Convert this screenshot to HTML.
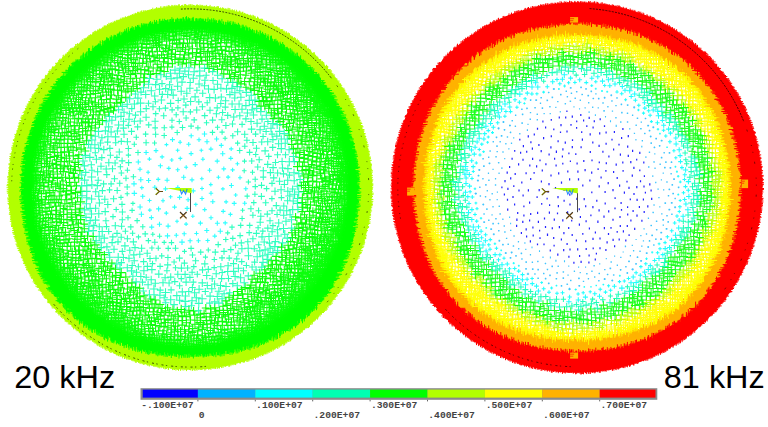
<!DOCTYPE html>
<html><head><meta charset="utf-8"><title>Stress vector plots 20 kHz / 81 kHz</title>
<style>
html,body{margin:0;padding:0;background:#fff}
body{width:768px;height:427px;overflow:hidden;font-family:"Liberation Sans",sans-serif}
svg{display:block}
.t{font-family:"Liberation Sans",sans-serif;font-size:31px;fill:#000}
.m{font-family:"Liberation Mono",monospace;font-size:9.7px;font-weight:bold;fill:#444}
</style></head><body>
<svg width="768" height="427" viewBox="0 0 768 427">
<rect width="768" height="427" fill="#fff"/>
<circle cx="190.2" cy="187.5" r="182.0" fill="#b2ff00"/>
<path d="M359.5 187.5L359.3 178.6L358.6 169.8L357.5 161.0L356.0 152.3L354.0 143.6L351.6 135.1L348.8 126.6L345.5 118.4L341.7 110.3L337.6 102.4L333.0 94.7L328.0 87.3L322.7 80.2L316.9 73.4L310.8 66.9L304.3 60.8L297.5 55.0L290.4 49.7L283.0 44.7L275.3 40.1L267.4 36.0L259.3 32.2L251.1 28.9L242.6 26.1L234.1 23.7L225.4 21.7L216.7 20.2L207.9 19.1L199.1 18.4L190.2 18.2L181.3 18.4L172.5 19.1L163.7 20.2L155.0 21.7L146.3 23.7L137.8 26.1L129.3 28.9L121.1 32.2L113.0 36.0L105.1 40.1L97.4 44.7L90.0 49.7L82.9 55.0L76.1 60.8L69.6 66.9L63.5 73.4L57.7 80.2L52.4 87.3L47.4 94.7L42.8 102.4L38.7 110.3L34.9 118.4L31.6 126.6L28.8 135.1L26.4 143.6L24.4 152.3L22.9 161.0L21.8 169.8L21.1 178.6L20.9 187.5L21.1 196.4L21.6 205.2L22.5 214.1L23.8 222.9L25.5 231.6L27.5 240.4L30.1 249.0L33.0 257.5L36.4 265.8L40.3 274.0L44.7 282.0L49.6 289.7L54.9 297.1L60.7 304.1L67.0 310.7L73.6 317.0L80.6 322.8L88.0 328.1L95.7 333.0L103.7 337.4L111.9 341.3L120.2 344.7L128.7 347.6L137.3 350.2L146.1 352.2L154.8 353.9L163.6 355.2L172.5 356.1L181.3 356.6L190.2 356.8L199.1 356.6L207.9 356.1L216.8 355.2L225.6 353.9L234.3 352.2L243.1 350.2L251.7 347.6L260.2 344.7L268.5 341.3L276.7 337.4L284.7 333.0L292.4 328.1L299.8 322.8L306.8 317.0L313.4 310.7L319.7 304.1L325.5 297.1L330.8 289.7L335.7 282.0L340.1 274.0L344.0 265.8L347.4 257.5L350.3 249.0L352.9 240.4L354.9 231.6L356.6 222.9L357.9 214.1L358.8 205.2L359.3 196.4Z" fill="#00ff00"/>
<path d="M350.2 187.5L350.0 179.1L349.3 170.8L348.2 162.5L346.7 154.2L344.7 146.1L342.4 138.1L339.6 130.2L336.4 122.4L332.8 114.9L328.8 107.5L324.4 100.4L319.6 93.5L314.5 86.8L309.1 80.4L303.3 74.4L297.3 68.6L290.9 63.2L284.2 58.1L277.3 53.3L270.2 48.9L262.8 44.9L255.3 41.3L247.5 38.1L239.6 35.3L231.6 33.0L223.5 31.0L215.2 29.5L206.9 28.4L198.6 27.7L190.2 27.5L181.8 27.7L173.5 28.4L165.2 29.5L156.9 31.0L148.8 33.0L140.8 35.3L132.9 38.1L125.1 41.3L117.6 44.9L110.2 48.9L103.1 53.3L96.2 58.1L89.5 63.2L83.1 68.6L77.1 74.4L71.3 80.4L65.9 86.8L60.8 93.5L56.0 100.4L51.6 107.5L47.6 114.9L44.0 122.4L40.8 130.2L38.0 138.1L35.7 146.1L33.7 154.2L32.2 162.5L31.1 170.8L30.4 179.1L30.2 187.5L30.4 195.9L31.1 204.2L32.2 212.5L33.7 220.8L35.7 228.9L38.0 236.9L40.8 244.8L44.0 252.6L47.6 260.1L51.6 267.5L56.0 274.6L60.8 281.5L65.9 288.2L71.3 294.6L77.1 300.6L83.1 306.4L89.5 311.8L96.2 316.9L103.1 321.7L110.2 326.1L117.6 330.1L125.1 333.7L132.9 336.9L140.8 339.7L148.8 342.0L156.9 344.0L165.2 345.5L173.5 346.6L181.8 347.3L190.2 347.5L198.6 347.3L206.9 346.6L215.2 345.5L223.5 344.0L231.6 342.0L239.6 339.7L247.5 336.9L255.3 333.7L262.8 330.1L270.2 326.1L277.3 321.7L284.2 316.9L290.9 311.8L297.3 306.4L303.3 300.6L309.1 294.6L314.5 288.2L319.6 281.5L324.4 274.6L328.8 267.5L332.8 260.1L336.4 252.6L339.6 244.8L342.4 236.9L344.7 228.9L346.7 220.8L348.2 212.5L349.3 204.2L350.0 195.9Z" fill="#fff"/>
<radialGradient id="g11" gradientUnits="userSpaceOnUse" cx="190.2" cy="187.5" r="160.0"><stop offset="0.9250" stop-color="#00ff00" stop-opacity="0"/><stop offset="0.9700" stop-color="#00ff00" stop-opacity=".45"/><stop offset="1" stop-color="#00ff00" stop-opacity="1"/></radialGradient>
<circle cx="190.2" cy="187.5" r="160.3" fill="url(#g11)"/>
<path d="M325 176.2h8.7M329.3 171.9v8.7M53.5 123h7.2M57.1 119.4v7.2M249 37.2h9.3M253.6 32.6v9.3M195.3 43h8.5M199.5 38.8v8.5M84.1 102.9h9M88.6 98.4v9M31.8 175.7h8.5M36.1 171.4v8.5M298 255.7h7.7M301.8 251.8v7.7M117.5 46.5h7.1M121 43v7.1M299.4 150.3h9M303.9 145.8v9M320.3 177.7h8.9M324.8 173.2v8.9M343.3 153.9h8.8M347.8 149.4v8.8M46.2 230h7.9M50.2 226v7.9M276.8 112h9.4M281.6 107.3v9.4M50.5 132.6h8.6M54.8 128.3v8.6M60.5 104.3h8.8M64.9 99.9v8.8M282.9 81.8h9.4M287.6 77.1v9.4M84 263.6h9.5M88.7 258.8v9.5M64.5 234.6h9.2M69.2 230v9.2M60.7 161.5h7.4M64.4 157.8v7.4M91.3 112h9.4M96 107.3v9.4M122 313.7h7.8M126 309.8v7.8M302.3 234h8.3M306.4 229.8v8.3M92 108.2h8.3M96.1 104.1v8.3M118.8 47.6h9.3M123.4 42.9v9.3M51 214.6h9.6M55.8 209.9v9.6M336.3 182.2h9M340.8 177.7v9M210.3 307.7h8.8M214.7 303.3v8.8M81.9 74.1h8.5M86.2 69.8v8.5M104.3 85.8h7.5M108 82v7.5M310.8 221.5h9.5M315.6 216.7v9.5M160.8 57.6h7.3M164.4 53.9v7.3M100.8 254.6h7.1M104.4 251v7.1M106.9 293.7h7.2M110.5 290.1v7.2M79.6 259.8h8.3M83.7 255.6v8.3M168.8 43.3h7.3M172.4 39.7v7.3M80 144.5h8.1M84 140.4v8.1M209.1 66.7h9.5M213.9 61.9v9.5M140.7 315.7h8.5M145 311.5v8.5M29.3 232.2h7.8M33.2 228.3v7.8M46.4 202.6h9M50.9 198.1v9M264.3 318.8h7.3M267.9 315.1v7.3M304.7 211.4h9.4M309.4 206.7v9.4M48.5 233.2h8.1M52.5 229.2v8.1M49.2 269.6h8.9M53.7 265.1v8.9M31.7 220.7h8.5M36 216.5v8.5M223.6 325.4h8.4M227.8 321.2v8.4M88.3 79.1h8.7M92.6 74.8v8.7M319.7 240h7.2M323.3 236.4v7.2M167.1 316h8M171.2 312v8M311.3 149.6h7.2M314.9 146v7.2M66.3 186.3h9.2M70.9 181.7v9.2M296.6 301.9h8.3M300.8 297.7v8.3M255.2 335.1h8.5M259.5 330.8v8.5M113.1 79h7.8M117 75.1v7.8M125.6 298.7h8.1M129.6 294.7v8.1M344.7 171.9h7.2M348.3 168.3v7.2M122.8 283.1h9.5M127.6 278.3v9.5M170.9 31.6h8.9M175.4 27.1v8.9M293.7 101.4h9.3M298.3 96.7v9.3M246.5 88.9h8.5M250.7 84.6v8.5M26.1 178.4h7.3M29.7 174.7v7.3M256.4 82.2h8M260.4 78.2v8M328.3 260.4h7.5M332.1 256.7v7.5M64.9 172.3h7.9M68.8 168.3v7.9M227.3 322h8.2M231.4 317.9v8.2M310.4 284.8h8.4M314.6 280.6v8.4M331.4 175.6h9.1M335.9 171v9.1M258.7 291.9h8.6M263 287.6v8.6M92.3 318.7h7.6M96.2 314.9v7.6M127.8 322h7M131.3 318.5v7M302.1 137.8h9.6M306.9 133v9.6M48.6 168.1h9.4M53.3 163.4v9.4M182.5 32.8h7.1M186.1 29.3v7.1M297.4 249.6h8.7M301.7 245.3v8.7M332.8 185.1h7.2M336.4 181.5v7.2M298.2 207.2h9.4M302.9 202.5v9.4M90.1 302.6h8.7M94.5 298.2v8.7M339.3 195.4h9.1M343.8 190.9v9.1M221 32.6h7.5M224.7 28.8v7.5M339.9 192.8h8.4M344.2 188.5v8.4M248.8 45.1h8.1M252.8 41.1v8.1M63.6 165.7h8.6M67.8 161.5v8.6M86.3 98h7.2M89.9 94.4v7.2M56.5 263.2h8.1M60.6 259.2v8.1M61.8 190.9h9.4M66.5 186.3v9.4M301.2 224.1h8.4M305.4 220v8.4M303.7 99.8h7M307.2 96.3v7M265.1 289.3h8.2M269.2 285.2v8.2M318.3 127.1h7.9M322.3 123.2v7.9M125.1 326.2h8.9M129.5 321.7v8.9M100.1 261.8h9.1M104.7 257.2v9.1M107.1 55.3h8.5M111.3 51.1v8.5M294.4 161.8h9.5M299.2 157v9.5M280.7 64.8h9.1M285.3 60.3v9.1M245.9 322.4h8.3M250 318.3v8.3M82.3 90.4h8.9M86.7 85.9v8.9M219.8 27.8h7.1M223.3 24.3v7.1M251.4 300.4h9.5M256.1 295.7v9.5M85.8 77.6h8.7M90.2 73.3v8.7M190.3 28.6h8.1M194.3 24.5v8.1M315.4 286.5h7.5M319.2 282.7v7.5M253.6 305.8h7.4M257.3 302.1v7.4M107.1 322.4h7.7M110.9 318.6v7.7M266.5 278.7h7.7M270.4 274.8v7.7M250.1 275.2h8.1M254.1 271.1v8.1M259.1 46.6h8.2M263.2 42.6v8.2M144.8 55.8h9.2M149.4 51.2v9.2M104.5 320.6h8.1M108.5 316.5v8.1M338.7 209.8h9.4M343.4 205.1v9.4M74.3 178.2h8.8M78.7 173.9v8.8M222.1 42.7h9.1M226.7 38.2v9.1M331.8 161.5h8.8M336.2 157.1v8.8M74 271h7.2M77.6 267.4v7.2M149.3 317.9h9.6M154.1 313.1v9.6M193.3 330.9h9.1M197.9 326.4v9.1M220.2 61.3h8M224.2 57.3v8M195.4 64.3h8M199.4 60.3v8M262.4 101.7h9.2M267 97.1v9.2M269.6 85.8h7.5M273.3 82v7.5M226.6 57.1h8.1M230.7 53.1v8.1M199.4 47.3h9M203.9 42.8v9M50.1 245.3h9M54.6 240.8v9M265.9 298.5h9.3M270.5 293.9v9.3M274.4 93.4h7.9M278.4 89.5v7.9M287.6 144.5h8.5M291.8 140.3v8.5M267.3 325.5h7.2M270.9 321.9v7.2M48.6 123.1h8.8M53 118.7v8.8M114.6 70.4h8.7M119 66v8.7M142.1 62h8.6M146.4 57.7v8.6M321.8 167.2h8.1M325.8 163.1v8.1M285.8 123.5h7.7M289.6 119.6v7.7M80.3 272.4h7.7M84.1 268.6v7.7M310.7 115.8h8.8M315.1 111.4v8.8M28.9 192.6h9.2M33.5 188v9.2M339.4 237.1h7.6M343.2 233.3v7.6M68.9 268.1h9M73.4 263.6v9M94.4 274.5h8.1M98.5 270.5v8.1M339.3 244h8.9M343.8 239.6v8.9M322.5 158.2h7.7M326.3 154.3v7.7M292.7 242.2h9M297.2 237.7v9M301.6 287.8h9.2M306.1 283.2v9.2M336.9 233.5h7M340.4 230v7M159.5 71.5h9.3M164.1 66.8v9.3M41.2 124.7h8.9M45.6 120.2v8.9M59.3 236h9.1M63.9 231.5v9.1M276.5 82.4h8.4M280.7 78.2v8.4M42.4 174h8.5M46.6 169.7v8.5M213.8 321.7h8M217.8 317.7v8M83 94.8h7.5M86.7 91v7.5M82.8 115.7h8.2M86.9 111.6v8.2M107.9 314.6h7.5M111.6 310.8v7.5M322.3 135.7h7.6M326.1 131.9v7.6M201.1 337.4h9.3M205.7 332.8v9.3M73.4 75h8.7M77.8 70.6v8.7M306.9 192.8h8.8M311.3 188.4v8.8M71.9 276.2h7.3M75.6 272.5v7.3M300 293.1h7.5M303.7 289.4v7.5M48.7 112h9.1M53.2 107.5v9.1M256.5 55.4h9.4M261.2 50.7v9.4M335.1 215.9h9M339.6 211.4v9M303.4 123.1h8M307.4 119.1v8M293.1 91.9h8.3M297.2 87.7v8.3M73.6 296.4h8.5M77.9 292.1v8.5M57 152.8h7.7M60.9 149v7.7M173.5 340.6h8.4M177.7 336.4v8.4M294.6 238h7.5M298.4 234.3v7.5M254.7 101.4h8.8M259.1 97v8.8M284.7 91.3h7.5M288.4 87.6v7.5M105.7 89.1h9.2M110.3 84.5v9.2M332.6 208.1h7.1M336.2 204.5v7.1M296.1 217.9h9.2M300.7 213.3v9.2M51.6 97.8h8.3M55.8 93.7v8.3M155.5 47.3h8.4M159.6 43.2v8.4M323.7 163.6h9M328.2 159.1v9M273 292.8h9.4M277.7 288.1v9.4M157.8 28.6h7.2M161.4 25v7.2M57.2 147.4h7.7M61.1 143.5v7.7M292.5 224.1h8.7M296.9 219.7v8.7M318 203.3h8.8M322.4 198.9v8.8M68.4 257.5h8.5M72.7 253.2v8.5M346.4 192.8h7M349.9 189.3v7M256.6 297.6h8.5M260.8 293.3v8.5M48.9 103.7h9.2M53.5 99.1v9.2M129.9 328.2h8.6M134.2 324v8.6M62.9 294h7M66.4 290.5v7M116.7 317.7h8.3M120.9 313.6v8.3M294 84.4h9.4M298.7 79.7v9.4M68.3 150.2h9.6M73.1 145.4v9.6M233.1 35.9h7.3M236.7 32.3v7.3M242.6 71h7.3M246.3 67.3v7.3M336.9 220.3h7.9M340.9 216.4v7.9M271 270.1h7.7M274.8 266.2v7.7M181.7 349.7h7.7M185.5 345.9v7.7M297.1 304h8.1M301.1 299.9v8.1M207.8 320.4h8.1M211.8 316.4v8.1M164.3 320.1h7.4M168 316.4v7.4M127.6 41.4h7.6M131.4 37.6v7.6M260.1 318.7h8.2M264.2 314.6v8.2M216.3 46.4h9.1M220.8 41.8v9.1M38.9 251.4h8.6M43.2 247.1v8.6M240.6 307.7h7.9M244.6 303.7v7.9M95.2 268.4h7.4M98.9 264.7v7.4M54.3 283.4h8.5M58.5 279.2v8.5M62.2 199.8h9.2M66.8 195.3v9.2M129.2 44h7.1M132.7 40.5v7.1M213.9 38.6h8.7M218.2 34.2v8.7M119.5 326.1h7.1M123.1 322.6v7.1M296.9 139.7h8.4M301 135.5v8.4M84.8 312.2h8.5M89 307.9v8.5M255.9 67.7h8.3M260.1 63.6v8.3M250.5 331.1h7.9M254.5 327.2v7.9M168.1 49.4h8.3M172.2 45.2v8.3M95.5 124.2h7.8M99.4 120.3v7.8M254.8 87.9h9M259.3 83.4v9M81.4 100.7h8.3M85.6 96.6v8.3M311.6 217h9.4M316.3 212.3v9.4M325.8 242.3h8.8M330.2 237.9v8.8M196.4 38.4h7.7M200.3 34.5v7.7M104.3 287h8.5M108.5 282.7v8.5M50.8 117h8.1M54.8 113v8.1M270 104.2h8M274.1 100.1v8M148.7 328.3h7.4M152.4 324.6v7.4M277.4 77.7h9M281.9 73.2v9M280.4 283h7.6M284.2 279.2v7.6M186.3 35.1h7.1M189.9 31.5v7.1M27.8 186.2h8.4M32 182v8.4M108.3 285.4h8.2M112.4 281.3v8.2M281.4 101.6h8.8M285.8 97.2v8.8M70.1 125.5h8.1M74.2 121.5v8.1M36.4 126.6h7.3M40.1 122.9v7.3M77.8 107.1h9.4M82.5 102.4v9.4M74.6 250h8M78.6 246v8M294 281.5h9.4M298.7 276.8v9.4M41.6 158.2h9.3M46.3 153.5v9.3M161.1 48.6h8.5M165.4 44.3v8.5M271.8 264.3h9.5M276.6 259.5v9.5M96.9 106.6h9.4M101.6 101.8v9.4M173.4 329.3h8.3M177.6 325.2v8.3M343.8 223.9h8.4M348 219.7v8.4M34.9 155.7h8.7M39.2 151.4v8.7M235.2 42.7h8.3M239.3 38.5v8.3M304.9 217.2h9.7M309.7 212.4v9.7M312.4 175.2h9M316.9 170.7v9M150.6 300h9M155.1 295.5v9M76.2 90.3h7.4M79.9 86.6v7.4M305.1 90.6h8.2M309.2 86.5v8.2M147.3 47.4h9.1M151.8 42.8v9.1M81.8 109.5h8.2M85.9 105.4v8.2M140.4 73.9h8.4M144.6 69.6v8.4M329.4 141.5h8.1M333.4 137.4v8.1M217 33.9h8.9M221.5 29.5v8.9M70 90.7h9M74.5 86.2v9M306.5 97.6h7.6M310.2 93.9v7.6M30 230.3h8.5M34.2 226v8.5M241.6 325h9.1M246.1 320.4v9.1M93.1 249.6h8M97.1 245.6v8M241.1 336.8h7.6M244.8 333v7.6M307.4 100.4h7.2M311 96.8v7.2M229.5 53h8.4M233.7 48.8v8.4M41.3 149.2h9.3M45.9 144.6v9.3M113.8 75.5h8.4M118 71.3v8.4M76.9 241.7h8M80.9 237.7v8M100.9 54h7.9M104.9 50.1v7.9M71.5 214.6h8.2M75.7 210.5v8.2M40.1 186h8.1M44.1 182v8.1M314.4 209.1h8.6M318.7 204.8v8.6M223.4 336.6h9.3M228 332v9.3M112.5 295.6h8.5M116.8 291.3v8.5M340.2 132.9h7.5M344 129.1v7.5M136 314.2h7.8M139.9 310.3v7.8M74.6 227.4h7.8M78.5 223.5v7.8M128.5 81.8h8.7M132.8 77.5v8.7M191.1 64.8h7.2M194.7 61.3v7.2M55.3 254.7h8.9M59.7 250.2v8.9M58.8 171.6h8.9M63.2 167.2v8.9M74.8 307.6h9.4M79.5 303v9.4M256.3 106.1h9.4M261 101.4v9.4M298.6 295.3h8.1M302.6 291.2v8.1M294.8 286.3h7.9M298.8 282.4v7.9M63.4 147.1h7.7M67.3 143.3v7.7M213.9 332.1h8.7M218.3 327.8v8.7M37.8 257.5h8.7M42.2 253.1v8.7M284.5 298.6h8.6M288.8 294.3v8.6M344.4 151.2h7.1M348 147.7v7.1M284 71.7h9.2M288.7 67.1v9.2M328.5 106h7.9M332.4 102v7.9M182.2 63h8.3M186.4 58.8v8.3M314.2 125h9.5M319 120.2v9.5M88.6 308h7.9M92.5 304v7.9M41.5 204.1h7.2M45.1 200.5v7.2M113.2 331.5h7.8M117.1 327.6v7.8M260.1 81.2h7.9M264 77.3v7.9M281.8 264.7h8.6M286.1 260.4v8.6M293.1 275.3h9.1M297.7 270.7v9.1M333.3 155.4h9.3M337.9 150.8v9.3M237.9 289.4h7.5M241.7 285.7v7.5M265.9 92.8h7.2M269.5 89.2v7.2M245.6 81.7h7.4M249.3 78v7.4M25.8 188.3h7.1M29.3 184.8v7.1M198.2 335.9h8.4M202.4 331.7v8.4M88.9 312.3h8.9M93.3 307.8v8.9M162.6 339.3h9.3M167.3 334.6v9.3M333.3 129.2h7.5M337 125.4v7.5M81.7 140.7h9.3M86.4 136v9.3M223.9 314.6h9M228.3 310.2v9M302.8 229.7h8.6M307.1 225.4v8.6M191.6 34.1h7.2M195.2 30.4v7.2M176 349.2h8M179.9 345.2v8M153.8 308h8.5M158.1 303.8v8.5M297.9 236.4h7.7M301.8 232.6v7.7M307.6 256.9h7.9M311.6 253v7.9M305.8 87.8h8.7M310.1 83.4v8.7M302.9 276.3h7.5M306.7 272.6v7.5M201.9 320.6h8.9M206.4 316.1v8.9M33.8 136.9h9M38.3 132.4v9M306.3 297h7.2M309.9 293.4v7.2M61.2 83.1h7.1M64.7 79.6v7.1M225 319.3h7.2M228.6 315.7v7.2M309.4 262.2h8.6M313.7 257.9v8.6M86.3 242.7h9.1M90.8 238.2v9.1M163.2 28.5h8.5M167.5 24.3v8.5M80.8 65.5h9.4M85.5 60.8v9.4M330.5 223.6h8.8M334.9 219.2v8.8M70.4 230.5h7.6M74.2 226.8v7.6M188.3 332.4h8.1M192.3 328.3v8.1M115.7 309.7h7.8M119.6 305.8v7.8M115.5 303.8h9.3M120.2 299.1v9.3M328.7 150.6h7.5M332.4 146.9v7.5M166.7 336.6h8.3M170.8 332.4v8.3M157.3 66.9h7.8M161.2 63v7.8M316.1 106h7.6M319.9 102.2v7.6M290.7 302.4h9.3M295.3 297.7v9.3M51.1 142.8h8.1M55.2 138.7v8.1M265.5 50.9h8M269.5 46.9v8M76.7 236.4h8.5M80.9 232.1v8.5M261.2 278h9.4M265.9 273.3v9.4M61.1 177.2h8.6M65.5 172.9v8.6M29.7 138.7h8.9M34.1 134.2v8.9M58.7 282.4h8M62.7 278.4v8M62.4 209.8h9.4M67.1 205.1v9.4M277.2 104.4h8.1M281.2 100.4v8.1M158.4 41.3h7.2M162 37.7v7.2M301.4 74.3h7.2M305 70.7v7.2M72.3 291.9h8.7M76.6 287.6v8.7M73.2 197.7h8.6M77.5 193.4v8.6M233.1 301.5h8M237.1 297.5v8M37.1 160h8.5M41.3 155.8v8.5M48.3 109.1h7.2M51.9 105.5v7.2M237.1 314.3h7.2M240.7 310.7v7.2M186.5 320h8.1M190.5 315.9v8.1M264 108.2h9.3M268.7 103.6v9.3M42.9 196.6h7.1M46.4 193.1v7.1M94.8 56h8.8M99.2 51.6v8.8M25.5 156.9h7.3M29.1 153.2v7.3M216.8 338.6h8M220.8 334.6v8M104.1 112.1h9.5M108.8 107.4v9.5M304.2 155.5h8.2M308.3 151.3v8.2M295.2 131.1h7.4M298.9 127.5v7.4M125.7 292.3h9.2M130.3 287.6v9.2M38.2 228.4h7.5M41.9 224.6v7.5M203.6 327.7h7.4M207.3 324v7.4M231.7 30.8h8M235.7 26.8v8M60.8 128.4h8.2M64.9 124.3v8.2M263.1 46.9h8.2M267.2 42.9v8.2M124.4 336.4h7.1M127.9 332.8v7.1M176.8 33.8h8.7M181.1 29.4v8.7M243.9 327.9h7.1M247.4 324.4v7.1M56.3 267h8.7M60.7 262.6v8.7M76.8 215.6h8M80.8 211.7v8M75.9 138.2h8.2M79.9 134.1v8.2M108 263.1h7.7M111.9 259.2v7.7M205.4 343.5h8.6M209.7 339.2v8.6M320.1 173h8.8M324.6 168.6v8.8M268.9 57.1h8.6M273.2 52.8v8.6M122.9 301.5h7.7M126.7 297.6v7.7M131.2 73.2h8.5M135.4 68.9v8.5M278.6 95.2h9.6M283.4 90.4v9.6M65.2 182.5h8.3M69.4 178.4v8.3M239 325h7.4M242.7 321.3v7.4M331.4 189.4h8.6M335.7 185v8.6M237.1 47h9.2M241.7 42.4v9.2M207.1 62.8h9.2M211.7 58.2v9.2M240.9 45.8h7.6M244.8 41.9v7.6M31.8 210.8h8.3M35.9 206.6v8.3M302.9 280.9h7.6M306.7 277.1v7.6M192.5 48.8h9.3M197.1 44.2v9.3M180.9 49.3h9.3M185.6 44.7v9.3M341.3 207.7h7.7M345.2 203.8v7.7M66.7 122h7.4M70.4 118.3v7.4M192.7 338.2h7.5M196.5 334.4v7.5M270.2 288.5h8.8M274.6 284.1v8.8M295.2 157.2h8.8M299.5 152.8v8.8M99.4 312.8h7.4M103.1 309v7.4M80.3 72.7h7M83.8 69.2v7M105.8 311.2h7.9M109.8 307.2v7.9M47.9 273.9h8.2M52 269.8v8.2M101.7 95h9.4M106.4 90.3v9.4M158 348.2h8.3M162.1 344v8.3M148.7 68h8.9M153.2 63.5v8.9M280.5 280.1h9.5M285.2 275.4v9.5M134.8 328.8h7M138.3 325.3v7M66.8 246h7.9M70.7 242v7.9M333.2 172.3h8.7M337.6 168v8.7M135.8 39.7h8.7M140.2 35.3v8.7M122.8 83.5h8.1M126.9 79.4v8.1M325.5 188.7h7.6M329.3 185v7.6M74 131.9h9.5M78.8 127.1v9.5M299.8 176h7.8M303.7 172.2v7.8M79.2 265h7.5M83 261.3v7.5M94.1 285.6h8.3M98.3 281.5v8.3M321.4 100h9.1M325.9 95.5v9.1M189.1 346.4h8M193.1 342.4v8M117.1 79.6h7.6M120.9 75.8v7.6M258.7 100.6h9.6M263.5 95.8v9.6M332.5 116.7h8.9M337 112.2v8.9M53.9 248.9h8.1M58 244.9v8.1M185 326.1h8.5M189.3 321.8v8.5M22.8 186.4h7.9M26.7 182.4v7.9M50.9 186.7h9.5M55.7 181.9v9.5M204.5 333.7h7.6M208.3 330v7.6M117.4 299.4h8.2M121.5 295.3v8.2M86.3 94.1h8.7M90.6 89.7v8.7M246.4 285.1h9M250.9 280.6v9M254.8 289.1h9.6M259.6 284.3v9.6M289.7 123h7.4M293.4 119.3v7.4M102.4 325.1h7.7M106.3 321.3v7.7M222.4 322.3h8M226.4 318.3v8M328.5 234.8h7.2M332.1 231.2v7.2M43.2 242.3h8.2M47.4 238.2v8.2M308 125.4h8M312 121.4v8M82.4 251.2h9.6M87.2 246.4v9.6M226.8 64.6h7.3M230.5 60.9v7.3M260.2 42.7h8.7M264.6 38.4v8.7M306.1 275.6h9.4M310.8 270.9v9.4M279.4 310h8.9M283.8 305.6v8.9M208.9 332.9h7.9M212.9 329v7.9M283.4 98.5h7.5M287.2 94.8v7.5M83 236h9.3M87.6 231.4v9.3M246.7 332.5h9.2M251.3 327.9v9.2M320.8 118.8h8.7M325.2 114.5v8.7M334.9 226.7h7.2M338.5 223.1v7.2M333.5 233.3h7.8M337.4 229.4v7.8M232.6 331.3h7.7M236.5 327.4v7.7M317.8 105.9h8.9M322.2 101.4v8.9M200 350.6h7.5M203.7 346.9v7.5M71.4 204.3h8.3M75.5 200.2v8.3M163.8 58.5h8.5M168 54.2v8.5M178.4 336.6h7M182 333.1v7M45.1 111.9h8.9M49.5 107.4v8.9M176.9 29h9.4M181.6 24.3v9.4M46.2 151.7h7.9M50.1 147.8v7.9M175.7 58.1h8.3M179.9 54v8.3M61.4 123.3h8.4M65.5 119.1v8.4M94.8 307.4h7.7M98.7 303.6v7.7M152.3 314.5h9.5M157 309.7v9.5M121.3 277h9M125.8 272.5v9M145.7 318h7.6M149.5 314.2v7.6M199 344.9h8.1M203 340.9v8.1M27.4 160h8.5M31.7 155.7v8.5M273.2 108.6h8.7M277.6 104.3v8.7M42.2 214.7h7.2M45.8 211.1v7.2M291 298.1h9.1M295.6 293.6v9.1M255.2 273.3h9.1M259.8 268.8v9.1M315.3 241.1h8M319.3 237.1v8M117.2 287.9h7.7M121 284v7.7M195.4 348.6h9.2M200 344v9.2M208.3 336.2h9.3M213 331.6v9.3M293.2 148.2h9.4M297.9 143.5v9.4M198.6 31.4h7.7M202.4 27.6v7.7M104.5 81.9h7.2M108.1 78.3v7.2M291.2 305.4h7.2M294.8 301.8v7.2M91.5 254.2h8M95.5 250.2v8M309.9 95.1h8.8M314.3 90.7v8.8M322.5 245.6h7.8M326.4 241.7v7.8M253.4 94.4h9M257.9 89.9v9M96.6 259.2h9.2M101.2 254.6v9.2M219.4 306.3h7.3M223 302.7v7.3M80.1 112.9h7.9M84.1 109v7.9M110.7 60.6h7.3M114.3 56.9v7.3M312.9 270.8h8.4M317.2 266.6v8.4M281.2 316.3h7.4M284.9 312.6v7.4M115.4 86.2h8.9M119.9 81.8v8.9M307.3 297.7h7.6M311.1 293.9v7.6M46.2 104.5h8.7M50.6 100.1v8.7M340.1 201.8h9.2M344.7 197.2v9.2M232.4 59.8h7.1M236 56.2v7.1M316.9 244.6h9.1M321.5 240.1v9.1M132.1 337.7h7.2M135.7 334v7.2M204.8 56.7h9.3M209.5 52.1v9.3M289.5 261h7.7M293.3 257.1v7.7M291.6 106.3h9.5M296.4 101.5v9.5M184.3 341.1h8.5M188.6 336.9v8.5M101.2 115h7.4M104.9 111.3v7.4M344 145.3h9.1M348.6 140.7v9.1M272.1 260.4h7.4M275.8 256.7v7.4M70.7 76.7h8M74.7 72.7v8M58.7 117.5h8.8M63.1 113.1v8.8M85.1 60.3h7.4M88.8 56.6v7.4M77.7 78.8h7.2M81.3 75.2v7.2M70.5 209.8h9.5M75.3 205.1v9.5M252 326.8h7.3M255.6 323.2v7.3M264.6 307.5h9M269.1 303v9M211.1 315.4h8.8M215.5 311v8.8M237.5 338.5h7.6M241.3 334.7v7.6M69.1 155.9h8.5M73.3 151.7v8.5M249.7 85.7h8.1M253.8 81.7v8.1M301.1 88.7h7.1M304.7 85.1v7.1M231 44.9h8.6M235.4 40.6v8.6M247.4 73.3h7.3M251 69.7v7.3M242.7 341h9.4M247.4 336.3v9.4M293 247.8h7.3M296.6 244.1v7.3M135.2 63h8M139.2 59v8M311.7 205.2h8.9M316.2 200.8v8.9M116 277.5h8.6M120.3 273.2v8.6M150.9 325.5h9.5M155.6 320.7v9.5M70.6 162.4h9M75.1 157.9v9M312.8 181.9h7.9M316.7 178v7.9M43.1 244.9h8.5M47.3 240.7v8.5M220.4 40.2h8.5M224.7 35.9v8.5M329.1 133.4h7.8M333 129.5v7.8M68.7 279.4h9.4M73.4 274.7v9.4M318 282.8h7.2M321.6 279.3v7.2M120.7 324.2h8.5M125 320v8.5M318.7 284.2h7.8M322.5 280.3v7.8M35.9 188.8h7.3M39.6 185.2v7.3M67.6 202.7h9M72.1 198.2v9M125.8 78.7h9.1M130.3 74.2v9.1M266.4 272.6h7.5M270.1 268.8v7.5M174.6 62.3h7.4M178.2 58.6v7.4M341.9 222.1h7.9M345.9 218.2v7.9M64.6 254h7.6M68.4 250.2v7.6M300 285.8h7.8M303.9 281.9v7.8M243.2 300.2h9.6M248 295.4v9.6M55.3 285.4h7.8M59.2 281.5v7.8M324.5 122.8h7.8M328.4 118.9v7.8M146.3 61.9h8M150.3 57.9v8M106.1 272.5h7.2M109.7 268.9v7.2M96.3 311.4h8M100.3 307.4v8M88.6 118.9h7.5M92.3 115.1v7.5M128.4 86.3h9.5M133.2 81.6v9.5M26.8 172.2h8.7M31.2 167.8v8.7M33.8 161.6h7.7M37.6 157.8v7.7M137.7 342.4h9M142.2 337.9v9M139.8 326.1h8.8M144.2 321.7v8.8M63 288.5h9M67.5 283.9v9M51.9 206.3h7.7M55.8 202.4v7.7M347.8 213.1h7.6M351.6 209.3v7.6M242.2 75.3h7.2M245.8 71.7v7.2M280.6 294.2h8.6M284.9 289.9v8.6M336.1 125h9.2M340.7 120.4v9.2M243.5 58.5h8.5M247.8 54.3v8.5M66.8 88.3h9M71.3 83.8v9M270.6 291.8h7.2M274.2 288.2v7.2M98.4 318.7h7.2M102.1 315.1v7.2M63.6 139.1h8.8M68 134.7v8.8M37.2 150.4h7.6M41 146.6v7.6M140.3 34.2h7.4M144 30.5v7.4M48.6 163.2h7.4M52.3 159.4v7.4M67.5 217.1h7.3M71.2 213.5v7.3M84.3 126.9h7.7M88.2 123.1v7.7M282.8 109.3h7.4M286.5 105.7v7.4M285.6 63.3h9M290.1 58.8v9M89.5 318h7.1M93.1 314.5v7.1M38.2 117.2h9.1M42.8 112.6v9.1M331.3 218.7h8.2M335.4 214.6v8.2M309.7 141.7h9.5M314.5 136.9v9.5M282.6 297.6h7.1M286.1 294.1v7.1M315.5 261.6h7.8M319.4 257.7v7.8M218.3 321.4h8.3M222.5 317.3v8.3M38.8 179.3h7.3M42.5 175.7v7.3M145.3 334.6h8M149.3 330.6v8M75.8 208.2h8.8M80.2 203.8v8.8M262.8 311.8h8M266.8 307.8v8M48.2 256.2h9.1M52.8 251.6v9.1M262.5 43.4h7.3M266.1 39.7v7.3M328.2 196.6h9.2M332.8 192.1v9.2M33 180.8h8.4M37.2 176.6v8.4M133.3 57.7h7.6M137.1 53.9v7.6M57.7 132.9h9M62.2 128.4v9M90.8 263.2h8.1M94.9 259.2v8.1M100.3 103h7.2M103.9 99.4v7.2M280.3 317.9h7.8M284.2 314v7.8M91.1 97.7h8.9M95.5 93.3v8.9M207.6 47.9h8.9M212.1 43.4v8.9M262.1 297.6h8.2M266.2 293.5v8.2M42.3 263.1h8M46.3 259.1v8M182.5 316.6h7.5M186.2 312.9v7.5M347.5 170.1h7.4M351.2 166.4v7.4M96.8 96.1h7.6M100.6 92.4v7.6M133 46.9h9M137.5 42.4v9M239.9 41.2h8.2M244 37.1v8.2M172.8 28.3h8.3M177 24.1v8.3M304.8 224.3h8.9M309.3 219.8v8.9M294.2 228.4h9M298.7 223.9v9M345 218.1h8.8M349.4 213.7v8.8M346.6 175.1h9.1M351.2 170.6v9.1M316.4 153.6h8.2M320.5 149.6v8.2M248.8 55.4h7.9M252.8 51.4v7.9M62.9 219.6h8.2M67 215.5v8.2M121.1 317.2h8M125.1 313.2v8M289.7 276.1h8M293.7 272.1v8M306.5 266.6h7.8M310.4 262.7v7.8M107.2 95h8.3M111.4 90.9v8.3M168.3 32.6h8.5M172.6 28.4v8.5M194.6 327h8.4M198.8 322.8v8.4M244.5 61.7h8.2M248.6 57.6v8.2M335.9 120.6h7.4M339.6 116.9v7.4M196.1 57.2h9.5M200.8 52.5v9.5M31.7 223.4h8.5M35.9 219.1v8.5M246.8 296.7h9.6M251.6 291.9v9.6M199.8 40.3h7.8M203.7 36.4v7.8M142.8 322h8.7M147.2 317.6v8.7M44 120.4h8.4M48.2 116.2v8.4M138.3 50.5h7.8M142.2 46.6v7.8M238.4 55.1h7.2M242 51.5v7.2M51.9 251.1h7.4M55.6 247.4v7.4M149.8 346.4h8.6M154 342.1v8.6M284.7 294.7h8.4M288.9 290.4v8.4M245.8 288.7h8M249.8 284.7v8M182.3 322.7h8.1M186.4 318.6v8.1M295.7 295.4h8.7M300 291.1v8.7M285.8 94.3h9.5M290.5 89.6v9.5M163.9 307.7h7.3M167.6 304v7.3M334.5 189.4h8.2M338.6 185.3v8.2M289.8 266h9.2M294.5 261.4v9.2M172.3 44.1h8.6M176.6 39.8v8.6M306 205h9.1M310.5 200.5v9.1M74.9 114.1h7.3M78.6 110.5v7.3M27.5 212.5h7.4M31.2 208.8v7.4M320.8 268.6h9M325.3 264v9M116.5 272.6h9.3M121.2 268v9.3M244.9 316h7.6M248.7 312.2v7.6M135 336.5h9.2M139.6 331.9v9.2M55.5 278.2h7M59 274.7v7M68.8 271.1h8M72.8 267.1v8M220.2 330.3h7.9M224.2 326.3v7.9M232.4 306.9h8.8M236.8 302.5v8.8M31.5 143.9h7.7M35.3 140v7.7M80.1 282.3h9.1M84.7 277.8v9.1M112.8 90.1h9.5M117.6 85.3v9.5M214.2 343.2h8.1M218.2 339.2v8.1M273.3 118.1h9.7M278.2 113.2v9.7M343.6 186h9.4M348.3 181.3v9.4M148.2 52h8.3M152.4 47.9v8.3M27.4 217.4h9.1M31.9 212.9v9.1M339.9 181.3h8.8M344.3 176.8v8.8M76 191.2h9.5M80.8 186.5v9.5M139.7 77.8h7.9M143.7 73.8v7.9M191.4 350.4h8.7M195.8 346.1v8.7M128.4 336.6h7.7M132.3 332.8v7.7M201.8 308h7.9M205.8 304v7.9M37.4 236h8M41.4 232v8M74.7 99.5h7.5M78.5 95.8v7.5M283.1 287.4h8.1M287.2 283.3v8.1M106.2 305.7h7.8M110.2 301.7v7.8M108.2 308.9h9.4M112.9 304.2v9.4M290.3 113.9h8.7M294.7 109.5v8.7M178.9 59.5h9.3M183.5 54.9v9.3M325.6 181.9h7.4M329.3 178.2v7.4M285.7 113.2h9.2M290.3 108.6v9.2M215.4 53.5h7.1M218.9 50v7.1M349.2 172.8h7.6M353 169v7.6M86.3 109.9h8.3M90.5 105.7v8.3M70.8 246.3h7.5M74.5 242.6v7.5M277.4 57.5h9.4M282.1 52.8v9.4M115 332.9h8.6M119.3 328.6v8.6M153.1 64.3h8.3M157.2 60.1v8.3M23.7 181.5h9.4M28.4 176.8v9.4M56.1 184.9h9.1M60.6 180.4v9.1M332.9 180.9h8.4M337.2 176.7v8.4M264.5 74.7h8.2M268.5 70.6v8.2M94.4 65.3h8.9M98.9 60.9v8.9M339.1 144.2h7M342.6 140.7v7M239 38.4h9.2M243.6 33.8v9.2M99 278.9h7.3M102.7 275.3v7.3M273.9 100.3h7.9M277.8 96.3v7.9M298.2 197.8h8.4M302.4 193.6v8.4M103.9 57.1h7M107.4 53.6v7M250.3 314h8.9M254.8 309.6v8.9M274.1 288.9h7.9M278 284.9v7.9M281.4 115.2h8.6M285.7 110.9v8.6M330.6 244.5h7.1M334.1 240.9v7.1M53.5 147.8h7.3M57.2 144.1v7.3M67.8 107.6h9.2M72.4 103v9.2M160.2 330.8h7.4M163.9 327.1v7.4M308 82.5h9.4M312.7 77.8v9.4M244.3 38.8h9.3M249 34.1v9.3M89.9 273.5h7.5M93.6 269.8v7.5M227.6 303.8h9.4M232.3 299.1v9.4M154.2 319.4h8.1M158.3 315.4v8.1M136.6 300.7h7.5M140.3 297v7.5M74.8 154.8h8.2M78.9 150.7v8.2M162.5 343.2h8.1M166.6 339.1v8.1M310 254.9h9.3M314.7 250.2v9.3M326.7 159h9.3M331.3 154.3v9.3M269.4 47.9h8.4M273.6 43.7v8.4M298.6 230.9h7.6M302.4 227.1v7.6M70.6 242.1h8.1M74.6 238v8.1M158 337h7.6M161.8 333.2v7.6M243.2 53.8h8.4M247.4 49.6v8.4M116.5 61h7.5M120.3 57.2v7.5M31.1 195.5h7.4M34.8 191.9v7.4M270.8 75.8h7.9M274.8 71.9v7.9M52.6 262.4h9M57.1 257.9v9M56.4 165.2h9.1M60.9 160.7v9.1M59.3 273.8h7.8M63.2 269.9v7.8M310.4 202h7.8M314.3 198.1v7.8M330.9 200.4h7.8M334.8 196.5v7.8M257 78h7.8M260.9 74.1v7.8M178.6 349.7h7.7M182.5 345.8v7.7M304.7 189.8h7.9M308.6 185.8v7.9M249.5 49.5h7.1M253.1 45.9v7.1M238.9 328.4h7.4M242.6 324.7v7.4M34.4 225.2h8.8M38.8 220.8v8.8M109 84.6h9.5M113.7 79.9v9.5M44.4 263.6h9.4M49.1 258.9v9.4M60.4 267.6h8.4M64.6 263.4v8.4M80.1 285.2h7.2M83.7 281.6v7.2M47 143.2h7.7M50.8 139.4v7.7M261.9 60h9.4M266.6 55.3v9.4M97 50.3h9.2M101.6 45.7v9.2M296.1 299.9h9.1M300.7 295.3v9.1M78.5 128.5h8.5M82.7 124.2v8.5M75.2 264.2h7.5M78.9 260.5v7.5M207.9 51.4h7.9M211.9 47.4v7.9M294.8 272.6h8.2M298.9 268.5v8.2M187.5 343.8h7.2M191.1 340.2v7.2M111.4 317.5h7.7M115.3 313.7v7.7M310.1 137h8.4M314.3 132.8v8.4M271.3 78.8h8.1M275.3 74.7v8.1M269.9 297.8h7.2M273.5 294.2v7.2M119 293.7h9.2M123.6 289.1v9.2M169.7 40.1h9M174.2 35.6v9M44.6 207.4h9.3M49.3 202.7v9.3M95.4 74.6h7.9M99.4 70.6v7.9M107.2 268.1h7.4M110.9 264.4v7.4M263.5 285.7h8.4M267.7 281.5v8.4M195.6 322.6h9.3M200.3 318v9.3M343.7 148.2h8.1M347.7 144.2v8.1M196.1 53.4h8.3M200.3 49.3v8.3M271.1 62.8h8.3M275.2 58.7v8.3M136.2 69.6h9.5M141 64.8v9.5M138.2 329.2h7.6M141.9 325.5v7.6M67.2 190.2h8.4M71.5 186v8.4M252.7 40.7h7.9M256.7 36.7v7.9M297.6 170.7h9.2M302.2 166.1v9.2M78.1 118.9h9.5M82.9 114.2v9.5M321.6 96h7.7M325.4 92.2v7.7M82.8 82h9.4M87.5 77.3v9.4M68.7 95.4h8.7M73.1 91v8.7M307 287.9h8.1M311.1 283.9v8.1M302.9 93.2h7.7M306.7 89.4v7.7M100.9 51.2h7.1M104.4 47.7v7.1M339.2 228.1h7.6M343 224.3v7.6M59.5 259h8M63.5 255v8M320.1 261.6h8.3M324.3 257.4v8.3M248.3 324.8h8.8M252.7 320.4v8.8M330.5 121.9h8.8M334.9 117.5v8.8M52.7 225.6h7.2M56.3 222v7.2M240.5 287.6h9.3M245.1 283v9.3M114.1 56.6h7.9M118.1 52.6v7.9M343.6 141.9h8.2M347.7 137.8v8.2M276.2 265h7.9M280.2 261v7.9M259.9 53.4h8M263.9 49.4v8M51.3 126.6h9.2M55.9 122v9.2M233.8 336.3h8.2M237.9 332.2v8.2M230.3 325h7.8M234.2 321.1v7.8M64 225.5h7.5M67.8 221.7v7.5M141.1 301.3h9.5M145.9 296.6v9.5M95.9 252.6h7.6M99.7 248.8v7.6M257 62h8.2M261.1 57.9v8.2M326.3 133.5h7.9M330.2 129.5v7.9M91.8 86.5h7.7M95.7 82.7v7.7M295.9 305.6h8.1M299.9 301.5v8.1M91.2 128h8M95.2 124v8M79.2 301.7h8.6M83.6 297.4v8.6M94.2 104.3h8.7M98.5 99.9v8.7M38.5 202.1h7.4M42.2 198.4v7.4M222.5 36h9.2M227.1 31.4v9.2M126.8 38.9h9.2M131.4 34.3v9.2M178.9 43.7h8.9M183.4 39.3v8.9M108.4 276.9h8.2M112.5 272.8v8.2M117.9 54.5h9.2M122.5 49.9v9.2M289.4 313.2h8.1M293.5 309.2v8.1M336.2 140.2h8.9M340.7 135.7v8.9M280.8 259.8h9.3M285.5 255.1v9.3M278.4 257.4h7.8M282.3 253.5v7.8M174.2 336h7.7M178 332.2v7.7M229.3 313.4h8.1M233.4 309.3v8.1M264.3 53.3h7.4M268 49.6v7.4M48.9 199.6h8.4M53 195.4v8.4M132.2 334.5h8.9M136.6 330.1v8.9M282.2 126.9h8.8M286.6 122.5v8.8M34.8 200.4h7.1M38.4 196.8v7.1M305.3 112.6h9.4M310 107.9v9.4M98.5 57h7.6M102.3 53.2v7.6M311.7 276.5h7.6M315.5 272.7v7.6M215.6 310.4h8M219.6 306.4v8M300.4 111.6h8.1M304.5 107.5v8.1M146.8 342.9h8.7M151.2 338.6v8.7M89.3 56.2h8.9M93.7 51.8v8.9M283.7 119.6h9M288.2 115.1v9M236.7 33h9.1M241.2 28.5v9.1M71.2 236.4h7.5M75 232.6v7.5M299.1 127.7h8.1M303.2 123.6v8.1M263 330.7h7.7M266.8 326.9v7.7M271.6 281.6h9.1M276.2 277v9.1M210.5 328.4h7.4M214.2 324.8v7.4M210 31.8h7.5M213.8 28.1v7.5M169.1 309.2h7.7M173 305.3v7.7M328.9 165.2h9.3M333.5 160.5v9.3M244.7 303.4h8.7M249 299.1v8.7M294.6 75.1h8.9M299 70.6v8.9M290 85.7h7.5M293.8 81.9v7.5M301.6 271.8h7.4M305.3 268v7.4M75.5 74.3h9.2M80.1 69.7v9.2M92.7 296.9h8.4M96.9 292.6v8.4M157.3 44.9h9.3M161.9 40.2v9.3M297.4 185.4h8.1M301.4 181.4v8.1M29.5 147.4h8M33.5 143.4v8M44.6 177.6h9.4M49.2 172.9v9.4M85.5 68.7h8.1M89.6 64.7v8.1M148.7 311.9h8.9M153.2 307.4v8.9M186.6 335.9h8.4M190.8 331.7v8.4M169.6 339.9h8.3M173.8 335.8v8.3M278.3 305.2h9.2M282.9 300.6v9.2M144.5 51h7.5M148.3 47.2v7.5M179.8 344.4h7.5M183.5 340.6v7.5M81 246.5h7.8M84.9 242.6v7.8M110.7 325.8h7.5M114.4 322v7.5M302.1 291.3h8.9M306.6 286.8v8.9M203.7 345.4h8.5M207.9 341.2v8.5M234.9 78.3h7.6M238.7 74.5v7.6M269 325.6h8.6M273.2 321.3v8.6M136.1 82.3h7.6M139.9 78.5v7.6M48.6 172h8.8M53 167.6v8.8M90.7 305.8h9.4M95.4 301.1v9.4M221.8 66.3h8.6M226 62v8.6M163.5 67h8.3M167.6 62.9v8.3M303.1 272.7h9.4M307.8 268v9.4M191.5 60.5h8.1M195.6 56.4v8.1M314.4 100.6h8.9M318.8 96.2v8.9M191.6 25.8h9.1M196.2 21.2v9.1M230.8 35.8h7.3M234.5 32.2v7.3M56.8 102.3h8.9M61.3 97.9v8.9M263.4 266h9.5M268.2 261.3v9.5M317.4 230.8h9.1M322 226.2v9.1M234.2 67.6h9.4M238.9 62.9v9.4M252.7 311.6h9.1M257.3 307.1v9.1M219.1 312.5h8.9M223.5 308v8.9M321.4 219.5h8.2M325.5 215.4v8.2M318.9 181.8h8M322.9 177.8v8M300.2 107.5h7.1M303.8 104v7.1M309.1 181h7.6M312.9 177.2v7.6M339.3 213.6h9.4M344 208.9v9.4M303.2 199.3h9.1M307.8 194.7v9.1M26.4 153.2h8.4M30.5 149v8.4M313.6 259h7.2M317.2 255.4v7.2M261.4 64.1h8.9M265.9 59.6v8.9M293.6 294.3h8.9M298.1 289.8v8.9M168.4 63.8h7.8M172.4 59.9v7.8M246.5 66.3h8.2M250.6 62.2v8.2M72 300.6h7.9M76 296.7v7.9M279.6 119.2h7.5M283.4 115.4v7.5M27.7 162.7h8.1M31.7 158.6v8.1M156.9 323.3h8.6M161.2 319.1v8.6M300.9 260h8M304.9 256v8M61.2 195h8.8M65.7 190.6v8.8M159.8 315.3h8.8M164.2 310.9v8.8M69.9 300.2h7.6M73.7 296.4v7.6M212.1 43.8h9.4M216.8 39v9.4M140.1 295.7h8M144.1 291.7v8M34.3 239.3h7.9M38.2 235.4v7.9M81.4 242.5h8.2M85.5 238.3v8.2M164.9 39.1h9.1M169.4 34.5v9.1M276.8 276.5h7.2M280.4 273v7.2M126.6 91.1h9.4M131.3 86.5v9.4M199.1 324.6h8.3M203.3 320.5v8.3M298.2 301.5h9.2M302.8 296.9v9.2M81.7 255h8.2M85.8 250.9v8.2M334.7 205.4h7.1M338.3 201.9v7.1M328.6 229.6h7.2M332.2 226v7.2M290.3 244.8h7.7M294.2 241v7.7M37.9 193.6h7.4M41.6 189.9v7.4M254.9 313.6h8.8M259.3 309.1v8.8M188.3 43.2h7.7M192.1 39.4v7.7M64.6 81.2h7.2M68.2 77.6v7.2M118.6 72.8h9.5M123.3 68.1v9.5M301.1 141.4h8.2M305.2 137.3v8.2M35.9 182.5h7.5M39.7 178.8v7.5M326.5 209.4h8.3M330.7 205.3v8.3M85.6 88.3h8.6M89.9 84v8.6M298.4 166.4h8.5M302.6 162.1v8.5M65.5 112.8h9.3M70.2 108.1v9.3M293.4 111h8M297.4 107v8M257.2 91.5h8.8M261.6 87.1v8.8M102.2 278.8h8.5M106.5 274.5v8.5M59.8 214.5h7.6M63.6 210.8v7.6M343.7 169.6h7.2M347.2 166v7.2M108.2 58.3h8.2M112.4 54.1v8.2M224.8 74.1h9.4M229.5 69.4v9.4M80.2 70.5h8.2M84.3 66.4v8.2M24.3 196h7.1M27.8 192.4v7.1M346.1 202.6h7.8M350 198.7v7.8M64.6 271.2h9M69.1 266.6v9M294.3 301.3h8.5M298.5 297v8.5M110.6 328h8.1M114.6 323.9v8.1M137.1 324.4h8.9M141.6 320v8.9M173.8 347.7h8.9M178.3 343.2v8.9M303.6 174.1h9.7M308.5 169.2v9.7M246.3 58.1h9.1M250.8 53.6v9.1M112.9 48.3h9.4M117.6 43.7v9.4M112.4 99.2h7.8M116.3 95.3v7.8M347.3 204.8h8.9M351.7 200.3v8.9M331.3 259.2h8M335.3 255.2v8M165.4 31.6h7.9M169.4 27.7v7.9M90.5 279.9h9.3M95.1 275.3v9.3M58.6 90.9h8.1M62.7 86.8v8.1M134 340.9h8.4M138.2 336.7v8.4M120.3 76.6h8.8M124.6 72.3v8.8M92 82.7h7.6M95.8 78.9v7.6M60.2 242.7h7.8M64.1 238.8v7.8M40.8 227.6h8.7M45.1 223.3v8.7M71.1 293.7h8.1M75.1 289.7v8.1M233.7 343.8h8.1M237.8 339.7v8.1M293.8 258.4h8.9M298.2 253.9v8.9M35.8 218.6h9.1M40.3 214.1v9.1M75 142.4h8.2M79.1 138.3v8.2M250.3 77.3h9.1M254.8 72.7v9.1M270.2 308.5h9.1M274.8 304v9.1M43 250.9h7.6M46.8 247.1v7.6M216.2 335.3h7.3M219.8 331.7v7.3M84.4 280.3h9.3M89 275.7v9.3M309.8 111.1h9M314.3 106.5v9M321.8 142.4h7.8M325.8 138.4v7.8M80 228.8h8.6M84.3 224.5v8.6M291.7 140.3h8.8M296.1 135.9v8.8M55.1 92.5h7.3M58.8 88.9v7.3M24.5 206.9h9M29 202.4v9M297.9 298.2h8.4M302.1 294v8.4M72 101.8h7.5M75.8 98.1v7.5M252 45.4h8.7M256.4 41.1v8.7M234 339.6h8.9M238.5 335.2v8.9M315.4 169.4h7.8M319.2 165.5v7.8M266 327.3h9.3M270.6 322.7v9.3M83.4 297.9h7.6M87.2 294.1v7.6M325.2 144h9.1M329.7 139.5v9.1M289.4 97.5h8.3M293.5 93.4v8.3M87.2 85.1h7.1M90.8 81.5v7.1M314.6 138.3h9.2M319.2 133.7v9.2M349.8 187.5h7.5M353.5 183.7v7.5M222.6 344.2h8.2M226.7 340.1v8.2M331.5 112.6h7.4M335.2 108.9v7.4M98.5 287.7h8.5M102.8 283.5v8.5M106.2 66h7.9M110.2 62v7.9M288.9 281.5h7.5M292.7 277.8v7.5M323 151.5h7.5M326.7 147.8v7.5M235.3 31.1h8.5M239.5 26.9v8.5M344.9 207.3h7.5M348.6 203.6v7.5M147.1 31.3h7.6M150.9 27.5v7.6M171.3 326.2h8.4M175.5 322v8.4M75.1 254.4h9M79.6 249.9v9M312.4 248.7h9.2M317 244.1v9.2M284.2 74.6h8.1M288.3 70.6v8.1M289.6 256h7.9M293.5 252.1v7.9M188.5 48.8h8.1M192.5 44.7v8.1M70.8 118.7h7.8M74.7 114.8v7.8M251.7 66.2h7.9M255.7 62.3v7.9M249.1 41.8h9M253.6 37.3v9M317 235h8.5M321.3 230.8v8.5M78.5 289.5h8.5M82.7 285.3v8.5M333.3 211.6h7.3M336.9 208v7.3M62.5 85.9h7.6M66.3 82.1v7.6M46.5 118.5h8.3M50.7 114.3v8.3M55.2 251.7h8.8M59.6 247.3v8.8M134.5 321.3h7.9M138.5 317.4v7.9M255.2 329.2h8.3M259.4 325v8.3M316.4 173.7h8.2M320.5 169.6v8.2M93.9 90.2h8.3M98.1 86v8.3M123 58.5h8.6M127.3 54.2v8.6M282.8 309.2h8.4M287 304.9v8.4M76.6 149.1h9M81.1 144.6v9M290 300h8.3M294.2 295.9v8.3M291.4 89.1h9.3M296 84.5v9.3M286.2 80.3h8.6M290.5 76v8.6M258.2 96.5h8.3M262.3 92.3v8.3M304.1 159.3h7.6M307.9 155.5v7.6M37.8 245h9.1M42.4 240.5v9.1M227.1 47.1h8.5M231.4 42.8v8.5M269.4 52.8h8.8M273.8 48.4v8.8M285 59.6h7.7M288.8 55.8v7.7M317.6 143.2h8.3M321.7 139v8.3M151.6 73.5h9.1M156.2 68.9v9.1M71.6 170.3h7.5M75.4 166.6v7.5M137.1 31.3h7M140.6 27.9v7M340.2 136.5h8.5M344.4 132.2v8.5M88.8 114.7h9.3M93.4 110.1v9.3M329.7 108.1h7.1M333.3 104.5v7.1M142.8 44.4h7.8M146.7 40.5v7.8M297.2 76h9M301.7 71.5v9M111.8 280.9h7.4M115.4 277.2v7.4M219.6 73.9h8.5M223.8 69.7v8.5M24.1 189.9h7.8M28 185.9v7.8M342.4 176.5h7.1M345.9 173v7.1M34 203.5h8.8M38.4 199.1v8.8M119.2 320.4h9.1M123.8 315.8v9.1M300.8 214.8h7.3M304.5 211.2v7.3M126.5 303.4h8.9M131 298.9v8.9M280.3 269.7h7.9M284.3 265.7v7.9M167.7 53.3h7.3M171.4 49.6v7.3M42.1 224.5h7.6M45.9 220.7v7.6M310.3 82h8.3M314.4 77.9v8.3M320.4 113h7.1M323.9 109.5v7.1M304.1 166.4h8.2M308.2 162.3v8.2M130 66.6h7.3M133.7 62.9v7.3M213.3 50.1h7.8M217.2 46.2v7.8M315.4 218.4h8.6M319.7 214.1v8.6M36.2 139.5h7.4M40 135.8v7.4M97.2 271.8h8.8M101.6 267.4v8.8M211.8 58.6h8.4M216 54.4v8.4M229.4 317.7h8.2M233.5 313.6v8.2M326.9 146.8h9.4M331.6 142.1v9.4M190.7 324.2h8.4M194.9 320v8.4M218.3 317.8h7.4M222 314.1v7.4M339.8 235.5h8.7M344.1 231.2v8.7M184.8 52.9h7.2M188.4 49.3v7.2M300.1 158.4h7.3M303.8 154.8v7.3M279.5 303h8.3M283.7 298.8v8.3M60.1 203.7h9.6M64.9 198.9v9.6M276.2 64.1h7.6M280 60.3v7.6M42.8 137.7h9.4M47.5 133v9.4M338.9 220.8h9.2M343.5 216.1v9.2M107.7 68.9h8.7M112.1 64.6v8.7M137.1 338h8.2M141.2 333.8v8.2M320.6 130.9h7.1M324.1 127.3v7.1M110.4 106.3h8.3M114.6 102.1v8.3M90.7 122.3h9.7M95.5 117.5v9.7M138.6 43.3h7.2M142.2 39.7v7.2M349.1 174.6h7.9M353.1 170.6v7.9M296.7 104.2h8.7M301.1 99.9v8.7M212 337h7.8M215.9 333.1v7.8M340.1 153.6h8.8M344.5 149.2v8.8M270.9 70.5h8M275 66.4v8M91.2 64.9h9.3M95.8 60.2v9.3M136.4 333.6h8.7M140.8 329.2v8.7M73.5 123h7.3M77.1 119.3v7.3M53.8 178.4h7.1M57.4 174.8v7.1M259.8 311.2h8.2M263.9 307.1v8.2M186.4 23.8h9M190.9 19.3v9M148.4 338.4h7M151.9 334.9v7M253 328.4h8.4M257.2 324.2v8.4M192.1 344.6h8.5M196.4 340.3v8.5M267.4 81.9h7.1M271 78.4v7.1M202.4 28.3h8.3M206.5 24.1v8.3M127.5 282.9h8.9M132 278.4v8.9M250.5 71.9h9.2M255.2 67.3v9.2M108 74.9h9M112.4 70.4v9M91 57h9.4M95.7 52.2v9.4M67.6 81.9h9M72.1 77.4v9M119.4 38.1h8.3M123.6 34v8.3M253.5 51.6h7.5M257.3 47.9v7.5M271.6 276.2h9.6M276.4 271.4v9.6M98 324.1h8.8M102.4 319.7v8.8M55.4 243.8h9.4M60.1 239.1v9.4M125 47.7h7.6M128.8 43.9v7.6M318.9 248.5h7M322.4 245v7M327 217.9h8.3M331.1 213.8v8.3M75.8 305.5h7.5M79.5 301.7v7.5M127.7 315.2h8.9M132.2 310.7v8.9M123.5 62.8h9M128.1 58.3v9M56.5 206h7.5M60.2 202.2v7.5M259.4 328.3h9.3M264 323.7v9.3M43.7 161.3h7.4M47.4 157.6v7.4M256.6 281.7h7.4M260.3 278v7.4M205.7 317h8.5M209.9 312.7v8.5M334.1 144.4h7.5M337.8 140.7v7.5M326.7 255.2h9M331.2 250.7v9M302.8 295.3h9.2M307.4 290.7v9.2M280.2 287.6h8.4M284.4 283.4v8.4M39.3 241.2h9.1M43.9 236.6v9.1M288.6 109.5h8.6M292.9 105.2v8.6M103.3 108.6h8M107.3 104.6v8M265 325.9h7.7M268.8 322.1v7.7M101.7 88.9h7.6M105.5 85.1v7.6M274.3 86.8h8.7M278.7 82.4v8.7M56.7 191.7h8.2M60.8 187.6v8.2M54.2 229h8.3M58.4 224.8v8.3M324.9 136h8.3M329.1 131.9v8.3M58.5 269.7h7.1M62 266.2v7.1M234.4 309.3h9M238.9 304.8v9M300.6 71.9h7.2M304.1 68.3v7.2M85.1 72.4h8.4M89.3 68.1v8.4M61.3 94.6h7.7M65.1 90.8v7.7M55.1 236.4h9.3M59.7 231.8v9.3M46.4 253.3h8.9M50.8 248.9v8.9M284.2 281h7.3M287.9 277.3v7.3M74.3 164.5h8.1M78.4 160.5v8.1M230.3 41.4h9M234.8 36.9v9M154.8 29.2h8.6M159.1 24.9v8.6M88 258.2h8M92 254.2v8M235.1 330h7.8M239 326.1v7.8M72.4 281h9.1M77 276.4v9.1M107.2 62.3h7.4M110.9 58.7v7.4M95.2 114.7h8M99.2 110.7v8M43.2 254.2h7.1M46.7 250.6v7.1M203.5 47.5h9.4M208.2 42.8v9.4M86.3 253.3h8.3M90.4 249.2v8.3M322.8 193.7h7.9M326.7 189.7v7.9M238.4 298.5h9.2M243 293.9v9.2M108.4 317.9h7.3M112 314.2v7.3M154.8 330.9h7.1M158.4 327.3v7.1M97 308.2h8.5M101.2 303.9v8.5M58.9 181h8.1M63 177v8.1M72.7 284.2h7.7M76.6 280.3v7.7M151.2 341h7.5M155 337.2v7.5M56.3 118.1h7.1M59.8 114.5v7.1M285.2 105.5h8.5M289.5 101.3v8.5M300.3 279.5h7.9M304.2 275.6v7.9M308 285.9h8.1M312 281.9v8.1M78.9 97.6h7.1M82.5 94.1v7.1M155.8 339.8h7.6M159.6 336v7.6M77.7 302.5h7.4M81.4 298.8v7.4M324.9 248.7h8.2M329 244.6v8.2M306 151.5h7.4M309.7 147.8v7.4M298.2 273.8h8.4M302.4 269.6v8.4M24.7 215h7.7M28.6 211.2v7.7M152.3 37.6h7.7M156.2 33.8v7.7M295.2 90.2h9.3M299.9 85.5v9.3M138.6 307.6h9.6M143.4 302.8v9.6M64.9 282.1h8.5M69.2 277.9v8.5M81.6 303h7.9M85.5 299.1v7.9M273.8 306.9h8.6M278.1 302.6v8.6M83.6 286.2h8.7M88 281.9v8.7M45.7 147.7h8.2M49.9 143.6v8.2M71.2 263.9h8.6M75.5 259.6v8.6M102.7 266.1h9.6M107.5 261.3v9.6M256.1 40h8.3M260.3 35.9v8.3M117.6 90.7h7.9M121.5 86.8v7.9M300.5 120.5h7.5M304.3 116.8v7.5M38.4 125.7h7.6M42.2 121.9v7.6M215.5 347.3h7.2M219.1 343.7v7.2M311.9 131.4h7.2M315.5 127.8v7.2M291.1 235h8.6M295.4 230.7v8.6M98.2 299h9.5M102.9 294.3v9.5M108 302.1h9.2M112.6 297.5v9.2M77.6 279h7.4M81.3 275.3v7.4M208.1 26.4h9.3M212.7 21.8v9.3M82.2 135h9.7M87.1 130.1v9.7M184.7 24.8h7.3M188.3 21.1v7.3M341.4 184.4h9.4M346.1 179.8v9.4M198.3 329.4h8.1M202.3 325.3v8.1M101.3 296.3h9.5M106.1 291.5v9.5M128.6 294.8h9.6M133.4 290v9.6M303 250.9h8.4M307.2 246.7v8.4M258.7 43.7h8.7M263.1 39.4v8.7M102.7 311h8.7M107 306.6v8.7M335.5 150.3h8.8M339.9 145.9v8.8M227.6 70.2h8.5M231.8 65.9v8.5M161.6 31.4h8.6M165.8 27.2v8.6M343.1 225.3h7.8M346.9 221.4v7.8M207.8 37.2h8.2M211.9 33.1v8.2M333.5 194h8.8M337.9 189.6v8.8M242.3 312.8h8.8M246.7 308.4v8.8M38.1 212.1h8.1M42.2 208.1v8.1M52.9 168.6h8.1M56.9 164.5v8.1M43.8 170.7h8.9M48.3 166.2v8.9M260.4 314.3h7.5M264.2 310.6v7.5M130.7 34.3h8M134.7 30.3v8M313.9 192.8h8.6M318.2 188.5v8.6M300.9 257h8.7M305.3 252.7v8.7M69.2 115.8h7.5M73 112.1v7.5M169.1 322.9h9M173.6 318.4v9M321.9 210.4h9M326.4 205.9v9M58.2 177.2h7.2M61.8 173.7v7.2M119.1 309.5h7.3M122.8 305.9v7.3M45.9 139.7h9.3M50.6 135v9.3M102.7 99.5h7.6M106.5 95.7v7.6M308.4 197.9h9.6M313.2 193v9.6M203.5 53h8M207.5 49v8M291.7 216.9h7.8M295.6 213v7.8M170.1 334.8h9.1M174.7 330.2v9.1M331.2 251.5h7.3M334.8 247.9v7.3M235.4 325.3h7.1M238.9 321.7v7.1M337.8 187.9h7.4M341.5 184.2v7.4M291.9 252.7h8.2M296 248.6v8.2M195.9 317.8h9.3M200.6 313.1v9.3M97.2 53h8.2M101.3 48.8v8.2M233.1 291.5h8.7M237.4 287.2v8.7M217.8 49.7h7.9M221.7 45.8v7.9M63.6 105.3h9.3M68.3 100.6v9.3M307.6 175.6h9.6M312.4 170.8v9.6M319.8 102.5h7.9M323.8 98.6v7.9M42.3 118h7.1M45.9 114.5v7.1M167.9 28.9h8.1M171.9 24.9v8.1M40.9 136.4h8M44.9 132.4v8M103.9 46.2h8.9M108.4 41.8v8.9M345.2 163.9h8.5M349.5 159.6v8.5M327.6 183.8h9.2M332.2 179.3v9.2M236.5 83.9h8.8M240.9 79.5v8.8M133.4 88.6h7.5M137.2 84.8v7.5M273.2 318.6h8.7M277.6 314.2v8.7M234.8 49.6h8.3M238.9 45.4v8.3M57.2 108.6h8.4M61.4 104.5v8.4M178.7 47.5h7.4M182.4 43.8v7.4M154 347.3h9M158.5 342.8v9M309.9 249.6h7.1M313.5 246v7.1M277.8 296.5h7.4M281.5 292.8v7.4M332.3 158.1h8.6M336.6 153.8v8.6M313.2 279.8h7.5M317 276.1v7.5M313.7 226.9h8.2M317.8 222.8v8.2M138.8 58.4h9M143.3 53.9v9M55.2 94.9h9.2M59.8 90.3v9.2M55.6 98.1h8.3M59.8 93.9v8.3M316.9 253.7h8.9M321.4 249.2v8.9M311.6 165.2h9.4M316.3 160.5v9.4M202.6 64.2h9.4M207.3 59.5v9.4M66.8 103.8h9.3M71.5 99.2v9.3M62.9 268.6h9M67.3 264.1v9M279 124.6h8.5M283.2 120.3v8.5M312.7 187.6h7.3M316.3 184v7.3M214 27.1h8.9M218.4 22.6v8.9M231.5 72.5h7.6M235.3 68.8v7.6M105.2 51.7h8.4M109.4 47.5v8.4M328.2 126.6h8.4M332.4 122.4v8.4M320.6 108.9h8.8M325 104.5v8.8M68.8 224.9h9.1M73.3 220.3v9.1M307.8 122.5h8.1M311.8 118.4v8.1M172.4 35h8M176.4 31v8M40.5 132.1h7.8M44.4 128.2v7.8M148.2 28h8.1M152.3 24v8.1M80.2 298.1h8M84.2 294.1v8M65.3 292.8h7.1M68.8 289.3v7.1M249.9 310.7h8.2M254 306.6v8.2M144.8 328.5h7.4M148.5 324.8v7.4M107.4 81.1h9.2M112 76.5v9.2M274.6 296.4h7.5M278.4 292.6v7.5M64.3 101.5h7.2M67.9 98v7.2M57.9 120.7h9.4M62.7 116v9.4M309.9 225.6h8.4M314.1 221.4v8.4M267.4 54.4h7.2M271 50.8v7.2M39 172.2h8.4M43.2 168v8.4M59.2 253h8.7M63.6 248.7v8.7M217.9 341.3h8.8M222.4 336.9v8.8M40.1 163.8h8.9M44.6 159.3v8.9M340.6 159.1h7M344.1 155.6v7M285.1 68.9h9M289.6 64.4v9M321.4 186.4h7.5M325.2 182.7v7.5M313.1 284.3h7.3M316.7 280.7v7.3M297.5 79.6h8.5M301.7 75.3v8.5M59.8 139.3h8.8M64.2 134.9v8.8M340.6 218.4h9M345.1 213.9v9M199.3 51.4h9.2M203.9 46.8v9.2M287 60.1h7.8M290.9 56.2v7.8M253.6 61.4h7.5M257.3 57.6v7.5M185.5 39h8.3M189.6 34.8v8.3M33.2 168.1h7.2M36.8 164.5v7.2M313.4 285h9.3M318.1 280.3v9.3M263.5 89.3h8.7M267.8 84.9v8.7M159.9 343h7.2M163.5 339.4v7.2M160.8 37.7h7.7M164.7 33.8v7.7M41.7 257.9h7.9M45.6 254v7.9M87.7 300.2h9.2M92.3 295.6v9.2M109.7 43.2h7.2M113.3 39.6v7.2M319.7 191.1h8.4M323.9 186.8v8.4M195.4 345.3h7.1M198.9 341.8v7.1M74.7 93.3h7.3M78.4 89.7v7.3M289.5 135.1h9M294 130.6v9M132.8 78.2h7.4M136.5 74.4v7.4M181.5 346.5h8.3M185.7 342.3v8.3M318.5 210h8.3M322.6 205.9v8.3M342.9 137.8h7.2M346.5 134.3v7.2M291.5 99.7h8.1M295.5 95.6v8.1M299.2 191.5h9.1M303.8 186.9v9.1M221.1 333.6h7.6M224.9 329.8v7.6M140.5 331.3h8.7M144.8 326.9v8.7M299 72.7h7.2M302.6 69.1v7.2M315.5 119h9.2M320.1 114.4v9.2M268.8 284.5h7.8M272.8 280.5v7.8M174.1 316.7h8.5M178.3 312.5v8.5M301.5 293.9h8.8M305.9 289.5v8.8M66.5 131.2h9.2M71.1 126.6v9.2M107.9 327.7h7.6M111.7 323.9v7.6M31 240.7h8.4M35.2 236.5v8.4M52.7 210.3h7.6M56.5 206.5v7.6M123.4 45h8.4M127.6 40.8v8.4M285.3 253.2h9.1M289.8 248.7v9.1M210 340.5h9.1M214.5 336v9.1M95.9 322.4h8.3M100 318.2v8.3M308.5 233.1h7.3M312.1 229.5v7.3M187.3 28.5h7.4M191 24.8v7.4M28.3 150.7h8.6M32.6 146.4v8.6M145.1 71h7.5M148.8 67.2v7.5M159.1 61.9h8.9M163.5 57.4v8.9M33 131.3h8.5M37.3 127v8.5M120.5 64.8h9.3M125.1 60.1v9.3M325.4 104.9h8.3M329.6 100.7v8.3M301.9 85.2h8M305.8 81.2v8M269.1 60.2h7.1M272.6 56.7v7.1M215 32.1h7.3M218.7 28.4v7.3M273.9 80.3h9.2M278.5 75.8v9.2M40.3 261.9h9.2M44.9 257.3v9.2M312.1 98.7h9.1M316.6 94.2v9.1M211.9 40.4h7M215.4 36.9v7M50.4 135.8h8.4M54.6 131.6v8.4M211.4 37.1h7.6M215.2 33.3v7.6M69.3 111.5h8.9M73.7 107v8.9M145.9 308.2h7.2M149.5 304.6v7.2M335.5 174.6h8.9M339.9 170.1v8.9M225.4 339h7.4M229.1 335.3v7.4M76.1 201.9h9M80.6 197.4v9M99.2 61.7h9M103.7 57.2v9M49.8 156.4h9.2M54.4 151.8v9.2M30.3 161.5h8.6M34.6 157.2v8.6M299.1 116.9h7.5M302.9 113.2v7.5M274.9 269h7.3M278.5 265.4v7.3M89.9 285.9h7.4M93.6 282.2v7.4M192.2 56.3h8.1M196.2 52.3v8.1M84.8 267.6h8.5M89.1 263.4v8.5M67.9 76.1h7.4M71.6 72.4v7.4M42.9 211.4h8.2M47 207.3v8.2M266.8 45.3h8.6M271.1 41v8.6M56.5 113h7.7M60.3 109.1v7.7M327.9 250.3h9.2M332.5 245.7v9.2M293.4 304.4h7.5M297.1 300.6v7.5M93.6 119h8.7M97.9 114.7v8.7M332.2 243.8h8M336.2 239.8v8M68.5 282.4h7.7M72.4 278.5v7.7M155.2 58.1h8.2M159.3 54v8.2M101.6 48.1h8M105.6 44.1v8M98.6 69h8M102.6 65v8M286.8 65.3h7.2M290.4 61.6v7.2M335 201.9h7.2M338.6 198.3v7.2M109.8 110.8h7.4M113.5 107.1v7.4M162.9 334.4h7.3M166.5 330.7v7.3M103.2 70h9.2M107.8 65.4v9.2M67 228.6h7.6M70.8 224.8v7.6M271.1 317.4h8.2M275.2 313.3v8.2M304.7 246.9h8.4M308.9 242.7v8.4M332.4 258.1h8M336.4 254v8M135.3 306.9h8.1M139.4 302.9v8.1M35.2 134.3h7.3M38.9 130.7v7.3M133.1 315.7h7.6M136.9 311.9v7.6M34.9 192.1h7.1M38.5 188.5v7.1M248.5 330.1h7.7M252.3 326.2v7.7M308.3 241.1h9M312.8 236.6v9M132.3 34.5h9M136.8 30v9M88.9 69.2h7.9M92.8 65.3v7.9M176.5 309.5h9.4M181.2 304.8v9.4M311.6 87.9h8.1M315.7 83.9v8.1M86.8 57.2h8.4M91 53v8.4M149.1 43.8h9.2M153.7 39.2v9.2M27.5 198h8.4M31.7 193.8v8.4M263.8 323h9.4M268.5 318.3v9.4M320.1 123.7h7.3M323.8 120.1v7.3M333.2 247.4h9M337.7 242.9v9M109.2 49.7h8.9M113.6 45.3v8.9M302.6 96.4h7.9M306.6 92.5v7.9M207.4 339.8h8.5M211.6 335.6v8.5M305.7 104.3h8.7M310 99.9v8.7M320.8 233.9h9.4M325.5 229.2v9.4M202.6 60.3h9.6M207.4 55.5v9.6M221.6 300.9h8.4M225.8 296.7v8.4M334.9 241h7.8M338.8 237.1v7.8M311.5 243.1h8.8M315.9 238.7v8.8M141.8 311.7h8.1M145.9 307.7v8.1M129.1 333.3h8.2M133.2 329.2v8.2M59.8 289.4h8.8M64.2 285v8.8M171.4 343.9h7.3M175.1 340.3v7.3M313 236.3h9M317.5 231.8v9M310 127.7h8.8M314.4 123.3v8.8M328.6 123.3h7.6M332.4 119.5v7.6M63.4 273.4h7.8M67.3 269.5v7.8M73.8 87.8h7.9M77.7 83.9v7.9M76.1 294.7h7.4M79.8 291v7.4M305.1 255.5h8M309.1 251.5v8M53.9 274.6h8.2M58 270.5v8.2M151.4 60.6h7.4M155.1 56.9v7.4M194.3 32.9h8.7M198.6 28.6v8.7M328.5 221.9h8.3M332.7 217.7v8.3M315.8 238.2h8.8M320.2 233.8v8.8M321.8 98.4h8.8M326.2 94v8.8M297.3 284.3h9M301.8 279.7v9M57.5 279h7.5M61.3 275.3v7.5M133.5 293h7.6M137.3 289.2v7.6M184.3 58h9.4M189 53.3v9.4M24 172.6h7.3M27.6 168.9v7.3M286.5 272.1h7.7M290.3 268.3v7.7M90.1 244.9h9.7M94.9 240.1v9.7M216.9 69.1h9.6M221.7 64.3v9.6M296.8 99.8h8.9M301.2 95.4v8.9M117.5 97.8h8.2M121.6 93.7v8.2M59.1 286.9h8.8M63.5 282.4v8.8M56.7 219.2h9.4M61.4 214.5v9.4M212.5 325.6h9.1M217.1 321.1v9.1M217.6 38.1h7.9M221.6 34.2v7.9M257.8 58.9h8.8M262.2 54.5v8.8M329.3 174.4h7.2M332.9 170.8v7.2M308.4 160.8h7.9M312.3 156.9v7.9M40.2 112h8.9M44.7 107.6v8.9M264.4 49.2h7.6M268.2 45.4v7.6M317.6 115.1h9.3M322.3 110.4v9.3M332.5 135.1h7M336 131.6v7M335.6 196.2h9.1M340.2 191.7v9.1M48.4 218.9h8.5M52.6 214.7v8.5M238.6 67.2h9.5M243.4 62.5v9.5M164 35.9h9.4M168.7 31.2v9.4M28.1 177.9h9.2M32.7 173.3v9.2M127.8 54.3h7M131.3 50.8v7M266.6 97h9M271.1 92.5v9M82.5 69h8.2M86.6 64.9v8.2M252.3 48.8h7M255.8 45.3v7M314.6 273.1h7.4M318.3 269.4v7.4M99.6 310.2h8.3M103.7 306v8.3M68.5 291.4h8.5M72.8 287.2v8.5M35.3 242h7.8M39.2 238.1v7.8M269.2 93.8h7.8M273 89.9v7.8M153.7 51.2h7.3M157.4 47.6v7.3M322.9 276.1h8.9M327.4 271.7v8.9M70.5 129.7h9.2M75.1 125.1v9.2M72.5 267.3h8.5M76.7 263v8.5M90 61.3h7.7M93.9 57.5v7.7M320.7 271.1h7.3M324.4 267.4v7.3M309.2 80.9h7M312.7 77.4v7M96.3 315.1h7.4M99.9 311.5v7.4M162.4 25.4h8.4M166.6 21.2v8.4M176.3 51.4h7.7M180.1 47.5v7.7M64.1 143.4h7.3M67.7 139.7v7.3M229.6 31.8h7.5M233.3 28v7.5M312.2 106.4h8.3M316.3 102.2v8.3M197.9 60.8h7.7M201.8 57v7.7M148.1 38h8.9M152.6 33.5v8.9M42.2 114.1h7.9M46.2 110.1v7.9M72.4 147.7h8M76.4 143.7v8M95.2 302.1h9M99.7 297.5v9M253.1 75.2h8.4M257.3 71v8.4M266.2 304.7h8.1M270.2 300.6v8.1M113.9 284.9h8.5M118.1 280.7v8.5M141.3 36.7h9.3M146 32.1v9.3M183.4 348.3h7.4M187.1 344.6v7.4M309.2 210.9h7.5M312.9 207.2v7.5M319.7 273.4h7M323.3 269.9v7M118.5 67.3h8.3M122.6 63.1v8.3M76.2 170.6h7.4M79.9 166.9v7.4M332.4 142.1h9.3M337 137.4v9.3M216.6 42.6h8M220.6 38.6v8M240.4 81.5h8.4M244.6 77.3v8.4M53 174h9M57.5 169.4v9M155.7 304.5h8.7M160 300.2v8.7M80.3 224.1h7.7M84.1 220.2v7.7M110.5 55.6h8.1M114.6 51.6v8.1M223 345.9h8.8M227.5 341.5v8.8M54.7 232.5h7.2M58.3 228.9v7.2M75.7 245.8h7.2M79.3 242.2v7.2M126.1 74.4h9.3M130.7 69.8v9.3M308.1 278.5h7.6M311.9 274.7v7.6M316.1 113.5h7.6M319.9 109.7v7.6M275 322.9h9.4M279.6 318.2v9.4M266.7 314.9h8.7M271.1 310.6v8.7M276.4 68.5h7.1M280 65v7.1M51.8 276.5h7.6M55.6 272.7v7.6M288 129.1h8.5M292.2 124.9v8.5M131.4 40.3h9.1M136 35.7v9.1M78.9 91.8h8.7M83.2 87.4v8.7M229.5 295.3h8.1M233.5 291.3v8.1M68.1 265.4h8M72.1 261.4v8M305.1 299.9h8.9M309.5 295.5v8.9M155.9 326.7h7.7M159.8 322.9v7.7M26.1 169.4h8.4M30.3 165.2v8.4M201.3 346h8.2M205.4 341.9v8.2M113.2 53.2h9.3M117.8 48.5v9.3M313.5 264.7h8.1M317.6 260.6v8.1M202.9 31.9h7.6M206.6 28.1v7.6M330.8 248.6h7.9M334.7 244.6v7.9M100.7 65.1h8.4M105 60.8v8.4M285.4 309.3h8.2M289.5 305.2v8.2M144.7 30.3h8.8M149 25.9v8.8M34.8 210.2h8.6M39.1 205.9v8.6M266.7 112.9h9.2M271.3 108.2v9.2M41.5 144.9h8.5M45.7 140.7v8.5M77.5 283.1h8.2M81.6 279v8.2M104.9 315.1h7.1M108.4 311.6v7.1M331.9 250.4h8.7M336.2 246.1v8.7M62.4 281.3h7.1M66 277.8v7.1M238.9 319h8M242.9 315v8M226.7 345.8h7.8M230.6 341.9v7.8M80.5 277h9.2M85.1 272.4v9.2M153.2 33.3h9.3M157.9 28.6v9.3M153.3 338.8h7.2M156.9 335.2v7.2M113.7 322h9.4M118.4 317.3v9.4M32 190.4h7.2M35.6 186.8v7.2M228.9 335.6h9M233.4 331v9M157.6 36.3h8.7M162 31.9v8.7M311.2 84.7h8.1M315.3 80.7v8.1M301.6 204.5h8.6M305.9 200.2v8.6M225.1 51.4h7.9M229.1 47.4v7.9M336.5 166.2h7M340 162.7v7M116.1 42.7h7.9M120 38.8v7.9M158.6 33.4h8.7M162.9 29.1v8.7M193.4 349.1h7.4M197.1 345.4v7.4M67.4 212.7h8.6M71.7 208.4v8.6M325.9 272.6h7M329.4 269.1v7M330.1 231.8h7.1M333.6 228.2v7.1M119.3 44.2h7.4M123 40.5v7.4M105.5 102.7h9.1M110 98.2v9.1M77.9 82h7.3M81.6 78.4v7.3M343.3 193.9h9.3M347.9 189.3v9.3M305.9 228.1h8.9M310.3 223.7v8.9M126.3 307.4h9.2M130.9 302.8v9.2M348.5 197.3h7.8M352.4 193.4v7.8M44 217.6h8.5M48.3 213.3v8.5M126.6 50.9h8.9M131.1 46.4v8.9M33 234h8.7M37.4 229.7v8.7M320.1 196.2h7.7M324 192.3v7.7M308.7 291.7h8M312.7 287.7v8M118.9 332.5h8.2M123 328.4v8.2M310.3 269.5h7.4M314 265.8v7.4M51.9 256.7h8.4M56.1 252.4v8.4M97.6 304.6h7.9M101.5 300.6v7.9M305 283.9h7.1M308.5 280.4v7.1M301.1 238.4h8.5M305.3 234.2v8.5M339 149.2h7.5M342.8 145.5v7.5M36.4 130.5h8.8M40.9 126.1v8.8M326.3 117.5h7.9M330.3 113.6v7.9M323.5 101.7h7.6M327.3 97.9v7.6M326.5 259.8h7.1M330.1 256.3v7.1M317.7 178.9h8.2M321.8 174.8v8.2M175.8 343h8.3M179.9 338.8v8.3M310.5 279h8.3M314.7 274.9v8.3M40.6 120.1h7.8M44.5 116.2v7.8M208.7 346.6h7.9M212.6 342.7v7.9M221.1 50.7h8.3M225.3 46.5v8.3M223.8 310.4h7.3M227.4 306.8v7.3M35.3 221.5h8.8M39.6 217.2v8.8M27.4 205.8h8.8M31.8 201.4v8.8M227.2 341.9h7.5M231 338.1v7.5M177.7 24.5h9.3M182.4 19.9v9.3M50.3 196h8.8M54.8 191.6v8.8M175.2 42.8h9.5M179.9 38v9.5M145.8 345.9h7.7M149.7 342.1v7.7M31.3 171.4h7.6M35.1 167.6v7.6M288.8 72h8.2M293 67.8v8.2M299.9 302.8h7.3M303.5 299.2v7.3M164.1 63.2h8.2M168.2 59.1v8.2M130.7 38h8.1M134.8 34v8.1M275 60.8h7.5M278.8 57.1v7.5M307.6 140.4h7.7M311.4 136.5v7.7M251.1 282.4h9.6M255.9 277.6v9.6M41.7 166.6h9.5M46.4 161.8v9.5M48.9 227.5h7.8M52.8 223.7v7.8M193 334.7h9.2M197.5 330.1v9.2M304.1 82.9h8.2M308.1 78.8v8.2M58.8 290.6h8.2M62.9 286.5v8.2M324.6 251.9h7.6M328.4 248.1v7.6M129.3 311.2h8.1M133.3 307.2v8.1M254.6 319.3h8.1M258.7 315.3v8.1M252.2 58.1h8.7M256.6 53.8v8.7M212.4 26.7h7.8M216.4 22.7v7.8M318.3 275.6h9.3M322.9 271v9.3M169.4 350h7M172.9 346.5v7M271.1 326.3h7.3M274.8 322.6v7.3M63.1 246.5h8M67.1 242.5v8M331.9 255.9h8.8M336.2 251.5v8.8M128.1 35h8.4M132.3 30.8v8.4M310 86.1h7.6M313.8 82.3v7.6M131.9 310.9h9.5M136.7 306.1v9.5M89.1 236.5h8.1M93.2 232.5v8.1M289.4 293h8.3M293.6 288.9v8.3M233.1 320.1h7.9M237.1 316.2v7.9M303.3 181.6h8.6M307.6 177.3v8.6M94.8 291.3h9.3M99.5 286.6v9.3M260.5 71.5h9.4M265.2 66.8v9.4M296.2 243.5h9.4M300.9 238.8v9.4M158.2 308.5h7.8M162.1 304.6v7.8M265.8 312.3h8M269.8 308.3v8M316.5 131.7h7.9M320.4 127.8v7.9M258.7 322.8h9.4M263.4 318.1v9.4M66.6 98.7h7.4M70.3 95.1v7.4M293.8 65.3h7.7M297.6 61.5v7.7M324.6 99.8h7.4M328.3 96.1v7.4M281.4 73.7h7.2M285 70.1v7.2M269.1 88.9h9.4M273.8 84.2v9.4M102.9 303.3h9.4M107.5 298.6v9.4M317 213.4h7.6M320.8 209.6v7.6M80.3 308.3h8.4M84.5 304.1v8.4M219.2 346.2h7.5M223 342.4v7.5M322.9 264.5h8.2M327 260.5v8.2M196 26.6h7.1M199.5 23.1v7.1M68.8 173.4h8.9M73.3 169v8.9M278.1 51.4h7.1M281.6 47.9v7.1M290.5 311.9h9M295 307.4v9M63.8 90h8.9M68.3 85.5v8.9M183.1 43.1h8.6M187.5 38.8v8.6M331.6 215.7h7.4M335.4 212v7.4M309.8 167.9h8.2M313.9 163.8v8.2M338.3 170.5h9.4M343 165.8v9.4M37.3 135.1h8.6M41.5 130.8v8.6M347.2 161.4h8.3M351.3 157.3v8.3M253.8 297h7.3M257.5 293.4v7.3M181.7 26.1h7M185.2 22.6v7M347.6 182.7h9.1M352.2 178.1v9.1M37.5 167.3h7.8M41.4 163.4v7.8M340.1 204.8h9.1M344.6 200.2v9.1M271 300.5h9.1M275.6 296v9.1M75.6 291.7h9M80.1 287.1v9M52.9 259.4h7.4M56.6 255.7v7.4M74.8 72.3h9.2M79.4 67.6v9.2M149.3 331.5h8.1M153.4 327.4v8.1M179 38.8h9.4M183.8 34.1v9.4M326.5 238.2h9.2M331.1 233.6v9.2M325.3 224.4h7.5M329.1 220.6v7.5M266.1 72.3h9.1M270.7 67.8v9.1M25.9 194.9h9.4M30.6 190.2v9.4M289.4 64.7h9.1M293.9 60.1v9.1M74.8 223.1h7.2M78.4 219.5v7.2M38.8 254.7h7.1M42.3 251.2v7.1M341.7 144.2h8.2M345.8 140.1v8.2M267.8 75.9h7.3M271.4 72.3v7.3M72.2 107.9h7.9M76.1 104v7.9M262.9 83h9.4M267.6 78.3v9.4M258.5 75.8h9.3M263.1 71.1v9.3M330.4 125h7.8M334.3 121.1v7.8M277.2 252.7h9.1M281.7 248.2v9.1M180.5 329.7h8.1M184.5 325.7v8.1M216.7 343.5h8.1M220.8 339.4v8.1M133.5 303.6h8.2M137.6 299.5v8.2M36.2 233.4h9.2M40.8 228.8v9.2M219.5 30.7h9.3M224.1 26.1v9.3M67.2 287.7h7M70.7 284.2v7M251.8 321.2h7.6M255.6 317.4v7.6M248.7 317.9h7.1M252.2 314.4v7.1M179.9 312.1h9.1M184.4 307.6v9.1M88.6 66.5h7.9M92.5 62.5v7.9M150.3 56.9h7.2M153.9 53.2v7.2M326.9 203.4h8.9M331.4 198.9v8.9M203.2 26.4h8M207.2 22.4v8M232.1 340.7h8.2M236.2 336.6v8.2M271.4 322.2h7.4M275 318.5v7.4M315.1 97.3h9.3M319.7 92.7v9.3M311.6 161.9h9.4M316.3 157.2v9.4M336.9 162h9.3M341.5 157.4v9.3M281 87h8.6M285.4 82.7v8.6M337.5 177.1h7.6M341.4 173.2v7.6M80.3 84.4h8.4M84.5 80.2v8.4M341.8 150.9h8M345.8 146.9v8M41.2 235.4h7.4M44.9 231.7v7.4M295 120.9h9.5M299.8 116.2v9.5M56.5 271.1h7.2M60.1 267.5v7.2M114.2 315h9.4M118.9 310.3v9.4M144.8 314.8h7.1M148.4 311.2v7.1M297.7 288.1h9.3M302.4 283.4v9.3M112.2 45h8.3M116.3 40.8v8.3M70.9 182.2h8M74.9 178.2v8M143 343.8h8.7M147.3 339.5v8.7M46.9 222.8h8.1M51 218.8v8.1M286.6 312.7h8.8M291 308.3v8.8M55.8 196h7.2M59.3 192.4v7.2M333.1 131.6h7.2M336.7 128v7.2M268.3 264.8h8.4M272.5 260.6v8.4M23.7 166.9h9M28.2 162.4v9M35.7 207.5h8.2M39.8 203.4v8.2M75.3 69.7h8.9M79.8 65.3v8.9M39.7 218.6h7.4M43.4 214.9v7.4M324.9 245.6h8.9M329.4 241.1v8.9M109.2 289.3h9.3M113.8 284.7v9.3M73.6 69.2h8M77.6 65.2v8M241.4 63.6h7.3M245.1 59.9v7.3M60 222.6h7.4M63.7 218.9v7.4M333.8 148.5h7M337.3 145v7M57.3 86.3h8.5M61.5 82.1v8.5M101.9 284.7h8.3M106 280.5v8.3M331 127.3h8.3M335.1 123.1v8.3M346.7 155.4h7.4M350.5 151.7v7.4M285.7 77.1h8M289.7 73.1v8M31.9 226.5h9M36.4 222v9M68.2 198.8h7.2M71.8 195.2v7.2M322.6 146.7h7.8M326.5 142.8v7.8M242.8 320.1h7.9M246.7 316.1v7.9M66.5 168.7h8.1M70.6 164.6v8.1M282.2 76.9h8.2M286.3 72.8v8.2M190.2 315.3h9.2M194.8 310.7v9.2M152.8 30h8.2M156.9 25.9v8.2M123.8 66.5h9M128.3 62v9M55.9 273.5h8.9M60.3 269.1v8.9M290.5 289h7.9M294.4 285v7.9M286.2 99.7h9.3M290.9 95v9.3M100.7 317.8h7.4M104.4 314v7.4M77.4 293.6h9.2M82 289v9.2M138.5 320h8.2M142.6 315.9v8.2M258 40.7h9.3M262.6 36v9.3M285.3 291.5h7.7M289.2 287.6v7.7M271 310.9h8.4M275.2 306.6v8.4M33.8 142.5h7.6M37.6 138.7v7.6M65.1 238.7h8.2M69.2 234.6v8.2M305.7 290h7.1M309.3 286.4v7.1M253.3 333.7h8.5M257.5 329.4v8.5M77.6 299.2h8.5M81.8 295v8.5M189.9 340.9h7.7M193.7 337.1v7.7M59.8 279.8h7.2M63.4 276.2v7.2M306.5 115.6h8.7M310.9 111.3v8.7M300 76.7h8.3M304.2 72.6v8.3M55.7 88.8h8.8M60.1 84.3v8.8M329.1 116.1h8.3M333.3 112v8.3M308.5 133h7.7M312.4 129.1v7.7M36.3 143.1h7.9M40.3 139.2v7.9M122.1 92h7.3M125.8 88.4v7.3M26.1 150.1h8.9M30.6 145.6v8.9M342.5 161.3h7.1M346.1 157.7v7.1M76.1 102.2h8.7M80.4 97.8v8.7M341.3 232.4h8.9M345.8 228v8.9M255.4 42.6h9.3M260 38v9.3M159.5 326.4h9.1M164 321.9v9.1M313.3 254.8h8.6M317.6 250.5v8.6M56.9 106h7.4M60.6 102.3v7.4M303.7 127.5h9.1M308.2 122.9v9.1M126.3 317.8h7.5M130 314.1v7.5M112.1 302.6h8.8M116.5 298.2v8.8M292.9 71.2h9M297.4 66.7v9M52.8 139h7.7M56.7 135.2v7.7M46.2 114.6h8.6M50.5 110.3v8.6M339.7 223.7h8.8M344.1 219.4v8.8M282.6 272.8h9.2M287.1 268.2v9.2M72.2 219.5h9.1M76.7 215v9.1M297.6 135.9h9.1M302.2 131.3v9.1M323.7 230.5h8M327.7 226.5v8M295.7 68.7h8.7M300 64.3v8.7M256.9 50.8h7.9M260.8 46.8v7.9M235.4 36.5h9.3M240 31.8v9.3M82 77h9M86.5 72.4v9M131 287.3h9M135.5 282.8v9M223.8 39.2h8.8M228.2 34.8v8.8M48.5 190.5h9.2M53.1 185.9v9.2M325.6 197.3h7.3M329.3 193.7v7.3M306 260.9h8M310 257v8M43.8 187h8.5M48.1 182.8v8.5M215.5 314.1h7.8M219.4 310.2v7.8M32.4 207.5h7.8M36.3 203.6v7.8M166.3 329.3h9.5M171.1 324.5v9.5M94.2 318.8h8.2M98.3 314.7v8.2M319 281.2h7.7M322.8 277.4v7.7M30 167.5h7.8M33.9 163.6v7.8M130.4 321.9h8M134.4 317.9v8M206 348.2h8.5M210.3 343.9v8.5M257 332.5h8.3M261.1 328.3v8.3M116.6 102.4h8.3M120.7 98.2v8.3M323.9 106.8h7.7M327.7 102.9v7.7M217 329.5h7.5M220.7 325.8v7.5M104.2 62.5h7.5M107.9 58.7v7.5M284.5 312.2h9.4M289.2 307.5v9.4M68 286h8.9M72.4 281.5v8.9M67.3 276.8h9M71.8 272.4v9M271.6 96.9h8.4M275.9 92.7v8.4M88.4 304.3h8.5M92.7 300v8.5M239.9 332.8h8M243.9 328.8v8M97.1 77.4h8.6M101.4 73.1v8.6M283.3 245.2h9.6M288.1 240.4v9.6M227.1 331.7h8.6M231.3 327.5v8.6M74.6 260.4h8.2M78.7 256.2v8.2M110.8 269.2h9.5M115.5 264.5v9.5M295.3 124.7h9.4M300 120v9.4M342.3 179.9h8.9M346.8 175.4v8.9M337 123.2h7.3M340.7 119.5v7.3M60.1 143.2h8M64.1 139.2v8M144.6 33.6h8M148.6 29.6v8M65.8 178.5h7.7M69.6 174.7v7.7M274.5 320.5h7.8M278.4 316.6v7.8M124.1 331.3h7.4M127.8 327.6v7.4M206.2 313.3h9.5M211 308.5v9.5M285.8 300.9h8.3M289.9 296.7v8.3M147.1 299h7.3M150.7 295.4v7.3M122.5 320.5h9.3M127.2 315.9v9.3M295.2 298.1h7.5M298.9 294.4v7.5M55.3 143.5h8M59.3 139.5v8M200.4 24.9h8.7M204.8 20.5v8.7M261 332.8h7.9M265 328.9v7.9M73.9 84.1h8.2M78 79.9v8.2M59.2 284.3h7.4M62.9 280.6v7.4M28.7 210.5h9.2M33.3 205.9v9.2M80.8 121.8h9.2M85.4 117.2v9.2M162.2 348.4h8.9M166.6 343.9v8.9M36 174.6h8.7M40.4 170.2v8.7M203.3 43.2h8.8M207.7 38.8v8.8M260 307.7h7.9M264 303.8v7.9M95.4 320.2h7.9M99.3 316.3v7.9M140.6 344.9h8.9M145.1 340.5v8.9M331.8 120.2h7.3M335.4 116.5v7.3M268.7 321.7h7.5M272.4 317.9v7.5M180.9 333.8h9.4M185.6 329.1v9.4M324.1 217.1h7.4M327.8 213.5v7.4M57 125h8.7M61.4 120.7v8.7M119.4 85.7h8.3M123.5 81.6v8.3M61.9 232.2h7.2M65.5 228.6v7.2M301.2 243.2h8.2M305.3 239.1v8.2M152.1 335.2h9.4M156.8 330.5v9.4M290.2 77.1h9.4M294.9 72.4v9.4M302.6 77.8h7.5M306.3 74v7.5M273.6 73.6h7.6M277.4 69.8v7.6M312.6 112.3h9.3M317.2 107.7v9.3M62.7 259.8h9.3M67.3 255.1v9.3M281.2 250.6h7.5M284.9 246.8v7.5M90.4 102.7h9.2M95 98.1v9.2M111.6 275.4h8.7M115.9 271v8.7M296.4 264.4h9.3M301 259.8v9.3M96.9 63.7h8.2M101 59.6v8.2M304.4 144.8h9.2M309 140.2v9.2M180.6 339.2h8M184.6 335.2v8M62.2 256.3h7.4M65.9 252.6v7.4M327.2 154.5h8.3M331.3 150.4v8.3M324.9 171.2h7.8M328.8 167.3v7.8M23.1 183.3h8.9M27.5 178.8v8.9M277 280.4h8.9M281.5 275.9v8.9M316.6 166.5h8.4M320.8 162.3v8.4M42.7 111.7h7.4M46.4 108v7.4M63.2 286.1h7.7M67 282.2v7.7M347.5 199.4h7.7M351.4 195.6v7.7M108.2 297.8h8.1M112.3 293.8v8.1M72.7 299.4h9.4M77.4 294.7v9.4M249.3 301.5h7.5M253 297.7v7.5M302.8 106.6h8.7M307.2 102.3v8.7M123.9 52.2h7.4M127.6 48.5v7.4M141.3 55h8.6M145.6 50.7v8.6M245.8 43.8h7.5M249.5 40v7.5M107.7 47.8h8.2M111.8 43.8v8.2M23.2 192.5h8.6M27.5 188.2v8.6M64.9 93.5h9.1M69.4 89v9.1M82.4 62.3h8.4M86.6 58.1v8.4M191.7 42.9h8M195.7 38.9v8M316.7 91.9h7.3M320.4 88.3v7.3M174.5 39.1h9.1M179.1 34.5v9.1M51 120h9.2M55.7 115.4v9.2M313.5 196.9h9.2M318.1 192.2v9.2M336.9 128.3h9.4M341.6 123.6v9.4M151.8 45.8h9.1M156.4 41.3v9.1M132.4 84.2h8.6M136.7 79.9v8.6M268.2 310.3h7.3M271.9 306.6v7.3M327.5 267h9.2M332.1 262.4v9.2M301.8 133.1h8.1M305.9 129.1v8.1M321 259.4h8.9M325.4 254.9v8.9M167.7 348.2h8M171.7 344.2v8M280.3 81.8h8.2M284.3 77.7v8.2M309.6 107.4h8.6M313.9 103.1v8.6M331.9 203.1h7.7M335.8 199.3v7.7M238 340.7h7.2M241.6 337.1v7.2M298.3 87.7h7.4M301.9 84v7.4M334.7 208.7h8.4M338.9 204.5v8.4M73.6 232.4h7.4M77.4 228.7v7.4M292.1 73.4h9M296.5 68.9v9M59.5 276.6h7.6M63.4 272.8v7.6M272.6 85h7.3M276.2 81.3v7.3M276.7 303.5h7.1M280.3 300v7.1M38.5 119h8M42.5 115v8M201.2 35.7h7.6M205 31.9v7.6M316.8 221.2h9.2M321.4 216.6v9.2M202 341.7h8.7M206.3 337.4v8.7M146.9 320.9h9.3M151.5 316.2v9.3M115 66h7.5M118.7 62.3v7.5M78 67.5h7.3M81.6 63.9v7.3M66.9 79.1h8.3M71 75v8.3M29.5 234.4h7.4M33.2 230.7v7.4M244.6 325h8.7M248.9 320.6v8.7M70.8 192.6h9.5M75.5 187.8v9.5M62.4 132.4h8.7M66.7 128.1v8.7M112.9 305.9h7.9M116.8 302v7.9M320.5 264.4h8.3M324.7 260.3v8.3M318.8 257h7.2M322.4 253.4v7.2M130.5 307.6h8.4M134.7 303.4v8.4M323.5 213.1h8.1M327.6 209v8.1M297.6 67.7h7.4M301.3 64v7.4M315.7 162h8.5M319.9 157.8v8.5M332.7 125.6h9.3M337.4 120.9v9.3M90.1 71.8h7M93.6 68.4v7M334.3 163.4h8.4M338.5 159.2v8.4M337.5 130.7h7M341 127.2v7M307.4 118.5h9.2M312 113.9v9.2M291.1 291.5h8.8M295.6 287.1v8.8M254.3 47.4h8.8M258.7 43v8.8M243.1 294.1h9.4M247.8 289.4v9.4M282.1 311.2h7.5M285.8 307.4v7.5M87.3 248.9h8M91.3 244.9v8M116.5 335.1h7.9M120.5 331.1v7.9M31.3 232.7h7.4M35 229v7.4M228.8 299.2h8.3M232.9 295v8.3M42 238h9.1M46.6 233.5v9.1M166.6 349.8h7.6M170.3 346v7.6M327 168.3h9.4M331.6 163.6v9.4M28.9 157.7h7M32.4 154.2v7M307.6 280.8h8.1M311.7 276.7v8.1M337.1 155.9h7.7M340.9 152v7.7M131.7 298.1h8.9M136.2 293.7v8.9M45.4 248.5h8.7M49.7 244.1v8.7M235.1 58.6h8.1M239.2 54.5v8.1M70.6 83.7h8.5M74.8 79.5v8.5M336.8 135.2h9M341.3 130.7v9M131.7 339.6h8.9M136.1 335.1v8.9M201 56.9h9.5M205.7 52.2v9.5M290.4 309.7h8.6M294.7 305.4v8.6M41.3 128.8h8.9M45.7 124.4v8.9M128.8 40.1h9.4M133.5 35.4v9.4M222 27.6h7.3M225.6 23.9v7.3M297 269h7.9M300.9 265v7.9M329.7 256.5h7.8M333.6 252.7v7.8M111.3 69.6h8M115.3 65.6v8M322.3 238.1h7.9M326.3 234.2v7.9M121.5 334.6h7.4M125.2 330.9v7.4M70.9 72.4h7.7M74.8 68.6v7.7M159.2 345.7h7.7M163.1 341.9v7.7M340.3 142.6h7.5M344 138.8v7.5M27.1 190.8h7.9M31 186.8v7.9M53.1 109.6h7.5M56.8 105.9v7.5M292.6 78.5h8.8M297 74.1v8.8M227.1 42.9h7.6M230.9 39.1v7.6M270.9 295.3h9.4M275.6 290.6v9.4M243.9 37.1h8.8M248.3 32.7v8.8M323 110h8.6M327.3 105.7v8.6M149.7 344.1h9.2M154.3 339.5v9.2M245.7 330.4h7.1M249.2 326.9v7.1M248.5 334.7h7.4M252.2 331v7.4M101.4 321.2h8.5M105.6 316.9v8.5M64.1 152.2h8.9M68.6 147.8v8.9M345.6 158.7h7.5M349.4 155v7.5M284.4 135.2h9.4M289.1 130.5v9.4M297.5 144.1h9.2M302.1 139.5v9.2M149.8 32.4h8.7M154.2 28.1v8.7M320.3 254.9h7M323.8 251.4v7M327.9 226.9h7.9M331.8 223v7.9M126.5 44.8h7.4M130.2 41.1v7.4M320.9 164.2h8M324.9 160.2v8M287.7 74.8h9.1M292.3 70.2v9.1M124.6 70.9h8.5M128.8 66.7v8.5M259.1 48.8h9.2M263.7 44.2v9.2M260.7 294h9.1M265.3 289.4v9.1M263.9 79.2h8.5M268.1 74.9v8.5M75.7 125.9h7.4M79.4 122.2v7.4M247.9 279.2h8.5M252.1 274.9v8.5M140.4 342.4h8.2M144.5 338.3v8.2M332.6 197.2h8.6M336.8 192.9v8.6M51.2 279h8.6M55.5 274.7v8.6M300.9 78.7h7.1M304.4 75.2v7.1M323.9 116.4h8.2M328 112.3v8.2M26.1 220.3h8.2M30.1 216.2v8.2M59.3 227.6h7.2M62.9 224v7.2M316.4 277.2h7.2M320 273.6v7.2M268.8 316.2h8.1M272.9 312.2v8.1M189.7 348.2h8.8M194.1 343.8v8.8M31.9 186.3h8.8M36.3 181.9v8.8M288.8 105.7h9.1M293.4 101.1v9.1M276.8 85.3h9.4M281.5 80.5v9.4M84 272.3h7.3M87.7 268.6v7.3M37.3 251h7.4M41 247.3v7.4M109.8 321.6h8.1M113.8 317.6v8.1M49.1 180.8h7.2M52.7 177.2v7.2M312.5 134.1h8.4M316.7 129.9v8.4M126.4 332.9h9.2M130.9 328.4v9.2M186.8 62.8h8.1M190.8 58.8v8.1M299.9 290.2h7.7M303.7 286.3v7.7M306.5 291.3h8.9M310.9 286.9v8.9M237.7 40.8h7.6M241.5 37.1v7.6M99.2 321.5h9.1M103.7 317v9.1M50.2 177.3h7.1M53.7 173.8v7.1M305.6 83.9h9M310.1 79.5v9M87.7 62.5h7.3M91.4 58.9v7.3M313.9 230.5h7.7M317.7 226.7v7.7M181.5 24.4h9.2M186.1 19.8v9.2M108 330h8.7M112.3 325.7v8.7M41.6 122.4h8.2M45.7 118.3v8.2M240.8 341h7M244.3 337.5v7M32.5 183.2h7.1M36 179.7v7.1M82.4 289h7.8M86.3 285.1v7.8M302 80.6h8.1M306.1 76.5v8.1M257.6 303.9h9.1M262.2 299.3v9.1M87.3 60h9.4M92 55.2v9.4M61.9 292.4h7.6M65.7 288.6v7.6M125.4 311.4h8.9M129.9 307v8.9M239.4 302.7h9.6M244.2 297.9v9.6M330.7 261.8h8.7M335.1 257.5v8.7M296.6 110.7h8.8M301 106.3v8.8M215.4 62.7h8.4M219.6 58.5v8.4M86.1 130.7h9.3M90.8 126.1v9.3M161.2 337h7.4M164.9 333.3v7.4M109.3 311.9h8.6M113.6 307.6v8.6M72.3 73h8.3M76.4 68.9v8.3M59.5 208.6h7.9M63.5 204.7v7.9M271.5 59.6h8.1M275.5 55.6v8.1M306.5 263.5h9.1M311.1 259v9.1M25.5 211.2h8.6M29.8 206.9v8.6M244.4 47.4h7.3M248.1 43.8v7.3M63.8 97.9h7.1M67.3 94.3v7.1M341.4 163.9h8.4M345.6 159.7v8.4M337.3 245.3h8.8M341.7 240.9v8.8M341.6 158.4h9M346 153.9v9M287.9 63.6h7.9M291.8 59.6v7.9M213.8 29h7M217.3 25.5v7M157.3 342.1h7.9M161.2 338.2v7.9M135.9 53.6h8.6M140.2 49.3v8.6M126.2 37.5h7.1M129.8 34v7.1M220.5 56.2h9.6M225.3 51.4v9.6M39.2 247.1h7.8M43.1 243.2v7.8M68.7 298h7.1M72.3 294.4v7.1M102 75.9h9M106.5 71.4v9M172.2 348.9h7.1M175.8 345.3v7.1M180.1 29.8h8.3M184.2 25.6v8.3M309.2 215.2h7.9M313.1 211.2v7.9M277.2 288.3h7.5M280.9 284.5v7.5M86.3 298.4h7.3M89.9 294.7v7.3M137 73.8h7.6M140.8 70v7.6M282.1 316.9h9M286.6 312.3v9M46 265.7h7M49.5 262.2v7M318.9 140.3h7.4M322.6 136.5v7.4M26 201h9M30.5 196.5v9M262.2 273.9h7.2M265.9 270.2v7.2M25.2 170.7h7M28.8 167.2v7M271.8 55.9h8.1M275.9 51.8v8.1M129.5 59.4h8.5M133.8 55.1v8.5M64.9 84.8h7.2M68.4 81.2v7.2M80.6 79.9h7.5M84.3 76.2v7.5M114 290h8.4M118.2 285.8v8.4M64.1 291.3h7.6M67.9 287.5v7.6M89.9 270.1h8.4M94.1 265.9v8.4M326.3 125.3h7.4M330 121.6v7.4M101 324.2h7.3M104.6 320.5v7.3M161.6 322.5h7.5M165.4 318.8v7.5M305.7 108.9h9.3M310.4 104.2v9.3M217.7 29.9h8.6M222 25.6v8.6M284.7 265.9h9.1M289.3 261.3v9.1M298.6 246.3h9.4M303.3 241.6v9.4M314.8 148.7h8.2M318.9 144.6v8.2M257.4 335h8M261.4 331v8M81.8 130.9h7.6M85.6 127.2v7.6M37 241.7h9.4M41.7 237v9.4M245.8 311.8h9.2M250.4 307.2v9.2M343.6 211.2h9.2M348.2 206.6v9.2M52.6 221.7h8.3M56.8 217.5v8.3M313.4 153.5h7.7M317.3 149.6v7.7M47.6 131.2h7.1M51.1 127.7v7.1M308.9 156.5h7.5M312.6 152.7v7.5M65.6 161h7.6M69.4 157.2v7.6M313.5 102.5h7.8M317.5 98.6v7.8M77.9 86.7h7.3M81.6 83v7.3M160.4 319h7.5M164.2 315.2v7.5M26.5 223.1h7.7M30.3 219.2v7.7M327.3 200.2h9.1M331.9 195.6v9.1M44.3 226.4h8.7M48.6 222v8.7M93 52.7h7.7M96.8 48.9v7.7M66.6 260.2h8.8M71 255.8v8.8M196.6 24.1h8.4M200.8 19.9v8.4M327 269h8.7M331.4 264.7v8.7M339.4 166.6h7.4M343.1 162.9v7.4M33.3 196.7h8.3M37.5 192.6v8.3M250 290.9h7.4M253.7 287.2v7.4M99 84.4h9.3M103.6 79.8v9.3M54.1 132.8h8.6M58.4 128.5v8.6M291.2 66.2h7.6M295 62.4v7.6M265.9 65h8.4M270.1 60.8v8.4M127.8 340.7h8.9M132.3 336.2v8.9M48.4 261.2h9M52.8 256.7v9M304.8 236.6h9.2M309.4 232v9.2M301.9 118h8.6M306.2 113.7v8.6M221.5 46.3h9.1M226.1 41.8v9.1M306 270.3h8.8M310.4 265.9v8.8M336.2 192.8h9.4M340.9 188.1v9.4M311.9 145h9M316.4 140.4v9M322 274.2h7.6M325.9 270.4v7.6M293.9 118.2h7.7M297.7 114.4v7.7M45.9 157.5h8.5M50.1 153.2v8.5M29.9 237.1h8.6M34.2 232.8v8.6M57.3 199.7h7.8M61.2 195.8v7.8M93.4 300.8h7.8M97.3 296.9v7.8M243.7 35h8M247.7 31v8M291.1 268.9h8.1M295.1 264.9v8.1M47.6 195.6h7M51.1 192v7M328.4 241.1h9M333 236.6v9M337.6 200.1h9M342.1 195.6v9M43.9 252.4h9.3M48.6 247.7v9.3M137.1 47.1h8.6M141.4 42.8v8.6M314.9 127.9h9M319.4 123.5v9M151.9 347.7h7.3M155.6 344.1v7.3M93.1 67.7h7.4M96.8 64v7.4M185.2 47h7.7M189 43.2v7.7M311.1 292.9h7.9M315.1 289v7.9M325.9 206h7.2M329.4 202.4v7.2M301.6 295.5h7.5M305.3 291.8v7.5M344.6 215h9.3M349.2 210.3v9.3M298 222.9h7.8M301.9 219v7.8M142 339.9h8.2M146.2 335.8v8.2M119.7 336.8h8.5M124 332.5v8.5M33.5 146.9h8.4M37.7 142.7v8.4M228.5 34.2h7.4M232.2 30.5v7.4M70.5 139.6h8.3M74.7 135.4v8.3M88.3 266h8M92.3 262v8M88.9 90.9h8.7M93.2 86.6v8.7M110.9 66.3h8.4M115.1 62.1v8.4M236.4 304.8h9.4M241.1 300v9.4M247.8 337.9h7.9M251.8 334v7.9M68.5 143.4h8.9M72.9 139v8.9M247.1 39.7h8.2M251.2 35.6v8.2M326.9 214.7h9.2M331.5 210.1v9.2M118.6 283.4h8.3M122.7 279.3v8.3M305.6 279.8h7.9M309.5 275.9v7.9M73.4 302.8h7.1M76.9 299.2v7.1M95.5 110.9h9.3M100.1 106.2v9.3M300.2 162.1h8.1M304.2 158.1v8.1M300.5 297.1h8.4M304.6 293v8.4M212.9 69.5h9M217.4 65v9M183.6 29.7h8.8M188 25.2v8.8M318.2 137.3h9.2M322.8 132.7v9.2M247.9 70.1h7.5M251.6 66.3v7.5M274.8 315.8h7.9M278.8 311.9v7.9M265.8 59.4h7.3M269.5 55.7v7.3M36.5 215.1h7.4M40.2 211.4v7.4M288.8 311.9h7.6M292.6 308.1v7.6M253.1 324h9.1M257.6 319.4v9.1M70.2 289.3h8.5M74.5 285.1v8.5M48.1 210.7h7.3M51.7 207.1v7.3M316.8 93.8h8M320.8 89.9v8M95.8 70.5h8M99.8 66.5v8M226 343.9h8.1M230.1 339.8v8.1M187.3 32.5h7.8M191.3 28.6v7.8M291.5 153.1h8.9M295.9 148.6v8.9M338.9 234.1h7.5M342.7 230.3v7.5M255.9 316.8h9.2M260.5 312.1v9.2M104.6 326.4h8M108.5 322.4v8M48.1 265.9h9.1M52.6 261.3v9.1M313.1 245.6h9M317.6 241.1v9M236.5 342.5h7.3M240.2 338.9v7.3M314.9 288.1h8M318.9 284.1v8M68.3 251.5h7.8M72.2 247.6v7.8M84.1 300.9h7.1M87.7 297.4v7.1M315.7 103.2h8.8M320.1 98.8v8.8M44.1 200h9.4M48.7 195.3v9.4M34.8 128.4h7.9M38.8 124.5v7.9M348.7 181h7.3M352.3 177.3v7.3M192.4 28.1h8.3M196.6 23.9v8.3M66.2 284.4h7.5M69.9 280.7v7.5M319.3 154.8h8.4M323.5 150.6v8.4M273.6 57.3h9M278.1 52.8v9M87.2 290.7h9M91.7 286.1v9M298.9 84.7h8.4M303.1 80.5v8.4M322 250.1h8.9M326.5 245.6v8.9M52.5 159.8h8.3M56.6 155.6v8.3M257.3 300.9h8M261.3 296.9v8M345.8 184.6h8.9M350.2 180.1v8.9M333.6 257.1h8.6M337.8 252.8v8.6M338.3 152.3h9M342.8 147.8v9M251 81.8h7.2M254.6 78.2v7.2M231.9 50.1h7.8M235.8 46.2v7.8M275.4 309.9h7.3M279 306.2v7.3M310.8 234.4h8.1M314.9 230.4v8.1M233.2 32.3h7.6M237 28.5v7.6M312 290.3h7.4M315.8 286.6v7.4M85.2 283.3h7.9M89.2 279.3v7.9M281.4 57.3h7.1M285 53.8v7.1M261.8 97.8h8.3M266 93.7v8.3M276.8 60h8.8M281.2 55.7v8.8M230.7 328.4h8.2M234.9 324.3v8.2M114 324.6h8.6M118.3 320.3v8.6M227.3 30.4h7.7M231.1 26.6v7.7M247.1 78.3h7.2M250.7 74.7v7.2M94.4 281.1h9M99 276.6v9M72.8 136.1h7.9M76.8 132.2v7.9M233.2 63.3h8.7M237.5 58.9v8.7M200.1 313.4h8M204.1 309.4v8M173.5 320.8h8.9M178 316.4v8.9M291.4 70.1h7.1M294.9 66.6v7.1M109.6 90.2h8.5M113.8 86v8.5M349.1 184.3h8M353.1 180.3v8M90.6 313.7h9M95.1 309.2v9M137.9 32.7h9M142.3 28.2v9M293.6 115h8.6M297.9 110.7v8.6M80.9 313.4h9M85.4 308.9v9M269.5 118.6h7.4M273.1 115v7.4M329.9 145.8h8.1M334 141.8v8.1M305.4 241.3h8.8M309.8 236.9v8.8M287 287.3h9.3M291.6 282.6v9.3M72.7 185.8h7.7M76.5 181.9v7.7M293.5 309.1h9.3M298.1 304.4v9.3M98.3 293h7.3M101.9 289.3v7.3M102.1 307.1h8.4M106.3 302.9v8.4M330.4 192.4h7.9M334.3 188.4v7.9M59.2 263.5h8.7M63.5 259.2v8.7M50.9 264h7.1M54.4 260.5v7.1M58.7 100.7h9.3M63.3 96.1v9.3M73.6 158.5h8.9M78.1 154v8.9M95.7 60.4h8.6M100 56.1v8.6M273.3 90h8M277.3 86v8M111.3 323.4h8.7M115.6 319.1v8.7M310.7 101.4h9M315.2 96.9v9M140.2 32.3h9.1M144.7 27.8v9.1M288.3 69.5h8.8M292.7 65.1v8.8M32.1 165.2h9.4M36.8 160.6v9.4M67.6 136.7h8.4M71.8 132.5v8.4M110 52.4h8.8M114.3 48v8.8M202.5 348.4h8.6M206.8 344.1v8.6M50.7 152.4h8.1M54.7 148.4v8.1M60.8 271.3h8.2M64.9 267.2v8.2M336 211.6h7.5M339.8 207.8v7.5M313.2 93.5h7.4M316.9 89.8v7.4M136.1 340.9h7.9M140.1 336.9v7.9M318.4 269.9h8.6M322.7 265.6v8.6M343.5 199h8M347.5 195v8M29.3 225.8h7.9M33.3 221.8v7.9M323.8 199.9h7.9M327.7 196v7.9M250.3 334h9.3M255 329.4v9.3M193.6 340.6h9.1M198.2 336.1v9.1M211.7 34.2h7.7M215.6 30.3v7.7M49 119.8h7.8M53 115.9v7.8M95.8 86.3h7.3M99.5 82.7v7.3M49.9 145.9h7.5M53.7 142.1v7.5M114.9 41.7h7.4M118.6 38v7.4M328.8 109.7h8.6M333.1 105.4v8.6M337 241.1h9M341.5 236.6v9M28 208.5h8.5M32.3 204.3v8.5M240 35.9h7.4M243.7 32.2v7.4M323.5 129h7.2M327.1 125.4v7.2M282.4 306.7h7.3M286.1 303v7.3M167.5 342.6h8.7M171.8 338.2v8.7M53.8 94.2h7.2M57.4 90.6v7.2M288.7 306.1h7.3M292.4 302.4v7.3M156 31.5h8M159.9 27.6v8M277.5 247.1h8.2M281.6 243v8.2M268.8 68h8.8M273.2 63.6v8.8M284.8 284.6h8.5M289.1 280.3v8.5M291.9 310.3h8.9M296.3 305.8v8.9M318.8 150.1h7.2M322.4 146.5v7.2M293 166.6h9.1M297.5 162v9.1M208.2 348.9h9.4M212.9 344.2v9.4M302.8 302.4h8.2M306.9 298.3v8.2M133.5 43.3h8.2M137.6 39.2v8.2M49.6 241h8.4M53.8 236.8v8.4M149.7 307.7h8.9M154.2 303.3v8.9M279.8 274.8h7.8M283.7 270.9v7.8M330.6 139.2h8.5M334.9 134.9v8.5M230.6 56.6h8.6M234.9 52.3v8.6M312.8 90.8h7.6M316.6 87.1v7.6M324.4 236h7.1M327.9 232.5v7.1M261.2 85.9h8.4M265.4 81.7v8.4M136.9 36.3h7.4M140.6 32.6v7.4M118.4 315.3h8.6M122.8 311v8.6M101.7 313.6h9.3M106.4 308.9v9.3M182.4 342.7h7.5M186.2 339v7.5M267.3 328.7h7.9M271.3 324.7v7.9M281.9 300.4h7.5M285.6 296.7v7.5M206 32.7h8.7M210.4 28.4v8.7M30.9 157.6h8M34.9 153.6v8M78.7 75.8h7.5M82.5 72v7.5M141.1 69.9h7.2M144.7 66.3v7.2M235.4 71.2h9.5M240.2 66.5v9.5M308.4 245.5h9.5M313.2 240.8v9.5M31.3 201.5h9.3M36 196.8v9.3M239.5 60.3h8.1M243.5 56.2v8.1M234.9 333.4h7.9M238.9 329.5v7.9M64.2 242.5h7.8M68.1 238.6v7.8M123.2 338.2h9.2M127.8 333.6v9.2M51.8 103.1h9M56.3 98.6v9M312.3 85.9h9.2M316.9 81.3v9.2M202.6 38.7h9M207.1 34.2v9M91.7 288.1h8.3M95.8 284v8.3M309 274.4h9.2M313.6 269.8v9.2M80.2 62.5h7.7M84.1 58.7v7.7M108.4 324.8h7.8M112.3 320.9v7.8M304.8 292.5h8.4M309 288.3v8.4M293.7 97.5h7.7M297.6 93.6v7.7M136.9 34.1h7.6M140.7 30.3v7.6M64.6 108.9h8.9M69.1 104.5v8.9M56.6 161.6h8.5M60.8 157.4v8.5M305.5 170.5h8.3M309.6 166.4v8.3M77.3 270.5h7.8M81.2 266.6v7.8M242.8 41.8h7.7M246.7 38v7.7M37.2 199.2h8.8M41.6 194.8v8.8M73.5 80.6h8.9M78 76.1v8.9M85 65.4h7.8M88.9 61.5v7.8M133.6 68.2h7.9M137.6 64.3v7.9M344.6 230.7h7.5M348.4 226.9v7.5M299.3 267h8.7M303.6 262.7v8.7M266.3 268.5h9.4M271 263.8v9.4M162.6 345.6h9.3M167.3 341v9.3M297.4 95.4h7.7M301.3 91.6v7.7M192.4 39.8h9.3M197.1 35.1v9.3M83.7 275.9h9.6M88.5 271.1v9.6M275.9 292.3h9.1M280.4 287.8v9.1M82.7 314.8h8.7M87 310.5v8.7M45.1 192.3h9.2M49.7 187.7v9.2M36.5 230.7h7.9M40.5 226.8v7.9M48.9 238.1h7.5M52.6 234.4v7.5M343 234.1h7.4M346.7 230.4v7.4M102.5 50.9h7.7M106.3 47v7.7M47.4 244.1h7.2M51 240.5v7.2M166.8 27.2h8.8M171.2 22.8v8.8M313.4 87.4h9.4M318.1 82.7v9.4M45.5 105.5h7.2M49.1 101.9v7.2M244.9 50.8h8.3M249 46.7v8.3M46.8 267.8h7.8M50.7 263.9v7.8M309.3 282.4h7.3M312.9 278.8v7.3M264.6 46.4h9.4M269.3 41.7v9.4M83.4 309.8h9.3M88 305.1v9.3M27.9 223.5h9M32.4 219v9M55 104.3h7.2M58.6 100.7v7.2M206.3 309h8.7M210.6 304.7v8.7M307.3 253.7h8.2M311.4 249.6v8.2M36.7 123.8h7.5M40.5 120v7.5M323.5 227.4h7.4M327.2 223.7v7.4M297.9 70.8h9.3M302.5 66.2v9.3M50.9 202.7h7.8M54.8 198.8v7.8M185.1 348h8.3M189.3 343.8v8.3M333.6 214.3h7.9M337.5 210.3v7.9M271.8 256.4h8.7M276.2 252v8.7M283.1 62.6h8.1M287.2 58.5v8.1M71.3 254.5h9.3M75.9 249.9v9.3M323.2 184.6h9.5M328 179.9v9.5M346.3 157.2h8.2M350.4 153.2v8.2M242.4 87.2h7.2M246 83.6v7.2M258.2 325.4h8.1M262.3 321.3v8.1M277.3 284.3h7.3M280.9 280.7v7.3M305.3 79.7h8.6M309.6 75.4v8.6M343.6 159.8h8.1M347.7 155.8v8.1M55.8 240.1h8M59.8 236.1v8M320.2 228.9h8.1M324.2 224.8v8.1M327.5 163h7.2M331.1 159.4v7.2M143.1 41.2h7.7M147 37.4v7.7M288.8 297.5h7.6M292.6 293.7v7.6M113.3 327.1h7M116.8 323.6v7M97.9 99.8h7.4M101.5 96.2v7.4M80 311.3h8.5M84.2 307v8.5M68.5 294.4h9.2M73.1 289.8v9.2M278 99.7h7.9M282 95.8v7.9M32.6 217.2h7M36.2 213.7v7M238.4 293.9h7.9M242.4 290v7.9M226.6 37.2h8.3M230.8 33.1v8.3M32.2 213.3h8.1M36.2 209.2v8.1M277.9 91.6h9.2M282.5 86.9v9.2M343 164.4h9.3M347.7 159.8v9.3M328.7 188.5h8.2M332.9 184.3v8.2M171 54.5h9M175.5 50v9M272.4 68.2h8.5M276.6 63.9v8.5M151 40.6h9.3M155.6 36v9.3M177.3 325.1h9.5M182.1 320.4v9.5M220.7 336.5h8.5M224.9 332.3v8.5M282.7 58.8h7.3M286.3 55.1v7.3M61.9 158.2h9M66.3 153.7v9M250.5 40h9.2M255 35.4v9.2M348.2 164.8h8.3M352.3 160.7v8.3M233.7 39.2h9M238.2 34.7v9M163.9 327.7h8.1M167.9 323.7v8.1M245.2 339.9h8.9M249.6 335.4v8.9M138.3 63.5h8.7M142.7 59.1v8.7M132.7 53.9h7.7M136.5 50.1v7.7M51.3 272.9h8.3M55.5 268.8v8.3M54.4 100.6h8.7M58.7 96.2v8.7M59.4 166.9h9.6M64.2 162.1v9.6M347.8 166.8h9.4M352.5 162.1v9.4M187.9 54h9.1M192.5 49.5v9.1M235.5 321.7h9.2M240.1 317.1v9.2M97 263.4h8M101 259.4v8M286.5 278.4h7.7M290.3 274.5v7.7M333.7 139.5h9M338.2 135v9M44.5 233.6h8.9M48.9 229.1v8.9M266 320.2h8.4M270.2 316v8.4M343.4 190.4h7.5M347.2 186.7v7.5M336 247.3h7.5M339.7 243.5v7.5M346.1 224.4h7.5M349.9 220.7v7.5M69.7 166.5h9.2M74.3 161.9v9.2M241.8 34.9h7.3M245.5 31.3v7.3M341.6 171.4h7.5M345.4 167.6v7.5M87.4 125.7h8.6M91.7 121.4v8.6M114.8 326.8h9.2M119.4 322.2v9.2M255.9 322.5h9M260.4 318v9M118.8 40.1h8.4M123 35.9v8.4M323.3 103.9h7.8M327.2 100v7.8M284.3 276h8.4M288.5 271.8v8.4M343.4 213.1h7M346.9 209.6v7M125.6 339.9h8.1M129.7 335.8v8.1M323.3 273.3h8.5M327.6 269.1v8.5M47.4 270.1h7.1M50.9 266.5v7.1M341.3 167.5h9.3M346 162.8v9.3M63.9 118.7h9M68.4 114.2v9M227.1 61.1h9.3M231.7 56.4v9.3M249.7 90.4h9.1M254.3 85.8v9.1M224 329.1h8M228 325v8M42.8 248.3h7.5M46.6 244.5v7.5M347 178.6h7.1M350.6 175v7.1M105.8 328.4h7.5M109.5 324.6v7.5M315.2 266.6h8.5M319.4 262.4v8.5M51.5 95.2h7.3M55.2 91.5v7.3M146.6 340h7.4M150.3 336.3v7.4M188.6 350.5h9.3M193.2 345.8v9.3M124 295.2h8.2M128.1 291.1v8.2M100.7 58h8.6M105 53.7v8.6M283.3 57.4h8M287.3 53.4v8M87.3 135.3h7.4M91 131.6v7.4M300.6 94.7h7.2M304.2 91.1v7.2M348 203.1h8.8M352.4 198.7v8.8M315.9 186.3h7.4M319.6 182.6v7.4M323.6 114.2h7.1M327.1 110.6v7.1M167.3 56.9h8.8M171.7 52.5v8.8M291.3 273.1h7.2M294.9 269.5v7.2M81.4 305.7h9.4M86 301v9.4M32.4 133.1h8.9M36.9 128.7v8.9M317.5 98h8M321.5 93.9v8M27.4 227.3h8.1M31.4 223.2v8.1M54.7 128.8h8.6M59 124.5v8.6M271.9 47.7h7.5M275.6 44v7.5M256.2 72.4h7.5M260 68.6v7.5M120.5 81.3h7.2M124.1 77.7v7.2M286.2 83.8h7.2M289.8 80.2v7.2M332.1 166.5h7.8M336 162.6v7.8M121.9 306.5h9.1M126.5 301.9v9.1M39.5 175.9h9.2M44.1 171.3v9.2M39.8 152.1h9M44.3 147.6v9M334.6 250.5h7.3M338.3 246.8v7.3M229.5 339.1h8.4M233.7 335v8.4M29.1 175.5h7.9M33.1 171.6v7.9M255 325.7h9.4M259.7 321v9.4M287.6 138.5h7.6M291.4 134.7v7.6M289.6 148.9h7.5M293.4 145.2v7.5M272.6 50.9h8.9M277 46.5v8.9M248.3 321.5h8.9M252.8 317v8.9M316.8 122.3h7.2M320.4 118.6v7.2M77.3 286.6h7.2M80.9 283v7.2M259.2 66.8h7.7M263.1 63v7.7M143.6 345.7h7.3M147.2 342v7.3M35.4 245.4h9.4M40.1 240.7v9.4M344.4 161.5h9.3M349 156.8v9.3M285.5 315.7h9.2M290.1 311.1v9.2M348.6 178.8h7.4M352.3 175.1v7.4M226.4 308.5h8.5M230.7 304.2v8.5M262.8 304.2h8.4M267 300v8.4M286 257.9h8M290 253.9v8M308.3 85.8h7.1M311.9 82.3v7.1M295 262.1h9M299.5 257.6v9M321.9 256.4h8.6M326.2 252.1v8.6M29.5 213.8h9.1M34 209.3v9.1M297.1 259.9h8.9M301.5 255.4v8.9M344.3 167.8h8.1M348.3 163.8v8.1M342.3 145.4h9.3M347 140.8v9.3M318.6 95.3h7.3M322.2 91.6v7.3M66 206.2h8.3M70.1 202v8.3M210.4 343.8h7.1M213.9 340.3v7.1M146.5 43.4h7.1M150 39.8v7.1M284.8 303.4h7.1M288.3 299.8v7.1M254.6 292.6h8.1M258.6 288.6v8.1M101.4 291.1h9.5M106.2 286.4v9.5M41.2 116.2h7.1M44.8 112.7v7.1M44.3 132.2h8.2M48.4 128.1v8.2M77.8 134.7h9.5M82.6 129.9v9.5M247.2 327.5h8.6M251.5 323.2v8.6M286.4 304.5h8.7M290.8 300.1v8.7M52.1 269.3h7.5M55.8 265.5v7.5M348.1 194.7h9M352.6 190.1v9M252.8 337h8M256.8 333v8M312.5 268.3h7.4M316.2 264.6v7.4M120.4 50.4h7.5M124.1 46.6v7.5M28.8 203.6h7.2M32.4 199.9v7.2M91.6 70.5h9M96.2 66v9M278.5 317.9h7.3M282.1 314.3v7.3M29.5 181.2h9.3M34.1 176.6v9.3M165.3 312.6h8.1M169.3 308.6v8.1M320.2 242.7h8.4M324.4 238.5v8.4M308.2 89.7h9.2M312.8 85v9.2M77.3 232h9.4M82 227.3v9.4M126.8 330h8.3M130.9 325.8v8.3M238.7 339.4h9.3M243.3 334.7v9.3M67.6 300.5h7.6M71.4 296.7v7.6M43.2 126.6h8.8M47.6 122.2v8.8M238.3 311.4h7.9M242.2 307.5v7.9M269.9 304.4h8.1M273.9 300.4v8.1M314.9 280.7h8.2M319.1 276.6v8.2M247 36.7h8.6M251.3 32.4v8.6M273.7 113.6h9M278.2 109.2v9M128.1 70.6h9.3M132.8 65.9v9.3M100.1 326.1h7.7M104 322.2v7.7M320.6 104.9h8.1M324.7 100.8v8.1M259.8 287.7h7.3M263.5 284v7.3M113.9 95.8h8.7M118.2 91.5v8.7M24.8 159.2h8.3M29 155v8.3M91.5 79.2h9.1M96 74.6v9.1M78.4 310.2h7.6M82.2 306.5v7.6M61.9 110.5h7.8M65.8 106.6v7.8M345.7 152.8h7M349.1 149.4v7M342.1 211.1h8M346.1 207.1v8M35 235.9h8.3M39.1 231.8v8.3M74.5 104.8h8.2M78.6 100.7v8.2M316 251.3h7.5M319.8 247.5v7.5M307 92.9h7.3M310.6 89.2v7.3M330.4 228.4h8.1M334.5 224.4v8.1M279.6 320.8h9.2M284.2 316.2v9.2M267.9 302h7.2M271.5 298.4v7.2M307.9 187.4h9.4M312.6 182.7v9.4M276.5 74.4h9.4M281.2 69.7v9.4M289.9 119.3h8.5M294.2 115.1v8.5M286.3 58.4h8.5M290.6 54.1v8.5M32.3 135.7h7.6M36.1 131.9v7.6M219.9 342.5h8.9M224.4 338.1v8.9M176 339.4h8.8M180.4 335v8.8M315.6 90h8M319.5 86v8M343.7 143.5h7.9M347.6 139.5v7.9M156.2 26.9h7.9M160.1 22.9v7.9M50.1 278.4h7.8M54 274.5v7.8M205.3 30.1h7.4M209.1 26.4v7.4M144.4 37.8h8.1M148.4 33.7v8.1M84.5 291.8h7.9M88.4 287.9v7.9M318.6 110.5h7.4M322.3 106.8v7.4M58.2 95.1h8.1M62.2 91v8.1M300.8 301.5h9.2M305.4 296.9v9.2M70 74.6h9M74.5 70.1v9M317.2 263.4h7.8M321 259.5v7.8M119.9 328.7h9.1M124.4 324.2v9.1M71.6 296.5h7.1M75.1 292.9v7.1M301 264h8.5M305.3 259.8v8.5M234.5 53.5h7M238.1 50v7M275.7 51.1h7.7M279.5 47.3v7.7M73.1 289.1h9M77.6 284.6v9M41 230.6h7.6M44.8 226.8v7.6M327.3 265.4h7.6M331.1 261.6v7.6M234.1 295.4h7.6M237.9 291.6v7.6M175.7 346.3h9.1M180.2 341.7v9.1M215.6 59h8.5M219.9 54.8v8.5M40.4 208.2h9.3M45.1 203.5v9.3M31.6 238.3h8M35.6 234.3v8M65.9 83h7M69.4 79.5v7M265.5 293.1h8M269.5 289.1v8M64.3 135.7h7.5M68.1 131.9v7.5M120.7 37.2h8.9M125.1 32.8v8.9M46.6 214.1h7.8M50.6 210.2v7.8M93 311.9h8.2M97.1 307.8v8.2M146.4 40.3h7.1M149.9 36.7v7.1M294.5 265.1h7.7M298.3 261.2v7.7M76 273.8h8.9M80.5 269.4v8.9M311.5 92.6h7.1M315 89.1v7.1M222.8 59.3h8.9M227.3 54.9v8.9M294.8 81.1h8M298.8 77.1v8M301.9 219.2h9.2M306.5 214.6v9.2M198.1 339.1h8.7M202.4 334.7v8.7M334.5 134.4h8.3M338.7 130.2v8.3M260.8 282.6h8.1M264.8 278.6v8.1M116.5 51.2h8.7M120.9 46.8v8.7M147.8 303.9h8.3M152 299.7v8.3M323.3 138.6h8.9M327.7 134.2v8.9M278.9 67.3h8M282.9 63.3v8M276.7 88.8h9.3M281.3 84.1v9.3M60.3 86.5h8.4M64.5 82.3v8.4M267.3 260.7h7.8M271.2 256.8v7.8M248.2 306.4h8.8M252.6 301.9v8.8M241.9 316.7h7.6M245.7 312.9v7.6M81 294.6h8.4M85.2 290.4v8.4M344.3 197.7h9.2M348.9 193v9.2M337.9 159h7.5M341.7 155.3v7.5M280.3 314.1h9M284.8 309.6v9M227.5 338.5h7.7M231.4 334.6v7.7M39.6 122.6h7.7M43.5 118.8v7.7M151.1 321.4h8M155.1 317.3v8M123.1 289h8.7M127.4 284.7v8.7M24.5 200h7.5M28.2 196.2v7.5M223.5 332.5h8.8M227.9 328.1v8.8M169.5 27.2h8.3M173.7 23.1v8.3M307.2 95h8.4M311.4 90.8v8.4M332.7 224.2h9.2M337.3 219.5v9.2M263.6 328.8h7.5M267.3 325.1v7.5M291.7 94.5h9.5M296.4 89.8v9.5M203.7 35h9.3M208.4 30.3v9.3M288 232.8h7.9M291.9 228.9v7.9M127.8 47.8h9M132.3 43.3v9M286 241.6h9.4M290.7 236.9v9.4M239.2 33.8h8.2M243.3 29.7v8.2M188.3 26.4h8.2M192.4 22.3v8.2M206.2 27.1h8.5M210.5 22.9v8.5M307.4 129.6h9M311.9 125.1v9M248.1 61.3h8.4M252.3 57.1v8.4M96.1 81.4h8.9M100.5 76.9v8.9M314.9 200.3h7.4M318.6 196.6v7.4M309.6 290.3h9.1M314.1 285.8v9.1M255.6 306.1h9.3M260.3 301.5v9.3M158.7 26.7h7.6M162.5 23v7.6M315.8 282.5h7.4M319.5 278.9v7.4M156.9 345.2h7.7M160.7 341.4v7.7M332.1 241.5h7.3M335.8 237.8v7.3M229.9 341.7h7.1M233.4 338.2v7.1M338.9 130.7h7.6M342.7 126.9v7.6M279.4 53.2h8.1M283.4 49.2v8.1M263.1 56.5h7.1M266.7 52.9v7.1M45.8 102.6h8.3M49.9 98.5v8.3M54.3 269.7h7.7M58.1 265.8v7.7M318.8 92.1h9M323.3 87.6v9M292 62.6h7M295.5 59.1v7M28.6 164.9h7.9M32.6 161v7.9M273.3 285.4h8.8M277.7 281v8.8M297.6 305.8h8.6M301.9 301.5v8.6M332 238.2h7.6M335.8 234.5v7.6M84 305.3h9.2M88.6 300.6v9.2M337.3 237.1h8M341.3 233.1v8M42.8 154.5h8.8M47.2 150.2v8.8M252.4 42.8h8.2M256.5 38.7v8.2M276.2 318h8.2M280.3 314v8.2M91 93.5h9.2M95.6 88.9v9.2M162.2 45.2h8.6M166.5 40.9v8.6M25.2 161.3h7M28.7 157.8v7M178.4 320.5h8.5M182.6 316.2v8.5M310.8 259.7h7.9M314.7 255.8v7.9M168.7 319h9.2M173.3 314.4v9.2M305.1 94.8h7M308.6 91.3v7M328.8 253.3h9.2M333.4 248.7v9.2M346.2 172.7h8.9M350.7 168.2v8.9M279 319.9h7.8M282.9 316v7.8M321.4 253.8h8.8M325.8 249.4v8.8M315.7 273.8h9.2M320.3 269.2v9.2M165.8 346.1h9.1M170.4 341.5v9.1M47 100.9h8.6M51.3 96.7v8.6M59.7 88.9h8.5M63.9 84.7v8.5M93.8 60h7.1M97.4 56.5v7.1M328.2 246.7h7.1M331.7 243.2v7.1M40.7 141.6h8.2M44.8 137.5v8.2M313.7 222.9h9.5M318.5 218.2v9.5M38.4 128.1h7.8M42.3 124.3v7.8M338.1 224.5h7.5M341.9 220.7v7.5M347.1 167.4h7.4M350.8 163.7v7.4M243.7 309.4h7.4M247.4 305.7v7.4M303.5 148h7.2M307.1 144.4v7.2M263.9 44.7h8M267.9 40.7v8M243.7 336.5h7.6M247.5 332.7v7.6M299.4 276.4h7.6M303.2 272.6v7.6M53 199.3h7.6M56.8 195.5v7.6M46.3 257.1h8.6M50.5 252.8v8.6M304.5 297.5h7.1M308 293.9v7.1M291.3 81.8h9.3M295.9 77.2v9.3M283.4 313.3h7.2M287 309.6v7.2M210.5 53.3h9.4M215.2 48.6v9.4M123.1 40.7h9.1M127.7 36.2v9.1M56 212h8.6M60.3 207.8v8.6M78.4 308.7h9M82.9 304.2v9M328.8 112.1h7.4M332.5 108.4v7.4M90.4 58.7h9.4M95.1 54v9.4M238.5 335.2h8.7M242.9 330.9v8.7M189.5 311h8.1M193.6 306.9v8.1M322.1 125.8h9.3M326.7 121.2v9.3M105.6 282.5h8.6M109.9 278.2v8.6M186.1 315h7.6M189.9 311.2v7.6M123.7 334.4h7.1M127.3 330.8v7.1M299.3 100.9h8.9M303.8 96.4v8.9M140.4 337.5h7.5M144.1 333.8v7.5M301.6 299.4h8.9M306.1 295v8.9M303.6 208h7.5M307.4 204.3v7.5M146 324.6h8.6M150.3 320.3v8.6M299.1 227.2h8.5M303.3 223v8.5M153.9 342.5h7.6M157.7 338.6v7.6M167.1 332.8h8.3M171.3 328.6v8.3M89.5 58.1h7.4M93.2 54.4v7.4M84.2 75.4h9M88.7 70.9v9M214.4 339.9h7.3M218 336.3v7.3M196.2 49.1h9.2M200.8 44.5v9.2M277 53.7h7.5M280.7 49.9v7.5M276.8 312h8.5M281.1 307.8v8.5M298.3 211.6h7.6M302.1 207.8v7.6M143.7 304.3h9M148.1 299.9v9M170.4 59.5h9.1M174.9 54.9v9.1M343.1 219.6h8.5M347.3 215.4v8.5M106.1 325.1h7.6M109.9 321.2v7.6M308.5 78.8h9M313 74.3v9M265.8 56.6h7M269.4 53v7M32.5 230.5h7.5M36.2 226.7v7.5M224.5 34h7.3M228.2 30.3v7.3M298.8 75.2h9M303.4 70.7v9M64.1 263.2h7.9M68.1 259.3v7.9M198.6 348h7.6M202.5 344.2v7.6M117.6 330.4h7.4M121.3 326.8v7.4M32 145.9h7.1M35.6 142.4v7.1M213.3 345.3h7.9M217.2 341.3v7.9M100.2 79h9M104.7 74.5v9M249 39.1h7.9M253 35.1v7.9M75.4 66.9h9M79.9 62.4v9M311.2 274h9.1M315.8 269.5v9.1M312.8 157.1h8.3M317 152.9v8.3M153.6 26.7h9.4M158.3 22.1v9.4M43.3 261.3h8.3M47.5 257.2v8.3M315.4 256.3h8.8M319.9 251.8v8.8M22.1 194h8.7M26.4 189.7v8.7M176 331.7h9.1M180.5 327.1v9.1M311.9 288h7.3M315.5 284.4v7.3M27.6 180.3h8.1M31.6 176.3v8.1M302.4 102.6h7.3M306 98.9v7.3M323.4 155h8.3M327.5 150.9v8.3M36.1 146.9h8.6M40.4 142.6v8.6M131 318.9h8.4M135.3 314.6v8.4M322.7 266.8h9.4M327.4 262.1v9.4M329.6 129.7h9.1M334.2 125.2v9.1M306.8 221h8.9M311.2 216.6v8.9M296.4 70.2h9.1M301 65.7v9.1M258.6 333.6h8.7M262.9 329.3v8.7M303.4 76h9.2M308 71.4v9.2M286.7 310.7h8M290.7 306.7v8M342.9 226.9h8.8M347.3 222.5v8.8M323.8 254.8h8.7M328.2 250.5v8.7M292 308h9.2M296.6 303.4v9.2M314.3 141.6h7.7M318.2 137.7v7.7M219 64.7h7.5M222.7 60.9v7.5M92.7 316.1h8.8M97.1 311.7v8.8M102.9 317.9h8.5M107.2 313.6v8.5M253.3 278.9h8.6M257.6 274.6v8.6M92.7 294h9.1M97.3 289.4v9.1M183.1 27.2h8.1M187.1 23.2v8.1M81.8 265.5h8.8M86.2 261.1v8.8M159 51.5h8.5M163.2 47.3v8.5M158.2 333.8h9.1M162.7 329.2v9.1M52.5 265.3h9.4M57.2 260.6v9.4M226 78.4h9.4M230.7 73.7v9.4M320.5 280.6h8.6M324.8 276.3v8.6M226.8 32.9h7.1M230.4 29.4v7.1M127.7 62.5h8.1M131.7 58.4v8.1M284.8 130.5h7.3M288.4 126.9v7.3M67 295.4h7.6M70.7 291.6v7.6M51.3 164.4h9.1M55.9 159.8v9.1M342.1 237.7h8M346.1 233.7v8M289.1 62.4h9.4M293.8 57.7v9.4M316.3 283.9h7.7M320.2 280v7.7M58.4 246.4h8M62.4 242.4v8M285 249.5h8.1M289 245.5v8.1M338.4 173.3h8M342.4 169.3v8M52.4 100.4h7.2M55.9 96.8v7.2M85.5 308.8h9M90 304.3v9M270.3 313.3h7.7M274.1 309.5v7.7M236.8 64.1h8M240.8 60.1v8M167.3 325.7h8M171.2 321.7v8M46.8 135.4h7.9M50.8 131.5v7.9M233.8 34.7h9.3M238.4 30.1v9.3M283.9 269h7.2M287.5 265.4v7.2M343.7 217.1h7.2M347.3 213.5v7.2M35.1 177.7h7.5M38.8 174v7.5M259.6 330h7.6M263.4 326.2v7.6M267.9 323.6h7.6M271.8 319.8v7.6M92.1 291.1h7.7M96 287.3v7.7M231.6 344h8.7M236 339.6v8.7M288.3 237.6h8.4M292.5 233.4v8.4M317.6 158.6h7.4M321.3 154.9v7.4M326.9 108.7h7.6M330.7 104.9v7.6M53.6 280.3h8.2M57.7 276.3v8.2M111.7 292.5h7.4M115.4 288.8v7.4M308.4 294.7h9.4M313 290.1v9.4M83.9 67.1h7.3M87.6 63.4v7.3M87.3 294h7.3M90.9 290.3v7.3M329.1 206h8.6M333.4 201.7v8.6M43.9 182.1h9.4M48.6 177.4v9.4M303.8 74h7.8M307.7 70.2v7.8M343.9 201.9h7.2M347.5 198.3v7.2M340.1 233.1h8.1M344.2 229v8.1M39.9 156.2h8M43.9 152.2v8M64.1 126.2h9.3M68.7 121.5v9.3M98.6 73.8h9.2M103.2 69.2v9.2M279.2 290.5h9.3M283.9 285.8v9.3M82.8 85.7h9M87.3 81.2v9M249.2 336.5h7.9M253.1 332.5v7.9M294.2 288.8h8.7M298.5 284.5v8.7M114.8 46.1h8.2M118.9 42v8.2M49.7 107.4h8.6M54 103.1v8.6M338 137.3h7.2M341.6 133.7v7.2M118.7 57.7h7.5M122.5 53.9v7.5M260.7 302h8.3M264.9 297.8v8.3M141.7 30.3h9.1M146.3 25.8v9.1M58.3 288.5h7.9M62.3 284.6v7.9M33.7 171.6h8.7M38 167.3v8.7M294.3 232.7h8.3M298.5 228.6v8.3M70.7 105h7.9M74.6 101v7.9M97.6 120.5h9.6M102.4 115.7v9.6M157.3 312.6h7.4M161 308.8v7.4M61.6 114.3h9.4M66.2 109.6v9.4M338 231.6h8.2M342.1 227.5v8.2M291.9 262.1h9.3M296.6 257.4v9.3M200.5 27.3h7.8M204.4 23.4v7.8M300.8 91.6h7.5M304.5 87.9v7.5M34.3 153.2h8.3M38.5 149.1v8.3M47.4 264.3h7.1M50.9 260.7v7.1M50 271.4h8.3M54.1 267.2v8.3M64.6 279.5h7.9M68.5 275.6v7.9M323.8 242.4h7.3M327.5 238.8v7.3M228.5 345.5h8.4M232.7 341.4v8.4M69.3 78h7.4M73 74.3v7.4M268.3 100.7h7.8M272.2 96.8v7.8M332.7 153.1h7.3M336.4 149.4v7.3M69.5 302h7.2M73.1 298.4v7.2M281.1 62.3h7.9M285 58.4v7.9M55.2 280.9h9.1M59.8 276.3v9.1M274.4 323.6h7.4M278.1 319.9v7.4M269.9 50.9h7.8M273.8 47v7.8M300.6 252.9h8.8M305 248.5v8.8M134.3 38.2h7.7M138.1 34.3v7.7M344.9 188.7h8.2M349 184.6v8.2M189.8 37.8h8.7M194.2 33.4v8.7M45 122.8h8.5M49.3 118.6v8.5M323.7 261.2h7.8M327.6 257.3v7.8M141.3 334.4h8M145.3 330.4v8M187.1 348h8.6M191.4 343.7v8.6M348.3 192.2h8.1M352.4 188.2v8.1M153.2 346.1h7.2M156.8 342.5v7.2M133.7 324.3h8.3M137.9 320.2v8.3M338.6 185.2h9.1M343.2 180.6v9.1M334.8 245.4h7.6M338.6 241.6v7.6M247 46.7h7.1M250.5 43.1v7.1M123.4 88.9h8.9M127.9 84.5v8.9M295.4 277.9h8.5M299.7 273.7v8.5M326.5 262.7h8.2M330.6 258.6v8.2M111.3 332.7h8M115.3 328.7v8M322.5 279h7.4M326.2 275.3v7.4M101.1 270.3h9.1M105.7 265.7v9.1M311.2 238.9h7.3M314.8 235.2v7.3M319.3 250.8h9M323.8 246.3v9M34.1 245.7h8.3M38.2 241.6v8.3M39.8 249h8.1M43.9 244.9v8.1M50.7 230.4h8.6M55 226.1v8.6M23 179.3h8.9M27.4 174.8v8.9M324.2 149.1h8.2M328.3 145v8.2M138.7 340.4h9.4M143.4 335.7v9.4M201.7 316.8h8.8M206.1 312.4v8.8M341.7 141.8h8.5M346 137.6v8.5M121.9 43h8.6M126.2 38.7v8.6M107 44.6h8.2M111.1 40.5v8.2M347 190.7h7.7M350.9 186.8v7.7M128.2 338.9h7.6M132 335.1v7.6M332.3 119.3h9.4M337 114.6v9.4M208.1 29.9h8.3M212.3 25.8v8.3M44.2 108.7h8.8M48.6 104.3v8.8M334.6 124h8.8M339 119.6v8.8M206.1 323.9h9M210.7 319.4v9M230.2 76.5h8.3M234.3 72.3v8.3M64.7 276.3h7M68.2 272.8v7M291.4 279.8h8.7M295.8 275.5v8.7M83.7 258.9h7.8M87.6 255v7.8M127.8 325.8h8.9M132.3 321.3v8.9M38.5 225.1h7.3M42.2 221.4v7.3M318.3 101.1h8.3M322.5 96.9v8.3M240.7 52.7h7.1M244.2 49.2v7.1M337 227.2h7.6M340.8 223.4v7.6M175.4 31.4h7.8M179.3 27.5v7.8M47.9 184.8h7.3M51.5 181.2v7.3M242.2 331.3h7.2M245.8 327.7v7.2M229.3 310.1h9.1M233.9 305.5v9.1M341.8 156h7.9M345.7 152.1v7.9M340.6 197.7h8.5M344.9 193.5v8.5M141.7 48.3h9.4M146.3 43.6v9.4M349.9 198.5h7.9M353.8 194.5v7.9M281.6 54.4h8.7M285.9 50.1v8.7M206 330.5h8.9M210.4 326.1v8.9M315.1 116.5h7.9M319.1 112.5v7.9M116.7 39.6h8.4M120.9 35.5v8.4M57.4 276.4h7.2M60.9 272.8v7.2M121.8 47.4h8.4M126 43.2v8.4M281.6 92.1h8M285.5 88.1v8M276.8 272.2h8.8M281.2 267.7v8.8M274.7 53.8h7M278.2 50.3v7M303 266.7h8M307 262.6v8M89.4 75.5h7.6M93.2 71.7v7.6M71 304h8.8M75.3 299.6v8.8M55.3 260.4h9M59.8 255.9v9M52.9 238.9h7.7M56.7 235v7.7M278.5 70.1h7.9M282.5 66.1v7.9M309.1 286.6h9.1M313.6 282.1v9.1M298.6 92.9h7.2M302.1 89.3v7.2M346.1 210.8h8.9M350.5 206.4v8.9M335.3 153.8h8.9M339.7 149.4v8.9M54.1 106.7h7.9M58 102.8v7.9M163.7 50.8h9.3M168.3 46.2v9.3M339 239.3h7.3M342.6 235.6v7.3M236.1 74.8h8.6M240.4 70.5v8.6M110.2 46.1h8.2M114.3 42v8.2M26.4 203.5h7.4M30.1 199.8v7.4M112.5 312.3h8.2M116.6 308.1v8.2M329.5 179.4h7.7M333.4 175.6v7.7M341.3 215.3h8.7M345.6 211v8.7M344.8 182.7h7.2M348.4 179.1v7.2M78.1 305.7h9.1M82.6 301.1v9.1M62.7 185.3h7.6M66.5 181.5v7.6M37 238.9h8.8M41.4 234.5v8.8M305.7 282.9h9.2M310.3 278.3v9.2M173.7 47.7h8.3M177.9 43.5v8.3M335.1 147.4h9.2M339.7 142.8v9.2M54 114h7.4M57.7 110.3v7.4M64.6 156h9.6M69.4 151.1v9.6M274.2 313h8.7M278.6 308.7v8.7M316.8 226.8h8M320.8 222.8v8M243.4 339.1h8.7M247.8 334.7v8.7M337.6 248.6h7.4M341.3 244.9v7.4M320.4 201.1h8.3M324.6 196.9v8.3M290.2 60.5h7.3M293.9 56.9v7.3M192.3 320.2h9.5M197.1 315.5v9.5M69.5 87.2h8.4M73.7 83v8.4M328.8 258.5h8.3M332.9 254.4v8.3M326 140.3h7.7M329.8 136.5v7.7M207.9 41.3h7.5M211.6 37.6v7.5M120.2 304h8.1M124.2 299.9v8.1M292.8 306.2h9.2M297.4 301.6v9.2M123.9 38.6h8.9M128.3 34.2v8.9M340.4 140.5h7.3M344 136.9v7.3M147.8 345.9h7.6M151.6 342.2v7.6M261.5 316.8h8.8M265.9 312.4v8.8M98.3 92.3h9.2M102.9 87.7v9.2M62.5 88.8h7.2M66.1 85.2v7.2M308.2 296.2h8.2M312.4 292.1v8.2M312.4 120.3h8.1M316.4 116.3v8.1M89.2 297.6h7.8M93.1 293.7v7.8M305.2 135.9h9.1M309.8 131.3v9.1M24.9 176.2h9.2M29.5 171.6v9.2M188.1 328.6h9.1M192.7 324.1v9.1M135.7 343.2h7.3M139.3 339.6v7.3M216.7 28.2h7.6M220.6 24.4v7.6M172.9 311.2h8.8M177.3 306.7v8.8M49.7 97.9h8.1M53.7 93.8v8.1M329.3 237h8.2M333.3 232.9v8.2M103.3 298.9h8.6M107.7 294.6v8.6M49.1 258.6h8.7M53.5 254.3v8.7M223 305.4h8.1M227 301.3v8.1M302.6 193.6h8.9M307 189.2v8.9M127.6 287.1h8.3M131.7 283v8.3M209.6 28.1h9.2M214.2 23.5v9.2M253.6 84.3h7.5M257.4 80.6v7.5M196.3 342.7h8.2M200.4 338.6v8.2M287.6 67.6h7.5M291.3 63.9v7.5M144.4 66.7h7.4M148.1 63v7.4M45 129.4h8.2M49.1 125.4v8.2M113.9 82.7h9.3M118.6 78.1v9.3M335.5 137.6h7.8M339.4 133.7v7.8M68.4 73.8h7.8M72.3 69.9v7.8M344.9 174.6h8.9M349.4 170.2v8.9M222.3 30h7.2M225.9 26.4v7.2M36.8 120.5h9M41.3 116v9M205.8 350h8.1M209.9 346v8.1M335.8 224.5h7.6M339.6 220.7v7.6M49.5 114.8h7M53 111.3v7M291.7 295.3h8.8M296.1 290.9v8.8M282.7 67.5h8.8M287.1 63.1v8.8M81.1 151h8.3M85.3 146.9v8.3M153.2 55.1h8.4M157.4 50.9v8.4M229.6 343.8h8.2M233.7 339.8v8.2M85.2 62.7h7.6M89 58.9v7.6M325.3 270.7h9.4M330 266v9.4M86.4 317.1h8.2M90.5 312.9v8.2M186.4 351.3h8.2M190.5 347.3v8.2M45.5 237.8h8.1M49.6 233.8v8.1M307.7 147.3h9.1M312.3 142.7v9.1M309 172h9.3M313.7 167.4v9.3M343.8 155.9h7.6M347.6 152.1v7.6M345.3 213.3h8.7M349.6 209v8.7M321.9 222.5h8.3M326.1 218.3v8.3M336.7 251.5h8.8M341.1 247v8.8M28.2 230.2h8.4M32.4 226v8.4M254.5 54.5h7.3M258.1 50.9v7.3M223 341.7h7.1M226.6 338.1v7.1M342.4 187.1h7.9M346.3 183.2v7.9M96 51.2h7.3M99.6 47.6v7.3M333.2 168.5h9.2M337.8 163.9v9.2M71.4 286.6h8.1M75.5 282.6v8.1M295 66.3h9.1M299.6 61.7v9.1M330.6 171.4h7.7M334.4 167.5v7.7M166.5 25.5h7.7M170.4 21.6v7.7M49.8 248h7.4M53.5 244.3v7.4M47.4 106.3h9.4M52.1 101.6v9.4M247.1 42.3h8.8M251.5 37.9v8.8M313.9 277.4h7.9M317.8 273.4v7.9M322.8 271.4h8.2M326.8 267.4v8.2M87 311.7h8.5M91.2 307.5v8.5M56.5 136.3h7.7M60.4 132.4v7.7M130.5 302h7.6M134.3 298.2v7.6M303.5 285.8h7.5M307.3 282v7.5M331.7 123.5h8.4M335.9 119.3v8.4M319.5 224.6h8.9M324 220.2v8.9M80.8 104.4h8.2M84.9 100.4v8.2M54 155.2h7.5M57.7 151.5v7.5M30.3 219h7M33.8 215.5v7M340.9 225.5h8.1M344.9 221.4v8.1M321.4 206.9h8.6M325.7 202.5v8.6M221 339.9h7.5M224.7 336.2v7.5M228 343.4h7.9M232 339.4v7.9M323.7 120.5h8M327.7 116.5v8M325.3 268.8h7.6M329.1 265v7.6M93.5 322.9h8.8M97.9 318.5v8.8M288.3 302.7h8.5M292.5 298.5v8.5M318.1 118.2h9.2M322.7 113.6v9.2M180 54.9h8.8M184.4 50.5v8.8M341 227.6h8.1M345 223.5v8.1M316.8 285.5h8.2M320.9 281.4v8.2M284.3 318.2h7.9M288.2 314.3v7.9M190 24.8h7M193.5 21.2v7M55.1 188.4h8M59.1 184.4v8M45.6 259.6h7.5M49.4 255.8v7.5M339.4 241.5h7.7M343.2 237.7v7.7M294.7 310.7h7.4M298.4 307v7.4M307.6 84.1h9.1M312.2 79.5v9.1M290.4 286h8.8M294.8 281.6v8.8M170.4 347.1h8.5M174.7 342.8v8.5M339.9 245.6h7.3M343.5 241.9v7.3M312 262.3h8.5M316.3 258v8.5M310.7 229.6h7.8M314.6 225.7v7.8M171.3 314.8h7.8M175.2 310.9v7.8M296.2 152.4h7.3M299.9 148.7v7.3M308.7 288.7h9M313.1 284.2v9M257.9 330.8h7.9M261.8 326.9v7.9M22.5 201.9h9.3M27.1 197.3v9.3M38.2 221.8h9.2M42.8 217.2v9.2M221.6 347.6h8.7M225.9 343.2v8.7M72.3 97.2h8M76.4 93.1v8M40 260.5h7.8M43.9 256.6v7.8M75.7 77h7.8M79.6 73.1v7.8M212.6 348.7h7.9M216.5 344.7v7.9M278.7 55.3h8.7M283.1 51v8.7M284.6 314.2h8.7M288.9 309.9v8.7M169.2 25.1h7.2M172.8 21.6v7.2M293.8 135.2h8.6M298.1 131v8.6M304.3 78.3h8.8M308.6 73.9v8.8M327.2 104.3h8.1M331.3 100.2v8.1M344.9 228.9h7.3M348.6 225.2v7.3M316.1 134.8h7.5M319.9 131.1v7.5M162.5 41h8.4M166.7 36.9v8.4M85.8 81.4h9.4M90.5 76.7v9.4M120.7 60.7h8.7M125 56.4v8.7M27.4 221.5h8.7M31.7 217.1v8.7M201.2 333.2h7.2M204.8 329.6v7.2M348.7 208h7.3M352.3 204.3v7.3M334.9 229.6h7.1M338.5 226.1v7.1M315.9 268.9h9.4M320.6 264.2v9.4M223.3 70h8.7M227.7 65.6v8.7M116.9 321.4h8.4M121 317.2v8.4M149.8 337.2h9.4M154.5 332.5v9.4M277.8 108h9M282.3 103.5v9M325.7 221.4h7.4M329.5 217.7v7.4M250.8 318.4h9.1M255.3 313.8v9.1M335.7 242.7h7.5M339.5 238.9v7.5M287.3 290.2h9.2M291.9 285.5v9.2M114 333.7h7.3M117.7 330v7.3M29.8 154.5h7.6M33.6 150.7v7.6M333.6 236.7h9.1M338.1 232.2v9.1M40.1 190.7h7.3M43.7 187.1v7.3M134.2 33.5h8.1M138.2 29.4v8.1M344.5 180.1h8.8M348.9 175.7v8.8M43.4 265.1h8.1M47.5 261v8.1M335.6 131h7M339.1 127.5v7M61.4 91.5h8.7M65.8 87.2v8.7M305 294.8h9M309.5 290.3v9M266 317.3h9.3M270.7 312.6v9.3M251.5 337.1h7.1M255 333.6v7.1M272.1 323.8h8.5M276.4 319.5v8.5M311 265.6h8.4M315.2 261.4v8.4M261.5 325h7.6M265.3 321.2v7.6M314.9 110.5h8.1M319 106.4v8.1M326.4 111.2h7.8M330.3 107.3v7.8M277.9 315.6h9M282.4 311.1v9M55.9 286.9h9M60.4 282.4v9M299.7 97.7h7.5M303.5 93.9v7.5M154.8 39.1h9.4M159.5 34.4v9.4M278.3 321.8h8.7M282.6 317.4v8.7M91.9 258.6h9.5M96.7 253.8v9.5M330.3 117.6h8.6M334.6 113.3v8.6M340.9 149.1h8M344.9 145.1v8M252.7 331.2h7.5M256.5 327.5v7.5M63 250.2h8.5M67.2 246v8.5M312.3 83.3h7.2M315.9 79.7v7.2M162.1 35h7.7M166 31.1v7.7M104.6 48.8h9.4M109.3 44.1v9.4M172.1 26.1h8.5M176.3 21.8v8.5M139.8 39.8h8.4M144 35.6v8.4M339.2 216.2h8.5M343.4 211.9v8.5M112.2 320.6h7.9M116.1 316.6v7.9M113.5 62.6h8.2M117.6 58.5v8.2M90.8 316.8h7M94.3 313.3v7M247.5 314.5h8.4M251.7 310.3v8.4M304.1 299.2h8.2M308.2 295.1v8.2M130 51.8h8.2M134.1 47.7v8.2M334.2 178.5h9.1M338.7 173.9v9.1M32.6 141h7.5M36.3 137.2v7.5M74.7 108.5h9.3M79.4 103.8v9.3M53.4 183.1h7.9M57.4 179.2v7.9M322.1 180.6h7.7M326 176.7v7.7M160.7 310.9h9.7M165.6 306v9.7M316.8 88.7h7.6M320.6 84.9v7.6M300.4 70.3h8.1M304.4 66.2v8.1M328.1 138.8h8.2M332.2 134.7v8.2M332.9 122.1h9.2M337.5 117.5v9.2M79 250.1h8.1M83.1 246.1v8.1M42.6 259.3h9.3M47.2 254.7v9.3M160 27.1h8.7M164.3 22.8v8.7M344.3 177.5h7M347.8 174v7M54.3 96.5h8.2M58.4 92.4v8.2M312.9 123.5h7.2M316.5 119.9v7.2M50 253.7h8.3M54.2 249.5v8.3M326.7 128.5h7.3M330.4 124.8v7.3M48.1 127.2h7.1M51.7 123.6v7.1M147.9 34.5h7.1M151.4 30.9v7.1M306.4 76.2h8M310.4 72.2v8M128.9 36.7h8.6M133.2 32.4v8.6M93.4 55.2h7.2M97 51.5v7.2M31.7 150.4h7M35.2 146.9v7M305 120.4h7.3M308.7 116.7v7.3M45.9 240.6h7.7M49.7 236.8v7.7M251.3 287.3h9.6M256.1 282.5v9.6M123.1 37.3h7.8M126.9 33.4v7.8M227.6 40.1h8.8M232 35.7v8.8M283 319.8h8.1M287.1 315.7v8.1M58.8 250.1h7.1M62.3 246.5v7.1M303.8 88h8.1M307.8 84v8.1M23.4 164.2h9M27.9 159.7v9M340.3 138.3h7M343.8 134.8v7M309.7 191.1h9.6M314.5 186.3v9.6M119.6 334.5h7M123.1 331v7M343.2 205.5h7.5M346.9 201.7v7.5M328.9 211.1h8.8M333.3 206.7v8.8M169 36.7h8.4M173.2 32.5v8.4M254.6 302.6h7.6M258.3 298.8v7.6M326.6 257h7.4M330.3 253.3v7.4M313.3 282.5h8.9M317.8 278.1v8.9M260.6 45.4h9.1M265.2 40.8v9.1M241.8 39.6h8.3M246 35.5v8.3M345.3 199.6h8.6M349.6 195.3v8.6M25.5 197.9h7.4M29.2 194.2v7.4M57.9 98.2h8.9M62.4 93.7v8.9M303.9 110.5h7.1M307.5 107v7.1M47.1 272.6h7.5M50.9 268.8v7.5M173.8 351h7.7M177.6 347.1v7.7M28.3 141.6h9.4M32.9 136.9v9.4M150.1 30.4h7.7M153.9 26.5v7.7M336.7 171.9h7M340.3 168.4v7M39 139h8.3M43.1 134.9v8.3M25.7 208.7h7.7M29.5 204.9v7.7M50.8 267.1h7.3M54.5 263.5v7.3M25.3 185.5h9.4M30 180.8v9.4M125 35.6h7.7M128.8 31.8v7.7M34 248.1h7.8M38 244.2v7.8M114.1 329.6h7.8M118 325.6v7.8M142.7 58.5h8.5M147 54.3v8.5M178.7 347.3h7.8M182.6 343.4v7.8M67.3 85.4h8.7M71.6 81.1v8.7M305.7 132.3h7.2M309.4 128.7v7.2M346.1 209h8.6M350.4 204.7v8.6M338.1 147.2h7.5M341.8 143.5v7.5M50.7 235.7h8.1M54.8 231.6v8.1M165.1 348.5h7.7M168.9 344.6v7.7M254.4 64.6h9.3M259 60v9.3M306.6 78.3h9.3M311.3 73.7v9.3M257.8 276.5h9.4M262.5 271.8v9.4M239.9 322.1h8.4M244.1 317.9v8.4M184.3 349.9h7.6M188.1 346.1v7.6M257.5 45.6h7.4M261.2 41.9v7.4M275.1 121.6h9.6M279.9 116.8v9.6M253.9 38.8h8.6M258.2 34.5v8.6M73.3 306.3h7.7M77.2 302.4v7.7M100 302.8h9.2M104.6 298.2v9.2M54.9 216.3h8.3M59.1 212.1v8.3M318 265.5h9.3M322.6 260.8v9.3M345 195.9h9M349.5 191.4v9M287.7 284.8h9.5M292.4 280.1v9.5M236.7 336.2h7.4M240.4 332.5v7.4M333.1 253.3h8.7M337.4 249v8.7M25.2 213.1h7.1M28.7 209.6v7.1M280 59.9h9.3M284.6 55.2v9.3M121.4 298.2h8.1M125.4 294.2v8.1M334.4 252.7h8.9M338.9 248.2v8.9M319.1 277.5h7.3M322.8 273.8v7.3M111.2 42.6h8.5M115.4 38.3v8.5M285.4 306.5h7.8M289.3 302.6v7.8M84.5 119.3h7.4M88.2 115.6v7.4M55.7 90.9h8M59.7 86.9v8M292.7 127.1h9.2M297.3 122.5v9.2M334.1 254.9h7.8M338 251v7.8M349.4 201.2h7.8M353.4 197.3v7.8M261.8 326.9h9.2M266.4 322.3v9.2M288 59.9h9M292.5 55.4v9M43.8 115.2h9.2M48.4 110.6v9.2M278.5 298.8h8.2M282.6 294.7v8.2M342.5 231.2h8.7M346.8 226.8v8.7M134 338.5h8.4M138.2 334.3v8.4M256 309.2h8.2M260.1 305.1v8.2M317.1 261.1h9.4M321.8 256.4v9.4M31.9 155h8.3M36 150.9v8.3M334.5 159.3h8.8M338.9 154.9v8.8M84.5 314.7h8.8M89 310.3v8.8M327 252.3h7.9M330.9 248.3v7.9M48.8 276.7h8.2M52.9 272.5v8.2M27.1 182.4h7.7M30.9 178.6v7.7M87.6 276.1h8.4M91.8 271.9v8.4M43 256.4h8.3M47.2 252.3v8.3M37.2 249.1h7.8M41.1 245.2v7.8M57.1 284.3h7.2M60.7 280.7v7.2M321 161.2h9.2M325.6 156.6v9.2M76.7 304.5h9M81.2 300v9M178.5 64h7.5M182.2 60.3v7.5M316.6 194.3h9.1M321.1 189.7v9.1M192.9 346.9h7.3M196.6 343.3v7.3M288.5 309.7h8.7M292.9 305.4v8.7M169 345.5h7.1M172.6 341.9v7.1M316.3 206.3h8.3M320.4 202.2v8.3M293.5 143.8h8.2M297.7 139.7v8.2M211.7 311.8h8.1M215.8 307.7v8.1M299.5 124.4h7.4M303.2 120.7v7.4M174.7 25.2h8.2M178.8 21.1v8.2M308.2 271.6h9.2M312.7 267v9.2M58.4 88.7h7M61.9 85.2v7M350.3 191.2h7.4M354 187.5v7.4M58 232.6h7.7M61.8 228.8v7.7M91.7 310.1h7.4M95.4 306.4v7.4M277.5 62.9h9.1M282 58.4v9.1M160.4 29.9h7.1M163.9 26.3v7.1M144.9 342h8M148.9 338v8M77.8 64.6h8.4M82 60.4v8.4M70.2 298h7.7M74.1 294.2v7.7M288.2 90.8h8.5M292.5 86.5v8.5M345.8 176.6h8.1M349.9 172.5v8.1M211.5 63.5h8.8M215.9 59.1v8.8M98.8 48.9h8.8M103.2 44.5v8.8M295.3 291.9h8.7M299.7 287.5v8.7M335.7 142.9h9.1M340.2 138.3v9.1M164.2 26.7h9.4M168.8 22v9.4M75.3 302h8.1M79.3 297.9v8.1M309.9 103.9h7.4M313.6 100.1v7.4M269.1 327.7h7.2M272.7 324.1v7.2M319.5 98.6h7.6M323.4 94.8v7.6M290 80.1h7.6M293.8 76.3v7.6M277.7 307.2h7.5M281.4 303.5v7.5M127.1 57.8h7.1M130.7 54.3v7.1M88.4 316.2h8.5M92.7 311.9v8.5M339.6 230.3h8.1M343.6 226.2v8.1M136.1 317.8h7.1M139.7 314.3v7.1M300.3 282h8.1M304.4 277.9v8.1M32 137.7h8.6M36.3 133.4v8.6M27.3 148.2h7.4M31 144.5v7.4M184.4 331.3h8.6M188.7 327v8.6M182.8 36.5h7.9M186.8 32.5v7.9M261.6 94h8.4M265.8 89.8v8.4M301.4 72.6h8.6M305.6 68.4v8.6M318.1 91.1h7.2M321.7 87.5v7.2M41 255.1h7.5M44.8 251.3v7.5M230.4 345.4h8.3M234.5 341.2v8.3M300.1 81.7h7.1M303.6 78.2v7.1M233.9 315.3h7.4M237.6 311.6v7.4M329.3 135.9h7.1M332.8 132.4v7.1M131.4 330.5h8.3M135.6 326.3v8.3M66.4 291.5h8.4M70.6 287.3v8.4M339.5 189.8h8M343.4 185.8v8M157.8 55h7.7M161.6 51.1v7.7M86.2 271.4h9.4M90.9 266.7v9.4M115.6 293.3h9.2M120.1 288.7v9.2M134.1 331.9h7.5M137.9 328.1v7.5M156 316.1h8.5M160.3 311.8v8.5M178.5 27h8.3M182.7 22.8v8.3M319.2 120.9h7.4M322.9 117.1v7.4M64.5 78.7h9.2M69.1 74.1v9.2M275 301h8.6M279.3 296.7v8.6M57.9 157.3h7.4M61.6 153.6v7.4M33.2 129.1h7.5M37 125.4v7.5M303.4 269.9h8.4M307.6 265.7v8.4M205.3 25.7h8M209.3 21.7v8M201.5 349.7h7.7M205.4 345.8v7.7M261.7 51.3h8.1M265.7 47.2v8.1M204.9 336.8h7.9M208.9 332.9v7.9M322.1 132.1h9M326.6 127.6v9M326.8 192h8.7M331.1 187.6v8.7M120.5 41.3h8.6M124.8 37.1v8.6M324.7 265h7.9M328.7 261.1v7.9M221.6 345.3h7.3M225.3 341.7v7.3M329 114h9.1M333.5 109.4v9.1M327.1 113.3h8.1M331.1 109.3v8.1M143.5 32.2h7.4M147.2 28.5v7.4M276.5 55.9h8M280.6 51.9v8M345.6 165.7h8.4M349.7 161.5v8.4M59.9 151.7h9.2M64.5 147.1v9.2M77.8 296.8h7.1M81.4 293.2v7.1M85.2 106.4h7.2M88.8 102.8v7.2M342.4 236.1h8.9M346.8 231.6v8.9M313.3 289.4h7.3M316.9 285.7v7.3M24.7 217.9h8.7M29.1 213.5v8.7M327.1 232h7.3M330.8 228.3v7.3M191.3 30.8h9.4M196 26.1v9.4M276.3 321.7h8.8M280.7 317.3v8.8M73.2 77.3h7.2M76.8 73.7v7.2M100.5 275.1h8.3M104.7 271v8.3M105.2 330.3h8.9M109.6 325.8v8.9M330.7 114.9h8.5M334.9 110.7v8.5M265.9 48.2h9.3M270.5 43.5v9.3M26.8 165.5h7.8M30.7 161.6v7.8M303.3 113.6h7.6M307.1 109.8v7.6M197.8 351h7.4M201.5 347.3v7.4M313.5 286.9h7.2M317.1 283.3v7.2M337.3 132.6h8.1M341.3 128.5v8.1M230.7 66.5h9.1M235.2 61.9v9.1M88.1 106.4h9.5M92.8 101.7v9.5M301 187.5h8.9M305.5 183v8.9M210.3 346.8h8.8M214.7 342.4v8.8M285.7 317.4h8.2M289.8 313.3v8.2M113.3 299.5h8M117.3 295.5v8M272.3 326.1h8M276.3 322.1v8M270.3 82.2h8.4M274.5 78v8.4M52.5 282.1h8.8M56.8 277.7v8.8M340.6 134.1h9M345.1 129.7v9M184.5 310.2h8.8M188.9 305.8v8.8M68.4 221h7.6M72.2 217.2v7.6M83.1 311.7h7.3M86.7 308v7.3M105.8 73.5h7.6M109.6 69.6v7.6M98.2 284.4h7.3M101.9 280.7v7.3M338.4 205.7h7.1M342 202.1v7.1M64 296.7h9.2M68.6 292.1v9.2M220.5 36.8h7.7M224.3 33v7.7M340.1 178.7h9.2M344.7 174.1v9.2M306.5 249.8h7.7M310.4 246v7.7M346.1 221.1h8.8M350.5 216.7v8.8M76.2 219.6h8.8M80.6 215.2v8.8M63.5 295.5h8M67.5 291.5v8M291.5 64.3h9.1M296.1 59.7v9.1M332.5 221.4h8.7M336.9 217v8.7M317.9 188.4h8.4M322.1 184.2v8.4M317.9 280h8.3M322 275.8v8.3M121.6 331.2h7.4M125.3 327.5v7.4M121.8 338.1h7.9M125.8 334.2v7.9M118 64h8M121.9 60v8M268.5 318.8h7.6M272.2 315v7.6M70.6 177.2h7.7M74.4 173.3v7.7M231.2 38.7h8.7M235.5 34.3v8.7M74.7 118.3h7.7M78.5 114.4v7.7M36.6 247.3h8.1M40.7 243.3v8.1M260.6 106.3h8.7M264.9 101.9v8.7M347.9 201.4h7.6M351.7 197.6v7.6M286.6 102.8h9M291.1 98.3v9M307.1 294.4h7.7M310.9 290.6v7.7M311.4 212.5h9.6M316.2 207.7v9.6M221.1 316.1h8.3M225.3 311.9v8.3M51.3 105.6h8.9M55.7 101.1v8.9M37.3 253h8.7M41.6 248.6v8.7M61.3 239.6h9.1M65.9 235v9.1M255.1 40.8h7M258.6 37.3v7M38.8 146.2h9M43.3 141.7v9M299.6 300.1h8.9M304 295.7v8.9M285.3 86.5h7.3M288.9 82.8v7.3M303.9 288.3h8.5M308.2 284v8.5M197.9 29.1h8M201.9 25.1v8M297.5 307.6h7M301 304v7M131.9 36.6h9.1M136.5 32v9.1M295 308.1h8.6M299.3 303.8v8.6M307.6 81.8h7.1M311.2 78.3v7.1M48.5 100h8.5M52.8 95.7v8.5M62.2 276h7M65.7 272.5v7M73.3 277.9h9.2M77.9 273.3v9.2M337.8 213.5h7.1M341.4 210v7.1M344.1 221.6h7.7M348 217.7v7.7M293.2 268.4h9.3M297.8 263.7v9.3M70.9 81.4h8.7M75.2 77v8.7M103.1 323.6h9M107.6 319v9M264.9 315.9h7.6M268.8 312v7.6M218.1 325.3h8.3M222.3 321.1v8.3M261 269.8h7.4M264.7 266.1v7.4M194.6 351.2h7.2M198.2 347.6v7.2M338.7 134.9h8.6M343 130.6v8.6M317.3 198.5h9.1M321.9 194v9.1M295.2 252.2h8.5M299.5 248v8.5M25.6 192.8h9.4M30.3 188.1v9.4M282.9 255.2h7.5M286.6 251.4v7.5M36.1 132.8h8.2M40.2 128.7v8.2M22.2 177h9.1M26.7 172.4v9.1M60.9 285.4h8.4M65.1 281.2v8.4M102.4 327.5h7.5M106.2 323.7v7.5M29.1 200.8h8.7M33.5 196.4v8.7M346.8 185.8h9.2M351.4 181.2v9.2M255.1 45h7.3M258.8 41.3v7.3M262.2 67.9h9.5M266.9 63.2v9.5M304.9 185.2h7.8M308.8 181.3v7.8M310.5 282h8.9M315 277.5v8.9M326.5 120.5h8.3M330.7 116.3v8.3M111.5 50.6h9M116 46.1v9M56.5 222.6h7.1M60.1 219v7.1M269.1 65h7.9M273 61.1v7.9M38.4 182.7h9.3M43 178v9.3M149.8 35.4h9.4M154.5 30.7v9.4M95.8 298.1h8.3M99.9 293.9v8.3M32.6 237.1h8.9M37.1 232.6v8.9M346.9 206.4h8.4M351.1 202.2v8.4M329 260.8h9.1M333.5 256.3v9.1M27 155.5h7.7M30.9 151.7v7.7M77.2 257.7h7.3M80.8 254.1v7.3M238.2 43.9h8.6M242.5 39.7v8.6M341.1 135.7h9.4M345.8 131v9.4M230.4 33.9h9.4M235.1 29.2v9.4M66.8 193.9h8.3M70.9 189.8v8.3M330.3 265.1h7M333.8 261.6v7M91.7 54.4h7.1M95.3 50.8v7.1M214.1 317.7h8.3M218.2 313.5v8.3M30.2 228.3h8M34.2 224.3v8M51.6 218.3h9M56.1 213.8v9M293.1 283.8h7.7M297 279.9v7.7M122.5 327.5h9.4M127.2 322.8v9.4M326.9 115.4h8M330.9 111.4v8M106.5 289.7h7.3M110.1 286.1v7.3M103.5 328.9h8.5M107.7 324.6v8.5M282 71.1h8.1M286 67v8.1M271.4 53.2h8.8M275.8 48.8v8.8M196.9 34.7h8.8M201.3 30.3v8.8M79.1 68.8h8.3M83.3 64.7v8.3M35.3 249.3h8.2M39.4 245.2v8.2M82.5 60.3h8.4M86.7 56.1v8.4M330.4 111h9.4M335.1 106.3v9.4M132.2 341.8h7M135.7 338.3v7M331.2 234.7h8.2M335.4 230.6v8.2M218.6 344.2h8.3M222.8 340v8.3M90.4 283h9.3M95 278.4v9.3M310 99.1h7.7M313.8 95.2v7.7M268.3 306.9h8.4M272.6 302.7v8.4M269.1 275.1h7.6M272.9 271.3v7.6M249.7 294.7h9.5M254.4 290v9.5M22.1 181.8h8.5M26.4 177.5v8.5M90.4 320.7h8.8M94.8 316.4v8.8M41.6 220.7h8.3M45.7 216.6v8.3M346.1 181.8h8.1M350.1 177.8v8.1M146.7 74.4h7.8M150.6 70.4v7.8M341.1 239.2h8.3M345.3 235.1v8.3M52.2 242.7h8.8M56.6 238.3v8.8M37.1 163.4h8.8M41.5 159v8.8M325.4 101.1h8.3M329.5 97v8.3M297.1 292.8h9M301.6 288.3v9M35 158.5h7.8M39 154.5v7.8M73.5 71.7h8.1M77.6 67.6v8.1M89.2 63.9h8.9M93.6 59.4v8.9M347.3 159.7h7.8M351.2 155.8v7.8M174.9 27.8h8.5M179.1 23.5v8.5M329.9 157.4h7.8M333.8 153.5v7.8M44.8 269.7h7.7M48.7 265.9v7.7M332.4 230.7h7.7M336.2 226.8v7.7M27.1 174.3h7.6M30.9 170.5v7.6M218.5 348h7.2M222 344.4v7.2M332 245.9h7.1M335.6 242.4v7.1M244.7 337.3h8.9M249.1 332.9v8.9M224.4 31.1h7.8M228.3 27.2v7.8M59 188.6h8.6M63.3 184.3v8.6M327.9 131.2h8.2M332 127.1v8.2M250.8 37.7h9.4M255.5 33v9.4M144.7 338.1h7.7M148.6 334.3v7.7M236 317.7h7.9M240 313.7v7.9M22.5 198.3h9M27 193.8v9M208.5 56.2h9.2M213.1 51.6v9.2M288.5 314.7h7.8M292.4 310.8v7.8M313.8 92.3h8.7M318.2 87.9v8.7M77.3 71.8h8.9M81.8 67.3v8.9M61.3 81h9M65.7 76.5v9M308.2 293.2h9.1M312.8 288.6v9.1M334.2 219.2h7.9M338.1 215.2v7.9M300.2 154.5h8.2M304.4 150.4v8.2M312.3 252.3h7.4M316 248.6v7.4M44.9 261.6h9M49.5 257.1v9M49.2 129.6h9.1M53.8 125v9.1M319.9 169.9h7.5M323.6 166.2v7.5M156.3 70.8h7.7M160.1 66.9v7.7M117.7 41.9h9M122.1 37.4v9M39.7 256.8h8.9M44.1 252.3v8.9M170.9 24.7h7.7M174.7 20.9v7.7M99 266.7h9M103.4 262.2v9M264.8 330.8h7.9M268.7 326.8v7.9M318.1 217.5h9.1M322.6 213v9.1M292.2 312.1h8.6M296.5 307.8v8.6M298.1 280.5h7.6M301.9 276.7v7.6M59.4 84.7h7M62.9 81.2v7M288.3 78.1h7.9M292.3 74.1v7.9M287.9 82.3h8.9M292.3 77.9v8.9M37.4 185.3h7.2M41 181.7v7.2M335.5 185.2h8.5M339.7 180.9v8.5M253.1 316h7.6M256.9 312.2v7.6M298.6 113.7h7.7M302.5 109.9v7.7M91.2 276.7h9.6M96 271.9v9.6M288.4 66.2h8.6M292.7 61.8v8.6M294.7 303.3h8.4M298.9 299v8.4M174 345h7.2M177.6 341.4v7.2M270.4 110.3h7.3M274.1 106.6v7.3M296.8 74h7.7M300.7 70.2v7.7M321.6 247.8h7.1M325.2 244.2v7.1M42.8 266.9h9.3M47.5 262.3v9.3M338 203.2h7.7M341.9 199.4v7.7M347.6 177.2h8M351.6 173.2v8M154.8 345.1h7.3M158.5 341.4v7.3M334.3 128.1h8.4M338.5 123.9v8.4M313.2 96.3h9M317.7 91.8v9M242.4 333.8h7.5M246.1 330v7.5M109.5 332.3h7.8M113.4 328.4v7.8M111.1 314.8h7.2M114.7 311.2v7.2M273.3 304.2h8.3M277.4 300v8.3M48.6 149.3h8.7M53 144.9v8.7M346.7 163.3h8.7M351.1 158.9v8.7M341 229.6h8.4M345.2 225.4v8.4M76.4 308.9h8.7M80.8 304.5v8.7M83.5 307.5h8M87.5 303.5v8M151.5 27.8h7.9M155.5 23.8v7.9M273 49h8.3M277.1 44.9v8.3M314.7 94.7h8.2M318.8 90.6v8.2M270 320.1h9.1M274.5 315.6v9.1M318.2 271.9h7.6M322 268.1v7.6M217.7 54.2h9.5M222.5 49.5v9.5M297.3 202.6h9.5M302 197.8v9.5M267.9 46.9h8.4M272.1 42.7v8.4M287.5 268.1h8.1M291.5 264v8.1M319.6 94.5h8.5M323.9 90.3v8.5M288.9 307.8h8.1M292.9 303.8v8.1M247.8 52h8.1M251.9 47.9v8.1M178.1 315.9h7.9M182 312v7.9M98.2 321h7M101.7 317.5v7M177 25.8h7.2M180.6 22.2v7.2M306.5 80h9.3M311.2 75.3v9.3M247.3 336h7.3M250.9 332.3v7.3M122.9 309.7h8.4M127 305.6v8.4M30.9 204.9h7.3M34.6 201.3v7.3M35.8 228.2h7.4M39.5 224.5v7.4M237.6 37h8.7M242 32.6v8.7M61.1 288.2h8.9M65.6 283.8v8.9M34 149.9h7.4M37.7 146.2v7.4M130.9 340.5h7M134.4 337v7M30.7 152.6h8.3M34.9 148.5v8.3M284 315.8h9M288.5 311.2v9M285.6 56.9h7.2M289.2 53.3v7.2M301.2 248.3h9.2M305.8 243.7v9.2M323.8 258.1h9.1M328.3 253.5v9.1M67.1 91.9h8.8M71.5 87.5v8.8M206.9 44.7h7.5M210.7 41v7.5M264.5 301.4h8.3M268.7 297.2v8.3M300 305.2h8M304 301.2v8M145.7 331.1h8.5M150 326.9v8.5M226.4 325.4h8.9M230.9 320.9v8.9M345 222.8h8.8M349.4 218.4v8.8M179.6 351.1h8.3M183.8 346.9v8.3M242.3 66.9h8.9M246.7 62.4v8.9M148 335.2h8.3M152.2 331v8.3M26.8 225.5h7.7M30.7 221.6v7.7M323.8 203h7.8M327.6 199.2v7.8M95.2 53.3h8.7M99.5 49v8.7M214.8 29.9h8.7M219.1 25.6v8.7M211.8 31h8.6M216.1 26.7v8.6M117.7 333.6h7.2M121.3 330v7.2M26.5 214.6h8.2M30.7 210.5v8.2M63 214.2h8.5M67.2 210v8.5M344 204h9M348.4 199.5v9M100.5 71.4h9M105 66.9v9M281.6 106.1h7.3M285.3 102.4v7.3M286.8 88.3h8.9M291.2 83.8v8.9M108.7 305.6h9.4M113.4 300.9v9.4M273.1 65h7.4M276.8 61.3v7.4M136.2 310.1h9.3M140.9 305.4v9.3M197.6 26.9h8.6M201.8 22.6v8.6M293.5 67.1h7.8M297.4 63.2v7.8M84.5 122.9h9.1M89.1 118.3v9.1M347 188.8h9.3M351.7 184.2v9.3M170.2 331.1h8.7M174.5 326.8v8.7M295.3 87.5h8M299.2 83.5v8M228.4 29.3h8.1M232.5 25.2v8.1M152.6 344.2h7.6M156.4 340.4v7.6M165.2 29h8.7M169.6 24.7v8.7M349.8 182.8h8.3M353.9 178.6v8.3M331.5 253h8.5M335.8 248.7v8.5M320.5 278.4h7.9M324.4 274.5v7.9M43.9 141.2h8.2M47.9 137.1v8.2M56.6 257.4h8.4M60.8 253.2v8.4M285.7 262.4h7.4M289.4 258.7v7.4M107.7 52.5h8.2M111.8 48.4v8.2M332.4 114.1h7.8M336.3 110.2v7.8M80.3 267.9h7.7M84.1 264.1v7.7M295.9 72.1h8.2M300 68v8.2M282.5 60.4h9.3M287.2 55.7v9.3M135.1 296.7h9.3M139.7 292v9.3M71.4 301.9h7.2M75 298.4v7.2M339.8 156.2h7.2M343.4 152.6v7.2M286.5 314.2h7.8M290.4 310.3v7.8M134.9 288.2h9.4M139.7 283.5v9.4M75.2 212.3h8M79.2 208.3v8M283.1 55.8h7.7M287 51.9v7.7M344.5 149.9h8.8M348.8 145.5v8.8M88.3 281.3h8.1M92.3 277.3v8.1M345.2 205.3h8.9M349.7 200.9v8.9M287.6 308.5h7.2M291.2 304.9v7.2M57 92.5h7.6M60.8 88.7v7.6M48.5 250.9h8M52.5 246.9v8M252.4 335.2h8.5M256.7 331v8.5M59.3 114.5h7.3M63 110.8v7.3M214.4 35.8h8.1M218.5 31.7v8.1M256.8 327.7h8.9M261.3 323.3v8.9M270.6 328.1h7.3M274.2 324.5v7.3M242 338.5h8M246 334.5v8M300.5 274.3h9.1M305 269.7v9.1M110.4 330.4h9.2M115 325.8v9.2M272.7 321.3h7.7M276.6 317.4v7.7M314.8 275.4h7.8M318.7 271.5v7.8M273.4 76.8h9.2M278 72.2v9.2M266.7 330.4h7.9M270.7 326.4v7.9M45.6 165.3h8M49.6 161.4v8M53.4 271.7h7.6M57.3 267.9v7.6M139.5 37.3h7.8M143.4 33.4v7.8M290.3 230.3h9.2M294.9 225.8v9.2M134.4 50.8h8.1M138.4 46.8v8.1M245 333.8h7.3M248.6 330.2v7.3M295.5 108.2h7.4M299.2 104.5v7.4M237.2 330.8h8.5M241.5 326.6v8.5M116.9 306.8h8.4M121.2 302.6v8.4M125.6 336.7h9.2M130.2 332.1v9.2M298.9 131.4h7.7M302.8 127.6v7.7M48.9 101.8h8.7M53.3 97.4v8.7M346.7 219.4h7.4M350.4 215.7v7.4M338.8 175.5h8.9M343.3 171.1v8.9M252.7 69.4h9.2M257.3 64.8v9.2M326.5 179h7.9M330.4 175.1v7.9M235.2 340.8h9.1M239.7 336.3v9.1M142.5 342.1h8.1M146.5 338.1v8.1M303.4 263.8h8.9M307.9 259.3v8.9M124.7 55.3h7.2M128.3 51.7v7.2M42.3 193.2h7.4M45.9 189.6v7.4M56.7 282.5h7.6M60.5 278.7v7.6M326.1 106.5h8.2M330.2 102.3v8.2M301.9 82.8h7.5M305.7 79.1v7.5M176.7 351.2h7.2M180.3 347.6v7.2M24.4 174.4h8.8M28.8 170v8.8M248.7 338.4h9.4M253.4 333.7v9.4M276.3 324.3h7.1M279.9 320.8v7.1M224.3 28.2h7.6M228.2 24.4v7.6M330.7 150h8.8M335.1 145.6v8.8M29.5 144.1h7.4M33.2 140.4v7.4M341.8 173.3h9M346.4 168.8v9M347.9 209.7h9.4M352.6 205v9.4M292 68.3h7.4M295.7 64.6v7.4M92.9 62.8h8.7M97.2 58.4v8.7M285.4 61.5h9M289.9 57v9M115.1 281.2h8.7M119.4 276.8v8.7M96.1 324.8h9M100.6 320.3v9M160.7 347.3h8M164.7 343.3v8M238.2 50.3h8.1M242.2 46.2v8.1M261.4 78.2h7.4M265.1 74.5v7.4M305.3 286.1h8.9M309.8 281.7v8.9M293.5 299.9h7M297 296.4v7M299.3 182.3h8.6M303.6 178v8.6M334.8 126.5h9.4M339.5 121.8v9.4M282 303h8.1M286 298.9v8.1M339.1 145.9h9M343.6 141.5v9M203.8 24.6h7.8M207.6 20.7v7.8M340.9 146.6h9.1M345.4 142.1v9.1M281.1 319.1h8.6M285.4 314.8v8.6M183.7 337.3h8.2M187.8 333.2v8.2M29 169.9h7.7M32.9 166v7.7M321.6 277.4h9.1M326.1 272.9v9.1M69.6 274.3h7.9M73.5 270.3v7.9M134.3 35.9h8.3M138.5 31.7v8.3M317 108.1h8M321 104.1v8M106.5 77.9h8.7M110.9 73.5v8.7M234.7 46.1h8.3M238.8 41.9v8.3M69.3 80.2h8.5M73.5 75.9v8.5M224.6 297.2h8.9M229 292.7v8.9M102.3 59.9h9.3M106.9 55.3v9.3M193 24.6h9.4M197.6 19.9v9.4M257.2 319.8h8.7M261.5 315.4v8.7M346.2 217h9M350.7 212.5v9M314.3 89h7.6M318.1 85.2v7.6M340.4 241h9.1M344.9 236.5v9.1M277.4 319.8h7.7M281.3 316v7.7M303.9 85.4h9.4M308.6 80.7v9.4M98.6 54.7h7.7M102.5 50.8v7.7M65.7 297.4h8.9M70.1 292.9v8.9M71.5 258.1h8.8M75.9 253.7v8.8M33.2 243.2h8.8M37.5 238.8v8.8M120.9 39.4h8.4M125.1 35.2v8.4M256.2 331.1h7.2M259.8 327.5v7.2M318.8 145.8h8.7M323.2 141.4v8.7M163.5 54.7h7.3M167.1 51v7.3M308 164.6h7.2M311.6 161v7.2M270 278.9h7.9M273.9 274.9v7.9M246.9 35.2h7M250.4 31.7v7M267.5 51.1h8.1M271.6 47v8.1M23.8 205.1h7.8M27.6 201.3v7.8M262.7 321.5h7.2M266.3 318v7.2M334.9 238.3h8.8M339.3 233.9v8.8M235.8 33h7.3M239.5 29.3v7.3M241.3 37.6h8.8M245.7 33.2v8.8M283.3 94.4h8.1M287.3 90.4v8.1M80.7 238.5h7.2M84.3 234.9v7.2M113.4 318.4h9.4M118.1 313.7v9.4M325.4 113.3h7.4M329.1 109.6v7.4M229.5 332.8h9M234 328.3v9M333.4 259.3h8.3M337.5 255.1v8.3M121.2 97.2h9.2M125.8 92.6v9.2M303.1 258.5h9.1M307.7 254v9.1M139.1 344.2h7.2M142.6 340.7v7.2M24.4 168.8h8.3M28.5 164.6v8.3M269.5 323.9h8M273.5 319.9v8M312.3 291.8h8.5M316.6 287.6v8.5M98.6 316.2h8.1M102.7 312.2v8.1M121.1 68.7h9.2M125.7 64.1v9.2M64.7 87.5h7.3M68.3 83.8v7.3M80.8 63.7h9.4M85.4 59v9.4M271.4 314.9h9.3M276 310.2v9.3M44 113h7.9M47.9 109.1v7.9M87.9 101.3h7.6M91.7 97.5v7.6M61.9 278.4h8.9M66.3 274v8.9M81 87.7h7.9M84.9 83.8v7.9M226.8 28.7h7.5M230.5 25v7.5M99.2 52.9h8.1M103.2 48.8v8.1M60.8 135.3h7.8M64.7 131.4v7.8M111.2 309.2h9.3M115.9 304.6v9.3M116.8 312.7h9.2M121.4 308.1v9.2M337.3 179.6h8.3M341.4 175.4v8.3M53.8 99.1h7.2M57.4 95.5v7.2M217.2 333h9.3M221.8 328.4v9.3M298.9 68.3h7.6M302.7 64.5v7.6M62.8 82.8h7.9M66.7 78.9v7.9M308.6 92.1h8.1M312.7 88.1v8.1M309.2 113.6h8.1M313.3 109.6v8.1M347.4 215.4h7.3M351.1 211.7v7.3M349.5 179.9h8.3M353.6 175.7v8.3M66.9 146.9h8.1M70.9 142.9v8.1M302.2 90.3h8.8M306.6 85.9v8.8M40.5 243.8h9.1M45 239.3v9.1M29.2 216.1h8.8M33.6 211.7v8.8M349.9 193.3h8M353.9 189.3v8M336.3 145.2h8M340.3 141.2v8M349.5 189.3h8.5M353.8 185v8.5M266.5 62.3h8.7M270.9 57.9v8.7M42.5 108.7h7.9M46.4 104.8v7.9M330.7 254.8h8.4M334.9 250.6v8.4M61.9 290.8h8.7M66.2 286.5v8.7M86.8 60.9h7.4M90.5 57.3v7.4M180.5 24h7.4M184.2 20.3v7.4M289.1 248.9h7.8M293 244.9v7.8M194.8 29.3h8.7M199.1 24.9v8.7M53.5 90.9h8.5M57.8 86.7v8.5M279.2 312.7h8.1M283.3 308.6v8.1M349 169.4h7.3M352.6 165.8v7.3M198.8 24.9h7.1M202.4 21.4v7.1M154.1 68h7.2M157.7 64.4v7.2M76.5 94.6h9.4M81.3 89.9v9.4M337.9 164.5h8.6M342.2 160.2v8.6M86.6 303.4h7.2M90.2 299.8v7.2M98.6 296h8.7M103 291.7v8.7M195.8 314.1h8.8M200.2 309.7v8.8M241 49.5h9.3M245.7 44.8v9.3M323.8 270.4h8.6M328.1 266.1v8.6M105 301.3h9.4M109.7 296.6v9.4M262.5 290.5h7.3M266.2 286.8v7.3M87.8 314.4h8.2M92 310.3v8.2M79.5 66.2h7.5M83.3 62.5v7.5M336.7 168.8h8.3M340.9 164.7v8.3M233.2 30.6h8.9M237.6 26.1v8.9M72.1 69.9h7.8M76 66v7.8M60.2 291.9h7.6M64 288.1v7.6M99.9 109.8h7.6M103.7 106.1v7.6M324.2 160.6h8.9M328.7 156.2v8.9M105.8 98.8h8.9M110.3 94.3v8.9M67.1 293.4h8.1M71.1 289.3v8.1M238.3 341.9h9.1M242.9 337.4v9.1M316.6 281.2h8.5M320.9 276.9v8.5M31 178.2h8.7M35.4 173.9v8.7M288.4 61.8h7M292 58.3v7M49.1 273.6h9.1M53.7 269v9.1M70 98.8h7M73.6 95.3v7M343.1 209h8.8M347.5 204.6v8.8M294 69.1h7.7M297.8 65.2v7.7M131.2 325.5h8M135.2 321.5v8M343 228.8h7.5M346.8 225.1v7.5M43.7 106.8h8.2M47.7 102.7v8.2M60.5 97.3h8.7M64.8 92.9v8.7M300.8 304.1h9M305.3 299.6v9M199 43.8h8.7M203.4 39.5v8.7M282.6 291.4h7.4M286.3 287.8v7.4M277.8 323.1h7.9M281.7 319.2v7.9M277.6 261.3h8.5M281.9 257.1v8.5M265.7 86.6h9M270.2 82.1v9M250.7 307.9h8.8M255.1 303.5v8.8M287.1 116.9h9.1M291.6 112.3v9.1M297.9 240h8.2M302 235.9v8.2M324.5 240.1h8.2M328.6 236v8.2M151.2 304h9.3M155.9 299.4v9.3M139.6 81.8h9.3M144.3 77.2v9.3M202.2 324.1h9.3M206.9 319.4v9.3M63.6 79.6h7.1M67.1 76.1v7.1M253.5 79.3h8.5M257.8 75v8.5M129 290.8h9.4M133.7 286v9.4M85.7 287.7h9.4M90.4 283v9.4M70.2 133.5h7.7M74.1 129.6v7.7M39.8 253.5h7.8M43.7 249.6v7.8M72.4 239.3h9.4M77.1 234.6v9.4M56.7 140h8.4M60.9 135.8v8.4M186 26.3h7.9M190 22.4v7.9M130.9 44.9h8.8M135.3 40.5v8.8M286.7 296.7h7.1M290.3 293.2v7.1M336.3 235.5h7.3M340 231.8v7.3M39.2 259.1h7.5M42.9 255.3v7.5M55 202.5h7.4M58.7 198.8v7.4M104.4 92h8M108.4 88v8M349.7 171.2h7.3M353.3 167.6v7.3M303.7 301.4h9M308.2 296.9v9M113.3 43.3h7.7M117.2 39.4v7.7M74.2 303.8h8.8M78.6 299.4v8.8M261.5 329.9h7.8M265.4 326.1v7.8M41.6 199.9h7.4M45.3 196.2v7.4M86.6 315.3h7.7M90.5 311.4v7.7M241.5 33.1h7.9M245.5 29.2v7.9M290.4 103.3h9.5M295.2 98.5v9.5M84.1 245.7h9.1M88.6 241.2v9.1M225.9 334.3h8.1M229.9 330.2v8.1M335.6 198.8h8.4M339.8 194.6v8.4M159.4 339.8h8.8M163.8 335.4v8.8M329.5 119.9h7.7M333.3 116.1v7.7M180.4 35.5h7.1M183.9 32v7.1M303.5 177.7h9M308 173.3v9M289.7 94.5h7.4M293.5 90.7v7.4M165.8 340.3h8.2M169.9 336.2v8.2M130.7 63.4h9.5M135.5 58.6v9.5M305 277.1h7.7M308.8 273.3v7.7M86.7 313.5h7.2M90.3 309.9v7.2M165.4 47h8.2M169.5 42.9v8.2M340 162.3h7.8M343.9 158.4v7.8M345.9 170.4h7M349.4 166.9v7M343 139.9h8.2M347.1 135.7v8.2M322.5 112.1h7.7M326.4 108.2v7.7M323 268.5h9.1M327.5 264v9.1M71.2 298.8h9M75.7 294.3v9M76.1 111.5h9.5M80.8 106.8v9.5M65.8 268.2h8.8M70.2 263.8v8.8M154.4 42.6h8.4M158.6 38.3v8.4M309.5 152.7h7.3M313.1 149.1v7.3M77.9 122.9h7.2M81.5 119.3v7.2M187.3 339h7.9M191.2 335.1v7.9M31.6 198.7h7.5M35.3 195v7.5M251.2 63.3h7.3M254.9 59.6v7.3M46.5 174.3h7.5M50.3 170.6v7.5M91.7 73.7h8.8M96.1 69.3v8.8M172.2 24.2h8.7M176.5 19.8v8.7M231.5 337.6h8.5M235.7 333.4v8.5M232.5 82.2h9.5M237.2 77.4v9.5M223.3 62.9h8M227.4 58.9v8M278.5 277.9h9.5M283.3 273.1v9.5M289.1 278.9h8.4M293.3 274.7v8.4M237.4 34.9h8.2M241.5 30.8v8.2M325.8 266.6h8.2M330 262.5v8.2M52.2 280.6h7.4M55.9 277v7.4M275.7 96.8h9.2M280.3 92.2v9.2M319.9 97.3h8.6M324.2 93v8.6M320 213.9h7.8M323.9 210.1v7.8M266.6 69.4h7.1M270.1 65.8v7.1M93 321.7h7.4M96.7 318v7.4M31.6 235.4h8.2M35.7 231.3v8.2M245.3 306.6h8.3M249.4 302.5v8.3M271.8 50.1h7.5M275.6 46.3v7.5M95.6 317.5h8.8M100 313.1v8.8M28.4 183.9h9.1M33 179.4v9.1M104.8 55h7.7M108.7 51.1v7.7M267.1 295.8h8.7M271.5 291.4v8.7M93.9 57.6h7.8M97.8 53.7v7.8M297.4 290.5h8M301.4 286.5v8M35.3 252.3h9.1M39.9 247.7v9.1M328.6 263.6h8.2M332.7 259.5v8.2M45.5 106.9h9.4M50.2 102.2v9.4M66.4 274.3h8.3M70.5 270.2v8.3M257 48.4h7.8M260.9 44.5v7.8M339.8 131.3h8.9M344.3 126.8v8.9M251.6 53.8h7.5M255.4 50.1v7.5M310.5 89.8h8.4M314.8 85.5v8.4M320.7 115.3h8.8M325.1 110.9v8.8M43.3 110.4h8.9M47.7 105.9v8.9M89.5 294.1h8.6M93.8 289.8v8.6M337.8 126.1h8.8M342.2 121.7v8.8M324.4 263.2h8.3M328.5 259v8.3M296.1 78h7.7M299.9 74.2v7.7M310.6 294.2h7.6M314.5 290.4v7.6M315.1 145.6h9.4M319.8 140.9v9.4M305.8 81.5h7M309.3 78v7M276.3 71.5h7.2M279.9 67.9v7.2M55.9 168.8h9.5M60.6 164.1v9.5M193.8 36.6h7.1M197.3 33v7.1M106.9 107.6h7.8M110.9 103.7v7.8M191.2 24.1h8.1M195.3 20v8.1M106.1 46.8h8.1M110.2 42.7v8.1M277 309.8h9.1M281.6 305.2v9.1M265.1 104.6h9.2M269.8 100v9.2M117.3 328h8.3M121.4 323.8v8.3M117.5 324.1h7.1M121.1 320.6v7.1M338.8 243.1h7.6M342.6 239.3v7.6M52.7 278.6h9.3M57.4 274v9.3M225.1 341.9h7.5M228.8 338.1v7.5M81.9 309.8h7.7M85.7 305.9v7.7M206.9 25.4h8.5M211.1 21.2v8.5M342.6 195.8h8.5M346.9 191.6v8.5M204.6 68.5h8.9M209 64.1v8.9M259.5 56h8.8M263.8 51.7v8.8M259.1 332h8.8M263.5 327.6v8.8M337.4 247h9.2M342 242.4v9.2M308.4 87.6h8.4M312.6 83.4v8.4M209.8 323.1h9.5M214.6 318.3v9.5M83.8 295.1h9.2M88.4 290.4v9.2M324.5 275h8.5M328.8 270.8v8.5M97.7 88.5h8.5M102 84.2v8.5M73.1 111.1h7.9M77 107.1v7.9M279.1 307.6h9.3M283.8 303v9.3M51.8 112.1h8.4M56 107.9v8.4M315.7 278.8h7.1M319.3 275.3v7.1M299 269.8h8.8M303.4 265.4v8.8M325.2 103.2h7.4M328.9 99.5v7.4M164.4 343.8h9.3M169.1 339.2v9.3M38 153.7h7M41.5 150.2v7M320 236.5h8.2M324.1 232.4v8.2M287.2 294.3h8.4M291.4 290v8.4M190.4 335.3h7.4M194.1 331.6v7.4M313 109.3h7.1M316.5 105.7v7.1M310.2 84h7.2M313.8 80.4v7.2M86.6 59h7.5M90.3 55.3v7.5M302.8 300.5h8.5M307 296.3v8.5M139.8 30.5h7.5M143.5 26.7v7.5M61.9 107.4h8.8M66.3 103v8.8M336.9 217.8h8.9M341.3 213.3v8.9M315.1 87.3h9.3M319.7 82.7v9.3M307.4 237.5h9.5M312.2 232.7v9.5M112.5 103.2h8.9M116.9 98.7v8.9M39.2 114.7h8.2M43.3 110.6v8.2M312.8 84h9M317.3 79.5v9M44.7 271.2h9.4M49.4 266.5v9.4M334.8 119h8.7M339.2 114.7v8.7M210.8 46.9h9.4M215.5 42.2v9.4M42.4 180.2h7M45.9 176.7v7M30.4 188.2h7.1M33.9 184.6v7.1M123.4 323.4h9.4M128.1 318.7v9.4M232 334.1h8.6M236.3 329.7v8.6M337.3 229.6h7.2M340.9 226v7.2M245.6 41.1h7.4M249.3 37.4v7.4M38.1 205.1h7.4M41.8 201.4v7.4M292.7 86.5h8M296.7 82.5v8M346.3 151.1h7.3M350 147.4v7.3M210.7 348.7h8M214.7 344.6v8M349.8 196.5h8M353.7 192.5v8M77.1 306.6h7.3M80.8 303v7.3M343.3 232.7h8.6M347.5 228.4v8.6M290.8 308h7.7M294.7 304.1v7.7M301.3 169.6h9.4M306 164.9v9.4M346.1 187h8M350.1 183v8M71.6 251.2h7.8M75.5 247.3v7.8M30.8 148.3h9.2M35.4 143.7v9.2M336.6 243.9h8.8M341 239.6v8.8M270.2 115h8.8M274.6 110.7v8.8M79.6 303.9h8.1M83.7 299.9v8.1M320.6 106.9h7.1M324.2 103.4v7.1M139.5 303.8h7.6M143.2 300.1v7.6M338.3 141.8h7.6M342.1 138v7.6M199.4 342.3h8.4M203.7 338.1v8.4M330.3 263.6h7.9M334.2 259.7v7.9M305.1 74.9h8.4M309.3 70.7v8.4M93.4 303.8h7.4M97.1 300.1v7.4M23.3 208.4h8.8M27.7 204v8.8M276.6 314.4h8M280.6 310.4v8M192.7 52.5h7.4M196.4 48.9v7.4M83.2 71.5h7.4M86.9 67.8v7.4M268.3 49.3h7.3M272 45.7v7.3M322.1 276h7.1M325.6 272.4v7.1M43.2 116.1h7M46.7 112.6v7M156.7 347h7.2M160.3 343.4v7.2M230.6 342.5h8.9M235 338v8.9M31.8 242.5h8M35.8 238.5v8M118.4 336.5h7.4M122 332.8v7.4" stroke="#00ff00" stroke-width="1.1" fill="none" stroke-opacity="0.95"/>
<path d="M82.7 191.4h8.1M86.8 187.4v8.1M229.1 283.6h7.4M232.8 279.9v7.4M237.8 225.4h5.8M240.7 222.5v5.8M166.2 299.8h9.1M170.7 295.3v9.1M173.5 114.7h5.4M176.2 112.1v5.4M125.4 98.8h8.4M129.6 94.6v8.4M274.1 154.8h6.9M277.5 151.4v6.9M92 152.8h6.7M95.3 149.5v6.7M275.1 131.4h9M279.6 126.9v9M102.6 220.7h6.6M105.9 217.4v6.6M218.5 119.7h6.6M221.8 116.4v6.6M206 303.1h7.3M209.7 299.4v7.3M224.3 115.4h6.9M227.7 112v6.9M249.7 215.2h6.3M252.9 212v6.3M181.1 263.1h6.6M184.4 259.8v6.6M263.9 254.3h8.1M268 250.2v8.1M137.9 248.2h7.4M141.6 244.5v7.4M159.2 282.8h7.7M163 278.9v7.7M261.2 150.9h7.7M265.1 147.1v7.7M264 214.1h6.5M267.3 210.8v6.5M180.1 99h7.7M184 95.2v7.7M252.3 186.6h5.8M255.3 183.7v5.8M120.9 245.9h8M124.9 241.9v8M129.8 241.9h7.2M133.4 238.3v7.2M87.7 164.8h7.3M91.3 161.2v7.3M214.9 127.3h5.2M217.5 124.7v5.2M92.2 159.3h8.5M96.4 155.1v8.5M255.6 210.7h6M258.6 207.6v6M229.9 238.4h5.8M232.8 235.4v5.8M178.3 82.1h7.6M182 78.3v7.6M111.5 136.9h8.1M115.5 132.8v8.1M252.1 194.2h5.7M254.9 191.3v5.7M223.8 271.5h7.9M227.7 267.6v7.9M151.2 283.3h8.1M155.3 279.2v8.1M236.1 90.7h7.5M239.8 86.9v7.5M233.5 258.9h6.3M236.7 255.7v6.3M198.3 282.9h8M202.3 278.9v8M202.7 275.5h7.9M206.7 271.5v7.9M132.3 281.9h7.6M136.1 278.1v7.6M192.3 260.8h6.7M195.6 257.5v6.7M94.7 196.2h8.2M98.8 192.1v8.2M117.9 262.6h7M121.4 259.1v7M125.3 148.5h6.3M128.4 145.4v6.3M210.2 89.4h7.9M214.1 85.5v7.9M111.1 178.7h6.8M114.5 175.3v6.8M179.5 127.5h6M182.5 124.5v6M84.8 226.2h8.4M89 222v8.4M247.8 129.1h7.6M251.5 125.4v7.6M140.1 226.8h5.3M142.8 224.1v5.3M195.8 75.9h8M199.8 71.9v8M89.4 230.6h7.6M93.2 226.8v7.6M155.7 248.3h5.2M158.3 245.6v5.2M188.7 272.2h6.7M192.1 268.8v6.7M188.1 248.4h6.1M191.1 245.4v6.1M209 71.6h7.5M212.7 67.8v7.5M174.3 274.3h7M177.8 270.8v7M130.6 176.7h5.6M133.4 173.9v5.6M81.8 172.4h7.8M85.7 168.5v7.8M265.6 156.4h6.2M268.7 153.3v6.2M289.1 156.5h8.6M293.4 152.3v8.6M241 134.3h7.3M244.7 130.7v7.3M240.4 210.3h4.4M242.6 208.1v4.4M224.3 265.8h7.5M228.1 262.1v7.5M107 155.2h6.7M110.4 151.9v6.7M218.9 272.5h6.6M222.2 269.2v6.6M77.3 186h8.7M81.7 181.7v8.7M142.5 117.2h7.3M146.1 113.6v7.3M260.1 177.1h6.2M263.3 174v6.2M168.7 242.6h5.5M171.5 239.8v5.5M278.3 197.6h6.2M281.4 194.5v6.2M279 228.5h9M283.5 224v9M247.7 208.8h6.3M250.9 205.6v6.3M111.9 163h6.4M115.1 159.8v6.4M91 136.2h8.6M95.3 131.9v8.6M287.8 228.1h7.6M291.6 224.3v7.6M162.4 108.1h6.1M165.4 105.1v6.1M130.6 203.4h4.6M132.9 201.2v4.6M247.4 121.5h7.2M251 117.9v7.2M92.2 240.7h7.9M96.1 236.7v7.9M140.2 261.6h6.7M143.6 258.3v6.7M104.3 142.1h6.6M107.6 138.8v6.6M143.1 142.7h6.1M146.1 139.6v6.1M86 208.4h8.3M90.1 204.3v8.3M283.9 200.8h7.4M287.6 197.1v7.4M235.4 104h7.4M239.1 100.3v7.4M194.1 274.3h6.4M197.3 271.1v6.4M152.4 134.3h6.3M155.6 131.2v6.3M259 255.8h7.3M262.7 252.1v7.3M284.9 161.8h8.8M289.3 157.4v8.8M145 78.5h8.8M149.4 74.1v8.8M217.8 97h6.9M221.3 93.5v6.9M290.5 180.8h7.5M294.2 177v7.5M285.4 149.8h7.4M289.1 146.1v7.4M143.9 284.8h8.3M148.1 280.7v8.3M256.5 222.3h7.3M260.2 218.6v7.3M128.4 108.6h6.7M131.8 105.2v6.7M110.1 198.8h6.9M113.6 195.4v6.9M125.3 125.4h6.1M128.3 122.4v6.1M176 258.1h6.8M179.5 254.7v6.8M120.3 134.2h7.4M124 130.5v7.4M151.7 242.2h6.2M154.8 239.1v6.2M262.5 131.5h7.1M266.1 128v7.1M244.4 255.8h8.1M248.5 251.8v8.1M81 155.4h8.4M85.2 151.2v8.4M135.9 236.9h5.2M138.5 234.4v5.2M190.1 282.1h6.4M193.3 279v6.4M227.9 88.4h7.9M231.9 84.4v7.9M212 252.1h6.5M215.3 248.9v6.5M206.5 110.2h7M210 106.7v7M101.2 211.6h7.9M105.2 207.7v7.9M239 124.4h6.3M242.1 121.3v6.3M243.1 265.5h6.4M246.4 262.2v6.4M87.3 177h8.7M91.6 172.7v8.7M209.5 80.5h7.1M213 76.9v7.1M193.1 110h7.2M196.7 106.4v7.2M209.7 132.4h5.5M212.5 129.7v5.5M227.7 249.6h6.2M230.8 246.5v6.2M268.2 123.5h9.2M272.8 118.9v9.2M195.6 101.9h6.4M198.8 98.7v6.4M102 121.7h8.3M106.2 117.5v8.3M124.1 187h6.1M127.2 184v6.1M177.1 91.2h8.3M181.2 87.1v8.3M260.3 126.2h7.9M264.3 122.2v7.9M240 282.8h8.4M244.2 278.6v8.4M145.6 240.6h5.6M148.4 237.9v5.6M113.6 233.4h6.8M117 230v6.8M186.7 82.5h6.9M190.2 79v6.9M188 300.8h8M192 296.8v8M222 100.7h7.3M225.6 97v7.3M166.9 277.1h7.5M170.7 273.3v7.5M100.1 183.9h6.9M103.6 180.5v6.9M94.5 213.8h8.5M98.8 209.5v8.5M219 257.9h6M222 254.9v6M110.1 216.6h5.8M113 213.7v5.8M141.6 94.5h8.2M145.7 90.3v8.2M172.7 267.8h5.8M175.5 265v5.8M151.5 121.3h7.1M155.1 117.7v7.1M204.2 102.8h6.1M207.2 99.7v6.1M142.8 134.1h5.7M145.6 131.2v5.7M147.3 279.8h7.9M151.2 275.8v7.9M81.9 203.8h9.1M86.4 199.2v9.1M124.8 170.2h5.3M127.4 167.5v5.3M249.4 142.5h7.2M253 138.9v7.2M256.5 111.6h8.5M260.8 107.3v8.5M129.1 276.3h7.7M132.9 272.5v7.7M152.3 101.7h6.3M155.4 98.5v6.3M125.4 162.6h6.5M128.6 159.4v6.5M200.7 68.1h7.9M204.6 64.2v7.9M260.3 242h7.7M264.2 238.2v7.7M113.8 257.3h8.6M118.2 253v8.6M207.5 288.8h8.6M211.8 284.5v8.6M152.1 143h4.9M154.6 140.5v4.9M108.5 242.6h7.3M112.1 239v7.3M229.3 227.1h5.4M232 224.5v5.4M123.8 141.7h7.2M127.4 138.1v7.2M244.7 100.4h9.1M249.3 95.9v9.1M206.1 296.1h8.1M210.1 292.1v8.1M125.1 258.3h7.7M129 254.5v7.7M250.9 248.7h6.8M254.3 245.3v6.8M268.9 198.6h5.9M271.9 195.7v5.9M275.7 181.2h7.5M279.5 177.4v7.5M106.6 189.9h5.8M109.5 187.1v5.8M255.3 227.8h5.6M258.1 225v5.6M248.8 161h5.9M251.7 158.1v5.9M145.6 124.9h6.2M148.7 121.8v6.2M115.7 152h7.1M119.3 148.4v7.1M251 202.6h5.6M253.8 199.8v5.6M142.7 108.6h7M146.2 105.1v7M139.7 270.7h8.5M143.9 266.4v8.5M195 289.2h8.4M199.1 285v8.4M211.5 98h7.9M215.4 94.1v7.9M127.3 270.9h8.2M131.5 266.7v8.2M250 172.2h5M252.5 169.7v5M242.1 161.1h4.7M244.5 158.7v4.7M283.6 191.3h8.4M287.8 187.1v8.4M280.6 184.5h7.5M284.4 180.7v7.5M134.3 126.9h6.5M137.6 123.7v6.5M220.7 251.4h6.6M224 248.1v6.6M139.1 87.8h8.8M143.5 83.5v8.8M263.8 141.7h7.8M267.7 137.8v7.8M161.2 292.5h8.7M165.5 288.2v8.7M136.2 254.3h7.2M139.8 250.7v7.2M266.5 220.7h6.9M270 217.3v6.9M160.5 115.8h6.4M163.7 112.6v6.4M118.9 251.4h6.7M122.3 248.1v6.7M161.3 135.5h5.7M164.2 132.7v5.7M90.6 144.8h8.7M94.9 140.5v8.7M191.2 119.9h6M194.2 116.9v6M93.5 171.7h8.2M97.6 167.6v8.2M268.9 183.4h6.3M272 180.2v6.3M280.5 234.2h8.5M284.8 229.9v8.5M278.8 168h7.4M282.5 164.3v7.4M269.2 147.4h7M272.7 143.9v7M197.6 298.8h9M202.1 294.3v9M251.3 100.1h7.4M255 96.4v7.4M146.7 258.5h6.7M150 255.2v6.7M87.3 199h8.5M91.6 194.7v8.5M274 214.5h6.2M277.1 211.4v6.2M199.1 106.7h6.5M202.4 103.4v6.5M117.9 106.4h8.9M122.3 102v8.9M112.1 117h7M115.6 113.5v7M114 190.5h6.6M117.2 187.2v6.6M195 84h8.1M199.1 80v8.1M186.2 88.3h7.4M189.9 84.6v7.4M133.4 137.2h5.6M136.3 134.4v5.6M100.3 238.1h8M104.3 234.1v8M217.1 266.7h7.4M220.8 263v7.4M178.1 291.9h8.3M182.3 287.8v8.3M209.4 120.1h6.5M212.6 116.8v6.5M174.4 132.5h5.5M177.2 129.8v5.5M214 75.2h7.3M217.6 71.6v7.3M236.3 277.8h8.5M240.6 273.5v8.5M132.2 115.1h6.7M135.5 111.7v6.7M87.1 214h8.9M91.5 209.6v8.9M101.6 130.9h7.5M105.4 127.2v7.5M165.4 248.4h5.6M168.2 245.6v5.6M272.8 205.6h6.9M276.3 202.1v6.9M273.5 236h8.6M277.8 231.7v8.6M211.3 267.6h5.8M214.2 264.7v5.8M246.6 225.4h6.1M249.7 222.4v6.1M238.1 242.9h6.5M241.3 239.6v6.5M113.4 209.5h5.5M116.2 206.8v5.5M252.4 134.1h6.2M255.6 130.9v6.2M167.8 289.9h6.8M171.1 286.6v6.8M95.7 226.8h7.1M99.3 223.2v7.1M97.1 143h6.8M100.5 139.6v6.8M125.2 217.7h5.6M128 214.9v5.6M266.9 172.6h7.1M270.4 169.1v7.1M231 109.5h8.1M235.1 105.5v8.1M258.2 185.4h6.6M261.5 182v6.6M175.8 300.3h7.7M179.6 296.5v7.7M161.3 127.7h6M164.3 124.7v6M158.5 83.6h7M162 80.1v7M220.1 293.8h8M224.1 289.8v8M118.5 173h5.8M121.3 170.1v5.8M169.3 120.3h5.4M172 117.6v5.4M104.1 204.5h7.4M107.8 200.8v7.4M251.3 262.1h6.7M254.6 258.8v6.7M293.4 186.3h7.8M297.3 182.4v7.8M235 143.1h5.2M237.6 140.5v5.2M274.6 223h8.3M278.7 218.9v8.3M157.1 236.2h5M159.6 233.6v5M150.6 234.3h4.5M152.8 232v4.5M104.4 126.9h8.5M108.6 122.7v8.5M281.8 221.3h8.5M286 217v8.5M157.1 74.8h7.5M160.9 71v7.5M178.2 278.6h6.3M181.3 275.5v6.3M193.7 90.2h6.5M196.9 86.9v6.5M175 107.9h5.7M177.9 105v5.7M172.4 248.3h6.2M175.5 245.1v6.2M118.8 160.9h6.6M122.1 157.5v6.6M133.6 98.1h8.6M137.9 93.8v8.6M120 121.2h6.9M123.5 117.8v6.9M280.2 206h7.2M283.8 202.4v7.2M269.7 225.6h6.3M272.9 222.5v6.3M222.8 138.2h4.6M225.1 135.9v4.6M129.8 233.2h5.5M132.6 230.4v5.5M244.6 241.7h6.3M247.8 238.5v6.3M286.1 175.1h6.7M289.4 171.8v6.7M225.3 232.9h4.8M227.7 230.5v4.8M152.8 113.6h5.9M155.7 110.7v5.9M258.1 196.4h6.8M261.4 193v6.8M137 276.5h7.8M140.8 272.6v7.8M111.5 225.8h7.6M115.3 222v7.6M213.8 107.9h6.7M217.2 104.5v6.7M112.4 142.7h6.7M115.7 139.3v6.7M118.9 212h6.9M122.4 208.5v6.9M262.5 259.4h9.2M267.1 254.8v9.2M219.3 112.5h6.6M222.6 109.2v6.6M183.1 118h6M186.1 114.9v6M105.7 257.3h8M109.7 253.3v8M87.5 184.7h8.7M91.9 180.4v8.7M190 71.7h8.2M194.1 67.7v8.2M229.6 271.4h8M233.6 267.4v8M185.3 291.5h7M188.8 288.1v7M118.9 204.4h6.4M122 201.2v6.4M223 239.5h5.5M225.8 236.7v5.5M136.2 103.1h8.5M140.5 98.9v8.5M130.4 260.7h7.8M134.2 256.8v7.8M149.8 294.8h8.4M154 290.6v8.4M201.1 263.9h7.2M204.8 260.2v7.2M172.7 77.9h8.8M177.1 73.5v8.8M265.4 236.5h7.1M269 233v7.1M215.2 244.6h6M218.2 241.6v6M236.8 150.5h5.8M239.7 147.6v5.8M277.1 189.8h8.1M281.1 185.8v8.1M199 93.3h7.3M202.7 89.7v7.3M277.7 139h7.3M281.3 135.3v7.3M78.3 161h9.4M83 156.3v9.4M287.4 219.8h8.1M291.5 215.7v8.1M137.4 92.1h7.2M141 88.5v7.2M160.5 297.8h7.4M164.2 294.2v7.4M231.2 98h7M234.7 94.5v7M181.7 306.5h8.1M185.8 302.4v8.1M201.2 80.3h7.4M204.9 76.6v7.4M85.4 157.4h8.9M89.9 152.9v8.9M145.3 103.3h6.3M148.5 100.2v6.3M230 135.8h5.7M232.8 133v5.7M176.4 285.7h6.4M179.6 282.5v6.4M278.3 242.9h8.3M282.5 238.7v8.3M290.2 194.2h8.7M294.6 189.8v8.7M157.5 100h7.8M161.4 96.1v7.8M205.9 250h4.9M208.3 247.6v4.9M80.1 209.9h9M84.6 205.4v9M86.5 148h8.6M90.8 143.7v8.6M225.2 278.5h6.5M228.5 275.3v6.5M105.6 231.5h6.3M108.7 228.3v6.3M241.8 146.2h5.9M244.8 143.2v5.9M159 255.9h5.6M161.7 253.1v5.6M107.5 120.3h8.7M111.9 115.9v8.7M91.8 208.3h7.6M95.6 204.5v7.6M169.3 109.9h5.7M172.1 107.1v5.7M248.5 109.9h7M252 106.4v7M238.1 109.3h7.8M242 105.4v7.8M109.3 236.9h7M112.8 233.4v7M280.8 143.3h8.8M285.2 138.9v8.8M203.8 122.8h5.5M206.5 120.1v5.5M104.9 162.7h7.8M108.8 158.8v7.8M157 266.4h6.2M160.1 263.3v6.2M131.6 144.2h5.4M134.3 141.5v5.4M114.4 125h8.5M118.6 120.7v8.5M125 119.3h8M129 115.3v8M264 164.4h7.4M267.7 160.7v7.4M128.1 131.4h6.8M131.5 128.1v6.8M122.3 231.3h6.1M125.4 228.2v6.1M114.7 241.9h6.6M118 238.5v6.6M108 183.9h6.3M111.1 180.7v6.3M249.6 238.8h6.7M252.9 235.5v6.7M126.5 250.3h6.8M129.8 247v6.8M120.1 112.3h7.9M124 108.3v7.9M296 179.5h8.2M300.1 175.5v8.2M136.6 111.7h8M140.6 107.7v8M273.4 229.8h8.2M277.4 225.7v8.2M217.4 88.3h7M220.9 84.8v7M226.1 292.7h7.3M229.7 289.1v7.3M123 178.3h5.9M126 175.3v5.9M94.8 236.3h8.7M99.2 232v8.7M149.5 289h8.8M153.9 284.6v8.8M273.2 250.7h8.7M277.6 246.4v8.7M262.5 202.8h6.4M265.7 199.6v6.4M99.9 149.6h7.8M103.8 145.7v7.8M255.9 159.8h6.7M259.2 156.4v6.7M164.1 264.9h7.1M167.7 261.4v7.1M134.4 220.6h5.5M137.1 217.9v5.5M222 107.1h6.6M225.3 103.8v6.6M238.2 248.8h7.5M241.9 245.1v7.5M201.5 115.6h6.4M204.7 112.4v6.4M222.5 125.5h6.9M225.9 122.1v6.9M92.2 191.8h7M95.7 188.3v7M97.9 231.5h8.5M102.2 227.2v8.5M117.8 141.4h6.9M121.3 137.9v6.9M151 96h7.6M154.7 92.3v7.6M119.1 219.8h6.4M122.3 216.6v6.4M248.8 267h6.7M252.1 263.7v6.7M202.8 75.3h6.8M206.2 71.9v6.8M209 278.8h6.4M212.2 275.6v6.4M194.7 310.8h7.6M198.5 307v7.6M176.2 68.3h7.6M180 64.5v7.6M254.5 167h6.5M257.7 163.8v6.5M129.4 210.4h5.4M132.1 207.7v5.4M147.9 269.6h7.9M151.9 265.6v7.9M103 246.9h7.6M106.9 243.1v7.6M268.6 210.8h6.7M272 207.4v6.7M137 121h6.4M140.2 117.8v6.4M77.3 195.7h9.3M82 191.1v9.3M266.4 248.3h7.3M270.1 244.6v7.3M132.9 272.3h7.1M136.5 268.8v7.1M149.5 106.7h6.9M153 103.3v6.9M278.4 161.5h7.4M282.1 157.8v7.4M274.2 173h6.8M277.6 169.6v6.8M190.4 292.7h8.4M194.6 288.5v8.4M186.7 101.5h7.9M190.6 97.5v7.9M283.7 139h7.2M287.3 135.4v7.2M173.7 86.2h7.8M177.6 82.3v7.8M184.9 74.8h7.2M188.5 71.2v7.2M224 82.2h7.5M227.8 78.5v7.5M217.4 298.8h9.3M222.1 294.1v9.3M124 238.8h6.8M127.4 235.3v6.8M289.9 172.8h8.2M294 168.7v8.2M164.8 257.5h6.2M167.9 254.5v6.2M272.7 124.6h9M277.2 120.1v9M96.8 242.8h8.5M101.1 238.6v8.5M288.5 209.6h8.3M292.7 205.4v8.3M195.2 127.9h5.4M197.9 125.2v5.4M264.4 121.5h6.9M267.9 118.1v6.9M197.8 252.1h5.9M200.7 249.2v5.9M149.2 248h5.3M151.9 245.4v5.3M236.1 115.8h7.4M239.8 112.1v7.4M277 148.6h8.6M281.3 144.3v8.6M241.9 170.8h4.7M244.2 168.5v4.7M175.3 73.3h8.2M179.4 69.1v8.2M269.4 139.6h7.1M272.9 136v7.1M211.6 259.5h5.6M214.3 256.7v5.6M229.1 124h6.7M232.5 120.6v6.7M282.1 154.7h6.8M285.5 151.4v6.8M95.6 203h7.7M99.4 199.1v7.7M166.7 103.4h7.7M170.6 99.5v7.7M91.3 220.1h8.3M95.5 215.9v8.3M258.7 119.1h6.6M262 115.8v6.6M218.2 278.6h6.8M221.6 275.2v6.8M244.6 275.9h7.3M248.3 272.3v7.3M154.7 274.1h8.1M158.8 270v8.1M258.3 236.9h7.4M262 233.1v7.4M214.7 291.2h8.4M218.9 287v8.4M228.2 82.5h9.3M232.8 77.9v9.3M246.5 152.4h6.2M249.6 149.3v6.2M139 282.1h7M142.5 278.7v7M163.9 94.5h7.5M167.7 90.7v7.5M106.5 148.4h6.7M109.9 145v6.7M289.5 201h7.6M293.2 197.2v7.6M162.8 76.6h7M166.3 73.1v7M163.8 270.7h6.3M166.9 267.5v6.3M155.4 89.3h8.3M159.5 85.1v8.3M222.3 88.9h8.3M226.5 84.7v8.3M238.5 261.6h6.3M241.7 258.5v6.3M166.7 78.7h8.7M171.1 74.3v8.7M187.5 111.9h5.8M190.4 108.9v5.8M135.2 152.5h5.7M138 149.7v5.7M139.6 291h7.3M143.3 287.3v7.3M94.7 180.3h7M98.2 176.8v7M152.9 258.3h6.1M156 255.3v6.1M241.8 92.4h9M246.3 87.9v9M107.2 132h7.7M111.1 128.1v7.7M260 136.5h6.3M263.1 133.3v6.3M292.8 203.4h9.2M297.4 198.8v9.2M248.8 104.6h7.3M252.5 101v7.3M210.9 301.8h7.5M214.7 298v7.5M259.1 262.4h7.7M263 258.5v7.7M187.8 305.7h7.3M191.4 302v7.3M103.3 174.6h6.8M106.8 171.2v6.8M143.6 253.3h7.2M147.2 249.7v7.2M81.6 217.4h8.8M86 213v8.8M221.8 286.5h8.4M226 282.3v8.4M135.1 266.8h6.6M138.4 263.5v6.6M263.6 188.6h5.9M266.6 185.7v5.9M166 84.7h7.3M169.6 81.1v7.3M243.4 113h7.9M247.4 109.1v7.9M184.4 67.7h8.9M188.9 63.2v8.9M246.2 232.6h6M249.2 229.7v6M116.6 183.3h6.1M119.7 180.3v6.1M257.6 267.1h8.4M261.8 262.9v8.4M176.5 121.5h5.6M179.3 118.7v5.6M166.2 73.2h8.3M170.4 69v8.3M264.2 228.1h7.2M267.8 224.5v7.2M271.5 241.6h8M275.4 237.6v8M249.4 115h8.2M253.5 110.9v8.2M179.7 111.8h7.2M183.2 108.2v7.2M172.7 295.6h8.2M176.8 291.5v8.2M218.2 78.8h7.9M222.1 74.9v7.9M269.2 167.6h7.7M273.1 163.7v7.7M253 148.3h6.8M256.5 144.9v6.8M258.4 142h6.6M261.7 138.7v6.6M101.1 199.3h7.4M104.8 195.6v7.4M152.7 79.3h8.5M156.9 75.1v8.5M214.6 303.1h8.5M218.9 298.8v8.5M253 256.7h8.3M257.2 252.6v8.3M191.1 96.9h8M195.1 92.9v8M127.7 226.9h6M130.8 223.9v6M118.4 197.4h5.1M121 194.8v5.1M182.1 251.4h4.7M184.5 249.1v4.7M237 97.2h7.9M240.9 93.3v7.9M108.9 168.8h7.1M112.5 165.2v7.1M255.6 250.9h8.3M259.8 246.8v8.3M123.1 267.8h8.3M127.3 263.7v8.3M237.2 235.6h6M240.1 232.6v6M165.5 283h7.2M169.1 279.4v7.2M256.2 129.8h7.8M260.1 125.9v7.8M226.2 94.6h7.5M229.9 90.8v7.5M202.9 257.1h5.1M205.5 254.5v5.1M180.6 301.4h9M185.1 296.9v9M204.3 89h8.4M208.5 84.8v8.4M97.3 166.2h7.4M101 162.4v7.4M110.3 249.3h7.5M114 245.6v7.5M240 270.7h6.9M243.5 267.3v6.9M226.3 258.1h5.9M229.2 255.1v5.9M245.8 182h5.2M248.4 179.4v5.2M282.6 210.7h8.2M286.7 206.6v8.2M181.4 274.4h7.3M185.1 270.7v7.3M144.1 84.2h8.9M148.6 79.8v8.9M268.7 134.1h6.8M272.1 130.7v6.8M282.7 238.1h9.2M287.3 233.5v9.2M268.5 231.8h7.3M272.1 228.2v7.3M170.2 304.6h7.8M174.1 300.7v7.8M98.4 157.6h6.8M101.8 154.2v6.8M213.1 296.5h8.4M217.3 292.3v8.4M151.8 84.6h7.6M155.6 80.7v7.6M234.2 131.8h6.8M237.6 128.4v6.8M272.2 162.5h6.6M275.5 159.2v6.6M98.2 137.8h7.3M101.9 134.2v7.3M120.1 128.1h6.7M123.4 124.8v6.7M194.7 303.4h8.3M198.8 299.2v8.3M276.8 210.1h6.6M280.1 206.8v6.6M253 123.2h8.3M257.1 119v8.3M94.3 131.4h8.4M98.5 127.2v8.4M234.3 268.3h8.3M238.4 264.1v8.3M80.3 180.1h8.6M84.6 175.8v8.6M80.3 165.9h8.2M84.4 161.8v8.2M169.3 95.1h7.9M173.2 91.2v7.9M182.9 93.2h7.8M186.8 89.3v7.8M279.5 133.6h9.5M284.2 128.9v9.5M201.8 291.5h7M205.3 287.9v7M190.9 266.6h5.8M193.8 263.7v5.8M234.9 253.2h6.1M238 250.2v6.1M271.1 191.3h7.7M275 187.5v7.7M175.3 100.5h5.9M178.2 97.5v5.9M241.8 105.6h8.1M245.9 101.6v8.1M188.1 126.1h5.9M191.1 123.2v5.9M87.4 140h8.9M91.8 135.5v8.9M274.8 143.7h7.6M278.6 139.9v7.6M182.3 282.1h7.6M186.1 278.3v7.6M156.9 290.1h6.7M160.2 286.7v6.7M122.7 104.3h9M127.2 99.8v9M233.3 285.7h8M237.3 281.7v8M203.5 285.5h7.4M207.3 281.8v7.4M294 192h9.4M298.7 187.3v9.4M171.4 281.6h6.9M174.8 278.1v6.9M146.9 90.8h8.8M151.3 86.4v8.8M213.3 84.3h8.3M217.5 80.2v8.3M189.4 255h6.2M192.5 251.9v6.2M156.5 108.8h5.8M159.4 105.9v5.8M228.3 104h7.6M232.1 100.2v7.6M239.4 218.5h5.4M242.1 215.8v5.4M244.5 196.1h5.2M247.2 193.5v5.2M97.8 247.6h7.1M101.3 244.1v7.1M216.4 285.5h8.3M220.5 281.4v8.3M261.2 249.9h7.9M265.1 245.9v7.9M255.4 244.7h6.4M258.7 241.5v6.4M130.3 104h8.2M134.4 99.9v8.2M142.9 277.3h6.6M146.2 274.1v6.6M229.9 263.6h7.2M233.5 260v7.2M283.8 168.6h8.2M287.9 164.5v8.2M246.5 95.2h9.4M251.2 90.5v9.4M195.3 71h8.8M199.7 66.6v8.8M199.1 269.9h6.7M202.5 266.6v6.7M155.8 295.3h8.2M159.9 291.3v8.2M253 233.4h6.8M256.4 230v6.8M232.5 86.6h9.2M237.1 82v9.2M84.6 231.2h7.6M88.5 227.4v7.6M266.9 128.2h8.3M271 124.1v8.3M182.6 105.1h6.3M185.8 101.9v6.3M115 109.7h7.3M118.6 106v7.3M144.8 294.7h9.3M149.4 290.1v9.3M170.7 70.1h8.6M175 65.8v8.6M181.3 296h8.6M185.5 291.7v8.6M279.9 173.9h7.3M283.5 170.3v7.3M205.6 97.6h8.1M209.7 93.6v8.1M189 78.2h8.7M193.3 73.8v8.7M280 215.3h7.3M283.7 211.6v7.3M131.7 94h7.4M135.4 90.3v7.4M105.3 252.5h6.9M108.8 249v6.9M242.3 118.9h7.3M245.9 115.3v7.3M112.3 264h8.9M116.8 259.5v8.9M261.6 115.2h9.2M266.3 110.6v9.2M125.8 155.1h5.3M128.4 152.4v5.3M212.8 113.8h7.2M216.4 110.2v7.2M117.6 166.8h5.6M120.4 164.1v5.6M259.7 170.7h7.2M263.3 167.1v7.2M294.9 173.7h7.8M298.8 169.8v7.8M252.2 270h7.8M256.1 266.1v7.8M149.6 263.6h5.9M152.5 260.7v5.9M162.1 302.8h7.3M165.7 299.1v7.3M77.1 175h9.2M81.7 170.4v9.2M124.8 193.8h4.8M127.2 191.5v4.8M184.6 268h6M187.6 265v6M289.2 189h6.8M292.6 185.6v6.8M257.2 216.3h7.3M260.8 212.7v7.3M82.4 185.6h8.8M86.8 181.3v8.8M268.7 252.5h8.3M272.9 248.3v8.3M169.4 127.1h5M171.9 124.6v5M167.5 89.9h8.1M171.6 85.8v8.1M113.7 131h7.4M117.4 127.3v7.4M230.7 276.5h8.7M235.1 272.1v8.7M130.1 254.9h7.2M133.8 251.3v7.2M294.2 209.5h7.5M297.9 205.8v7.5M229.8 117h7.7M233.7 113.2v7.7M212.3 273.7h7.7M216.2 269.8v7.7M177.6 268.1h7.6M181.4 264.3v7.6M118.4 226.2h6.5M121.6 222.9v6.5M99 190.6h6.8M102.4 187.2v6.8M152.3 127.9h5.7M155.2 125.1v5.7M88.6 170.2h6.6M91.9 166.9v6.6M179.7 76.6h7.4M183.4 72.9v7.4M143.4 266.4h7.8M147.4 262.4v7.8M162.1 88.6h7.1M165.7 85.1v7.1M161.8 242.4h4.7M164.2 240v4.7M200.6 85.7h7.8M204.5 81.8v7.8M82.9 197.7h7.6M86.7 193.9v7.6M186.3 277.4h7.3M189.9 273.8v7.3M105 116.5h8.9M109.5 112.1v8.9M283.8 180.2h7.7M287.7 176.3v7.7M266.1 243.1h6.6M269.4 239.8v6.6M117.8 237.2h6.9M121.2 233.7v6.9M285.4 196h8.7M289.8 191.7v8.7M252.6 108.4h8.1M256.7 104.3v8.1M161.3 277.8h7.7M165.1 273.9v7.7M142.2 233.9h6M145.2 230.9v6M171.3 262h5.6M174.1 259.2v5.6M243.7 140.3h6.4M246.9 137.1v6.4M85.1 144.4h7.1M88.6 140.8v7.1M252.8 154.5h5.7M255.7 151.6v5.7M104.1 136.8h7.6M107.9 133v7.6M230.8 92.8h8.2M234.9 88.7v8.2M252.3 179.3h5.8M255.2 176.4v5.8M115.9 268h8.2M120 263.9v8.2M131.4 247.6h7.3M135 244v7.3M181.2 71.1h7.3M184.9 67.5v7.3M93.3 185.6h7.9M97.3 181.7v7.9M244.3 248.3h7.9M248.2 244.3v7.9M90.5 225.4h6.8M93.9 222v6.8M204.9 269.4h6.7M208.3 266v6.7M270 177.9h7.3M273.7 174.3v7.3M103.3 226.6h6.3M106.5 223.4v6.3M158.9 94.4h6.9M162.3 90.9v6.9M217.2 103.5h7.1M220.8 99.9v7.1M286.7 214.7h6.8M290.1 211.3v6.8M270.3 246.6h8.9M274.8 242.2v8.9M219.5 132.1h5.2M222.1 129.5v5.2M114 157.4h5.9M116.9 154.4v5.9M130.8 121.3h7M134.4 117.8v7M259.8 231.1h6M262.8 228.2v6M189 287.5h6.8M192.4 284.1v6.8M95.2 148.4h7M98.7 144.9v7M126.2 113.7h6.4M129.4 110.4v6.4M191.8 297.8h8.9M196.3 293.4v8.9M290.6 161.5h7.4M294.3 157.8v7.4M210.9 284h7.4M214.6 280.3v7.4M232.6 245.2h5.9M235.5 242.3v5.9M273.4 136.1h7M276.8 132.6v7M86.5 220.6h7.3M90.2 217v7.3M117.2 116.4h7.5M121 112.6v7.5M102.5 169h7.4M106.2 165.3v7.4M128.5 265.5h7.5M132.2 261.8v7.5M119.7 257.5h7.5M123.4 253.7v7.5M293.9 198.5h7.4M297.6 194.8v7.4" stroke="#00ffb2" stroke-width="1.1" fill="none" stroke-opacity="0.82"/>
<path d="M172.3 207.1h4.5M174.6 204.8v4.5M190.9 216.2h3.8M192.8 214.3v3.8M194.3 233.5h4.3M196.5 231.3v4.3M187.7 240.8h4.8M190.1 238.4v4.8M207.5 170.3h4.3M209.6 168.1v4.3M146.1 172.2h4M148.1 170.2v4M229 148.9h4.4M231.2 146.7v4.4M214.9 223.2h4.9M217.3 220.8v4.9M229 185.5h4.8M231.4 183.1v4.8M230.5 169.9h4.2M232.6 167.8v4.2M147.9 210.1h3.8M149.8 208.2v3.8M233.7 195h4M235.7 193v4M200 188.5h4M202 186.5v4M208.9 184.6h3.8M210.8 182.6v3.8M200.8 159.2h4.2M202.9 157.1v4.2M147.4 159.1h4.1M149.4 157v4.1M192.7 164.6h5M195.2 162v5M220.9 188.9h3.9M222.9 186.9v3.9M164.6 180.2h4.9M167.1 177.7v4.9M214.8 161.1h4.8M217.2 158.7v4.8M217.6 231.2h5.3M220.3 228.5v5.3M204.3 230.5h4.9M206.8 228v4.9M146.1 180.5h5M148.6 178v5M164.5 144.6h3.9M166.5 142.7v3.9M153.7 150.6h4.6M156 148.3v4.6M202.5 209.6h4.3M204.7 207.5v4.3M185.8 199.7h4.6M188.1 197.4v4.6M181.2 177.2h4.9M183.7 174.8v4.9M147.5 200.5h4.1M149.5 198.5v4.1M139.9 187.6h4M141.8 185.7v4M149 217.6h4.7M151.4 215.3v4.7M178.3 158.4h4M180.3 156.4v4M157.9 165.8h4.9M160.4 163.4v4.9M188.8 153.6h4.6M191.1 151.3v4.6M168.7 196.8h3.9M170.6 194.9v3.9M166.6 168.4h4.2M168.8 166.3v4.2M210.3 201.7h4.9M212.8 199.2v4.9M156.1 179.4h4.2M158.2 177.3v4.2M135.7 162h5.1M138.3 159.4v5.1M216.4 177.3h4M218.4 175.3v4M184.7 208.4h4.9M187.1 206v4.9M221 211.4h4.5M223.2 209.1v4.5M178 142.2h4.1M180.1 140.1v4.1M199.8 198.5h4.4M202 196.3v4.4M156.9 224.3h5.1M159.5 221.7v5.1M131.3 183.9h5.5M134 181.1v5.5M242.5 203.3h4.5M244.7 201v4.5M165.7 226.1h4.9M168.1 223.6v4.9M224 201.9h4.2M226.1 199.8v4.2M196.7 139.7h4.5M199 137.5v4.5M175.1 221.3h3.8M177 219.4v3.8M160.9 200.7h4.1M163 198.6v4.1M137.4 207h5.3M140.1 204.3v5.3M181.9 233.8h4.7M184.2 231.5v4.7M188.8 135.8h4.9M191.2 133.4v4.9M199.9 178.7h3.9M201.8 176.7v3.9M140.3 196.3h4.9M142.7 193.9v4.9M159.9 156.9h4.4M162.1 154.7v4.4M228.5 158.4h4.6M230.8 156v4.6M201.8 134h5.4M204.5 131.3v5.4M208.7 149.1h4.5M210.9 146.8v4.5M190.9 190.9h4.7M193.3 188.5v4.7M238 177.7h4.2M240 175.6v4.2M196.3 240.7h4.3M198.4 238.6v4.3M228.3 214.4h4.2M230.4 212.3v4.2M231.8 203.4h4.8M234.2 201v4.8M175.6 169.8h4.2M177.7 167.7v4.2M164.2 213.1h4.2M166.3 211v4.2M212.5 236.1h4.5M214.8 233.8v4.5M163.3 188.9h4.5M165.5 186.6v4.5M175.5 187.6h4.5M177.8 185.3v4.5M186.4 144.2h4.5M188.7 142v4.5M131.6 193.4h5.5M134.3 190.6v5.5M177.2 197.4h4.8M179.6 195v4.8M208.7 217.7h4.6M211 215.4v4.6M243.6 188.7h4.5M245.8 186.5v4.5M208.8 193.3h4.4M211 191.1v4.4M218.9 145.4h4.7M221.3 143.1v4.7M175.7 150.3h3.9M177.6 148.4v3.9M137.7 169.3h4.6M140 167v4.6M152.5 187.3h4.7M154.8 185v4.7M184.1 167.2h4M186.2 165.2v4M184.1 224.1h4M186.1 222.1v4M143.7 152.5h5M146.1 150v5M198.1 223.1h4.7M200.4 220.8v4.7M170 139.6h4.9M172.5 137.2v4.9M174.1 235.3h4.4M176.3 233.1v4.4M221.5 168.9h4.6M223.8 166.6v4.6M189.7 179.9h4.6M192 177.6v4.6M205.5 240.5h4.3M207.7 238.4v4.3M214.2 139h4.9M216.6 136.6v4.9M199.4 150.3h3.9M201.3 148.4v3.9M169.8 160h3.8M171.8 158.1v3.8M204.5 141.8h4.9M207 139.3v4.9M226 177.1h4.2M228.1 175v4.2M193.8 204.4h3.9M195.8 202.5v3.9M179.2 242.1h5.6M182 239.3v5.6M138.3 179.7h5.1M140.8 177.1v5.1M223 222.9h4.5M225.2 220.7v4.5M164.8 235.9h5.4M167.5 233.2v5.4M220.2 153.7h5.1M222.7 151.1v5.1M149.2 227.1h5M151.7 224.6v5M138.7 214.2h5.4M141.4 211.5v5.4M156.1 208.9h4.9M158.6 206.5v4.9M235.4 163.7h4M237.4 161.7v4.0" stroke="#00ffff" stroke-width="1.1" fill="none" stroke-opacity="0.82"/>
<path d="M359.9 186.5h7.4M358.3 185.2h8.8M356.9 183.9h9.7M357.5 182.8h9.5M357.6 181.3h9.7M359.6 179.7h9.8M358.7 177.5h9.7M357.2 176.9h7.3M356.2 174.6h8.3M358.5 172.9h9.5M356.1 171.1h7.9M355.5 169.5h9M358.7 168.2h8.6M357.4 167h9.9M358 164.9h10.3M356.3 164.6h7.5M357.7 162.3h9.9M354.9 161.8h8.5M356.1 160h9.2M356.7 158.5h8.9M354.5 157.3h7.5M355.6 155h10.6M354.7 153.6h8M355.4 152.5h8.9M355.7 150.5h10.4M354.8 148.2h7.3M352.2 148.6h8M353.6 145.4h8.4M353.5 144.8h8.3M352.7 143.5h7.6M353.6 140.6h9.6M350.4 140.7h10.4M349.6 139.1h9.3M351.6 136.8h7.7M350.5 135.9h8.8M350 133.9h10.7M348.9 133h9.4M348.5 131.1h9.9M349.6 129.9h10.2M347.7 128.5h7.7M349.3 127h7.7M346.9 125h10.4M346.2 123.8h7.6M346.6 121.3h10.4M345.7 122.1h7.6M344.5 120.5h7.7M342.8 119.5h9.2M343.7 116.1h10.4M341.6 116.1h7.9M340.8 114.4h9.4M343.2 112.3h8.8M341.5 111.4h9.8M339.5 111.1h9.7M339.4 108.9h10.2M339 107.9h8.8M336.5 105.8h10.6M338.7 103.7h10.7M336.3 103.1h8.4M336 101.7h8.7M336.1 99.4h10.5M334.4 100h7.8M334.7 98.1h7.5M332.8 96.9h9M330.5 95.3h10.8M332.3 94.5h7.2M334.7 88.3v10.4M329.8 91.6h10M329.4 90.6h8.9M328.6 88.1h7.9M327.2 87.3h7.5M330.1 81.4v9.6M324.9 84.8h9.4M322.8 84.9h9.7M327.3 77.7v9.8M320.8 82.8h10.4M325.2 75.9v9.5M320.1 80.5h8.1M323.9 74v9.1M322.7 72.6v8.2M321.5 71.7v9.9M321.6 70.3v8.2M320.3 68.7v8.3M314.4 72h9.9M315.1 70.8h7.8M312.9 68.7h9.4M314.9 64.1v10.7M309.1 69.1h10.7M308.3 66.5h9.8M311.8 61v9.7M311.2 60.1v8.3M306.5 63h7.8M302.9 62.8h10.6M308.1 58.6v8M308.4 55v10.2M306.5 55.1v7.9M304.1 55.9v8.6M303.3 52.7v10.2M302.7 52.4v7.3M301.5 50.5v8.6M300.5 48.7v8.8M300.3 48.1v9.5M297.7 48.2v7.9M296.4 45.6v10.5M294.1 47.5v8M293.5 45.3v8.9M293.4 44.7v8.8M291.1 45v8.3M289.7 43.1v8.6M289.2 42.5v7.8M288.8 38.7v9.6M285.6 42.1v7.3M285.7 39.5v7.4M284.9 37.5v10.2M282.7 38.1v8.6M282.9 35.6v9.4M279 37.8v7.9M279.4 36v8.9M277.7 34.3v9.1M277.6 32.7v8.8M275.7 31.5v10M273.2 31.5v9.7M272.3 30.5v10.2M272 29.7v8.3M269.4 29.5v10.6M269.7 27.7v9.3M266.5 28v9.8M267 26.3v8.9M264.9 24.6v10.1M264.1 25.8v8.2M260.2 28.2v7.6M259.9 24v10.5M259.7 22v10.2M257.7 24.2v10M255.3 23.8v9.5M254 23.8v7.8M253 24.4v8.5M251.7 21.9v8.3M250.3 22.1v8.2M248.7 22.5v8.1M248 20.3v7.9M245.5 21v9.3M245.6 18.3v9.1M242.7 19.4v7.7M241.1 18v10.2M240.3 14.4v10.7M239.1 19v8.2M237.7 16.8v7.7M236.8 14.9v9.6M233.4 17.8v7.4M233.1 13.3v10.4M231.5 17v7.9M229.6 14.4v7.9M227.9 14.5v7.4M226.5 16.1v8.5M224.6 16.6v8M224.2 14v8.2M222.8 13.5v10.4M221.5 12.2v10.6M219.8 11.8v9.8M217.3 12.4v10.6M217.1 11.9v8.6M215.3 10.6v10.7M213.1 14.5v7.8M211.1 13.6v8.7M210.2 12.1v8.2M208.7 13.5v7.6M206.9 12.6v9.4M205.6 8.4v10.3M204.3 10.2v10.6M203.3 10.9v9M201 12.6v7.9M200.3 11.4v9.3M198 11.3v9.3M197 9.5v8.4M194.7 10.6v10.6M194.4 12.2v8.1M192 11.7v8.9M190.5 10.9v9.9M189.8 7v10.8M187.9 9.5v9.9M185.4 12.5v8.3M184.9 8.8v10.5M183 12.9v8.5M180.8 8.8v9.7M179.7 10v9.2M179.1 10.8v10.5M177.5 10.1v8.5M176 11.2v8.8M174.4 14.4v7.5M171.9 10.8v9M170.9 11.9v9.4M169 13.4v8.7M168.3 9.8v10.7M166.5 12.9v7.6M164.5 12.2v10M163.3 10.1v10.7M162.1 9.9v10.4M159.7 14.2v8.4M159.2 15v7.6M158 14.6v9.4M155.2 12.7v9.5M153.7 12.1v10.3M153.3 15.9v8.2M152 15v8.7M148.9 12.4v10.7M148.2 16.1v7.6M147.5 18.2v8.2M145.5 16.3v9.4M143.1 16.6v9M142 15.1v9.9M140.8 17.1v10.4M139.3 18v8.9M137.5 16.7v9.1M136.2 16.5v10.6M134.4 18.6v9.1M134.2 20.4v9.4M132.5 20.1v8.4M130.2 19.9v9.8M129.9 21.3v9.8M127.4 22.6v7.9M127 24v8.5M124.9 23.1v8.3M123.3 22.5v9.4M122.7 25.9v7.4M120.3 26v7.3M120.7 27.8v7.4M117.4 24.7v8.8M116.7 27.5v9M115.8 26.2v9.8M113.2 27.7v9.5M112.7 30.5v9M111 27.1v10.2M109.5 29.8v10.7M107.5 28.4v10.3M106.6 31.2v10.7M106.3 32.5v9.1M104.2 33.1v7.5M101.9 31.5v10.4M102.8 37.1v7.5M101.8 37.5v8.1M99.5 35.3v10.3M96.6 34.5v10.6M91.8 43.5h10.3M95 38.2v7.6M93.2 38.3v9.8M87.7 43.7h8.8M91.8 41.3v9.7M90.6 42.4v8.6M88.9 42.9v8.8M84.5 47.9h7.9M86.9 45.4v10.3M85.8 45.5v8.1M84 46.7v10.6M82.2 46.6v9M82.1 50.6v7.7M81.9 51.6v8M78.8 49.7v10.2M78.9 50.9v10.2M72.3 56.6h7.3M71.1 58.1h10.4M70.7 58.4h9.4M67 59.1h10M72.3 56.6v10M72.6 57.5v9.7M69.5 56v10.6M64.5 64.8h9.3M63.4 64.2h9.1M67.5 62.3v8.8M66.7 63.5v10.4M63.5 62.1v10.7M65.3 67.3v8.3M64.3 68.5v7.5M57.8 72.3h8.3M59 73.8h7.5M56 75h7.7M59 69.9v10.2M57.3 71.9v7.8M53.9 78.5h8.1M51.6 78.2h8.2M49.8 79.8h8.5M49.7 80.7h7.8M53.3 77.7v8M46.7 82.9h9.3M48.7 86.1h8M50.5 81v9.7M50.3 83.5v7.7M45.5 88.9h9.2M47.5 85.2v8.4M42.8 91.2h10.1M43.1 93.4h7.8M39.6 94h10.7M40.9 95.3h9.2M40.7 96.4h8.7M39.5 97.5h8.8M40.1 99.3h7.4M36 99.7h10.5M36.3 101.4h9.2M32.7 102.7h10.6M34.4 104.2h10.2M34.1 104.7h7.9M33.1 106.4h9.2M33.7 109.1h7.9M31.4 109.2h7.2M33.7 111.8h7.6M30.1 112h9.5M31.1 114.4h8.2M28.3 114.3h8.3M29.5 116.9h8.4M28.2 118.5h7.7M25.8 118.1h9.2M26.3 119.8h9.3M26.1 122.3h8.6M27.1 123.2h7.4M26.3 125.9h8.1M25 126.6h8.9M21.9 128h10.4M25.9 130.4h7.4M22.4 130.5h10M24.6 131.9h7.3M18.9 132.7h10.6M24 135h7.8M21 136.3h7.7M19.1 137.1h9.2M21.9 140.2h7.5M18 140.3h10.3M19.3 142.6h9.7M20.8 144.6h7.9M17 145h10M15.4 146.5h9.9M15 148.3h10M18 149.1h8.4M16.8 151.5h8.2M16.2 153.2h9.7M16 153.9h9.1M15.8 156.3h8.2M15.5 157.1h7.6M14.4 158.5h9.1M18.3 161.1h7.3M12.1 162h10.6M11.4 163.2h10.7M16.8 164.3h8.2M15 166.9h7.8M15.7 168.3h8.8M17.2 169.9h7.5M15 171.5h9.6M14.3 172.4h8.2M13.7 173.8h7.4M16.8 176.2h7.4M11.5 177h10.8M10.8 178.3h10.1M14.5 180.2h7.6M13.6 181.7h8.4M15.6 182.7h8.2M12 185h9.5M10.6 185.4h10.5M10.4 187.1h10.5M15.1 189.1h8.7M14.6 190.4h7.3M13.3 192.7h7.4M12 193.1h8.9M15.9 195.7h7.4M14 197h8M13.8 197.9h8.1M13.9 200.2h9.8M13.6 201.8h9.2M11.3 203.4h9.7M14 204.2h9.6M17.1 205.1h7.3M16.2 206.9h8.1M14.9 208.9h7.3M16 210.3h8.5M14.4 212.1h8.2M14.1 213.1h9.3M18.2 215.1h7.3M17.9 215.5h7.3M16.4 218.1h7.6M17.6 219.2h8.6M14.9 221.8h9.8M15.2 222.7h10.2M19 223.4h7.2M17.9 224.7h7.6M13.5 227.3h10.7M19.4 228.2h8.2M16.5 230.9h8.6M17.7 231.4h10.6M18.5 232.5h9.3M20.6 234.7h8.4M17.9 235.8h10.6M20.7 236.8h7.7M19.7 238.7h7.5M20.8 239.4h9.5M21.2 241h8.5M18.7 244.7h9.7M22.4 245.5h7.9M19.7 246.6h10.8M22 247.1h10.7M22.5 249.4h8.1M24.2 250.3h9.4M20.9 252.6h10M26.2 253.2h8.5M24.6 254.9h10.2M23.8 257.1h8.9M25.2 257.4h9.8M25.3 259.4h9M26.5 261.7h7.8M26.8 262.2h10.6M30.3 262.3h7.9M27.9 265.4h9.1M29.3 266.3h9.4M31.8 267.1h7.4M31.4 268.6h7.6M29.4 271.2h10.2M32.8 271.8h10M34.1 273.7h8.3M34.9 273.8h7.8M32.8 276.7h8.6M33.9 278.7h9.8M36.6 278.7h8.3M35.9 280.6h10.5M37.3 281.1h9.6M39.6 281.6h7.7M39.1 284.2h9.3M38.8 284.9h10.5M42.5 286.2h7.6M45.3 283.5v8.6M45.6 285v9.4M41.8 290.7h10.3M45 292.4h8.7M43.6 293.9h10.6M50.2 289.8v9.2M52 291.5v8M47.2 297.7h10.8M51 297.4h8.1M49.8 300h8.2M54.2 297.1v8.1M56.8 297v10.7M54.7 301.1h7.4M52.9 304.3h9.9M56.3 305h9.1M61.4 302.8v7.3M55.9 309.2h9.4M61.6 305.3v9.6M59.3 309h9.9M65.2 306.2v8.1M65.7 306v10.4M62.5 312.6h9.9M63.1 314.7h8.9M70 309.7v9.2M65.2 316.8h9.6M70.8 312.6v9.5M72.3 313.6v10.4M72.7 314.7v9.8M75.5 316.5v8.1M72.2 321.8h8.2M74.1 322.7h7.6M78.1 319.2v8.6M78.4 320.5v10.4M80.8 320.9v7.9M83 321.1v7.5M82.2 323.2v9.3M83.9 325.7v9.3M85.9 324.4v7.9M87.1 327v9.2M87.9 325.3v10.7M89.5 328.3v9.2M90.9 328.6v9.9M92.7 329.6v7.4M93.6 329.7v8.8M95.2 329.2v9.1M96 331.4v8.4M97.5 331.8v7.9M99.3 332.9v8M100.8 334v7.6M101.9 335.3v7.6M103.4 334.6v10.3M104.4 337v8.7M104.8 337.6v8.5M107.9 336v10.2M109.8 337.6v7.7M109.6 337.9v10.7M111.2 340.4v8.3M113.1 341.7v8.2M115.1 340.5v8M116 340.7v9.4M116.5 343.1v9.5M117.9 343.2v7.6M119.8 341.9v10.4M121.5 342.9v10.8M122.7 344v8.5M125 345.3v7.9M125.7 345.3v9.4M127.7 344.2v7.4M129.4 346.1v10.3M130 347.4v10.7M131.9 347.2v7.8M133.7 346.9v9.2M134.9 348.3v7.4M136.2 346.9v7.2M137 349.2v9.9M138.5 350.6v8.9M140.8 350.5v9.1M142.2 349.7v10.4M143.3 351.3v7.7M145.4 350.2v8.6M145.8 352.3v8.5M148.9 350.1v10.5M149.4 350.3v7.9M151.2 351v10.8M151.8 352.7v10.3M153.9 353.5v7.8M154.9 352.2v10M157.2 351.5v10.2M157.6 354.8v8.2M159.9 353.2v10.3M161.6 354.6v9.5M163.4 355.2v10.5M164.6 352.3v7.3M165.5 354.3v9.6M167.6 352.8v7.6M169.9 354.3v7.6M170.8 354.9v7.3M172.8 355.6v7.4M174 353.6v7.6M176 354.1v8.4M177.6 354.2v7.8M178.6 354.9v8.4M180.3 355v10.6M180.8 356.2v7.7M182.7 355.5v8.8M185 354v9.8M186.8 354.5v9.6M186.8 354.8v7.9M189.1 353.7v8M190.6 355v9.7M192 356.8v10.8M194.1 354.8v8.5M195.4 354.2v9.3M196.3 356.4v8.7M198.4 354.5v8.4M199.1 355.3v10M201.1 354v7.9M202.4 355.5v7.7M204.5 356.1v7.3M205.6 354.3v8.5M208 354.3v8.2M208.9 355.9v9M210 353.5v9.7M211.3 354.1v9.7M213.5 352.6v10.3M215.2 354.5v10.1M216.4 352.2v10.7M218.7 355.2v7.3M219.8 352.6v8.3M221.9 354.2v9.7M223.3 354.6v9.4M224 353.3v8M225.7 351v8.9M226.4 350.8v10M228.7 350.3v9.9M230.2 352.2v7.4M231 352.4v8.1M232.9 352.9v8.1M235.1 349.5v10.2M235.7 351.3v8.8M237.4 348.7v8M239.1 349.1v10.2M240.4 350.3v8.8M241.5 349.1v7.4M243.3 346.8v10.3M244.7 349.6v7.7M247 348.2v10.1M247.1 346.2v7.3M248.4 345.9v8M250.9 347.6v8.3M253.2 347.4v10.4M253.3 344.4v10.1M254.6 343.8v9.4M256.4 344.8v9.2M257.5 343.4v10.2M259.1 341.7v9.3M260.9 342.8v9.8M263.3 343.8v9.4M263.4 340.5v8.5M265.4 342.1v7.3M266.4 341v8.5M268.4 339.3v9.9M269.5 339.4v9M271.6 338.2v10.3M272.2 336.5v10.4M273.1 338v7.3M274.7 337.4v8.1M276.1 335.2v7.6M278.5 334.6v8.6M278.3 333v7.8M280.7 334.5v8.1M280.8 331.8v7.5M282.2 330.8v8.5M284.5 331.1v8.1M286.9 330.9v9.2M286.8 330.2v8.2M288.7 328.1v8.5M289.4 327.4v9.2M287.4 332.4h7.3M293.3 326.2v8.7M294.8 326.6v9.2M295.4 325.2v8.2M296.8 324v7.7M297.4 320.9v10.1M300.4 322.6v9.4M300.2 321.1v10M300.7 318.8v10M303.1 319v8M302.6 317.2v9.5M305 316.8v7.7M306.5 315.6v9.3M307.4 315.5v7.2M307.4 312.4v10.5M309.3 312.4v7.9M305.6 315.6h9.3M311 310.4v7.6M309 313.3h8.6M315.2 309.2v8.3M314.8 308v7.5M316 306.1v8.3M313.6 309.7h9.1M318.1 303.3v9.3M318.5 302.6v9.2M315.7 307h9.7M318.3 305.4h8.6M317.5 302.6h9.2M318 302.4h9M321.2 301.7h8.8M327.5 296.3v9.4M327.7 294.1v9.7M322.6 297.2h9.2M323.7 295.5h9.4M331.2 291.4v9.7M327.6 294.5h8.2M327.7 293.3h9.6M328.9 291.9h10M327.8 290h8.2M330.3 289.8h8.6M331.2 288h9.4M330.7 286.5h9.2M331.4 284h8.2M334.6 284.2h8.1M333.8 282h10.3M334.2 281.5h9.9M336.3 281.3h10.8M335.7 277.1h8.2M336 277.2h9.9M337 274.6h8M337.5 273h8.7M337.4 272.5h8.1M339.2 271.6h10.7M340.6 270.1h7.4M341.8 269.6h9.8M342.9 267.5h7.4M341.2 266h8.7M342.8 264.2h10.8M342.7 262.9h7.7M343.7 261.2h9.1M343.5 260.4h10.2M344.4 259.2h9.8M345.7 257.6h9.5M346.8 256.4h7.8M345.5 254.3h7.9M348.4 252.5h8.6M347.3 250.6h9.9M347.3 249.6h8.8M350.2 248.6h7.3M350.5 246.9h10.2M351.4 245.8h10.2M351.7 244.9h10.4M350.6 242h7.8M352.9 241h7.7M353.3 240.3h8.3M351.2 237.6h7.7M353.1 237.5h7.2M354.6 234.8h7.9M354.8 234.2h8.9M352.2 231.8h10.7M355.3 231.5h8.6M355.3 228.9h8.2M355.5 227.4h9.4M352.9 226.5h9.4M355.3 225.1h9.6M354 222.3h7.9M353.8 221.4h8.9M357.4 220.8h7.2M355 218.3h10.5M355.8 216.7h9.2M357.8 216.7h10.3M356.9 214.8h10.5M355.5 213.2h9.3M356.6 211h10.7M357 209h10.6M356.6 208.1h9.6M358.2 206.1h10M356.4 205.1h8.8M357.9 203.9h10.6M357.3 202.5h10.2M358.2 199.8h10.4M357.4 198.1h8.8M357.1 197.7h7.6M357.2 196.3h9.9M357.2 194.5h7.8M359.5 192.7h10.3M357.6 191.3h9.7M358.1 189.3h8.9M358.7 188.8h10.6M367.2 187.3h6M366.5 185.6h6.7M367.5 184.7h5.8M367.8 183.8h5.5M366.9 182.8h5.5M366.7 181.6h5.9M367.4 180.8h5.5M368.1 179.8h5.2M366.7 178.6h5.5M366.4 177.4h6.4M367.4 175.6h5.2M366.4 175.3h6.2M366.5 173.9h5.6M365.6 173.4h6.4M367.7 172.1h5.2M367.4 170.7h5.5M366 169.4h6.1M366.1 168.6h5.3M366.6 167.7h5M364.8 166.4h6.7M366.9 165.6h5M366.5 164.5h5.4M364.8 163.7h6.7M365.3 162.1h5.7M366.2 160.4h5.5M365.1 160.3h5.5M364.2 158.7h6.8M365.3 157.8h5.1M365.1 157.1h5.9M363.9 155.4h5.6M363.7 154.3h6.1M363.6 154h6.2M364.9 151.9h5.2M364.7 151.3h4.9M362.5 150h6.2M362.2 149.7h6.2M362.7 148.7h5.7M362.8 146.7h5.9M361.8 146.4h6.2M363 144.9h5.8M362.4 144.2h5.4M360.6 142.5h7.1M360.6 141.5h6.3M361.7 141h5.7M359.7 139.4h6.8M360.8 139h6.1M360.3 137.8h5.5M361 136.5h5.2M359.1 136h6.6M359.1 134.1h6.3M358.7 133.5h6.8M358.2 132.3h5.8M357.9 131.6h6.5M359.2 130.3h5.2M357.6 129.5h6.8M356.9 127.9h5.7M356.9 126.8h6.6M357.5 126.1h5.5M357.2 125.5h5.2M356.8 123.5h5.5M354.8 122.9h6.6M354.5 122.1h7M354.7 120.5h5.9M355.4 119.9h4.9M354.6 118.9h5.2M352.5 118.1h6.7M352.7 117.3h7.1M351.2 116.6h7.1M351.3 115.1h6.8M351.5 114.2h6.1M350.9 113.5h5.7M350 112.8h6.8M351.1 111.3h6.1M348.5 110.3h6.7M351.1 109h5M349 108.8h5.6M349.8 106.5h4.9M346.5 106.2h7.2M348.6 105.1h5.3M347.2 104h6.5M345.7 103.9h7M346.2 102.1h5.2M345.5 101.4h6.9M343.8 100.6h6.7M344.3 98.9h6.6M342.7 99.1h7.1M343.3 97.1h6M343.6 96.8h5.2M343.7 95.6h4.9M342.1 94.3h4.8M342.3 93.5h4.8M340.6 93.4h6.4M340.6 92.1h5.5M339.5 90.8h5.5M339.1 90.2h6.3M338.5 89.6h6M338.2 88.3h6.3M336 87.8h6.8M340.1 83v6.4M335.5 85.7h6.7M336 84.6h5.3M334.8 84.2h6.1M333.8 82.6h5.7M334.8 81.1h5M331.9 81.2h6.7M332.5 79.9h5M330.6 79h6.8M329.6 78.5h6.9M330.5 77.9h5.4M328.2 76.8h6.9M327.7 75.8h6.7M328.8 75h6.3M327.8 73.8h5.6M329.8 69.4v6.6M326.6 72h5.6M325.2 70.9h6.8M325.8 69.6h4.9M327 66.6v6.2M327.4 65.8v6.1M326.5 64.8v4.8M321.6 67h6.9M324 63.3v5.6M323.4 62.6v6.1M322.7 61.6v5.9M322.3 60.9v7M319.3 62.8h5M320.3 59.8v6.2M319.7 59.5v5.9M315.4 61.2h6.5M317.8 56.8v6.4M314 59.5h7.1M316.8 55.8v4.9M315.3 54.6v6.5M311.4 57.4h6.3M314.2 52.4v6.8M313.9 52.1v6.8M309 55.8h7.1M308.5 54.4h5.8M307.3 53.9h7.2M310.6 49.7v6.5M309.6 49.3v5.3M306 51.5h5.3M308.3 47.7v5.1M304.4 49.7h5.7M306.6 45.8v5.5M305.8 45v5.8M304.4 44.8v6.9M304.4 44.2v5.1M300.1 46.4h6.2M301.5 42.9v6.9M301.1 42.1v5.1M297.4 44.3h6.2M298.9 40.8v5.2M298.7 40.1v6M297.9 40v5.7M297.2 38.7v5.1M295.2 37.8v7.1M295.3 38.1v5.4M294.3 37v7.1M292.5 36.3v6.1M288.1 39.4h6.7M291 35.8v5.2M290.7 35.3v5.3M289.5 33.2v6.2M288.4 32.5v6.6M287.2 32.8v6.3M286.7 32.5v7.1M286.3 31.2v4.9M284.7 30.6v6.5M283 30.6v7M282.6 30.5v5.1M282.7 29v5.6M281.4 29v5.7M279.9 28.8v5.5M279.2 27.4v6.5M278.1 27.3v7.1M277.3 26.7v6.8M276.4 25.9v6.7M275.6 26.4v5.2M273.7 25.4v6.7M273.3 24.7v5.8M272.6 23.6v6.8M271.3 22.9v6.5M270.8 23.7v5M269.6 22.5v5M268.3 21.6v6.8M268 22.1v5.9M266 21.9v5.9M266.3 20.4v6.8M264.3 20.6v5.7M263.9 20.5v5.8M262.6 18.8v5.3M261.3 18.6v6.6M260.2 18.8v5.9M259.6 18.8v4.8M258.4 17.9v6.2M257.9 17v6.6M257.5 16.6v4.8M255 16.3v7.1M254.8 15.8v6.3M253.5 15.4v6.7M252.9 14.8v6.5M251.4 15.4v6.5M250.4 14.6v5.3M249.8 14.9v6.1M248.3 14.7v6.6M247.6 13.9v5.5M246.2 13.8v6.7M245.2 13.3v6.9M244.5 12.9v5.6M242.9 11.7v6.9M242.5 11.9v6.5M241 11.8v7.1M239.9 10.9v5.9M239.3 10.6v5.6M238.3 11.6v6.9M236.9 11.2v5.8M236.6 9.8v5.3M234.7 9.6v5.7M233.6 10.2v6.1M232.3 10.1v6.6M232.3 9.2v5.1M231 9.6v5.3M229.9 8.3v6M229 8v5.6M228 7.8v6.5M225.9 8.2v5.2M225.4 8.7v4.9M223.7 7.9v7.1M223.2 7.9v5.8M222.5 7.4v5M220.6 7.4v7.1M220.2 7.9v6.9M218.5 6.3v5.5M217.7 6.1v5.7M216.8 6.4v5.5M216.1 6.9v6.6M214.6 6.1v5.7M213.4 6.6v5.1M212.5 6.7v6.2M211.7 6.4v5.4M210.1 4.9v6.8M209.5 6.3v5.7M208.2 6.2v6.8M206.6 4.9v6.5M205.3 5.6v6.7M205.1 6v6.9M204.2 5.5v5.1M202.7 4.9v6.7M201.8 5.2v6.8M200.9 4.8v6.8M199.9 4.6v5.6M198.5 5.2v5.1M197.4 4.4v5.5M196.5 4.7v6.9M194.7 5.1v4.9M193.5 5v7.1M193.2 4.9v6.1M192 4.1v5.7M190.3 4.3v6.4M190 4.2v5.2M188.7 4.5v5.5M187.6 5.4v5.8M186.6 4.8v6.2M185.4 4v7M184.4 4.2v6.6M182.6 4.8v5.4M182.2 5.5v6.8M181.5 5.2v5M179.4 4.3v5.6M178.6 4.4v7.1M177.6 5.5v5.5M176.7 5.1v5.7M175 4.8v5.2M174.8 5.2v4.9M172.9 5v4.9M171.8 4.9v5.1M170.8 6.2v6.5M169.6 5.5v5.3M168.4 5.2v5.1M167.5 6.6v5.4M167 5.7v5.3M166 6.1v6.8M164.7 6.2v5.5M164 6.3v6.1M163.1 6.5v6.7M160.9 6.4v6.5M160.8 6.5v6.9M159.5 7.8v5.1M158.4 7.8v5.8M157.8 7.7v6.3M156.5 7.2v6.7M155.4 8.3v7.2M154.5 8.7v5.7M152.8 7.7v6.5M151.5 9v5.1M150.5 9.5v5.1M149.3 9.6v5.3M148.6 10.1v5.3M147.5 10.2v5.6M146.6 10.6v6.7M145.3 10.4v5.3M145 10.2v7M143.4 10.3v6.9M141.8 10.4v4.9M141.2 10.8v7M140.2 11.3v6.4M139.2 12.5v5.5M138.4 11.8v6.3M137.6 11.8v6.8M136.2 13.1v6M135.4 12.8v6.2M134.1 13.4v5.3M132.7 14v5.2M132.4 14.5v5.9M131.2 14.7v6.8M130.5 15.3v6.4M129 15.5v5.9M128.1 16.2v5.4M127.4 16.5v5.7M125.4 16.7v5.2M125.4 16.5v6.5M123.9 17.1v7.1M122.6 17.4v5.4M121 17.7v4.9M120.3 18.7v5.2M120.4 19.2v6.7M118.6 19.8v5.4M117.8 19.8v6.5M117.2 20.5v6M116.3 19.9v7.1M114.6 20.8v5.1M114.6 21.3v7M113.1 21.5v6.6M111.2 22v6.2M110.6 23v5.6M110 23.1v6.5M108.9 22.8v7M107.6 24v6.4M107.2 24.8v5.5M105.7 25.3v6.5M104.4 25.6v4.9M104.2 25.6v6.6M102.9 26.8v6.8M102.4 27.6v4.9M101.1 28.4v5.8M100 29.1v5.4M99.4 28.5v6.1M97.9 29.2v6.3M98 30.1v5.6M97 30.8v6.5M95.6 30.6v6.7M94.3 30.9v5.5M93.4 32.1v6.2M92.8 32.3v5.2M88.3 35.7h5.1M91.1 34.7v6.1M90.4 34.2v6.4M85.8 38.2h5.8M88.2 36.1v5.1M87.5 36.7v5.9M87.5 37.1v7.2M85.8 37.9v6.5M84.9 38.8v6.2M84.2 38.2v7M82.4 39.4v5.4M82.1 39.9v5.4M80.8 41.9v5M80.9 41.4v6.8M79.9 42.5v5.8M75.5 44.8h4.9M77.7 43v5.5M73.7 47.2h4.9M75.7 44.1v6.9M74.9 46v5M71.4 48.3h5.2M70 49.1h5.1M72.5 47.8v6.5M71 48.4v5.4M70.9 48.7v6.6M69.9 49.2v6.3M66.3 54.1h6.8M68.8 50.5v6.5M68.1 52v6.8M67.3 52.1v6.6M63.5 56.8h5.8M65.7 53.6v7M63.9 54.6v6.8M63.1 55.1v5.7M60 59.2h6M62.6 57.1v6.4M58.1 60.6h7M58.1 61.7h5.7M59.7 58.7v6.9M59.3 61v5M55.1 63.3h6.2M57.9 61.9v5.8M56.3 63v5.4M56.4 63.5v5.1M52.1 67.4h6.9M51.4 68.3h5.9M53.3 66.5v5.2M52.7 66.4v7.1M49.2 70h5.4M48.3 71.6h7M51.4 69.5v6.2M47.5 74h6.3M49.3 70.6v5.9M48.9 72.4v5.7M45.3 75.7h5.9M48.3 73.3v7.1M44.7 77h5.2M45.8 74.8v5.1M46.3 75.9v6.2M41.8 79.3h5.2M41.3 80.2h5.6M40.8 81.2h5.1M40.9 83.1h6.7M39.4 83.4h5.6M38.8 84.7h6.1M37.6 85.6h7M37.8 86.1h6.1M37.7 87.4h5M36.8 88.6h6.4M36 89.4h6.6M35.9 90h4.9M34.7 90.5h6.8M34.6 92.2h6.4M34.4 93h7.1M33.5 93.7h7M32.3 95.1h7.1M31.9 95.1h5.5M31.5 96.6h6.9M31.6 97.4h5.7M30.6 98.8h6.6M29.5 99.1h6.7M30.2 100.3h6.2M28.6 101.5h6.3M28.3 101.9h6M28.3 103.1h5.9M26.8 104.1h5.1M27 105.1h5.8M25.6 106.2h6.1M26.1 107.9h7.2M26 108.4h7M24.9 108.5h5.6M25 109.8h5.4M23.8 111.1h4.9M23.8 111.6h5.8M22.6 112.7h6.2M23.1 115h7M22.2 115.5h6.8M21.2 115.9h6.5M20.7 117.1h7.1M20.6 117.9h5.8M20.7 118.7h6.9M20.2 120.5h5.7M19.3 120.7h6.1M19.2 122.6h6.2M18.5 123.1h6.4M18.6 123.8h5M18.7 125.1h6.2M17.7 126.1h5.2M17.9 126.8h6.5M17.9 128.3h5.6M17.2 128.9h5.1M16.7 130.9h6.7M16.5 130.9h4.9M16.6 131.9h5M16 133.3h5.1M14.4 134.4h7.2M14.9 135.3h5.9M14.4 136.7h6.3M14.7 137.3h5.6M14 138.8h5.3M12.9 139.8h5M13.1 140.5h6.4M13.8 142h5.5M12.3 143.2h6.9M13.3 143.7h5.1M12.7 145h6.5M11.7 145.9h6.8M12.6 147.2h6.8M11.1 147.8h6.6M11.4 149h5.6M11.6 149.8h4.9M11.6 151.6h6.3M11.4 152.7h5.4M10.5 153.8h5.2M9.7 154h5.1M10.8 155.6h5.3M9.4 156.5h6.5M10.3 157.7h5.9M9.2 158.4h6.1M9.7 159.6h7M9.3 160.8h5.7M9.8 162.4h7.1M9.2 163.8h7M8.3 164h5.9M8.7 164.8h5.6M9.1 166.3h6.9M8.6 167.8h5.5M8.5 168h5.3M8.9 169.7h7.2M8.3 170.6h7.2M8.3 172.2h5.6M8.3 172.6h6.4M8.1 173.8h4.9M8.3 174.9h7M7.5 176.4h5.9M7 177.1h5.5M7.6 178.8h6.8M7.4 179.8h5.6M7.9 180h6M7.8 181.9h6M7.1 182.2h6.7M7.4 184.2h6.8M6.8 184.6h6.6M6.5 185.7h6.5M7.8 186.8h6.6M6.5 187.7h7.1M7.3 189.4h5.2M6.7 189.9h4.8M6.7 191.7h5.4M8.1 192.6h5.7M6.9 193.2h6.9M8 195.1h4.8M8.1 195.2h5.6M8.2 196.1h6.9M7 198.1h6.1M8.3 199h6.2M7.5 199.7h6.3M7.5 201.1h5.8M8.2 201.7h5.5M7.5 203.6h4.9M8.1 204.1h6.8M8.8 205.1h6.7M9 206.3h7.1M9 207.5h6.2M8.5 208.2h6.1M8.9 210h6.5M9.4 210.7h6.7M9.7 212.2h6.7M9 212.8h5.4M8.8 214.1h5M9.5 214.5h6.5M9.9 216.2h6.2M10.5 217.4h6.2M9.9 218.1h6.1M10 219.6h7.2M10.7 219.9h6.5M9.8 221.3h5.3M11.1 222.2h4.8M11.4 223.5h5.5M10.7 224.2h7M11 225.4h6.4M11 226.5h5.8M12.3 228.2h7.1M12.6 228.7h5.2M12.1 230.6h4.8M12.9 230.4h6.6M12.3 232.6h5.1M12.7 233h4.9M12.8 234.2h7.1M14.1 234.7h7.1M13.4 236.6h7M14.5 237.4h6.4M14.1 238.2h5.9M14.9 239.3h5.9M14.8 241h5.6M15.9 241h6.9M16.3 242.8h4.8M15.5 244.1h5.2M16.2 244.9h7M16.5 245.7h4.9M16.7 246.6h6.1M16.9 248.2h6.3M17.9 248.6h6.2M18.6 250h5.2M17.8 250.6h6.1M19.4 251.1h6.7M19.3 252.3h6.8M20.2 253.5h6.5M20.9 254.7h6.6M21.2 255.6h6.8M20.7 257h5.6M21.1 257.8h5.6M22.6 258.9h7.2M22.3 260.2h7M23.2 260.3h6M23.2 261.8h6.3M23.7 262.4h5.7M23.2 263.5h6.8M24.5 265h6M24.9 265.5h5.4M25.1 267.2h5.3M26.1 267.8h7M26 269h5.9M26.1 269.7h6.5M26.9 270.2h6.8M27.9 271.5h5.6M28.2 272.2h6M28.9 273.7h6.7M29.7 274.9h5M29.7 275.9h4.9M30.3 275.9h6.6M30.8 277.5h4.9M31 278.2h5.9M32.7 279.2h5.6M33 280.5h5.9M32.6 281.8h6.3M33.7 282.8h5.3M34.2 283.5h5.6M35.3 284.3h5.4M35.7 284.6h4.9M35.4 286.2h6.1M36.7 287h7.1M36.9 287.2h7.1M41.6 285.1v6.9M37.9 290h6.6M39.7 290.2h7.1M39.9 291h5.6M42.8 289.3v5.7M43 290.6v5.2M41.2 293.3h7M42.8 294.8h5.4M45.3 292.7v5.8M43.3 296.2h6.8M43.8 297.4h5.8M44.9 298.2h5.4M49.1 296.4v5.6M48.4 297.5v5.4M47.2 301h5.7M47.5 301.7h5.3M47.4 302.6h5.8M48.9 303h6.4M50.2 304.2h5.4M50.4 304.8h6.2M50.8 305.6h6.8M51.5 306.7h5.4M51.7 307.9h6.6M56.5 305.2v7.2M56.8 306.4v6M58.1 307.1v5.7M55 311.8h4.8M58.9 308.8v6.7M60.1 310v5.4M57.3 313.3h6.7M61.2 311v5.5M61.7 311.7v6.2M63 313.1v6M60.3 316.3h6.5M64.8 313.7v6.3M65.3 315.6v5.2M66.1 316.6v5M67.1 317v5.6M64.6 321h5.1M65.8 320.8h6.3M69.3 318v6.3M70.2 318.9v5.7M67.7 323.8h5.4M72.1 320v7M72.9 321.1v6.6M73.6 322.4v5.9M73.7 324.6v4.8M75.2 322.9v6.3M76.1 324.4v6M77.7 323.8v6.9M77.1 326.1v5.2M79.2 325.7v6.6M79.4 325.4v7.1M80.1 328.5v4.9M81 328.3v6.9M81.8 329.1v5.9M79.7 332.5h6.4M83.3 329.5v6.9M84.5 331.4v4.9M85.5 331.9v5.2M86.4 332.9v5.4M87 334v5.2M88 333.5v6.5M89.2 333.6v7.1M90.5 334.1v6.1M90.8 335.1v5.2M92.7 334.7v6.7M92.6 335.4v6.3M93.9 336v6.7M95 337.1v6.6M96.1 336.7v7M97 338.4v6.2M97.2 339.2v6.3M98 340.5v5.7M99.3 339.5v6.8M99.7 341.4v5.5M101 341.9v5.8M102.2 342.7v5M102.7 343.1v5.6M104.2 342.7v6.5M105.5 342v7.1M105.3 343.7v6.6M106.9 345.3v5.7M108.4 344.1v6.6M109.1 345.2v5.5M109.5 346v5.9M110.3 346.5v6.4M111.7 347.2v5.6M113.3 346.7v6.4M113.7 346.4v7.1M114.6 349.2v4.8M115.5 349v5.3M116.6 348.6v6.8M117.4 349v6.5M118.5 350.5v5.7M120.1 351v5.7M120.9 350.3v6.4M122 351.3v5.3M122.7 351.3v7.1M124.5 350.8v6.9M124.5 352.8v6.2M126 352.8v6M126.8 353.1v6.6M128.2 352.8v7.1M129.5 353.8v5.9M130.3 353.6v6M131.5 354.4v6.1M132.2 354.9v5.9M133.1 354.4v7M134.4 356v5.5M135.4 356.7v6M136.3 356.5v6.3M137.7 356.7v5.2M138.7 356.3v6.7M139 357.2v5.6M140 358.8v5M141.1 358.7v5.4M142.7 358.9v5M143.3 359.8v5.2M144.7 359.8v4.9M146 358.7v5.6M146.6 358.2v6.3M147.4 360.5v5.2M149 360.2v5.7M149.3 360.8v5.7M151.1 360.3v5.2M152 359.7v6.4M153.4 360.4v5.7M153.9 361.2v5.8M155 360.2v6.9M156.1 359.9v7.1M157.3 360.7v6.8M158.6 361v6.6M159.3 363v5.4M161.1 360.6v6.7M161.1 361.7v6.6M162.2 362.2v5.5M163.5 363.1v5.6M165.1 362.5v6.9M165.3 362.6v6.3M166.4 363v6M168.3 362.7v6.7M168.4 363.6v6.3M170.6 362.3v6.3M171.7 362.4v6.3M172.6 364.9v5.2M173.7 362.6v7.1M174.6 365v5M175.9 364.3v6.3M176.8 364.1v5.5M177.5 364.5v5.3M178.5 364.7v6.1M180.2 363.3v6.6M180.6 364.9v6M182 364.6v5.2M183.1 364.4v6.2M184.8 363.5v6.7M185.8 362.7v7.1M186.5 364.8v6.3M187.1 363v6.8M188.1 364.2v5.8M189.5 364.5v5.5M190.5 364.7v5.6M192.3 365.1v5.9M193.1 364.7v5M194.2 363.5v6.8M195 364v6.9M196.7 363.2v6.6M197 363.9v6.7M198.6 364.8v5M200 364.8v5.2M200.7 363.6v6.3M201.6 364.6v5.4M202.2 364.2v5.6M203.8 364.4v4.9M204.9 363.6v7M205.9 362.9v6.8M207.1 362.3v6.8M208.5 363.1v6.5M209.5 364v5.3M210.9 363.6v6.2M210.8 363.9v4.9M212.8 362.7v6.2M213.6 363.1v5.3M214.3 363.5v5.3M215.5 364v4.9M217.2 363.6v5.4M217.9 361.3v6.9M218.7 361.7v6.5M219.5 362.7v5.8M220.6 361.1v5.9M221.6 361.5v6.6M223 361.6v6.4M224.4 360.8v5.7M225.7 360.2v6.8M226.7 360.6v5.4M227.2 359.2v6.6M228.8 360.9v5.8M229.4 360.9v5.8M230.9 359.5v6.7M232.1 359v5.9M233 358.9v6.4M234.1 358.6v6.4M235.3 359.5v5.5M235.7 358v7.1M236.9 357.7v6M237.9 357.4v5.8M239.6 358.4v5M240.4 357v6.4M240.6 356.8v6.4M242.7 357v5.3M243.4 357.5v5.2M244.5 355.9v6.6M245.2 354.6v6.7M246.8 356.4v5.5M247.8 355.1v6.8M248.9 355.3v6.1M249.2 353.6v6.8M251 354.3v6.3M251.7 352.6v6.8M252.8 354.4v5M253.2 353.2v6.9M254.3 352.6v5.4M255.5 352.3v6.7M256.6 352.7v5.1M257.9 352.9v4.9M258.7 350.7v6.2M259.1 350.5v5.6M260.8 351.7v4.9M262.5 351.1v4.9M262.3 348.7v6.4M263.7 350.6v4.9M264.9 347.7v6.7M265.4 347.6v6.7M266.8 348.5v5.8M267.9 347v6.6M268.5 345.4v7M269.7 347.1v5.7M270.4 345.6v5.9M271.6 344.8v7M273.1 346.1v5.1M273.5 343.3v6.4M274.7 343.1v6.7M275.2 342.6v6.6M276.5 342.5v5.4M277.3 342.3v6.6M278 341.8v6.8M279.4 340.5v7.1M280.6 341.3v5.1M280.9 339.1v7M281.5 339.5v6M283.2 339.8v6M284.1 339.4v6M284.7 337.8v7.1M285.9 336.8v6.9M286.8 337.8v5.3M288 336.5v5.5M288.9 337.1v4.9M290.1 335.4v6.1M290.7 335.8v5.3M291.8 334v5.8M292.3 332.6v5.7M292.7 332.8v5.5M294.3 331.4v6.9M291.2 334.7h6.7M293.5 334.2h5.6M296.6 329.3v6.1M297.4 329.2v5.7M298.3 327.6v6.8M299.2 328.7v5.2M300.3 328.2v5.7M301.9 327.6v5.2M301.9 327.5v5M302.2 325.1v6.4M303.3 325.2v5.1M304.6 324.7v5.4M303.9 327.3h4.8M306.2 322.6v5.9M308 323v5.2M308.4 322.4v5.5M308.8 321.1v6.5M309.5 320.2v6.7M310.8 319.2v5.7M310.9 318.3v6.7M312.3 319.1v5.3M310.5 320h5.4M312.9 315.4v6.8M314 314.9v7M312.5 318.1h5.8M315.6 315v5.1M317.4 313.1v6.6M317.3 311.7v6.3M318 311.8v6.1M318.4 309.9v7M320 311.5v5.1M317.1 312.5h6.9M321.4 307.6v7.2M319.2 311.4h5.8M319.9 310.2h6.6M321.5 309.9h5.3M322.3 309h5.6M324.6 304.6v6M322.6 307h6.4M326.6 302.3v6.8M324.9 305.1h4.8M327.4 300v6.8M325.5 304.2h6.2M326.3 303.1h6.6M330.2 299v6.4M326.5 301h6.9M331.1 296.4v6.5M329 298.7h5.8M330.8 299.2h5M333.3 294.3v5.1M331 296.3h5.6M331 295.8h6.9M335.4 292v5.8M332.9 293.4h6M333.8 293.5h5.1M334 292.4h5.8M335.4 291.6h5.2M336.5 290.7h5.6M337.3 290.3h4.8M335.5 288h7.1M336.7 287.8h6.7M337.5 286.9h6.9M337.9 285.1h6.3M338.7 285.1h6.1M338 283.9h7.2M340.8 283h5.8M340.5 281.7h5.7M341.3 281.3h5.5M342.5 280.6h5.1M342.9 279.3h5.6M343.4 278h5.4M343.5 277.7h6.6M344.8 276.8h5.4M345.4 275.9h5.2M344.7 275.1h6.9M345.3 273.2h5.9M346.8 272.2h4.9M347.6 272.2h5.5M347.7 271.6h5.7M345.9 269.8h7.2M348.6 268.8h5.2M347 267.7h6.8M348.8 266.9h5.6M349.6 265.6h6.1M350.1 264.8h5.4M349.2 263.5h6.7M350.1 263.3h7.1M352.3 262.1h5.4M352.4 260.9h5.2M352.1 259.7h5.4M353.2 258.9h5.3M354.7 258h5.1M353 256.4h6.5M354.3 256.4h5.3M355.2 254.7h4.9M354.5 253.6h6.8M353.6 252.6h7M356.6 252.5h5.2M357.1 250.9h5.4M356.3 250.3h6.4M355.5 248.2h6.8M357.2 247.5h6M356.9 247h6.9M358.9 246h5.4M358.4 244.3h6.1M360 243.7h4.8M358.3 242.3h6.9M358.7 241.8h6.3M358.4 240.6h6.5M358.3 239h7.1M359.3 238.5h7M359.8 237.5h6.4M359.4 236h6.5M360.5 235.8h6.5M360.4 234.3h6M360.7 232.9h6M362.1 231.8h5M361.8 230.8h5.7M362.4 230.5h5.4M361.5 228.7h6.4M363.5 227.6h5.5M362.1 226.8h7M364 226.4h4.8M362.6 224.6h6.3M363.9 223.4h6.4M364.7 223.2h5.5M364.9 221.9h5.6M362.8 220.4h6.8M365.6 219.5h5.2M363 217.8h7.1M365.6 217.6h5.2M364 215.8h7.1M363.7 215h6.9M364.4 214.4h6.7M365.2 213h5.7M364.9 212.2h6.3M365.2 210.9h6.9M365.7 209.9h5.3M365.1 209h6.5M366.6 207.3h5.6M366.2 206.2h5.3M366.7 205.6h5.9M367.4 204.5h5.5M366.8 203.4h5.7M365.8 202.2h6.9M367.4 201.3h5.9M368.4 199.5h5M366.6 199.2h5.9M365.8 197.5h6.4M366.8 196.5h6.2M366.2 195.5h6.1M367.9 194.4h5.6M368 193.2h5.7M367.2 191.9h5.3M367.7 191.5h4.8M367.6 189.8h4.9M368 189h4.9M367.2 188.6h5.3" stroke="#b2ff00" stroke-width="1.0" fill="none"/>
<path d="M350.7 187.1h9M349.4 185.2h9.6M350.9 183.9h8.7M353.6 181.4h6.8M351.3 179.5h8.3M352.9 177.8h7.1M351.7 176h7.7M352.8 174.1h7.9M350.4 174.1h8.7M351.4 171.3h8.5M350.2 170.8h8.1M351.1 167.7h8.3M352.4 167.2h7.7M351.7 164.3h6.9M349.7 162.8h7.8M350 161.5h8.1M348.9 160h9.1M349.7 157.8h6.9M350 156.3h8M349.2 154.7h8.2M349.7 152.9h7.3M350.1 151.2h6.6M346.3 150.1h9M347.6 148h7.5M346.8 146.7h8.3M345.4 144.7h9.1M346.9 143.5h8M344.6 142.4h8.8M346.7 141h6.6M346.3 139h7.6M342.9 137.8h9.2M342.3 136.6h9.4M342.1 134.7h9.3M344.8 131.5h7.5M343.3 130.9h7.4M342.8 128.3h8.4M340.1 127.2h9.2M342.8 126.3h7M340 124.2h9M339 122.5h8.1M339.9 120.8h8.5M338 119h9.3M337.7 117.5h8.3M337.6 117h8.2M337.3 115h9M334.1 113.4h9.5M335.7 111.3h8.7M332.5 111.8h9.5M332.5 108.6h9.6M333.1 108h8.6M330.6 106.6h9.2M330.9 104.5h7.8M330.8 103.9h7.9M329.4 102h7.5M329.7 99.9h7.9M330 96.9h6.7M326.9 97.4h7.6M327.9 95.3h7.7M326.9 93.2h7.2M325.2 93.2h8.3M322.9 90.5h9.2M321.4 90.4h8.9M321.5 88.3h8.9M323.6 82.4v9.4M320 86h7.1M318.1 85.4h8.2M317 82.6h8.7M316.1 83h8.5M316 80.6h8.5M317.6 75.5v7.1M318.7 73.3v7.4M311.2 76.9h8.3M310.7 75.1h9.1M308.9 74.6h9.3M308.5 72.5h8.7M311.5 68.6v8.2M310.4 66.3v9.4M305.1 69.1h9.5M305.7 67.8h7.4M302 67.4h8.7M301.5 65.3h9.1M304.9 60.5v8.7M303.5 59.6v7.8M297.8 63.3h8M298 61.7h6.6M300.6 55.3v6.6M292.7 59.7h9M297.4 52.7v8M296.9 52.6v6.9M293.7 52.7v8M293.8 51.5v6.5M291.9 49.4v7.5M290.3 48.1v8.5M288.8 48.5v9.1M287.2 46.8v9.1M285.8 47.1v8.1M284.6 44.8v8.4M283.4 44v7.3M282.7 42v6.8M280.1 41.6v7.6M278.6 42.5v9.5M277.6 40.5v7.4M275.9 38.8v6.6M274.8 39.1v6.6M272.4 38.7v9.3M271.5 35.6v9.5M270.4 35.8v7.9M268.1 34.3v9.4M266 34.6v9.2M265.3 33.1v8.3M263.3 33.6v9M262.6 31.8v9.5M260.6 31.1v8.6M260 30.2v9.4M256.9 30.6v8.1M256.7 29.8v9.2M254 30v7.2M252.5 28.9v7.1M250.4 29.1v9.2M249.7 27.2v8.8M248 27.4v9.5M246.9 26.6v7.2M245.9 25.4v9.2M243.2 24.7v8M242.2 24.7v8.2M239.5 24.5v8.5M238.4 22.8v7.3M236.7 23.8v6.5M235 22.3v6.6M233.2 21.9v8.4M233.1 21.3v7.4M230.8 20.9v8.5M229.4 21.5v7.3M227.9 20.5v8.5M226.1 22v6.6M223.6 21.6v9M221.9 18.9v8.3M219.8 20.1v8.7M219.2 19.5v9.1M216.4 20.3v8.2M215.1 19.5v9.5M213.7 18.2v8M211.7 18.3v7.9M211 19.5v7.8M209.6 19.5v7.8M208 17.5v6.5M205.5 18.7v7M203.3 18.7v7.8M201.7 18.6v9.1M200.3 17.9v7.1M199.7 18.7v8.2M198 18.7v6.4M196.4 18.3v7.9M193.2 16.9v9.3M192.4 17.7v8.1M190.1 18.4v9.1M188.3 17.2v7.5M186.5 16.2v6.5M185.8 16.9v8.3M183.5 17.3v7.5M183 17.2v6.8M180.1 18.5v9.2M178.9 19v9.3M177.4 17.8v7M176 18.9v6.6M173.2 18.6v9.4M171.9 17.2v9.5M170.6 19v8.5M169.1 19.4v7.9M167.5 19.6v9M166.1 20v7.6M164.6 18.8v7.7M162.8 18.8v6.5M159.9 18.8v9.3M159.4 19.1v7M156.5 20.1v7.3M156.4 20.7v7.8M154.4 19.9v6.7M152.3 21.7v6.9M150.4 21v8.6M149.4 22.2v7.1M147.2 23.6v8.8M145.4 23.6v6.7M144 23.2v9.5M143 23.5v8.1M141.4 23.2v7.8M138.9 24.8v6.6M137.5 25v8.1M135.7 25.9v8.9M133.8 27.1v7M132.2 26.2v7.3M131.4 27.7v7.7M130.5 28.4v8.8M128.3 27.1v8.9M126.5 28.4v9.2M124.8 29.2v7.5M124.6 31.1v8.6M123.1 31.8v9.3M119.9 31.5v9.5M119.3 32.5v7.2M117.3 33.6v9M115.5 35.1v6.6M114.1 34.7v8.1M113 36.3v7.8M111.3 35.2v8.9M110.1 36.7v8.5M107.3 37.6v7.7M106.6 37.3v8.1M106.4 39.8v7.9M104.3 41v8.6M102.6 40.2v7.6M100.2 40.7v8.1M99.7 43.6v8.1M98.7 43.3v7.6M97.8 44.7v8.9M95.4 45.8v8M92.8 45.6v8.3M87.6 51.5h8.7M89.4 48v6.5M88.5 48.2v7.4M89 50.2v7.9M86.7 51.6v9.2M86.2 52.4v8.3M83.4 52.5v7.2M83 53.7v8.7M82 55.2v9.4M80.9 55.7v9.3M75.1 60.1h7M73.5 62.2h7.8M72.9 64.7h7.6M70.9 63.8h7.2M73.1 61.8v7.9M72.3 62.7v9.3M67.8 67.9h7.7M69.6 65v7.7M65.6 70.4h6.6M64.4 72.8h7.1M61.6 72.4h8.7M66.1 69.8v9.5M63.9 72.4v6.8M60.3 77.3h7.5M57.4 78.8h8.2M56.4 79.3h7.5M56.7 81.8h8.7M55.4 81.5h6.5M58.8 79.7v8.9M53 84.2h8M50.5 86.7h9.4M51.9 88.4h6.6M50.3 90.5h8.3M48.5 91.6h9.2M48.2 91h7.1M47.3 94.3h9.4M47 95h9M44.8 95.2h8.2M44.1 98h6.7M42.5 98.8h7M43.3 100.5h6.6M42.6 102.1h7.2M40.9 104.1h9M39.2 105h7.1M39 107.3h8.6M38.5 108.4h9.2M37.8 110.6h9M37.8 112.3h9.5M36 113.5h9.4M36.8 114.2h9.4M34.9 115.9h7.5M35.3 117.2h7.5M33.7 118.1h8.4M34.4 120.7h8.5M32.8 122h7.3M32 122.5h6.5M31.2 125.3h6.6M31.3 127.6h9.6M30.8 128.8h8.6M29.7 130.6h8.4M29.6 131.9h6.6M29.9 132.4h7M28.7 134.6h8.1M27.6 136.7h6.6M26.7 138.2h6.6M27.5 140.3h9.2M26.6 141.9h9.3M26 143.1h9.6M24.6 143.6h7.3M25.9 145.5h7.3M24.4 147.3h8.2M23.8 148.9h7.6M24.6 150.6h8.9M22.5 152.6h8.1M22.2 153.4h8.3M22.9 155.6h7.2M21.5 156.6h7.6M21.4 159.1h9.2M21.2 161.4h8M22.2 162.1h8.7M20.8 163.3h6.8M20.1 166.3h8.4M21.2 168h7.9M21.2 169.4h8.9M21.6 170.6h8.1M22 171.7h7.9M19.5 174.7h9.2M20 175.3h7.3M20.5 177.3h6.4M21.2 179.9h6.7M20.3 180.2h6.8M19.7 182.8h8.9M21.4 183.7h7.8M21.3 185.9h8.4M19.2 187.3h8.1M20.1 189.5h8.6M19.2 191h6.6M21.4 192.7h8.6M21.5 193.7h6.5M19.9 195.8h7.1M19.1 197h8.7M19.2 199.4h6.7M19.7 201h9.1M20.9 202.4h8.1M19.9 203.6h8.3M21.8 205.5h8.1M20.5 207.2h9.2M21.7 208.4h6.9M20.2 211.8h9.6M21.6 212.1h9.6M21.4 214.7h8.8M22.3 216.5h8.2M21.6 217h9.3M22.3 218.6h9.6M22.6 220.4h7.2M22.9 222.6h9.1M22.2 224.3h8.7M22.8 226h7.6M23.3 227.3h6.9M24.4 228.9h7.3M24.4 230.9h8.4M23.9 233.3h6.5M26.2 234.3h8.2M25.2 235.1h8.1M26.2 237.8h8.5M26 238.9h8.3M26.2 241.2h7.8M27.8 241.7h7.4M26.7 244h7.3M28.6 245.2h8.7M29.5 246.6h9.1M29.2 249.9h7.6M30.4 250h7.7M30 252.5h7.9M31.2 252.7h9.1M31.9 254.6h8.5M31.5 257.8h6.8M32 257.9h8.7M32.1 260.6h9.5M32.9 263.1h7.2M34.5 263.3h9M35.4 264.8h8.2M36.4 265.7h8.4M35.2 268.4h9.5M36.6 270.7h7.4M38.7 271.4h7.1M37.7 273.6h9.2M38.9 274.9h8.5M39.9 276.7h9.2M41.4 276.8h8.4M40.7 278.7h9.2M42.7 280.4h9.5M42.7 282h9.2M43.7 283.3h7.2M46.3 284.1h7.5M51.4 282.4v7.7M46.1 288.3h9.2M47.2 289.8h6.9M48.8 291h8.8M50.8 292.2h8.1M51.5 293.4h7M57.1 290.7v7.7M54.1 295.5h8M57.9 292.6v8.9M59.3 296v7.7M55.6 300.7h8.6M57.4 301.7h7.6M63.4 298.5v9.1M64.8 299.9v9.3M65.7 301v8.8M66.8 303.7v7.3M66.8 304.4v8.9M69 304.8v9.4M65.9 310.5h7.6M67.3 311.7h9.3M73.1 308.9v7.7M74 310v8.2M74.9 311.4v7.9M77.1 312.2v8.4M74.2 318.4h6.9M80.1 313.8v9.4M79.4 316.4v8.1M81.7 316v7.7M84.2 316.3v9.6M83.7 318.2v9.5M86.2 319.3v8.7M88.6 318.8v9.4M88.3 323.4v6.5M89.9 321.6v9.1M91.9 324.1v8.1M92.3 325.3v7.7M94.8 326.3v6.5M96.9 326.4v8.1M97.2 327.5v7.8M99.1 328.1v7.9M101.1 327.6v9.4M102.5 329.8v6.9M103.9 330.6v8.7M104.6 331v9.2M107.3 330.3v8.6M107.6 333v8.6M111.2 331.4v9.5M111.3 334.8v7.6M112.3 334.1v8.9M113.8 336v7.4M116.4 334.9v9.5M118.8 335v9.4M119 337.3v6.8M120.2 338.8v7.2M122.5 337.1v8.8M124.1 339.7v8.5M126.3 338.5v9.5M128.4 339.8v7.7M129 341.9v7.9M131.1 340.4v8.1M132.6 341.5v9.2M134.3 342v8.7M135.7 343.9v7.8M137.8 344v8.2M139.3 343.8v8.1M141 343.7v7.5M141.6 344.6v8.8M144 342.4v9.1M145.9 346.5v7.3M147.6 347.5v6.6M148.3 345.8v9M149.7 346v8.3M152.2 345.6v8.2M154 344.5v8.9M156.2 346.4v9M157.8 348.4v7.9M159.1 347.1v8.4M161.2 348.3v7.5M162.2 348.2v7.3M164 348.6v8M165.9 350.1v6.8M167.2 349.3v7.7M169.5 349.3v6.5M169.8 348v7.7M171.3 351.5v6.5M174.8 347.1v8.7M175.1 349.5v7.4M176.6 350.2v6.8M179 351.2v7.4M181.4 347.7v8.6M181.7 351.2v7M184 348.9v9.1M185.9 349.2v8.7M187.7 350.8v7.1M189.2 351.1v6.7M190.8 348.6v8.1M193.1 350v7.2M193.4 349v9.5M195.1 349.3v7.5M196.6 347.5v9.2M198.7 350.2v6.7M200.6 348.3v7.9M203.1 350v7.4M203.9 348.7v8.7M205.1 350v6.8M206.6 350.2v6.7M208.7 349.2v7.2M211.3 347.3v8.2M212.5 346.4v9.4M213.7 349.5v7.1M215.9 349.5v7.7M217.6 345.8v9.4M219.1 348v7.8M220.3 349v7.6M221.9 348.6v7.8M224 349.5v6.6M226.1 344.6v9.6M227.4 344.9v8.9M228.4 347v7M230 346.1v8.8M232.1 346.1v8.7M233.6 346.6v6.9M236.1 345.5v8M237.8 344.8v8.6M239.1 345.1v7.2M241.5 343.4v8.4M241.9 342.4v8.7M244 344.6v6.4M245.6 341.3v8.7M247.3 342.2v7.2M248.8 343.1v6.7M250 341.8v8.6M251.7 341.2v7.1M254.1 342.2v6.7M254.8 337.7v9M257.1 340.2v7.6M258.4 338.6v8.6M259.7 338.5v7.4M261.5 337.3v7.7M263.7 335.6v9.2M264.3 335.5v8.4M266.2 336.4v6.8M268 335v7.6M269.6 333.5v6.8M271.9 333.2v7.6M273.6 333.4v8M275 332.4v7.3M276.3 332.3v7.3M277.5 330.1v9M279.8 329.1v8.9M280.4 326.7v9.4M281.9 327.7v6.7M279.7 330.1h8.5M279.7 330.2h9.3M281.8 328.5h7.3M289.1 325v6.5M290.2 322.7v8.7M290.3 322.6v6.9M292.3 319.8v9.6M289.5 324.1h9.4M295.5 320v8.1M296.7 318.5v7.8M297.2 316.7v8.4M299.4 316.6v6.6M296 317.9h9.3M302.5 314.5v8.8M304.3 314.3v7.2M304.8 312.4v6.5M305.7 310.9v7.3M307.4 308.8v8.5M308.5 308.6v7.5M309.4 307v8.7M310.3 305.5v8M312.3 303.7v7.9M310.8 307.9h6.9M314.2 301.9v8.7M316.5 301.9v8.3M311.5 303.5h9.2M313 301.7h8.7M314.9 300.9h7.5M317.3 299.8h7M321 293.4v8.9M318.1 296h8.1M321.6 295.8h6.5M323.1 289v9.4M320.9 292.9h9.4M324.9 292.4h6.4M327.6 284.9v9M323.8 287.5h8.5M325.8 286.8h8.9M329.6 281.1v9.3M331.3 280.7v7.8M332.6 278.1v9.5M332.1 276.3v8.2M331 279h6.6M331.6 278.4h8.1M331.7 276.9h7.1M333.6 274.9h7.1M333.1 274.3h9M335.1 271.7h6.8M336.8 270.5h6.6M336.5 269.6h7.4M336.7 267.1h8.4M337 265.4h7.2M338.7 264.3h6.9M338.5 262.6h8.5M340 261.8h7.8M340.1 258.8h6.7M340 258.1h8.4M340.6 256.8h8.5M341.6 254.8h8.5M340.3 252.1h9.2M342.2 252h8.6M342.1 249.5h8.6M344.8 247.7h7.2M346.6 246.8h6.5M344.6 244.7h7.5M345.2 243.2h8.3M346.4 241.4h6.5M345 240.4h8.4M345.1 237.7h8.5M346.8 237.3h6.7M348 235.8h7.1M346.7 233.6h8M347.3 231.4h8.8M347.8 230.5h7.2M348.9 229.1h7.5M349.6 227.2h8.3M350.6 224.7h7.5M346.7 223.6h9.4M348.2 222.1h9.4M350 219.8h7.6M351.1 219.3h6.9M350.1 216.4h8M349.6 215.7h9.1M348.4 213.8h9.3M350.7 211.6h7M353.2 210.1h6.7M351 207.6h7.3M350.8 206.7h9M353.3 206h7.5M352.9 204.1h7.3M350.4 202.4h8.7M351.7 200h9.1M352.8 197.7h6.7M352.1 197.5h8.7M354 195.8h7.4M353 193.3h7.5M354.7 192.1h6.6M350.5 190h8.9M351.6 188.6h9.6" stroke="#00ff00" stroke-width="1.0" fill="none"/>
<circle cx="577.1" cy="187.5" r="185.3" fill="#ff0000"/>
<path d="M741.1 187.5L740.9 178.9L740.3 170.3L739.3 161.8L737.9 153.3L736.1 144.9L733.9 136.5L731.3 128.3L728.2 120.2L724.7 112.3L720.8 104.5L716.5 97.0L711.7 89.7L706.5 82.7L700.9 76.0L694.9 69.7L688.6 63.7L681.9 58.1L674.9 52.9L667.6 48.1L660.1 43.8L652.3 39.9L644.4 36.4L636.3 33.3L628.1 30.7L619.7 28.5L611.3 26.7L602.8 25.3L594.3 24.3L585.7 23.7L577.1 23.5L568.5 23.7L559.9 24.3L551.4 25.3L542.9 26.7L534.5 28.5L526.1 30.7L517.9 33.3L509.8 36.4L501.9 39.9L494.1 43.8L486.6 48.1L479.3 52.9L472.3 58.1L465.6 63.7L459.3 69.7L453.3 76.0L447.7 82.7L442.5 89.7L437.7 97.0L433.4 104.5L429.5 112.3L426.0 120.2L422.9 128.3L420.3 136.5L418.1 144.9L416.3 153.3L414.9 161.8L413.9 170.3L413.3 178.9L413.1 187.5L413.3 196.1L413.8 204.7L414.8 213.2L416.1 221.7L417.8 230.2L420.0 238.6L422.5 246.8L425.5 255.0L428.9 263.0L432.8 270.8L437.1 278.4L441.9 285.8L447.0 292.8L452.7 299.6L458.7 305.9L465.0 311.9L471.8 317.6L478.8 322.7L486.2 327.5L493.8 331.8L501.6 335.7L509.6 339.1L517.8 342.1L526.0 344.6L534.4 346.8L542.9 348.5L551.4 349.8L559.9 350.8L568.5 351.3L577.1 351.5L585.7 351.3L594.3 350.8L602.8 349.8L611.3 348.5L619.8 346.8L628.2 344.6L636.4 342.1L644.6 339.1L652.6 335.7L660.4 331.8L668.0 327.5L675.4 322.7L682.4 317.6L689.2 311.9L695.5 305.9L701.5 299.6L707.2 292.8L712.3 285.8L717.1 278.4L721.4 270.8L725.3 263.0L728.7 255.0L731.7 246.8L734.2 238.6L736.4 230.2L738.1 221.7L739.4 213.2L740.4 204.7L740.9 196.1Z" fill="#ffb200"/>
<path d="M729.1 187.5L728.9 179.5L728.4 171.6L727.5 163.7L726.2 155.8L724.6 148.0L722.6 140.2L720.2 132.6L717.4 125.0L714.2 117.7L710.6 110.5L706.5 103.4L702.1 96.7L697.3 90.2L692.1 83.9L686.6 78.0L680.7 72.5L674.4 67.3L667.9 62.5L661.2 58.1L654.2 54.0L646.9 50.4L639.6 47.2L632.0 44.4L624.4 42.0L616.6 40.0L608.8 38.4L600.9 37.1L593.0 36.2L585.1 35.7L577.1 35.5L569.1 35.7L561.2 36.2L553.3 37.1L545.4 38.4L537.6 40.0L529.8 42.0L522.2 44.4L514.6 47.2L507.3 50.4L500.1 54.0L493.0 58.1L486.3 62.5L479.8 67.3L473.5 72.5L467.6 78.0L462.1 83.9L456.9 90.2L452.1 96.7L447.7 103.4L443.6 110.5L440.0 117.7L436.8 125.0L434.0 132.6L431.6 140.2L429.6 148.0L428.0 155.8L426.7 163.7L425.8 171.6L425.3 179.5L425.1 187.5L425.3 195.5L425.8 203.4L426.6 211.3L427.8 219.2L429.3 227.1L431.2 234.9L433.5 242.6L436.2 250.2L439.3 257.7L442.9 265.0L446.8 272.1L451.2 279.0L456.0 285.6L461.2 291.9L466.8 297.8L472.7 303.4L479.0 308.6L485.6 313.4L492.5 317.8L499.6 321.7L506.9 325.3L514.4 328.4L522.0 331.1L529.7 333.4L537.5 335.3L545.4 336.8L553.3 338.0L561.2 338.8L569.1 339.3L577.1 339.5L585.1 339.3L593.0 338.8L600.9 338.0L608.8 336.8L616.7 335.3L624.5 333.4L632.2 331.1L639.8 328.4L647.3 325.3L654.6 321.7L661.7 317.8L668.6 313.4L675.2 308.6L681.5 303.4L687.4 297.8L693.0 291.9L698.2 285.6L703.0 279.0L707.4 272.1L711.3 265.0L714.9 257.7L718.0 250.2L720.7 242.6L723.0 234.9L724.9 227.1L726.4 219.2L727.6 211.3L728.4 203.4L728.9 195.5Z" fill="#fff"/>
<path d="M722.4 143.9h8.4M726.6 139.7v8.4M584.6 342.6h9.6M589.4 337.8v9.6M722.5 148.4h10.5M727.8 143.2v10.5M482.2 61.6h9.5M486.9 56.8v9.5M442.5 97.7h8.2M446.6 93.6v8.2M419.2 222.8h10.4M424.4 217.5v10.4M650.1 322.6h9.5M654.8 317.9v9.5M632.8 329.5h8.9M637.2 325.1v8.9M645.5 51.2h10.5M650.7 46v10.5M598.3 338.6h10.4M603.6 333.3v10.4M573.3 341.1h8.2M577.4 337v8.2M708.5 113h8.9M712.9 108.6v8.9M611.9 334.8h10.6M617.2 329.5v10.6M726.3 163.7h9.7M731.2 158.8v9.7M421.2 159.3h10.6M426.5 154v10.6M428.4 240.3h8.6M432.7 236v8.6M723.1 226.5h9.7M727.9 221.6v9.7M700.7 98.5h8.4M705 94.3v8.4M644.9 48h10.3M650 42.8v10.3M528.9 335.9h8.2M533 331.8v8.2M419.4 176h9.3M424 171.4v9.3M673.7 309.4h9M678.2 304.9v9M437.7 266h8.4M441.9 261.8v8.4M620 332.8h10.6M625.3 327.5v10.6M485 318.1h10.6M490.3 312.8v10.6M522.5 335.6h9.4M527.3 330.9v9.4M565.7 34.3h9.4M570.4 29.6v9.4M609.5 39.6h8.9M614 35.2v8.9M692.2 286.6h9.4M696.9 282v9.4M661.9 317.2h9.4M666.5 312.5v9.4M420.1 225.6h10.1M425.1 220.5v10.1M534.8 40.2h9.9M539.8 35.2v9.9M426.7 247.3h9.1M431.2 242.7v9.1M702.1 103.6h8.8M706.5 99.2v8.8M675.7 67h8.9M680.2 62.6v8.9M451.4 88.8h10.3M456.6 83.6v10.3M688.2 87.5h9.9M693.1 82.5v9.9M724.1 185.7h9.9M729.1 180.7v9.9M446.6 280.5h8.9M451.1 276v8.9M491.6 320.8h9.2M496.2 316.3v9.2M665.7 313h10.3M670.8 307.9v10.3M568.7 342.9h9.3M573.4 338.3v9.3M703.1 273.9h9.3M707.7 269.3v9.3M714.8 255.6h10.4M720 250.4v10.4M582.9 34.1h10.5M588.1 28.9v10.5M434.4 116.1h8.6M438.7 111.8v8.6M685.4 80.4h8.4M689.6 76.2v8.4M473.2 309h10.6M478.5 303.8v10.6M505.8 47.7h9.4M510.5 43.1v9.4M518.2 40.5h8.5M522.5 36.3v8.5M707.4 269.3h9.5M712.1 264.6v9.5M589.6 37.2h9.1M594.1 32.6v9.1M464.7 301.5h10.7M470 296.1v10.7M593.2 34.4h9.7M598.1 29.5v9.7M438.9 101.5h10.7M444.2 96.2v10.7M478.3 60.2h9.8M483.1 55.3v9.8M420.1 216.8h10.1M425.2 211.7v10.1M543.2 36.2h10.4M548.4 31v10.4M589.2 340.7h8.1M593.3 336.7v8.1M487.6 59.9h9.1M492.1 55.4v9.1M431.3 124.5h9M435.8 120.1v9M725.4 215.2h9.3M730.1 210.5v9.3M456.9 79.7h9.1M461.4 75.1v9.1M646.7 323.9h10.1M651.8 318.9v10.1M687.3 78.9h9.4M692 74.2v9.4M722 233.9h10.3M727.2 228.7v10.3M424.5 223.1h10M429.5 218.1v10M714 130.8h10.5M719.2 125.6v10.5M436.5 268.2h8.7M440.9 263.9v8.7M631.9 42.7h9.5M636.6 38v9.5M728.3 176.9h8.3M732.4 172.8v8.3M674.1 70.1h9M678.6 65.6v9M648.1 49.4h9M652.5 45v9M447.7 92h10.8M453.1 86.6v10.8M422.6 148.8h9.2M427.2 144.2v9.2M701.9 106.7h10.7M707.3 101.4v10.7M536 337.4h8.2M540.1 333.3v8.2M479.2 315.8h10.4M484.4 310.6v10.4M426.2 141.6h10.9M431.6 136.2v10.9M698.8 277.6h8.5M703.1 273.4v8.5M651.7 56.2h9.9M656.6 51.2v9.9M698.1 283.8h8.5M702.3 279.5v8.5M421.9 154h8.1M425.9 150v8.1M722 151.8h10.8M727.3 146.4v10.8M604.8 36.1h8.6M609.1 31.8v8.6M707 259.9h10.3M712.2 254.7v10.3M701.9 277.3h10.5M707.1 272.1v10.5M433.3 114.3h8.1M437.3 110.2v8.1M723.4 156h9.6M728.1 151.2v9.6M716.4 125.6h9.8M721.3 120.7v9.8M688.2 292.6h9.1M692.8 288.1v9.1M432.6 258.2h8.6M437 253.9v8.6M505.4 330.2h8.1M509.5 326.1v8.1M470.7 308.4h8.6M475 304.1v8.6M698.7 94.2h10.3M703.8 89.1v10.3M676.3 306.3h10.7M681.7 300.9v10.7M418.6 198.7h8.8M423 194.3v8.8M419.3 211.5h10.1M424.4 206.4v10.1M606.6 35h10.9M612 29.6v10.9M617 335.2h8.7M621.4 330.8v8.7M665.4 60.5h8.7M669.8 56.2v8.7M588.9 34.1h9.6M593.7 29.2v9.6M610.7 338.9h10M615.8 333.9v10M464 299.9h8.6M468.3 295.6v8.6M728.1 190.6h9.3M732.7 186v9.3M726 201.4h10.2M731.1 196.3v10.2M550.5 33h10.4M555.7 27.8v10.4M419 160.8h8.7M423.4 156.5v8.7M690.5 84.1h9.7M695.4 79.3v9.7M460.2 81.9h9M464.7 77.3v9M444.3 97h9.4M449 92.3v9.4M484.5 56.1h10.1M489.5 51.1v10.1M569.6 32.2h9M574.1 27.7v9M635.6 329.9h10M640.6 324.9v10M525.6 42.3h8.3M529.7 38.1v8.3M724.6 206.5h10.6M729.9 201.2v10.6M471.3 68.7h10.5M476.6 63.5v10.5M718 135.6h10.2M723.1 130.5v10.2M651.6 319.4h9.4M656.3 314.7v9.4M464.3 76.2h10.3M469.5 71v10.3M578.2 342.5h10.8M583.5 337.1v10.8M642.5 327.6h10.2M647.5 322.5v10.2M562.3 341.2h10.5M567.5 335.9v10.5M712 122.2h10M717 117.2v10M713.1 258.1h8.6M717.4 253.8v8.6M630.8 333.5h8.6M635.1 329.2v8.6M597.5 341.5h9M602 337v9M518 45.7h9.1M522.5 41.2v9.1M450.7 286.5h8.4M454.8 282.3v8.4M426.3 144.5h8.4M430.5 140.3v8.4M421.8 180.8h10.1M426.9 175.7v10.1M418.4 179.4h8.4M422.6 175.2v8.4M417.9 170.6h8.9M422.3 166.1v8.9M689 82.2h9.6M693.8 77.4v9.6M424.4 140.3h8.6M428.7 136v8.6M706.7 105.9h9.5M711.4 101.1v9.5M436.2 262.8h8.2M440.3 258.7v8.2M639.3 328.1h9.3M644 323.4v9.3M487.8 55.1h9.4M492.5 50.4v9.4M656.9 54.3h8.7M661.2 49.9v8.7M493.6 50.9h10.6M499 45.6v10.6M469.9 66.1h10.1M475 61.1v10.1M716.6 139.6h9.9M721.6 134.6v9.9M621.9 39.7h9.3M626.5 35v9.3M441 276h10.9M446.4 270.5v10.9M727.2 180.2h8.5M731.5 175.9v8.5M645.3 326.5h10M650.3 321.5v10M478.8 62.8h9.2M483.4 58.1v9.2M708.4 109h8.8M712.8 104.6v8.8M691.7 289.4h10.8M697.1 284v10.8M424.7 133.4h10.4M429.9 128.2v10.4M727.2 187.6h10.6M732.5 182.3v10.6M528.6 38.6h9.7M533.4 33.8v9.7M526.1 333.9h8.5M530.4 329.7v8.5M713.8 126.1h8.2M717.9 122v8.2M522 331.9h10.2M527.1 326.8v10.2M679.1 302.8h9.2M683.7 298.2v9.2M652.8 52.2h9.2M657.4 47.6v9.2M655.2 319.9h10.5M660.4 314.7v10.5M431.5 255.8h8.7M435.9 251.5v8.7M662.4 58.7h8.1M666.5 54.7v8.1M724.1 158.4h9.9M729.1 153.5v9.9M425.5 230h10M430.5 225v10M494.4 323.9h10.2M499.5 318.8v10.2M516 332.5h8.8M520.3 328.1v8.8M711.9 114.2h8.6M716.2 109.8v8.6M543.1 337.6h10M548.1 332.6v10M460 77.8h10.2M465.1 72.7v10.2M717.9 234.9h8.4M722.1 230.7v8.4M721.3 137.8h8.8M725.7 133.4v8.8M668 67.5h10.2M673.1 62.4v10.2M623.6 334.2h10.8M628.9 328.8v10.8M553.7 34h10.5M558.9 28.7v10.5M717.1 242.8h9.1M721.6 238.2v9.1M497 323.9h10.5M502.2 318.7v10.5M479.8 58.6h10.9M485.3 53.2v10.9M602.5 34h8.3M606.6 29.9v8.3M417.9 193.6h9.7M422.7 188.7v9.7M447.7 282.7h10.1M452.7 277.7v10.1M424.8 136.4h9M429.3 131.9v9M629.1 44.4h10.4M634.3 39.2v10.4M592.2 340.9h10.4M597.4 335.7v10.4M512.3 332.1h9.5M517.1 327.4v9.5M696.3 89.7h10.4M701.6 84.5v10.4M717.3 249h8.7M721.6 244.6v8.7M557.1 34.5h9.4M561.8 29.8v9.4M682 301.4h9.5M686.8 296.6v9.5M726.1 192.4h9.3M730.8 187.8v9.3M472.9 65h10.6M478.2 59.7v10.6M699.4 281.5h8.7M703.8 277.1v8.7M723.2 222.5h10.7M728.6 217.2v10.7M431.7 121.7h9.4M436.4 117.1v9.4M668.7 63.1h9.2M673.3 58.5v9.2M715.8 253.1h9.5M720.6 248.4v9.5M482.6 316.8h9M487.1 312.3v9M696 95h10M701 90v10M619.2 39.2h9.6M624 34.4v9.6M561.9 32h10.5M567.1 26.8v10.5M619.3 42h10.6M624.6 36.7v10.6M462.6 74.4h8.8M467 70v8.8M434.9 112h9.5M439.7 107.3v9.5M453.6 84.4h9.8M458.5 79.5v9.8M419.5 166.6h10.6M424.8 161.3v10.6M695.7 285.4h8.8M700 281.1v8.8M703.6 100.2h8.7M707.9 95.9v8.7M627.1 332.3h10.6M632.4 327v10.6M428.9 128.2h10.6M434.2 122.9v10.6M523.2 39.8h8.7M527.6 35.4v8.7M470.6 304h8.1M474.7 299.9v8.1M487.4 320h8.7M491.8 315.7v8.7M501.9 50.6h9.5M506.7 45.9v9.5M708.2 266.5h8.4M712.4 262.4v8.4M512.6 42.6h8.2M516.8 38.4v8.2M566.1 340.9h10.3M571.3 335.8v10.3M615.5 337.4h8.8M619.9 333v8.8M424.8 243.6h10.4M429.9 238.4v10.4M455 290.5h9.9M459.9 285.6v9.9M474.6 312.5h10.3M479.8 307.3v10.3M546.3 34.1h9.8M551.3 29.2v9.8M718.3 245.4h8.5M722.6 241.1v8.5M465.4 304.1h8.9M469.9 299.6v8.9M683.7 76.5h9.6M688.5 71.7v9.6M420.8 204.6h10.6M426.1 199.2v10.6M419.8 201.2h10.2M424.9 196.1v10.2M649.4 51.8h8.8M653.8 47.5v8.8M498.7 325.5h10.5M503.9 320.3v10.5M423 235.7h10.6M428.4 230.4v10.6M711.4 263.1h9.2M715.9 258.6v9.2M504.7 324.9h8.5M508.9 320.6v8.5M458.5 297.8h10.6M463.8 292.6v10.6M718.3 131.8h9.5M723 127.1v9.5M710.6 259.3h9.1M715.2 254.7v9.1M485.1 61.2h8.9M489.5 56.8v8.9M468.2 69.4h8.7M472.6 65v8.7M714.9 121.8h9.5M719.7 117.1v9.5M728.3 183h8.8M732.8 178.6v8.8M627 335.4h8.9M631.4 331v8.9M525.1 38.3h9.4M529.9 33.6v9.4M723.5 195h10.3M728.6 189.9v10.3M494.2 54.4h9M498.7 49.9v9M573.5 32.2h10.5M578.8 26.9v10.5M416.8 185.1h10.2M421.9 180v10.2M475.4 62.2h10.8M480.8 56.8v10.8M681.7 74.3h9.9M686.6 69.3v9.9M447.5 285.3h10M452.4 280.3v10M426.3 138.2h10.4M431.5 133.1v10.4M685 299.7h8.5M689.2 295.4v8.5M515.8 43.2h10.4M521 38v10.4M432.8 261.7h9.4M437.5 257v9.4M725.4 172.2h10.2M730.5 167.1v10.2M435.7 109h10.8M441.1 103.6v10.8M419.1 182.2h8.2M423.2 178.1v8.2M598.3 34.2h10.2M603.4 29.1v10.2M616.3 38.3h8.5M620.6 34.1v8.5M678.1 69.8h8.9M682.5 65.4v8.9M642.2 46.6h10.8M647.6 41.2v10.8M672 66.3h8.8M676.4 61.9v8.8M718.8 238.3h10.6M724.1 233v10.6M451.6 289h10.6M456.9 283.7v10.6M456.8 296.1h10.5M462 290.9v10.5M443.5 279h9.6M448.3 274.2v9.6M726.4 195.4h9.9M731.3 190.5v9.9M429.7 250.9h9.5M434.4 246.1v9.5M536 37.7h10.4M541.2 32.5v10.4M640.1 47.8h8.4M644.3 43.6v8.4M670.2 310.5h8.7M674.6 306.2v8.7M559.2 342.8h8.1M563.2 338.8v8.1M723 214.6h8.9M727.5 210.1v8.9M720 227.7h10.1M725.1 222.6v10.1M447.2 89.7h10.1M452.2 84.7v10.1M423.5 224.8h8.2M427.6 220.7v8.2M555.7 341.9h8.8M560.1 337.5v8.8M572.3 35.5h9.9M577.2 30.5v9.9M518.5 335.6h10.8M523.8 330.2v10.8M679.9 70.9h9.4M684.6 66.2v9.4M423.1 143.7h8.1M427.1 139.6v8.1M611.5 38.1h10.8M616.9 32.7v10.8M625.3 41.9h8.3M629.4 37.8v8.3M445.3 276.5h8.4M449.5 272.3v8.4M418.3 188.2h10.8M423.7 182.8v10.8M420.8 208.4h9M425.2 203.9v9M445.9 282.6h8.8M450.3 278.2v8.8M429.3 247.3h9.4M434 242.6v9.4M692.7 87.2h8.8M697.2 82.8v8.8M454.2 87h10.7M459.5 81.6v10.7M605.5 337.8h10.2M610.6 332.7v10.2M421.9 219.3h8.5M426.2 215v8.5M576.3 341.3h9.4M581 336.6v9.4M579.3 32.5h8.7M583.7 28.1v8.7M705.4 102.2h8.9M709.8 97.8v8.9M464.7 71.1h9.7M469.6 66.3v9.7M421.8 171.9h8.5M426.1 167.6v8.5M483.5 58.8h10.5M488.7 53.6v10.5M722.6 231.4h8.4M726.8 227.2v8.4M651.4 324.7h10.3M656.5 319.6v10.3M467.4 305.9h10.1M472.5 300.9v10.1M420.6 196.3h8.4M424.8 192.1v8.4M722.9 210.6h10.7M728.2 205.3v10.7M712.7 255.6h9M717.2 251.1v9M659.5 56.4h9.7M664.3 51.5v9.7M503 46.5h9.5M507.7 41.7v9.5M706.5 271.2h8.2M710.6 267.1v8.2M709.6 262.1h8.2M713.7 258v8.2M627.2 42.2h10.2M632.3 37.1v10.2M501.9 327.1h10.8M507.3 321.7v10.8M429.3 253.9h10M434.3 248.8v10M704.2 107.8h10.9M709.6 102.4v10.9M419.3 158.4h9.4M424 153.7v9.4M665.4 315.8h8.1M669.5 311.8v8.1M715.9 128.4h9.6M720.8 123.6v9.6M639.7 45.1h8.7M644 40.7v8.7M542.4 34.5h8.2M546.5 30.4v8.2M488.5 321.4h10.8M493.9 316v10.8M659.8 319.6h10M664.7 314.6v10M653.3 321.8h8.1M657.4 317.8v8.1M514.4 329.1h10.7M519.7 323.7v10.7M461.7 301.4h9.7M466.5 296.5v9.7M715.3 246.7h9.9M720.2 241.8v9.9M705 274h10.5M710.3 268.7v10.5M485.6 315.3h9.2M490.2 310.7v9.2M418.9 163.6h8.4M423.1 159.4v8.4M508.7 329.2h8.2M512.7 325.1v8.2M443.4 100.8h9.1M448 96.3v9.1M620.5 336.1h8.7M624.8 331.7v8.7M726.2 167.8h10.2M731.4 162.7v10.2M693.9 85.1h8.7M698.2 80.7v8.7M477.2 314.1h9.3M481.9 309.4v9.3M452.2 85.8h8.4M456.4 81.7v8.4M695.1 87.7h10.4M700.3 82.5v10.4M455.8 83.3h10.6M461.1 78v10.6M719.9 146.2h9.7M724.8 141.3v9.7M719 143.6h8.8M723.4 139.2v8.8M603.1 340.1h8.9M607.5 335.7v8.9M723.8 161.2h10.1M728.8 156.1v10.1M425.7 240.3h9.1M430.3 235.7v9.1M724.9 218.2h10.5M730.2 212.9v10.5M496.7 326h8.9M501.1 321.5v8.9M699.7 101.3h10.3M704.9 96.1v10.3M699.8 274.6h10.2M704.9 269.5v10.2M488.9 53h9.9M493.9 48.1v9.9M724.4 188.4h10.6M729.7 183.2v10.6M632.3 332.2h10.5M637.5 326.9v10.5M439.3 110h8.8M443.7 105.6v8.8M689.4 294.2h10M694.4 289.2v10M686.9 297.9h8.3M691.1 293.7v8.3M712.1 261h10.5M717.3 255.8v10.5M559.4 32.5h9.3M564 27.9v9.3M492 323.6h9M496.5 319.1v9M428.1 133.4h9M432.6 128.9v9M724.7 182.7h8.9M729.2 178.3v8.9M552.2 341.2h9.3M556.9 336.6v9.3M416.9 173.1h9.7M421.7 168.3v9.7M461.2 298.6h10M466.1 293.6v10M570.4 339.6h8.1M574.5 335.6v8.1M454 81.9h10.1M459.1 76.9v10.1M691.6 291.9h10M696.5 286.9v10M419.2 191.1h9M423.7 186.6v9M437.2 106.6h9.5M442 101.9v9.5M476.3 66.4h8.4M480.5 62.1v8.4M649.6 325.9h9.7M654.5 321v9.7M546 340.7h8.7M550.4 336.3v8.7M719.2 141h10.6M724.4 135.8v10.6M452.6 292h10.9M458 286.6v10.9M724.7 166.1h9.1M729.2 161.5v9.1M427.8 245h9.6M432.7 240.2v9.6M722.8 217.6h9M727.3 213.1v9M720.3 241.1h8.7M724.6 236.7v8.7M694.1 288.5h10M699.2 283.5v10M642.2 325.1h9.9M647.2 320.1v9.9M688.3 295.9h8.3M692.4 291.7v8.3M665.5 63.2h9.5M670.2 58.5v9.5M436.8 270.1h10.8M442.2 264.8v10.8M654.8 322.8h10.5M660 317.5v10.5M505.4 327.8h9.6M510.2 323v9.6M723.5 229.1h8.1M727.6 225v8.1M541.3 340.1h9.3M545.9 335.4v9.3M726.7 209.8h8.4M730.9 205.7v8.4M664.7 58.2h8.1M668.8 54.2v8.1M586.4 32.9h8.6M590.7 28.6v8.6M658.4 321h9.2M663 316.4v9.2M701.1 279.6h8.9M705.5 275.1v8.9M498.4 48.8h10.2M503.5 43.7v10.2M668.4 313h10.2M673.5 307.9v10.2M604 335.1h10.6M609.3 329.8v10.6M417.5 208h10.1M422.5 203v10.1M434.2 265h10.2M439.3 259.9v10.2M693.7 283.2h10.6M699 277.9v10.6M424.4 232h8.7M428.8 227.7v8.7M712.5 128.8h9.6M717.3 124v9.6M422.7 227.4h9.7M427.6 222.5v9.7M439.4 274.2h9.3M444.1 269.5v9.3M698 91.9h9.5M702.8 87.1v9.5M425.9 237.8h8.8M430.3 233.4v8.8M482.6 57h9.4M487.3 52.3v9.4M727.6 198.6h8.6M731.9 194.3v8.6M628.5 329.7h10.3M633.7 324.5v10.3M419.7 214.2h8.6M423.9 210v8.6M640.7 329.7h10.5M646 324.4v10.5M448.2 94.4h8.1M452.2 90.4v8.1M536 339.7h10.3M541.2 334.5v10.3M469.1 71.2h10.4M474.3 66v10.4M712.8 116.7h9.3M717.4 112v9.3M647.3 327.1h10.6M652.6 321.8v10.6M581.1 341.1h10.2M586.2 336v10.2M657.9 317.8h10.7M663.3 312.4v10.7M529.4 338.1h10.1M534.4 333.1v10.1" stroke="#ffb200" stroke-width="1.05" fill="none" stroke-opacity="0.93"/>
<path d="M527.7 47h9.2M532.3 42.4v9.2M514.1 55.9h8.1M518.2 51.9v8.1M672.8 90.8h9.2M677.4 86.2v9.2M495.6 62.7h9.6M500.4 57.9v9.6M601.7 329h9.6M606.5 324.2v9.6M431.1 160.9h10M436.1 155.9v10M508.2 314.1h9.4M512.9 309.4v9.4M683.3 107.3h10.6M688.5 102.1v10.6M459.5 294.7h10.8M464.9 289.3v10.8M442.5 263.2h9.1M447 258.6v9.1M506.7 53.6h9.4M511.4 48.9v9.4M704.2 236.6h9.5M709 231.9v9.5M685.3 94.2h10.4M690.5 89v10.4M426.3 154.2h9.1M430.9 149.6v9.1M543.1 47.3h8.8M547.5 42.9v8.8M720.4 199.1h10.3M725.6 193.9v10.3M535.7 46.8h8.2M539.8 42.7v8.2M604.5 48.9h10.2M609.6 43.8v10.2M717.1 229.4h10.4M722.3 224.2v10.4M674.7 84.6h8.2M678.8 80.5v8.2M457.5 281.8h10.1M462.6 276.7v10.1M440 132.3h8.6M444.3 128v8.6M677.4 94.7h10.6M682.6 89.4v10.6M601.8 324.7h9.8M606.7 319.8v9.8M667.7 295.2h9.6M672.5 290.4v9.6M658.1 60.2h8.4M662.3 56v8.4M555.4 45.6h9.4M560.2 40.9v9.4M685.9 275.8h10M690.9 270.8v10M633.6 62.3h9.7M638.4 57.5v9.7M713.6 229.9h10.9M719.1 224.5v10.9M579 331.3h10.6M584.3 326v10.6M611.2 329h8.8M615.6 324.6v8.8M500.9 65.6h9.2M505.5 61v9.2M694.9 106.7h9.6M699.7 102v9.6M665.5 65.7h8.4M669.7 61.5v8.4M699.6 265.7h9.8M704.5 260.8v9.8M617.4 42.6h8.6M621.7 38.3v8.6M470.2 292.9h10.6M475.5 287.6v10.6M470.3 89.8h8.2M474.4 85.7v8.2M658.1 70.9h10.9M663.5 65.5v10.9M440.8 107.4h8.3M444.9 103.2v8.3M718.2 203h8.2M722.2 198.9v8.2M681.3 288.9h9.9M686.3 284v9.9M593.1 45.1h10.8M598.5 39.7v10.8M669.8 84.6h9.5M674.6 79.8v9.5M661.2 78.5h9.7M666.1 73.6v9.7M477.8 81.3h8.3M482 77.1v8.3M442.2 123.1h8.3M446.3 119v8.3M450.4 266.3h9.7M455.2 261.5v9.7M488.1 298.9h9.7M493 294v9.7M664.4 294.2h9.4M669.1 289.5v9.4M675.6 296.2h9.8M680.5 291.3v9.8M711.5 225.8h9.4M716.2 221.1v9.4M556.9 43h10.8M562.3 37.6v10.8M661.9 303.6h9.4M666.6 298.9v9.4M501.1 323.6h9.3M505.8 318.9v9.3M425.8 190.8h9.2M430.4 186.2v9.2M713.3 218h10M718.3 213v10M572.8 41.5h9.3M577.4 36.9v9.3M670.3 299.3h9.3M674.9 294.6v9.3M657.4 75.6h8.2M661.5 71.5v8.2M683.3 280.9h10.7M688.7 275.5v10.7M564.4 36.7h8.4M568.6 32.5v8.4M461.2 291h8.3M465.4 286.8v8.3M698.7 270.9h10.7M704 265.5v10.7M446.2 103.2h9.6M451 98.4v9.6M720.4 189.2h10.8M725.8 183.8v10.8M525.3 325.5h10.1M530.3 320.5v10.1M531.5 336.5h10.2M536.6 331.4v10.2M632.3 324.3h9.4M637 319.6v9.4M586.8 336.5h10.2M591.9 331.4v10.2M692.1 264.4h10.3M697.2 259.2v10.3M490.4 308h9.1M494.9 303.4v9.1M466.7 290.8h10M471.7 285.8v10M508 322.9h8.8M512.4 318.5v8.8M645 56.2h9M649.5 51.7v9M617 48.6h8.7M621.3 44.2v8.7M457.3 87.3h9.9M462.2 82.3v9.9M429.6 212.9h10.4M434.8 207.7v10.4M428.9 170.8h8.1M433 166.8v8.1M472.1 285.6h10.4M477.3 280.5v10.4M517.7 318.7h9M522.2 314.2v9M655.6 300.6h8.8M659.9 296.2v8.8M517.1 322.9h9.4M521.7 318.2v9.4M469.2 295.3h9.1M473.7 290.8v9.1M596.4 40.9h10.1M601.5 35.9v10.1M428.7 192.6h10.2M433.7 187.5v10.2M473.2 80.4h10.5M478.4 75.2v10.5M482.4 64.8h10.9M487.8 59.3v10.9M701.6 260.8h9.2M706.2 256.2v9.2M627.5 327.6h9.1M632 323v9.1M470.9 282h10.4M476 276.8v10.4M516.8 54.6h8.5M521 50.4v8.5M431.3 150.6h8.4M435.5 146.4v8.4M451.6 97.5h10M456.6 92.5v10M520.2 43.3h8.4M524.4 39.1v8.4M687.2 281.5h9.5M691.9 276.7v9.5M457.9 108.3h10.5M463.1 103.1v10.5M432.2 218.3h9.4M436.9 213.6v9.4M432.2 136.8h9.7M437.1 131.9v9.7M705.4 244h10M710.4 239v10M424.6 198.5h9.6M429.4 193.7v9.6M659.2 65.8h10.6M664.5 60.5v10.6M448 266.3h8.5M452.2 262v8.5M473.2 295.7h8.9M477.7 291.2v8.9M627.7 56.5h10.8M633.1 51.1v10.8M441.2 257.8h9.8M446.1 252.9v9.8M481.9 76.7h10.3M487 71.5v10.3M521.4 329.2h10.5M526.6 324v10.5M720 208.7h10.8M725.4 203.3v10.8M708 234.1h9.2M712.6 229.5v9.2M594.9 38.1h9.2M599.5 33.5v9.2M685.3 295.7h8.9M689.8 291.3v8.9M719.6 176.2h9.9M724.6 171.2v9.9M507 318.3h10.2M512.1 313.2v10.2M560.6 35.1h9.5M565.4 30.3v9.5M433.2 248.6h9.3M437.9 244v9.3M649.5 303.4h10.5M654.7 298.2v10.5M720.6 216.7h8.6M724.9 212.4v8.6M444.3 129.6h9.3M449 124.9v9.3M511.7 50.7h8.5M515.9 46.5v8.5M668 310.5h8.1M672.1 306.4v8.1M436.9 146.5h9.6M441.7 141.7v9.6M463.4 290.8h10.9M468.9 285.3v10.9M561.3 328.6h10M566.3 323.6v10M690.3 278.9h8.9M694.8 274.4v8.9M503.4 58.3h9.3M508 53.7v9.3M439.6 268.8h9.5M444.3 264.1v9.5M703.8 247.9h8.6M708.1 243.6v8.6M670.1 285.1h10M675 280.1v10M610.9 46.7h10.3M616.1 41.6v10.3M428.5 232.5h10.1M433.5 227.5v10.1M685.2 289.6h8.7M689.6 285.2v8.7M436.1 242.6h10.3M441.3 237.5v10.3M649.1 307h8.3M653.2 302.9v8.3M445.2 106.9h10.2M450.3 101.7v10.2M671.7 80.4h8.5M675.9 76.2v8.5M650.7 73.6h10.1M655.8 68.5v10.1M676.7 291.4h9.5M681.5 286.6v9.5M645.2 312.7h8.7M649.6 308.3v8.7M508.6 46.7h10.6M513.9 41.4v10.6M652 64.1h8.5M656.3 59.8v8.5M706.2 263.6h10.4M711.3 258.4v10.4M619.8 319.1h10.4M625 313.9v10.4M702 240.3h10M707.1 235.3v10M571.7 335.7h10.6M577 330.4v10.6M488.7 317h8.9M493.1 312.6v8.9M706.5 227.5h9.9M711.5 222.6v9.9M600.4 43.5h9.8M605.3 38.6v9.8M702.6 131.3h10.6M708 126v10.6M596.5 36.4h10.3M601.7 31.2v10.3M474.1 291.8h9.5M478.8 287v9.5M669 292h10.5M674.3 286.8v10.5M549.9 331.6h9.1M554.4 327v9.1M486.2 308.5h8.4M490.4 304.3v8.4M701 253.5h8.7M705.4 249.1v8.7M713.6 233.9h10.1M718.7 228.8v10.1M707.4 239.5h8.1M711.5 235.4v8.1M694.5 110.5h9.9M699.4 105.6v9.9M707.8 140.2h8.8M712.2 135.8v8.8M430.4 146.1h10.3M435.5 140.9v10.3M525.9 330.9h9.8M530.8 326v9.8M497.1 308h8.9M501.6 303.5v8.9M566.5 38.5h9.4M571.2 33.8v9.4M435.4 135.7h10.7M440.7 130.4v10.7M626.9 320.1h10.8M632.3 314.7v10.8M422.7 184.1h10.4M427.9 178.9v10.4M720.8 162.5h10.6M726.1 157.2v10.6M660.7 63h8.9M665.2 58.5v8.9M713.1 244.8h10.9M718.5 239.3v10.9M655 307.8h8.7M659.4 303.5v8.7M630.4 48.3h8.1M634.4 44.2v8.1M686.9 268.5h9.9M691.9 263.5v9.9M721.4 183.7h10.4M726.6 178.5v10.4M464.2 89.1h8.7M468.6 84.7v8.7M601.7 336.1h9.9M606.6 331.1v9.9M648.1 55.4h9.8M653 50.5v9.8M678.9 76.8h9.6M683.7 72v9.6M719.3 168.6h9.7M724.1 163.7v9.7M436 239.6h8.4M440.2 235.4v8.4M555 38.8h9.9M560 33.8v9.9M714.8 148.6h9.7M719.6 143.8v9.7M577.7 333.7h8.4M581.8 329.5v8.4M522.6 323.3h8.9M527.1 318.8v8.9M481.8 295h9.1M486.3 290.5v9.1M699.1 105.5h8.4M703.3 101.3v8.4M686 285.3h9.3M690.6 280.6v9.3M713.9 163.7h9.5M718.7 159v9.5M539.6 330.3h10M544.6 325.3v10M543.8 328.2h10.6M549.2 322.8v10.6M464.5 276.4h8.7M468.9 272v8.7M652.7 70.3h8.9M657.2 65.9v8.9M434.6 245.9h10.8M440 240.5v10.8M707.6 118.9h9.4M712.2 114.2v9.4M685.3 292.6h9.3M689.9 288v9.3M641.9 317.9h10.1M647 312.9v10.1M435.8 142.7h8.6M440.1 138.4v8.6M576.6 45.5h8.5M580.9 41.3v8.5M502.1 53.8h8.2M506.2 49.7v8.2M533.4 325.9h9.9M538.3 321v9.9M689.5 93.8h8.1M693.5 89.7v8.1M622.6 331.5h10.8M628 326.2v10.8M663.5 84.7h10M668.5 79.7v10M643.9 63h8.4M648.2 58.7v8.4M676.6 90.1h10M681.6 85.1v10M433.1 230h10M438.1 225v10M694.2 254.5h9.1M698.8 249.9v9.1M432.6 225.8h10.8M438 220.4v10.8M626.8 53.2h9.3M631.4 48.6v9.3M700.2 129h9.6M705 124.2v9.6M575.2 35.4h10.2M580.3 30.3v10.2M716.2 214.4h9.3M720.9 209.8v9.3M454.6 105.3h8.8M459 100.9v8.8M522.2 44.2h10.8M527.6 38.9v10.8M461.6 286.5h9.9M466.5 281.6v9.9M469.2 299.7h10.5M474.4 294.4v10.5M704.8 260.8h9.9M709.7 255.8v9.9M609.9 323.4h9.2M614.4 318.8v9.2M668.4 288.4h8.6M672.6 284.2v8.6M717 185h10.2M722.1 179.9v10.2M640.4 61.8h8.2M644.4 57.7v8.2M441.3 113.2h9.5M446.1 108.4v9.5M423.8 205.7h9.7M428.7 200.9v9.7M424.7 216.1h8.5M428.9 211.8v8.5M683.2 100.9h10.8M688.5 95.5v10.8M422.8 155.7h10.9M428.2 150.2v10.9M550.7 337.8h9M555.2 333.3v9M624.2 51h8.2M628.4 46.9v8.2M446.1 99.3h10.7M451.5 94v10.7M517.7 330.7h10.7M523.1 325.4v10.7M645.5 59.3h9.7M650.4 54.5v9.7M454 271.1h8.7M458.3 266.7v8.7M437.2 114.4h9.1M441.7 109.9v9.1M458.1 103.6h9.5M462.8 98.9v9.5M490.4 58h8.3M494.6 53.8v8.3M716.6 143.5h8.1M720.7 139.4v8.1M459.2 273.5h10.7M464.5 268.2v10.7M445.9 133.1h8.1M450 129v8.1M667.5 80.7h10M672.5 75.7v10M447 269.7h8.2M451.1 265.6v8.2M547.2 332.4h8.1M551.3 328.4v8.1M692.6 267.6h8.9M697.1 263.2v8.9M685.9 84.7h9.5M690.7 80v9.5M467.9 285.1h8.9M472.4 280.7v8.9M434.2 120.1h10.6M439.5 114.8v10.6M539.2 337.9h10.3M544.3 332.8v10.3M681.5 285.3h9M686 280.8v9M688.5 100.4h9.2M693.1 95.8v9.2M570.1 36.9h8.2M574.2 32.8v8.2M444.5 119.6h8.4M448.7 115.4v8.4M602.4 39h8.2M606.6 34.9v8.2M436.8 126.1h9.7M441.6 121.3v9.7M696.7 250.5h10.4M701.9 245.3v10.4M652.9 316.7h9.2M657.5 312.1v9.2M640.1 320.4h10.6M645.3 315.1v10.6M588.9 47.6h9.9M593.8 42.6v9.9M718.7 160.4h8.6M723 156.1v8.6M464 294.7h9M468.4 290.3v9M670.5 305.3h9.5M675.3 300.5v9.5M699.6 245.7h10.2M704.7 240.6v10.2M640 53.6h8.6M644.3 49.3v8.6M545.5 43.7h8.1M549.5 39.7v8.1M718.4 149.2h8.4M722.6 145v8.4M495.5 56.4h10.9M501 50.9v10.9M443.4 115.4h9.2M448 110.8v9.2M606.3 332.9h10M611.3 327.9v10M671.6 72.1h10.1M676.6 67v10.1M551.8 43.7h9.5M556.5 38.9v9.5M681.3 296.6h10M686.3 291.6v10M696 266.5h10.6M701.3 261.2v10.6M605.7 327h10.7M611.1 321.6v10.7M454.7 90.2h8.5M459 86v8.5M721.6 179.3h9M726.1 174.8v9M437 253.9h10.1M442.1 248.8v10.1M583.3 339.5h10.9M588.7 334.1v10.9M608.5 44.6h10.3M613.7 39.5v10.3M540.4 38.1h8.3M544.6 34v8.3M586.8 43.1h8.9M591.2 38.6v8.9M497.8 304.6h8.2M501.9 300.5v8.2M719.1 224h10.4M724.3 218.8v10.4M425.6 212.5h8.3M429.8 208.4v8.3M622.8 328.5h9.9M627.7 323.5v9.9M494.2 315.8h8.7M498.6 311.4v8.7M643.7 67.6h10.6M649 62.3v10.6M613.2 325.1h9.6M618 320.3v9.6M578.9 42h10.6M584.2 36.7v10.6M709.6 240.2h10.2M714.7 235.1v10.2M470.8 83.7h9.7M475.6 78.9v9.7M689.2 272h10.8M694.6 266.6v10.8M465.1 80.8h10.2M470.3 75.7v10.2M435.8 235.7h10M440.8 230.7v10M709.8 256h9.1M714.4 251.4v9.1M590.8 328.9h8.7M595.1 324.6v8.7M672.9 302.7h8.6M677.2 298.4v8.6M514 325.8h10.1M519 320.8v10.1M682.9 294.2h9.7M687.7 289.4v9.7M440.7 246.8h8.4M444.9 242.6v8.4M426.5 157.9h9.4M431.2 153.2v9.4M478.2 292.2h10.6M483.5 286.9v10.6M449.5 109.3h10.7M454.8 104v10.7M679.8 277.1h8.7M684.1 272.7v8.7M712.5 144.8h8.2M716.6 140.7v8.2M479.4 66.7h8.1M483.4 62.6v8.1M488.2 63.9h10.7M493.6 58.6v10.7M702.9 121.1h8.2M707 117v8.2M564.4 333.1h8.1M568.4 329.1v8.1M444 260.2h9.9M449 255.2v9.9M679.8 299.7h10M684.8 294.7v10M443.1 104.7h8.3M447.3 100.5v8.3M680.7 86.7h9.6M685.5 81.8v9.6M632.8 318.8h9.4M637.5 314.1v9.4M719.5 153.9h9.1M724.1 149.4v9.1M486.8 72.8h10.1M491.9 67.8v10.1M448.7 115.9h8.4M452.9 111.7v8.4M651.1 59.9h10.4M656.3 54.8v10.4M714.9 225h9.4M719.6 220.3v9.4M537.8 41.1h9.8M542.8 36.2v9.8M639 315.7h9.3M643.6 311v9.3M512.4 314.8h10.5M517.7 309.6v10.5M490 314.1h8.1M494 310v8.1M439.4 118.9h10.2M444.5 113.7v10.2M432.4 130.9h8.8M436.8 126.5v8.8M435.7 232.2h9.8M440.6 227.3v9.8M528.9 44.4h9.7M533.7 39.6v9.7M717.9 171.9h10M722.9 166.9v10M704.3 110.4h9.8M709.2 105.5v9.8M432.1 239h9.7M436.9 234.1v9.7M712.5 133.8h10.6M717.8 128.5v10.6M510.4 319.6h10.6M515.8 314.3v10.6M641.8 51.5h9.7M646.6 46.6v9.7M691.7 275.9h9.1M696.2 271.3v9.1M430.9 157.4h8.4M435.1 153.3v8.4M538.1 325.1h9.2M542.7 320.5v9.2M429 175.8h9.3M433.6 171.1v9.3M709.8 250.5h8.5M714.1 246.2v8.5M714.7 249.2h8.2M718.8 245.1v8.2M449.5 259.4h9.9M454.4 254.4v9.9M694.5 101.3h8.6M698.8 97v8.6M708.4 246.9h8.4M712.6 242.7v8.4M457.4 286.9h10.8M462.8 281.5v10.8M480.5 308.1h10.6M485.8 302.8v10.6M430.4 243.8h10.3M435.5 238.7v10.3M555.7 337.1h10.2M560.8 332v10.2M624.7 325.9h9.1M629.3 321.4v9.1M694.5 98.2h9.1M699.1 93.7v9.1M715.6 238.6h10.9M721.1 233.2v10.9M548.3 37h8.6M552.6 32.7v8.6M542.8 40.7h9.6M547.6 35.9v9.6M607.8 335.9h9.5M612.6 331.1v9.5M518 48.8h8.7M522.4 44.5v8.7M716.2 194.8h9.7M721.1 189.9v9.7M441 135.9h9.7M445.8 131v9.7M429.2 130.9h9.6M434 126.1v9.6M683.5 287h9.9M688.5 282.1v9.9M584.6 39.7h9M589.1 35.2v9M477.6 310.5h10.1M482.6 305.5v10.1M499.2 316.4h9.7M504 311.6v9.7M720.9 213.1h8.2M725 209v8.2M695.3 118.2h9.4M700 113.5v9.4M666.5 76.9h9.9M671.4 72v9.9M685.5 88.2h8.1M689.5 84.1v8.1M457.2 93.7h8.5M461.5 89.4v8.5M614.6 332.7h10.8M620 327.3v10.8M445.4 255h10.8M450.8 249.6v10.8M492.9 303.1h8.7M497.3 298.7v8.7M714.8 211.5h9.9M719.8 206.5v9.9M444 272.4h8.3M448.2 268.3v8.3M703.7 267.4h9.2M708.3 262.8v9.2M498.9 313.2h9.7M503.7 308.3v9.7M499.6 319.6h10.7M505 314.2v10.7M634.8 312.7h8.9M639.2 308.2v8.9M603.9 41.4h9.4M608.6 36.7v9.4M707.7 124.5h9.3M712.4 119.8v9.3M456.7 293.7h10.3M461.9 288.5v10.3M710.4 128.2h8.3M714.6 124v8.3M652 309.4h8.5M656.3 305.2v8.5M458.7 270.2h8.7M463.1 265.9v8.7M425 167.1h10.2M430.1 162v10.2M490.4 67h10.3M495.6 61.9v10.3M480.5 304.7h10.6M485.8 299.4v10.6M467.6 86h9.2M472.2 81.4v9.2M567.8 42.2h8.6M572.1 37.9v8.6M723.5 168.3h8.2M727.6 164.2v8.2M470.2 79.6h8.3M474.4 75.5v8.3M426 226.9h8.3M430.1 222.7v8.3M447.5 119.6h10.5M452.7 114.3v10.5M421.7 190.2h10.2M426.8 185.1v10.2M468.5 73.6h9.3M473.1 69v9.3M476.6 84.5h9M481 80.1v9M455.8 278.9h9.3M460.5 274.2v9.3M663.1 68.9h8.8M667.4 64.5v8.8M675.1 299.6h9.1M679.7 295.1v9.1M593.4 335h9.4M598.1 330.3v9.4M534.6 50.5h8.5M538.8 46.3v8.5M492.7 61.7h8.7M497 57.4v8.7M684.5 104.1h10.6M689.8 98.8v10.6M454 286.8h10.5M459.2 281.6v10.5M691.7 89.6h8.4M695.9 85.4v8.4M529.9 49.4h8.9M534.4 45v8.9M433.9 221.2h8.7M438.3 216.9v8.7M460.7 282.6h10.6M466 277.2v10.6M691.7 113.6h10.3M696.9 108.4v10.3M675 73.5h9.7M679.8 68.6v9.7M666.4 298.2h8.5M670.7 293.9v8.5M668.2 304.2h8.8M672.5 299.8v8.8M475.1 69.6h8.3M479.2 65.4v8.3M460.6 99.2h9.4M465.3 94.5v9.4M453.3 262.3h10.3M458.4 257.2v10.3M477.2 306.3h8.2M481.3 302.3v8.2M456.2 273.4h10.4M461.4 268.2v10.4M508.4 61.2h10.7M513.7 55.8v10.7M511.8 329.6h8.1M515.8 325.6v8.1M661.9 307.4h9.6M666.7 302.6v9.6M473.2 76.1h9.3M477.8 71.5v9.3M519.6 51h10.1M524.7 46v10.1M481.6 71.4h9.6M486.4 66.5v9.6M452.8 274.9h8.2M456.9 270.8v8.2M505.3 311.4h10.5M510.6 306.1v10.5M424.3 173.8h9.7M429.1 169v9.7M514.4 321.8h8.9M518.9 317.3v8.9M716.2 152.4h10.2M721.3 147.3v10.2M446.9 274.6h8.5M451.1 270.3v8.5M716.3 208h9.6M721.1 203.2v9.6M696.6 271.5h8.1M700.7 267.4v8.1M707 129.2h8.2M711.1 125v8.2M677.2 284.8h10.9M682.7 279.3v10.9M710.9 157.6h10M715.9 152.6v10M523.3 51.1h9.3M527.9 46.4v9.3M512.2 59.1h8.7M516.5 54.8v8.7M487.1 67.7h9.3M491.8 63v9.3M421 186h9.5M425.7 181.2v9.5M719.9 233.3h9.6M724.7 228.4v9.6M705.8 254.7h8.6M710.1 250.4v8.6M483.4 313.1h10.1M488.5 308v10.1M694.7 280.5h10.6M700 275.2v10.6M646.2 63.3h10.4M651.4 58v10.4M439.5 271.5h10.5M444.7 266.2v10.5M473.8 89.7h10.1M478.9 84.7v10.1M622.7 44h9.6M627.5 39.2v9.6M697.7 100.8h9.3M702.3 96.1v9.3M715.8 190.1h10.1M720.8 185v10.1M464.6 297.2h10.1M469.6 292.2v10.1M621.3 322.8h9.2M626 318.2v9.2M575.1 337.7h9.3M579.8 333v9.3M690.6 108.2h9.8M695.5 103.3v9.8M557.4 339.3h10.3M562.6 334.2v10.3M660.7 309.7h8.8M665.1 305.3v8.8M497.7 54h9.3M502.3 49.3v9.3M715.4 166.9h9.6M720.2 162.1v9.6M420.7 162.7h10.4M425.9 157.5v10.4M449.3 256.2h9.2M453.9 251.6v9.2M635.8 324.6h10.6M641.1 319.3v10.6M448.9 279.6h10.3M454.1 274.5v10.3M454.4 114.5h9.2M459 109.9v9.2M477.1 301.8h9.9M482.1 296.9v9.9M422.2 213.8h9M426.7 209.3v9M532.7 38.9h9.4M537.4 34.2v9.4M708 148.7h8.6M712.3 144.4v8.6M532.7 329.9h8.9M537.1 325.5v8.9M541.4 335h8.8M545.8 330.6v8.8M499.7 305.8h10.7M505 300.5v10.7M660.3 74.5h8.3M664.5 70.3v8.3M507.2 325.5h9.4M511.9 320.8v9.4M427.2 236.6h10.8M432.6 231.3v10.8M714.5 137.8h9.7M719.4 133v9.7M547.4 338.1h9.8M552.3 333.3v9.8M427 163.5h10.5M432.2 158.3v10.5M678.9 288.3h8.4M683.1 284.1v8.4M458.7 90.4h10.6M464 85.1v10.6M716.9 222.1h8.6M721.2 217.8v8.6M625.9 44.6h10.5M631.1 39.4v10.5M438.5 262.8h10.8M444 257.4v10.8M450.6 106.3h9.9M455.5 101.3v9.9M580.2 338.1h8.4M584.4 333.9v8.4M641.3 56.2h9.6M646.1 51.4v9.6M697.4 109.8h10M702.5 104.8v10M472.3 303.8h10.2M477.4 298.7v10.2M591.2 336.9h8.7M595.6 332.5v8.7M494.9 318.8h9.8M499.8 313.9v9.8M434.6 150h10.3M439.8 144.8v10.3M456.3 267.6h9.4M461 262.9v9.4M706.1 121.5h8.5M710.3 117.2v8.5M613.9 42.6h8.3M618.1 38.4v8.3M711.2 253.4h9.3M715.8 248.7v9.3M423.9 169.3h8.4M428.1 165.1v8.4M446.7 110.6h9.4M451.4 105.9v9.4M467.9 303.2h8.6M472.2 298.9v8.6M513.8 47.1h10.7M519.1 41.8v10.7M645.4 316.4h9.9M650.3 311.4v9.9M709.1 137.1h10.2M714.2 132v10.2M654.4 311.5h9.8M659.3 306.6v9.8M435.2 250.6h9.8M440.1 245.6v9.8M697.3 273.9h10.1M702.4 268.8v10.1M681.8 82.4h8.8M686.2 78v8.8M661.2 298.3h10.1M666.3 293.3v10.1M693.1 91.9h9.7M698 87v9.7M675.4 281.3h10M680.4 276.3v10M427.3 207.6h9.1M431.8 203.1v9.1M652.2 305.7h9.2M656.8 301.1v9.2M563.2 337.8h10.5M568.4 332.5v10.5M608.6 51.1h10M613.6 46.1v10M711 117.7h8.4M715.2 113.4v8.4M506.8 57.7h9.4M511.5 53v9.4M586.6 36.6h8.9M591.1 32.1v8.9M681.7 95.7h9.5M686.4 91v9.5M711.3 153.1h8.4M715.5 148.9v8.4M457.3 98.9h9M461.8 94.4v9M712.8 238.2h9.1M717.3 233.7v9.1M558.1 333.5h10M563.1 328.5v10M658.6 312.4h10.5M663.9 307.1v10.5M497.3 66.3h9.2M501.9 61.7v9.2M711.8 232.4h8.1M715.9 228.4v8.1M636.3 48.2h10.1M641.4 43.1v10.1M699.2 114.6h9.3M703.8 110v9.3M449.4 101.2h8.8M453.8 96.8v8.8M459.8 95.6h8.8M464.2 91.2v8.8M609.1 332.8h10.5M614.4 327.5v10.5M648.5 316.4h10.7M653.9 311.1v10.7M613.1 49.8h9M617.6 45.3v9M459.2 276.6h9.5M463.9 271.9v9.5M695.7 259.5h8.9M700.1 255.1v8.9M450.6 271.6h8.7M455 267.3v8.7M483.1 300.8h8.2M487.2 296.7v8.2M490.9 55.6h10.2M496.1 50.5v10.2M701.9 112.8h9.6M706.6 108v9.6M618.9 330.8h8.7M623.2 326.5v8.7M539.7 49.4h9.8M544.6 44.5v9.8M529.9 324.9h10.2M535 319.7v10.2M665 302.3h10.7M670.4 296.9v10.7M674.1 284.8h9.9M679 279.8v9.9M427.3 218.3h10.5M432.5 213.1v10.5M696.6 126.2h9.2M701.2 121.6v9.2M692.3 284h8.2M696.4 279.9v8.2M477.3 77.6h10.6M482.7 72.3v10.6M709.7 121.8h8.8M714.1 117.4v8.8M629.3 323.6h8.4M633.5 319.4v8.4M470.2 288h8.6M474.5 283.7v8.6M671.4 307.9h9.2M675.9 303.3v9.2M697.5 121.6h8.3M701.6 117.5v8.3M463.8 94.6h9.8M468.7 89.7v9.8M561.5 41.9h9.2M566.1 37.2v9.2M618.2 325h10M623.2 319.9v10M576.9 38.4h8.9M581.3 34v8.9M702.1 257.5h9.5M706.9 252.7v9.5M718.9 196.3h10.6M724.2 191v10.6M520.4 321.2h8.2M524.5 317.1v8.2M440.4 104.9h8.2M444.6 100.7v8.2M600.8 47.6h9.2M605.4 43v9.2M687.3 106.1h10.7M692.6 100.7v10.7M596.2 331.3h10.1M601.3 326.2v10.1M663.6 74.1h10.4M668.8 68.9v10.4M452.8 283h8.8M457.2 278.6v8.8M715.3 155.7h10.1M720.4 150.7v10.1M450.9 112.9h9.8M455.8 108v9.8M423.5 194.6h10.5M428.8 189.3v10.5M494.3 67.4h9M498.8 62.9v9M692.8 271.4h9.5M697.5 266.6v9.5M679.9 292.7h10M684.8 287.8v10M631.1 51.4h8.5M635.4 47.1v8.5M444.6 124.5h10.6M449.9 119.2v10.6M655.7 305.3h10.9M661.1 299.9v10.9M704.4 136.5h8.4M708.6 132.3v8.4M688.2 96.8h9.2M692.8 92.2v9.2M678.9 280.9h10.6M684.2 275.6v10.6M530.1 41.2h9M534.6 36.6v9M425.3 178.6h8.3M429.5 174.5v8.3M537.6 332.3h8.5M541.8 328.1v8.5M642.7 309h10.7M648.1 303.7v10.7M491.4 316.3h9.1M495.9 311.8v9.1M428.6 228.2h9.4M433.3 223.5v9.4M478.6 70.3h10.1M483.7 65.3v10.1M647.6 310.6h9.7M652.5 305.7v9.7M433.2 234.7h9.6M438 229.9v9.6M596.2 336.9h9M600.7 332.4v9M721.2 165.6h9.5M725.9 160.9v9.5M453 93.6h9.7M457.8 88.7v9.7M444.2 265.9h8.8M448.6 261.5v8.8M426.5 202h9.8M431.4 197v9.8M635.3 55.9h9.1M639.8 51.4v9.1M581.3 36.2h9.3M585.9 31.6v9.3M426.1 150h8.3M430.3 145.8v8.3M437.3 258.7h10.4M442.5 253.5v10.4M444.6 249.1h8.5M448.9 244.9v8.5M671.5 76.4h10.2M676.6 71.3v10.2M422.4 211.1h9.8M427.3 206.2v9.8M643.9 322.4h8.5M648.1 318.2v8.5M662.1 311.1h10.6M667.4 305.9v10.6M673.6 289.4h8.1M677.6 285.3v8.1M569.7 336.6h8.6M574 332.3v8.6M703.2 263.5h10.9M708.7 258.1v10.9M442.4 255h9.5M447.2 250.2v9.5M439.2 239.7h10.8M444.6 234.3v10.8M424.7 186.8h8.8M429.2 182.4v8.8M539.4 46h8.3M543.6 41.8v8.3M673.2 297h8.5M677.5 292.7v8.5M633.6 49.8h10.8M639 44.4v10.8M444.2 111.7h8.9M448.7 107.3v8.9M621.2 47.2h10.3M626.4 42.1v10.3M639.1 325.3h9.7M643.9 320.4v9.7M453 110.6h10.7M458.3 105.3v10.7M430.6 203.1h9M435.1 198.6v9M721.3 204.9h8.7M725.7 200.6v8.7M716 198.3h10.4M721.1 193.1v10.4M572.1 331h9.3M576.7 326.3v9.3M461.8 279.6h10.3M466.9 274.4v10.3M449.5 275.6h9.3M454.1 271v9.3M659.1 301h8.6M663.4 296.7v8.6M623.7 54.4h8.1M627.8 50.3v8.1M635.7 59.1h10.3M640.9 53.9v10.3M429.8 137.6h9M434.4 133.1v9M663.2 313.6h10.6M668.5 308.3v10.6M693.6 274h10.2M698.7 268.9v10.2M493.8 306.2h9.3M498.5 301.6v9.3M486.9 311.1h8.7M491.2 306.8v8.7M526.4 320.3h10M531.4 315.3v10M502.8 320.7h10.9M508.2 315.2v10.9M499.6 60.3h9.4M504.2 55.6v9.4M688.3 284.6h10M693.3 279.6v10M425.7 234.6h10.3M430.9 229.5v10.3M439.6 129h8.2M443.7 124.9v8.2M509.9 55h8.9M514.3 50.6v8.9M639.2 310.5h9.4M643.9 305.8v9.4M616.7 45.5h8.6M621 41.3v8.6M433.5 253.2h8.2M437.6 249.1v8.2M584.7 331.2h8.4M588.9 327v8.4M680.8 91.9h9.5M685.6 87.2v9.5M465.3 287.2h9.4M470 282.4v9.4M602.5 332.9h9M607 328.4v9M722 201.9h9.6M726.8 197.1v9.6M429.8 222h8.6M434.1 217.7v8.6M433.3 123.4h10.9M438.7 117.9v10.9M482.8 310.2h10.9M488.3 304.7v10.9M451.2 102.9h10.6M456.5 97.6v10.6M502.8 315.9h9.2M507.4 311.3v9.2M636.4 317.6h9.1M640.9 313v9.1M690.4 281.6h8.4M694.6 277.4v8.4M677.9 294.6h9.8M682.8 289.6v9.8M653.5 66.4h10.2M658.6 61.2v10.2M494.5 321.3h8.9M499 316.9v8.9M454.6 101.1h9.4M459.3 96.3v9.4M599 333.8h8.1M603.1 329.8v8.1M724.6 176.8h8.2M728.7 172.7v8.2M432.9 127.9h9.2M437.4 123.3v9.2M678.9 80.7h10M683.9 75.7v10M469.9 76.7h8.7M474.2 72.4v8.7M440.6 265.7h10M445.6 260.7v10M428.1 147.2h8.8M432.5 142.8v8.8M503.5 63.1h10.5M508.8 57.8v10.5M676.8 76.1h8.1M680.9 72v8.1M499.3 51.6h8.3M503.5 47.4v8.3M464.7 284.4h8.3M468.8 280.2v8.3M668.1 71.5h10.6M673.4 66.2v10.6M707.1 115.9h8.1M711.1 111.9v8.1M477.1 296.9h10.8M482.5 291.5v10.8M627.5 316.7h9.9M632.5 311.7v9.9M658.9 315.4h10.2M664 310.3v10.2M508.6 50.4h8.4M512.8 46.2v8.4M569 333.2h9.9M573.9 328.3v9.9M625.2 329.8h10.1M630.2 324.8v10.1M511.1 325.3h8.3M515.2 321.1v8.3M494.8 310.3h9.6M499.7 305.5v9.6M451.8 278.6h10.4M457 273.4v10.4M676.2 81.5h9.2M680.8 76.9v9.2M437.1 118.5h9.3M441.7 113.8v9.3M616.7 327.6h8.4M620.9 323.4v8.4M655.1 58.6h8.3M659.2 54.5v8.3M481.2 81.4h10M486.2 76.4v10M592.3 40.8h9.1M596.8 36.2v9.1M476.6 286.2h10.3M481.7 281.1v10.3M550.8 39.2h8.3M555 35.1v8.3M548.4 43.7h9M552.9 39.2v9M708.2 144.2h9.2M712.9 139.6v9.2M693.4 95h9.3M698 90.4v9.3M425.7 181.7h8.7M430.1 177.4v8.7M697.5 254.1h9.2M702.1 249.5v9.2M675.5 302.2h8.5M679.8 298v8.5M657.3 63.2h8.2M661.3 59.2v8.2M432.8 241.7h10.5M438 236.5v10.5M657.2 68.1h10.1M662.3 63.1v10.1M707.4 132.6h9.5M712.1 127.8v9.5M518 327.6h9.5M522.8 322.9v9.5M651.1 312.6h9.3M655.7 308v9.3M460.3 87.4h10.9M465.7 82v10.9M430.4 208.7h9.5M435.2 203.9v9.5M474.3 288.8h10.6M479.6 283.5v10.6M721.1 158.2h8.3M725.2 154.1v8.3M671.6 87.2h10.3M676.7 82v10.3M488.6 302.1h8.6M492.9 297.8v8.6M492.7 57.8h10.4M497.9 52.5v10.4M642.3 314.3h8.4M646.5 310.2v8.4M421.7 198.7h8.9M426.2 194.2v8.9M447.5 262.2h10.3M452.7 257.1v10.3M582.2 334.2h9.1M586.7 329.7v9.1M463.2 79h10.3M468.3 73.9v10.3M619.5 50.1h10M624.5 45.1v10M492.7 71.9h9.5M497.4 67.1v9.5M717.4 164.7h9.7M722.3 159.8v9.7M589.5 333.2h9.4M594.2 328.5v9.4M501.5 310.8h8.7M505.9 306.5v8.7M441.8 126.9h10.3M446.9 121.8v10.3M440.3 252h9.7M445.2 247.2v9.7M462.7 84h10.7M468 78.6v10.7M722.4 220.5h8.2M726.5 216.4v8.2M721.9 173.4h9.3M726.5 168.8v9.3M703.4 117.5h10M708.4 112.5v10M679.1 84h8.4M683.3 79.8v8.4M484.7 298.5h9.8M489.6 293.6v9.8M474.7 300h10M479.7 295v10M702.2 125.8h10.8M707.6 120.4v10.8M532.2 46.6h8.4M536.4 42.5v8.4M711.8 139.6h9.3M716.5 134.9v9.3M475.7 73.7h9.3M480.4 69.1v9.3M528.7 329.8h10.8M534.1 324.4v10.8M681.4 275.1h10.3M686.6 270v10.3M717.7 218.7h8.9M722.2 214.2v8.9M472 72.6h9M476.4 68.1v9M637.6 56.4h10.7M642.9 51v10.7M648.7 66.9h10.2M653.8 61.8v10.2M438.3 123h8.6M442.6 118.7v8.6M664.2 309.3h10M669.2 304.3v10M667.4 307.5h10.6M672.7 302.2v10.6M635.9 320.9h8.9M640.4 316.5v8.9M688 90.5h10.5M693.3 85.2v10.5M430 140.4h10.6M435.4 135.1v10.6M717.2 181.7h9.3M721.8 177.1v9.3M633.7 45.9h8.7M638.1 41.5v8.7M443 243.6h9.5M447.7 238.9v9.5M434.6 139.2h10.6M439.9 133.9v10.6M422.4 176.2h9.5M427.1 171.5v9.5M711.2 221.1h10.3M716.3 216v10.3M543.8 331.3h8.2M547.8 327.2v8.2M439.4 115.6h10.2M444.5 110.5v10.2M435.6 131.3h9.5M440.4 126.5v9.5M546.4 40.5h10.1M551.5 35.4v10.1M561.1 45.5h10M566.1 40.5v10M431 133.9h8.7M435.4 129.6v8.7M442.7 108.7h10.8M448.1 103.3v10.8M638 50.8h9.9M643 45.8v9.9M689.6 265.5h9.5M694.3 260.7v9.5M632.7 53.5h9.8M637.6 48.6v9.8M624.4 320.5h9.1M629 315.9v9.1M664.6 305.3h10.7M670 299.9v10.7M605.4 45.6h8.6M609.7 41.3v8.6M710 147.7h10.5M715.3 142.4v10.5M429.8 185.3h8.2M433.9 181.2v8.2M708 253.2h9.5M712.7 248.5v9.5M500.5 56.3h8.2M504.6 52.2v8.2M424.9 161.2h10.7M430.3 155.9v10.7M521.7 48.2h9.1M526.3 43.6v9.1M427.3 196.8h10.6M432.6 191.5v10.6M674 292.9h8.6M678.3 288.6v8.6M722.2 192.7h8.6M726.5 188.3v8.6M682 79.3h9M686.5 74.8v9M535.1 43.2h10.1M540.2 38.1v10.1M431.7 154.3h8.7M436.1 150v8.7M435.3 260.1h9.7M440.2 255.2v9.7M552.8 333h10.5M558.1 327.8v10.5M467.5 94.2h9.2M472.1 89.6v9.2M423 165h9.7M427.9 160.1v9.7M684.4 91.2h8.5M688.6 86.9v8.5M530.9 333.4h10.3M536.1 328.2v10.3M559 336.5h9.9M563.9 331.6v9.9M695.1 276.1h10.6M700.4 270.8v10.6M435.2 257.3h9.3M439.8 252.7v9.3M448.4 96.8h10.4M453.5 91.6v10.4M526.5 50.2h9.5M531.2 45.4v9.5M641.2 65.9h9.4M645.9 61.2v9.4M700 248.9h10.1M705.1 243.8v10.1M438.8 249.8h8.8M443.2 245.4v8.8M536.9 328.3h9.9M541.8 323.3v9.9M711.1 244.4h8.8M715.5 240v8.8M466.8 281.7h8.2M470.9 277.6v8.2M689.7 289.3h8.7M694.1 284.9v8.7M691.7 104.8h10.9M697.2 99.3v10.9M484.7 70.4h10M489.8 65.4v10M710.7 248h9.8M715.6 243.1v9.8M655.2 317.4h10.6M660.4 312.1v10.6M551.3 36.1h10.4M556.5 30.8v10.4M492.9 312.4h8.3M497 308.2v8.3M666.1 69.4h9.6M670.9 64.6v9.6M472.1 298.4h10M477.1 293.4v10M436.7 228.4h8.3M440.9 224.3v8.3M626.9 50h9.1M631.5 45.5v9.1M420.9 193.4h9.8M425.8 188.5v9.8M624.5 47h9.5M629.3 42.3v9.5M725 199.4h8.7M729.3 195v8.7M484.8 305.5h9M489.3 301v9M442.2 268.9h10.4M447.4 263.7v10.4M674.4 306.2h9M678.9 301.7v9M700.9 109.3h10.7M706.3 104v10.7M558 37.3h10.3M563.2 32.2v10.3M597.9 45.4h8.3M602 41.3v8.3M649.7 320h8.1M653.7 316v8.1M524.8 46.8h8.9M529.2 42.3v8.9M590.5 44h8.9M595 39.5v8.9M700.8 118.2h8.4M705 114v8.4M699.1 257h8.6M703.4 252.7v8.6M489.7 311.2h9M494.2 306.6v9M429.8 225.6h10.3M434.9 220.4v10.3M630.8 59.9h10.2M635.9 54.8v10.2M426.6 220.6h8.5M430.8 216.3v8.5M424.4 208.7h9.5M429.1 203.9v9.5M592.7 331.7h9.2M597.3 327.1v9.2M458.4 289.6h8.4M462.6 285.4v8.4M479.3 74.6h8.3M483.4 70.5v8.3M497.5 320h9.2M502.1 315.5v9.2M457 284.7h8.5M461.3 280.4v8.5M466 293.9h10.8M471.3 288.5v10.8M647.1 313.9h10.5M652.3 308.7v10.5M696.2 263.3h10.1M701.2 258.3v10.1M496.2 59.3h8.9M500.6 54.8v8.9M513.1 45.2h8.2M517.2 41.1v8.2M495.9 69.8h10.6M501.2 64.5v10.6M480.6 310.8h9.9M485.6 305.8v9.9M463.4 101.1h9.7M468.3 96.3v9.7M430.3 236h10.3M435.5 230.9v10.3M606 38.8h9.6M610.8 34.1v9.6M710.8 131.6h9.4M715.5 126.9v9.4M712.2 241.8h9.8M717.1 236.9v9.8M461.7 92.6h9.1M466.3 88v9.1M654.2 314.8h10.9M659.6 309.3v10.9M705.8 257.5h8.5M710.1 253.2v8.5M702.6 269.9h8.5M706.9 265.7v8.5M678.1 73.4h8.8M682.5 69v8.8M705.4 250.1h10.4M710.6 244.9v10.4M646 319.4h9.7M650.9 314.5v9.7M660 305.7h8.7M664.3 301.4v8.7M664.7 79.6h9.4M669.4 74.9v9.4M439.5 256.1h8.6M443.9 251.7v8.6M473.9 306.4h9.3M478.6 301.8v9.3M725.1 203.5h8.3M729.2 199.4v8.3M540.6 43.3h9.4M545.3 38.6v9.4M504.5 55.4h9M509 50.9v9M520.7 54.6h8.1M524.7 50.5v8.1M683.2 291.3h8.7M687.5 287v8.7M482.2 68.3h9.4M486.9 63.6v9.4M630.4 326.8h10.4M635.6 321.6v10.4M515.8 51.1h9.2M520.4 46.5v9.2M520.6 325.7h9.1M525.1 321.1v9.1M439.8 243.1h9.2M444.4 238.5v9.2M480.5 313.5h9.7M485.4 308.7v9.7M677.5 299h9.2M682.1 294.3v9.2M661 313.8h10M666 308.8v10M459.8 84.9h9.4M464.5 80.2v9.4M714.5 159h10.1M719.5 154v10.1M710.4 229.4h9.6M715.2 224.6v9.6M654.9 71.1h10.7M660.3 65.8v10.7M641.3 59.7h10.9M646.7 54.2v10.9M589.2 40.9h8.7M593.6 36.5v8.7M541 327h9.9M545.9 322v9.9M697.7 97.9h8.8M702.1 93.5v8.8M447.9 278.1h8.4M452.1 273.9v8.4M634.2 327.5h9.9M639.2 322.6v9.9M686.6 272.4h9.9M691.5 267.5v9.9M544.5 334.4h8.9M548.9 329.9v8.9M691.9 259.1h9.6M696.7 254.3v9.6M504.2 51.5h10.7M509.5 46.2v10.7M694 277.9h8.3M698.2 273.7v8.3M670.8 294.6h9.7M675.7 289.7v9.7M480.7 298.1h9.6M485.5 293.3v9.6M423.5 202.4h9.4M428.3 197.7v9.4M537.9 335.3h8.4M542.1 331.1v8.4M667.6 86.5h8.3M671.8 82.3v8.3M467.7 83h10M472.7 78v10M473.2 86.6h8.1M477.3 82.5v8.1M450.5 93.5h9.4M455.2 88.8v9.4M613.8 329.9h10M618.8 324.9v10M668.7 74.7h9.8M673.6 69.8v9.8M489.7 304.9h10M494.7 299.9v10M709.8 236.4h10.2M714.9 231.3v10.2M489.3 70.3h10.5M494.6 65.1v10.5M693 280.9h8.6M697.2 276.6v8.6M466.3 299.2h10.2M471.4 294.2v10.2M674.3 78.7h10.7M679.7 73.4v10.7M716.1 133.3h8.8M720.4 128.9v8.8M716.2 232.2h10.4M721.4 227.1v10.4M682.5 84.9h10.6M687.8 79.6v10.6M700.3 123.9h9.4M705 119.2v9.4M549.4 334.7h9.5M554.2 329.9v9.5M425.2 147.2h8.5M429.4 142.9v8.5M695.9 114.2h8.9M700.3 109.8v8.9M427.2 214.7h10.2M432.3 209.6v10.2M648.4 58.7h10.5M653.7 53.4v10.5M476.1 294.1h9.4M480.8 289.4v9.4M630.2 321h10M635.2 316v10M683.6 277.9h9.4M688.3 273.2v9.4M691.7 97.4h8.4M695.9 93.2v8.4M657.3 308.9h9.9M662.3 304v9.9M467.1 91.1h8.5M471.3 86.8v8.5M710.9 125h8.8M715.3 120.6v8.8M676.2 86.6h10.4M681.4 81.4v10.4M514.5 318.2h8.5M518.7 313.9v8.5M433.9 153.1h10.3M439 147.9v10.3M527.7 332.7h10.8M533.1 327.3v10.8M718.1 192.7h10.6M723.4 187.4v10.6M486.3 64h8.8M490.7 59.6v8.8M670 69.1h10.7M675.4 63.8v10.7M466.2 77.9h10.8M471.6 72.5v10.8M419.9 169.4h10.5M425.1 164.2v10.5M446.1 258h10.6M451.4 252.7v10.6M685.4 97.9h8.5M689.7 93.7v8.5" stroke="#ffff00" stroke-width="1.05" fill="none" stroke-opacity="0.95"/>
<path d="M676.1 104.3h10.6M681.5 99v10.6M522.8 312.1h8.8M527.2 307.7v8.8M548 54.7h8.9M552.5 50.2v8.9M497 299.4h10.2M502.1 294.3v10.2M685.8 111h10.2M690.9 106v10.2M458.4 261.1h8.2M462.5 257v8.2M511.9 310.2h10.8M517.3 304.8v10.8M658.7 292.6h10.9M664.1 287.2v10.9M606.7 320.5h9.6M611.5 315.7v9.6M550.5 48.6h8.9M554.9 44.1v8.9M434.4 179h10.7M439.8 173.6v10.7M668.3 281.4h10.9M673.7 276v10.9M445.7 241.5h9.4M450.4 236.8v9.4M683.5 270.8h10.7M688.8 265.5v10.7M613.7 54.1h8.5M618 49.9v8.5M687.9 114.5h10.9M693.3 109v10.9M496.2 81.1h8.7M500.6 76.8v8.7M452.4 247.8h10M457.4 242.8v10M438.3 159.9h10.8M443.7 154.5v10.8M694.6 245.4h9.6M699.4 240.6v9.6M575.8 323.8h10.9M581.2 318.4v10.9M471.6 277.7h10.4M476.8 272.5v10.4M701.6 235.7h8.1M705.6 231.7v8.1M430.4 188.8h8.2M434.5 184.7v8.2M591.9 50.4h9.2M596.5 45.8v9.2M450.7 134.4h9.3M455.3 129.8v9.3M462.4 263.9h10.8M467.8 258.5v10.8M523.9 317.8h10.6M529.2 312.5v10.6M558.5 48.5h10.7M563.9 43.1v10.7M553.7 323.7h9.6M558.5 318.9v9.6M582 51.4h9M586.5 46.9v9M707.5 209.4h9.7M712.4 204.5v9.7M572 46.6h8.2M576.1 42.5v8.2M595 49.2h9.9M600 44.2v9.9M470.7 101.2h9.9M475.6 96.2v9.9M707.5 157.5h9.4M712.2 152.9v9.4M545.7 51.7h9.7M550.5 46.9v9.7M505 304.4h10.2M510.1 299.3v10.2M432.1 171.7h8.6M436.4 167.4v8.6M433.7 166.6h10.8M439.1 161.2v10.8M450.7 250.4h9M455.3 245.9v9M712.3 192.4h10.5M717.6 187.1v10.5M467.6 98.3h9M472.1 93.8v9M607.6 59.3h10.4M612.8 54.1v10.4M679.3 270.1h8.7M683.7 265.7v8.7M615 319.5h10.7M620.3 314.1v10.7M662.5 89.2h10.1M667.6 84.2v10.1M702.1 140.2h9M706.6 135.7v9M440.9 236.5h9.2M445.5 231.9v9.2M690.8 125.8h9M695.3 121.3v9M514.7 66h8.9M519.2 61.5v8.9M671 276.1h9.7M675.8 271.3v9.7M622.6 316.1h9.4M627.3 311.4v9.4M446.7 250.6h10.4M451.9 245.4v10.4M669.3 89.4h9.5M674 84.7v9.5M713.7 186.5h8.9M718.1 182.1v8.9M564.8 51.4h8.5M569.1 47.1v8.5M594.6 327.5h9.8M599.5 322.6v9.8M545.5 321.6h10.1M550.6 316.6v10.1M569.3 322.9h8.6M573.6 318.6v8.6M617.7 57.1h8.7M622.1 52.8v8.7M539.8 55.5h10.9M545.2 50v10.9M434.5 189.7h9.7M439.4 184.8v9.7M496.8 73.2h8.5M501 68.9v8.5M450.1 237.8h9.8M455 232.9v9.8M567.3 329.2h10.6M572.6 323.9v10.6M434.9 211.1h10.8M440.3 205.7v10.8M505 70.4h9.8M509.9 65.5v9.8M446.5 141.6h8.4M450.8 137.4v8.4M616 315h10.9M621.4 309.5v10.9M534.5 316.6h10.5M539.7 311.4v10.5M457.6 119.2h10M462.6 114.1v10M463.1 110.5h9.3M467.8 105.8v9.3M691.5 120.1h10.9M696.9 114.7v10.9M601.3 55.7h10.6M606.6 50.4v10.6M672.9 99.7h8.7M677.2 95.4v8.7M702.8 219.2h10.6M708.1 213.9v10.6M623.1 61h9.3M627.8 56.4v9.3M651.6 79.3h10.9M657.1 73.9v10.9M641.9 70.6h9.9M646.8 65.6v9.9M704.7 144.4h9.5M709.5 139.7v9.5M583.4 323.8h10.1M588.4 318.7v10.1M611.1 320.6h10.9M616.5 315.2v10.9M693.4 250.1h10.2M698.5 245v10.2M522.9 55.5h10.2M528 50.4v10.2M568.9 49.4h9.7M573.8 44.5v9.7M593.6 54.9h9.4M598.3 50.2v9.4M437.3 155.8h8.1M441.4 151.7v8.1M645.6 300.6h9.1M650.1 296v9.1M448.3 126.3h9.4M453 121.5v9.4M476.4 282.8h8.9M480.9 278.3v8.9M462.6 271.5h9.3M467.3 266.9v9.3M430 181.2h9.2M434.7 176.6v9.2M451.4 123.2h10.8M456.8 117.9v10.8M659.4 87.1h10.7M664.8 81.8v10.7M491.7 298.7h10.7M497.1 293.3v10.7M434.8 199h10.3M439.9 193.8v10.3M458.8 264.6h9.8M463.7 259.7v9.8M664.2 284.3h10M669.2 279.3v10M452.8 253.5h8.9M457.3 249.1v8.9M471.4 95.5h8.2M475.5 91.4v8.2M500.6 302h10M505.6 297.1v10M565.3 323.7h8.6M569.6 319.4v8.6M635.3 309.4h10.7M640.6 304v10.7M441.9 141.8h10.8M447.3 136.4v10.8M618.1 53.8h9.1M622.7 49.2v9.1M516.7 313h9.8M521.6 308.1v9.8M595 323.2h9.5M599.8 318.5v9.5M507.9 65.9h8.3M512.1 61.7v8.3M705.4 168.1h8.5M709.7 163.8v8.5M627.1 308.7h9.2M631.7 304.1v9.2M582.1 327.9h10.1M587.1 322.8v10.1M452.5 118h8.2M456.6 113.9v8.2M527.8 314.5h10.4M533 309.3v10.4M573 53.3h10.5M578.2 48.1v10.5M699.3 144.2h10.6M704.6 138.9v10.6M711 199.9h9.5M715.8 195.2v9.5M647.3 77.7h10.1M652.4 72.6v10.1M461.9 114.4h9.2M466.5 109.8v9.2M609.4 54.5h9.3M614 49.9v9.3M486.1 288.1h8.3M490.2 283.9v8.3M712.9 203.5h9M717.5 198.9v9M646.7 72.4h8.9M651.1 68v8.9M501.7 75.8h8.1M505.8 71.8v8.1M713.5 181.5h10.5M718.7 176.2v10.5M675.6 272.1h8.5M679.8 267.9v8.5M451.3 130h10M456.3 125v10M650.9 299.4h9.3M655.5 294.7v9.3M435 175.2h10.3M440.2 170v10.3M689.4 256.2h10.4M694.7 251v10.4M480.9 85.3h9.5M485.6 80.5v9.5M710 171h10.6M715.3 165.7v10.6M704.3 213.6h10M709.3 208.6v10M490.2 79.1h9.4M494.9 74.4v9.4M696.5 131.1h8.2M700.6 127v8.2M509.8 305.2h10.3M515 300v10.3M439.8 139.8h9.4M444.5 135v9.4M635.6 67.2h8.4M639.8 63v8.4M681.1 265.3h10.9M686.6 259.8v10.9M706.8 193.2h8.6M711 188.9v8.6M430.6 199.4h8.4M434.8 195.2v8.4M437.6 170.1h9.2M442.2 165.5v9.2M654.9 296.3h8.9M659.3 291.8v8.9M511.8 67.9h8.5M516 63.6v8.5M489 82.3h8.2M493.1 78.2v8.2M686.8 263.3h8.5M691.1 259.1v8.5M552.9 327.6h9.2M557.4 323v9.2M629.5 313.6h10.8M634.9 308.2v10.8M448.2 246.8h8.6M452.5 242.5v8.6M655.5 80.5h10.1M660.6 75.4v10.1M581.9 47.2h8.6M586.2 42.9v8.6M674.4 276.6h10.4M679.6 271.4v10.4M623.7 312.6h8.8M628.1 308.2v8.8M532.4 54.2h10.7M537.7 48.9v10.7M479.1 90.5h10M484.1 85.5v10M438.4 197h10.4M443.6 191.8v10.4M588.2 325.4h9.3M592.8 320.8v9.3M435.5 185.7h8.8M439.9 181.2v8.8M441 152.8h10.7M446.3 147.5v10.7M557.9 330h8.8M562.3 325.7v8.8M668.6 95.4h8.3M672.8 91.3v8.3M549.5 325.9h9.4M554.2 321.2v9.4M467.2 271.4h8.6M471.5 267.1v8.6M709.9 167.8h9M714.4 163.3v9M520.7 60.6h10.8M526.1 55.1v10.8M604.3 52.9h9.7M609.2 48.1v9.7M431.4 164.7h9.8M436.3 159.7v9.8M641 306.5h9M645.5 302v9M531.7 321.6h8.2M535.8 317.5v8.2M627.5 61.1h8.8M631.9 56.7v8.8M699.1 230.1h9M703.6 225.6v9M703.8 223.5h8.5M708 219.2v8.5M698.1 233.5h9.4M702.8 228.9v9.4M446.2 233.5h10M451.2 228.5v10M565.3 46.1h8.5M569.6 41.9v8.5M713.4 171.8h10.4M718.6 166.6v10.4M715.5 178.3h8.6M719.8 174v8.6M711.3 209.6h10.2M716.4 204.5v10.2M436.3 220.4h10.7M441.7 215v10.7M440 224.6h8.7M444.3 220.3v8.7M662.3 289.5h9.4M667 284.8v9.4M554 49.5h10.2M559.1 44.4v10.2M708.4 186h10.9M713.8 180.6v10.9M702.8 147.9h10M707.8 142.9v10M708 220.5h9.2M712.6 215.8v9.2M478.1 279.8h9.7M483 275v9.7M439.5 228.3h9.2M444.1 223.7v9.2M543.6 324.2h8.4M547.8 320v8.4M433.2 203.7h10.5M438.5 198.5v10.5M486.5 79.1h8.1M490.5 75v8.1M500.3 69.4h9M504.7 64.9v9M485.9 292h10.5M491.2 286.8v10.5M552.1 54.2h10.7M557.5 48.9v10.7M699.2 135.6h10.8M704.6 130.2v10.8M704.4 232.4h8.3M708.5 228.2v8.3M527.1 59.1h9.4M531.8 54.4v9.4M704.7 152.6h8.9M709.1 148.1v8.9M708.5 215.8h9M713 211.3v9M707.2 175.9h10.5M712.4 170.7v10.5M711.4 179.6h8.7M715.7 175.2v8.7M435.4 159.7h9.7M440.3 154.9v9.7M598.2 52.1h10M603.3 47.1v10M467.2 101.7h8.8M471.6 97.3v8.8M504.7 308.2h8.1M508.7 304.1v8.1M448.2 130.3h8.6M452.5 126v8.6M659.6 82.5h8.5M663.9 78.2v8.5M455.2 121.3h8.8M459.6 116.8v8.8M572.8 325.8h8.2M576.9 321.7v8.2M709.8 162.9h10.2M714.9 157.8v10.2M444 137.7h9.7M448.8 132.8v9.7M556.8 324.8h10.5M562 319.6v10.5M430.1 168.3h10.2M435.2 163.2v10.2M433.3 214.7h8.5M437.6 210.5v8.5M591.2 322.1h8.7M595.5 317.7v8.7M641.5 302.4h9.8M646.4 297.5v9.8M599.9 319.8h9M604.4 315.2v9M520.5 316.6h9.7M525.4 311.7v9.7M467.5 278.2h8.5M471.7 274v8.5M494.4 76.6h10M499.4 71.6v10M518.8 59h8.2M522.9 54.9v8.2M486.2 295.7h9.5M491 290.9v9.5M707 182.7h10M712 177.8v10M441.5 145.4h8.2M445.6 141.3v8.2M461.6 104.5h10.8M467.1 99.1v10.8M582.5 43.8h9.6M587.4 39v9.6M698.8 241.8h9.8M703.7 237v9.8M476.3 94.5h8.8M480.7 90.1v8.8M529.1 53.8h10.4M534.3 48.6v10.4M437.6 214.2h8.4M441.8 210v8.4M598.1 325.8h8.9M602.5 321.4v8.9M518.5 63.8h10.3M523.7 58.7v10.3M540.3 322.1h9.3M545 317.4v9.3M677.8 273.9h10.6M683.1 268.6v10.6M689.3 261.5h10.7M694.7 256.1v10.7M491.1 75h9.8M496 70.1v9.8M709.9 205.4h9.4M714.6 200.7v9.4M672.7 95.6h10.7M678.1 90.3v10.7M489 86h10.3M494.1 80.8v10.3M638.3 69.9h10M643.3 64.9v10M535.6 320.5h9.1M540.2 315.9v9.1M677.9 99.7h8.6M682.2 95.4v8.6M577.6 328.1h10.2M582.7 323v10.2M537.2 53.2h9.9M542.1 48.3v9.9M684.8 114.4h10M689.8 109.5v10M463 267.9h8.5M467.3 263.7v8.5M645 304.4h10.5M650.3 299.2v10.5M715.8 174.6h8.9M720.2 170.2v8.9M481.2 286.6h9.3M485.8 281.9v9.3M458 111.7h8.7M462.4 107.3v8.7M710.2 189h10.8M715.6 183.6v10.8M455.6 256.4h10.2M460.7 251.3v10.2M629.7 310h10.3M634.9 304.8v10.3M442 220.5h8.1M446.1 216.4v8.1M441.7 233.3h10.5M447 228v10.5M435 163h9.3M439.6 158.3v9.3M432.9 181.9h10.1M437.9 176.9v10.1M574.5 49.7h9.1M579 45.1v9.1M620.5 58h9.8M625.4 53.1v9.8M433.5 194.2h8.2M437.6 190.1v8.2M681 104.7h8.8M685.4 100.3v8.8M435 207.2h9M439.5 202.7v9M439.9 149.5h9M444.4 145v9M706 230.7h10.9M711.4 225.3v10.9M712.9 197.1h10.3M718 191.9v10.3M707.4 163.2h8.1M711.5 159.1v8.1M577.5 49.3h10.4M582.7 44.1v10.4M443.8 237.2h10.4M449 232v10.4M482.1 290.2h9M486.6 285.6v9M531.1 317.7h9.1M535.7 313.1v9.1M693.4 123.4h9.9M698.3 118.5v9.9M706.6 223.8h9.6M711.4 219v9.6M586.2 48.8h8.3M590.3 44.7v8.3M658.1 296.3h9.8M663 291.4v9.8M710.9 175.6h9.9M715.9 170.6v9.9M516 62.5h9M520.5 58v9M711.8 213.9h9.9M716.8 208.9v9.9M436 223.6h10M441 218.6v10M474.7 276h10.6M480 270.7v10.6M547.4 48.1h8.3M551.5 44v8.3M485.1 83.6h8.3M489.3 79.4v8.3M666 290.7h8.8M670.4 286.3v8.8M618.9 61.7h10.1M623.9 56.7v10.1M672.4 279.3h10M677.4 274.3v10M684 260.4h9.8M688.9 255.5v9.8M508.4 308.1h10M513.3 303.1v10M447.4 136.7h9.8M452.2 131.8v9.8M448.3 243.4h10.1M453.3 238.4v10.1M511.3 63.6h9.7M516.1 58.8v9.7M503.2 67.2h10.7M508.6 61.9v10.7M710.1 193.9h9M714.6 189.4v9M690.1 252.7h10.3M695.2 247.5v10.3M457.5 115.5h10.7M462.8 110.2v10.7M711 183h9M715.5 178.5v9M561.4 324.8h8.5M565.6 320.5v8.5M460 258.7h10M465 253.7v10M626.6 312.3h10.4M631.8 307.1v10.4M431 178.2h10M436 173.2v10M624.8 57.4h10M629.8 52.4v10M452.8 258.9h9.7M457.6 254.1v9.7M697.7 238.5h10.7M703.1 233.1v10.7" stroke="#b2ff00" stroke-width="1.05" fill="none" stroke-opacity="0.9"/>
<path d="M586.2 320.5h10.7M591.5 315.1v10.7M700 169.9h8.8M704.4 165.5v8.8M634 292.3h8.8M638.4 287.9v8.8M448 229.2h9.4M452.7 224.5v9.4M678.2 107.6h10.7M683.6 102.2v10.7M574.1 63.8h7.5M577.9 60v7.5M455 149.4h8.8M459.3 145v8.8M500.8 82.3h8.3M505 78.1v8.3M460.1 232.4h8.8M464.5 228v8.8M625.9 64.4h8.5M630.2 60.1v8.5M667.4 257.3h7M670.9 253.8v7M618.9 306.8h9.5M623.7 302v9.5M476.4 262.1h9.2M481 257.5v9.2M624.6 73.9h8.3M628.8 69.7v8.3M670.3 269.8h10.2M675.4 264.7v10.2M576.8 315.8h8.5M581 311.5v8.5M675.8 256.8h7.9M679.7 252.9v7.9M443 164.6h9.3M447.7 160v9.3M521.5 77.5h9M526 73v9M625.4 297.7h8.4M629.5 293.5v8.4M442.8 227.8h10.6M448.1 222.5v10.6M451.6 166.9h7.2M455.2 163.3v7.2M688.6 141.5h9.3M693.2 136.8v9.3M658.9 277.9h9.4M663.6 273.2v9.4M645.8 296.5h8.9M650.3 292v8.9M695.3 237.5h8.4M699.6 233.2v8.4M693.6 211.9h7.2M697.2 208.3v7.2M669.6 110h9.5M674.4 105.2v9.5M486 104.8h7.6M489.8 101v7.6M568.8 56.5h8.5M573 52.3v8.5M690.8 154.7h7.6M694.5 150.9v7.6M442.9 191.4h9.8M447.8 186.5v9.8M521.6 301.8h9.8M526.4 296.9v9.8M464.2 259.8h8.9M468.6 255.3v8.9M559.8 320.2h8.9M564.2 315.8v8.9M642.4 88.5h8.7M646.7 84.2v8.7M585.2 52.5h10.4M590.4 47.2v10.4M694.1 226h9.1M698.7 221.4v9.1M702.8 209.5h8M706.8 205.5v8M459.5 141.1h7.4M463.2 137.3v7.4M652.4 284.6h8.1M656.5 280.5v8.1M688.8 240.3h10.3M693.9 235.2v10.3M689.8 236.5h7.6M693.6 232.7v7.6M556.6 312.7h7.8M560.6 308.8v7.8M460 124h9.4M464.7 119.3v9.4M684.2 131.1h8.9M688.6 126.7v8.9M487.8 270.9h8.4M492 266.7v8.4M689.3 146.1h7.8M693.2 142.2v7.8M685.8 126.5h7.9M689.7 122.5v7.9M653.1 85.5h8.1M657.2 81.5v8.1M461.9 129.2h8.3M466.1 125v8.3M701.2 187.7h8M705.2 183.7v8M454.9 235.6h8.6M459.2 231.3v8.6M465.5 120.7h8.4M469.7 116.5v8.4M455.8 231.8h9.4M460.5 227.1v9.4M638.3 80.8h8.3M642.4 76.6v8.3M461.6 236.6h7.5M465.4 232.9v7.5M468.5 266.1h8.3M472.7 261.9v8.3M694.7 178.8h9.1M699.3 174.2v9.1M675.8 266.2h8.8M680.2 261.8v8.8M541.9 319h10.7M547.2 313.6v10.7M436.9 194h8.3M441.1 189.8v8.3M695.1 143.4h10.2M700.2 138.3v10.2M697.5 224.3h10.3M702.6 219.1v10.3M476.6 98.1h8.1M480.7 94v8.1M454.9 136h8.3M459 131.9v8.3M656.6 288.6h9.8M661.5 283.7v9.8M488 89.8h10.2M493.1 84.6v10.2M677.8 131.4h8.4M682 127.2v8.4M542 314.4h10.1M547.1 309.4v10.1M700.6 151.5h8.2M704.7 147.4v8.2M460.2 225.2h6.7M463.5 221.9v6.7M519.6 73.5h8.3M523.7 69.3v8.3M494.3 84.9h8M498.2 80.9v8M648.2 278.7h8.4M652.4 274.5v8.4M529.7 63.8h9.2M534.3 59.2v9.2M629.2 66.9h8.5M633.5 62.7v8.5M450.5 205.5h7.9M454.5 201.6v7.9M461.9 245.4h9.6M466.7 240.6v9.6M685.7 135.7h8.4M689.9 131.5v8.4M631.1 71h9M635.6 66.5v9M470.5 110.9h9.2M475.1 106.3v9.2M440.5 214.7h10.1M445.6 209.6v10.1M499.8 284.2h8M503.8 280.2v8M499 87.9h8M503 83.9v8M654.9 275.8h9.3M659.6 271.2v9.3M694 157.1h9.5M698.7 152.3v9.5M636 73.2h10.2M641.1 68.1v10.2M456 246.8h10.2M461.1 241.7v10.2M601.9 68.2h8.5M606.2 64v8.5M664.6 261.1h8.4M668.7 256.9v8.4M465.9 125h7.7M469.7 121.1v7.7M473.5 271.6h9.4M478.2 266.8v9.4M578.8 64.1h7.8M582.7 60.2v7.8M470.6 250.5h8.9M475 246.1v8.9M471.5 268.6h8M475.5 264.6v8M690.6 224.1h8M694.6 220.1v8M497.8 95.4h7M501.3 91.9v7M478.3 109.5h9M482.8 105v9M694.9 241.9h8.1M699 237.8v8.1M641.9 296h8.8M646.3 291.6v8.8M444.3 223.1h9.7M449.1 218.2v9.7M535 67.1h7.3M538.7 63.4v7.3M508.7 84.7h7.7M512.5 80.9v7.7M694.4 162.5h9.3M699 157.9v9.3M480.6 265h7.1M484.1 261.4v7.1M544.4 67.4h8.6M548.7 63.1v8.6M693.1 146.7h9.8M698 141.8v9.8M648.2 288.5h9.7M653.1 283.7v9.7M529.2 306.2h8.4M533.4 302v8.4M515.7 74.2h7.9M519.6 70.2v7.9M696.2 201.8h9.5M701 197.1v9.5M652.1 94.9h8.2M656.2 90.9v8.2M552.6 58h9M557.1 53.5v9M515.3 292.2h7.1M518.8 288.7v7.1M544.1 310.4h9M548.6 305.9v9M506.4 298h10.4M511.6 292.8v10.4M681.6 253h8.3M685.8 248.8v8.3M506.6 75.9h10.1M511.6 70.8v10.1M690.3 129.8h10.7M695.7 124.4v10.7M492.3 97.3h9.1M496.9 92.8v9.1M445.5 150.8h9.2M450.1 146.2v9.2M662.7 97.3h9M667.2 92.8v9M482.3 98.4h7.8M486.2 94.5v7.8M700 177.3h7.3M703.6 173.7v7.3M692.2 232.6h10.2M697.3 227.5v10.2M549.2 66h7.2M552.9 62.4v7.2M620.5 65.9h7.9M624.5 62v7.9M599.8 312h9.2M604.4 307.4v9.2M664.9 276.5h9.9M669.8 271.6v9.9M456.7 127.5h7.9M460.6 123.6v7.9M483.5 275.5h9.3M488.1 270.9v9.3M638.4 290.2h8.4M642.6 286v8.4M540.4 308.7h7.4M544.1 305v7.4M557.5 60.2h9.2M562.1 55.6v9.2M445.9 207.9h7.8M449.8 204v7.8M445.4 157h8.3M449.6 152.9v8.3M558.2 56.2h10.5M563.5 51v10.5M448.5 176.9h8.1M452.6 172.8v8.1M616.1 70.3h9.4M620.8 65.6v9.4M530.7 69.7h9.1M535.2 65.2v9.1M696.7 191.4h7M700.2 187.9v7M658.6 270h8.3M662.8 265.8v8.3M531.7 58.4h9.6M536.5 53.6v9.6M705.9 203h8.5M710.1 198.7v8.5M546.7 316.8h8.4M550.9 312.6v8.4M510.1 289.5h9M514.6 285v9M533.2 73.3h7.6M537.1 69.5v7.6M466.6 105.9h9.9M471.6 100.9v9.9M443 201.4h9.3M447.6 196.8v9.3M440.9 181.6h10.1M445.9 176.5v10.1M524.8 74.5h7.3M528.5 70.8v7.3M653.3 291.6h9.2M657.9 287v9.2M487.3 95.5h10M492.3 90.5v10M702.2 191.5h9.8M707.1 186.5v9.8M679.6 256.5h8.5M683.9 252.2v8.5M702.8 200.4h8.1M706.8 196.4v8.1M675.6 124.8h8.8M680 120.4v8.8M483.3 110.9h7.4M487 107.2v7.4M628.9 74.6h9.6M633.7 69.8v9.6M523.5 68.6h8.4M527.8 64.3v8.4M560.3 311.3h8.3M564.5 307.1v8.3M466.8 248.4h7.3M470.5 244.8v7.3M498.1 289.5h9.8M503 284.6v9.8M692.6 135h9.6M697.4 130.1v9.6M544.5 58.6h9.3M549.1 54v9.3M563.3 317.4h9M567.8 312.9v9M600.2 59.3h9.8M605.1 54.4v9.8M543.4 63.7h8.5M547.6 59.5v8.5M646.3 86.9h9M650.8 82.4v9M523.1 64.9h10.4M528.3 59.7v10.4M451.4 212.1h8.8M455.8 207.7v8.8M511.8 297.6h9.9M516.7 292.7v9.9M673.9 118.7h9.7M678.8 113.9v9.7M671.6 116.6h7.6M675.4 112.8v7.6M614.6 310.5h8.1M618.7 306.5v8.1M534.9 311.6h9.3M539.5 306.9v9.3M438.6 164.8h9.8M443.5 159.9v9.8M663.5 272.9h8.8M667.8 268.5v8.8M571.3 318.1h10.2M576.4 313v10.2M491 286.5h8.5M495.3 282.3v8.5M587.4 314.2h8.1M591.4 310.2v8.1M698.5 211.8h8.8M702.9 207.4v8.8M679.7 122.6h9.4M684.5 117.9v9.4M479.9 105.4h8.5M484.2 101.2v8.5M700.2 203.8h8.2M704.3 199.7v8.2M645.1 80.5h10M650 75.5v10M459 240.9h9.6M463.8 236.1v9.6M702.2 158.1h10.3M707.4 152.9v10.3M503 91.4h8M507 87.4v8M703.1 181.4h9.5M707.8 176.6v9.5M698.5 165h9.4M703.2 160.3v9.4M632.6 296.7h9.9M637.5 291.8v9.9M587.3 308.9h6.8M590.7 305.5v6.8M511.4 76.2h8.4M515.6 72v8.4M704.7 206.7h10.5M709.9 201.4v10.5M612.6 74.2h8.5M616.9 69.9v8.5M599 305.1h8.7M603.4 300.7v8.7M549.8 310.4h9.3M554.4 305.7v9.3M704.1 177h9.1M708.7 172.4v9.1M703.7 172.7h9.5M708.4 168v9.5M681.1 261h8.4M685.3 256.8v8.4M470.1 274.1h10.7M475.4 268.7v10.7M693.3 152.3h9.2M697.9 147.7v9.2M661.7 102h8.9M666.1 97.5v8.9M491.5 282.1h7.5M495.3 278.3v7.5M655.4 89.9h10.1M660.4 84.8v10.1M660.4 93.6h10.2M665.5 88.5v10.2M620.6 72.8h7.2M624.2 69.2v7.2M686 257.5h9.8M690.9 252.7v9.8M622.8 301.9h9.7M627.7 297.1v9.7M475.8 105.5h8.4M479.9 101.3v8.4M610.3 315.3h9.5M615.1 310.6v9.5M579 311.2h7.5M582.7 307.5v7.5M518.9 79.7h7M522.4 76.2v7M629.6 298.6h8.8M634 294.2v8.8M582.8 62.4h8.3M586.9 58.2v8.3M680.7 128.4h8.2M684.8 124.4v8.2M495 278.3h9.2M499.6 273.7v9.2M444.2 175.1h7.8M448.1 171.2v7.8M518.2 298.4h8.1M522.2 294.4v8.1M453.6 219.1h9.3M458.2 214.5v9.3M657.8 281.9h8M661.8 277.9v8M480.4 94h10.5M485.6 88.8v10.5M495 91.3h9M499.5 86.8v9M570.1 62.4h7.8M574 58.5v7.8M444.9 196.1h9.1M449.5 191.6v9.1M489.9 290.2h10.6M495.2 284.9v10.6M662.9 107.2h7.6M666.7 103.4v7.6M607.7 306.8h8.7M612 302.5v8.7M667.6 273.6h8.8M672 269.2v8.8M613.7 64.3h9.5M618.4 59.6v9.5M653.6 99.2h7.3M657.2 95.6v7.3M607.3 67.8h8.3M611.5 63.6v8.3M452.8 145.3h9.4M457.5 140.6v9.4M518.4 309.6h8.2M522.5 305.5v8.2M633.5 77.4h7.9M637.5 73.5v7.9M590.5 64.5h8.4M594.7 60.3v8.4M672.4 262.1h9.5M677.2 257.3v9.5M486.1 279h8.2M490.2 274.9v8.2M697.3 195.3h8.2M701.3 191.2v8.2M444 214.1h10.4M449.2 208.9v10.4M526.2 309.9h8.3M530.3 305.8v8.3M605.8 313.8h10.2M610.9 308.7v10.2M688.9 249.3h10.4M694.1 244.1v10.4M500 294.3h10M505 289.3v10M505.8 289h8.1M509.8 285v8.1M439.8 177.3h10.2M444.9 172.2v10.2M452.2 226.9h9.1M456.7 222.3v9.1M676.6 246.8h6.9M680 243.4v6.9M539.6 303.7h6.9M543 300.2v6.9M449.3 158.2h7.8M453.2 154.3v7.8M680.3 117.8h9.8M685.2 112.9v9.8M612.8 69h7.5M616.6 65.3v7.5M496.2 282.3h7.3M499.8 278.7v7.3M460.1 254.4h8.8M464.6 250v8.8M646.1 286h7.3M649.7 282.3v7.3M618.5 301.8h8M622.5 297.8v8M538.3 62.4h8.9M542.7 58v8.9M453.2 242.2h9.3M457.9 237.5v9.3M451.2 194.3h7.2M454.8 190.7v7.2M589.8 57.9h7.9M593.8 54v7.9M466.1 112.3h10.4M471.3 107v10.4M687.9 120.5h9.2M692.5 115.9v9.2M553.6 61.6h9.5M558.3 56.9v9.5M474.1 118.9h9.3M478.7 114.2v9.3M579.4 59.3h7.4M583.1 55.6v7.4M448 169.7h9M452.5 165.2v9M681.7 112.3h9.1M686.3 107.7v9.1M686.9 243.8h8.8M691.3 239.3v8.8M551.9 320.4h8.2M556 316.3v8.2M643.3 292.3h8M647.3 288.4v8M591.7 317.8h8.2M595.8 313.7v8.2M514 300.7h9.6M518.8 295.9v9.6M597.2 66.1h8.2M601.4 62v8.2M628.6 303h7.8M632.4 299.2v7.8M683.6 121h9.6M688.4 116.2v9.6M623.7 68h9M628.2 63.5v9M496.7 286.5h7.8M500.6 282.6v7.8M696.1 206.2h8.1M700.1 202.2v8.1M475.4 115.1h7.3M479.1 111.5v7.3M468.3 255.4h9M472.7 251v9M699.9 161.7h10M704.9 156.7v10M639.7 75.6h10.4M644.9 70.4v10.4M572.7 314.2h7.6M576.5 310.4v7.6M674.2 108.5h9M678.7 103.9v9M634.3 304.6h10.3M639.4 299.5v10.3M698.1 154.6h8.3M702.2 150.5v8.3M582.2 320h9.9M587.2 315v9.9M596.1 58.8h9.3M600.8 54.1v9.3M554.5 318.5h9.7M559.3 313.6v9.7M670.9 265.5h8.5M675.2 261.2v8.5M573.2 57.5h10M578.2 52.5v10M444.3 187.4h8.1M448.3 183.4v8.1M452.6 155h8.3M456.8 150.9v8.3M450.5 222.3h8.8M454.9 217.9v8.8M707 189.3h8.2M711.1 185.2v8.2M504.2 295h10.2M509.3 289.9v10.2M555 65.9h8.5M559.2 61.6v8.5M699 183.1h8.9M703.5 178.6v8.9M583.8 58.4h8.4M588 54.3v8.4M502.5 85.4h9M507 80.9v9M670.7 257.1h8.5M674.9 252.9v8.5M470.9 260.8h8.3M475 256.7v8.3M657.2 98.7h9.8M662.2 93.8v9.8M491.4 293.9h9M495.9 289.4v9M651 90.2h7.9M655 86.3v7.9M595.2 318.1h8.9M599.7 313.7v8.9M452.3 172.7h7.9M456.2 168.7v7.9M651.3 295.2h9.2M655.9 290.6v9.2M539.2 67.4h8.7M543.6 63.1v8.7M474.5 266.2h8M478.5 262.2v8M671.6 105.1h10.2M676.7 100v10.2M658.8 285.3h8.6M663.1 281v8.6M438.6 185.9h10M443.6 180.9v10M699.3 216.3h8.2M703.4 212.2v8.2M684.8 247.4h8.3M688.9 243.3v8.3M674.2 250.6h7.1M677.7 247v7.1M607.8 63.4h8M611.8 59.3v8M673.9 112.4h9.9M678.8 107.5v9.9M452.7 232.8h8M456.7 228.8v8M444.1 146.4h10.6M449.4 141.2v10.6M686.9 254h9.6M691.7 249.2v9.6M451.8 138.7h8M455.8 134.7v8M665.6 100.4h8.3M669.7 96.2v8.3M459 137h9.3M463.7 132.3v9.3M703.1 165.2h8.9M707.6 160.8v8.9M566.3 311.8h8.8M570.8 307.3v8.8M583.3 313h7.5M587.1 309.3v7.5M680.8 244.7h8.3M684.9 240.5v8.3M481.5 283.1h9.6M486.3 278.3v9.6M538.7 71.5h8.6M543 67.2v8.6M597.1 314.3h8.4M601.3 310.1v8.4M690.7 230.1h7.7M694.5 226.2v7.7M496.4 295.5h8.2M500.5 291.4v8.2M615.3 61.1h9.9M620.3 56.2v9.9M514.1 70.1h10.6M519.4 64.8v10.6M470.1 125.3h8.7M474.5 120.9v8.7M450.5 216.1h7.5M454.3 212.4v7.5M696.6 219.6h7.6M700.4 215.8v7.6M448 145.3h10.4M453.2 140.1v10.4M472.9 254.4h7.5M476.7 250.7v7.5M565.8 59.5h9.5M570.6 54.8v9.5M487 99.4h8.6M491.3 95.1v8.6M485.1 91.5h8M489.1 87.5v8M637.9 299.9h8.4M642.1 295.7v8.4M509.1 71.7h10.3M514.3 66.6v10.3M485.4 87.1h9.5M490.1 82.3v9.5M520.7 307h9.7M525.5 302.1v9.7M614.3 304.3h9.6M619.1 299.4v9.6M449.5 152.9h8.4M453.7 148.7v8.4M502.6 298.6h10.4M507.9 293.4v10.4M642.8 281.9h8.1M646.9 277.8v8.1M481.9 269.5h9.3M486.5 264.8v9.3M526.4 302.1h9.1M530.9 297.6v9.1M479 274.7h9.1M483.5 270.1v9.1M603.2 316.1h8.2M607.3 312v8.2M696.9 148.1h9.6M701.7 143.3v9.6M440.1 209.2h8.7M444.5 204.8v8.7M567 317h9.8M571.9 312.1v9.8M578.3 319.1h10.1M583.4 314.1v10.1M706.8 197.1h9.6M711.6 192.3v9.6M561.7 63.2h7.2M565.3 59.6v7.2M539.1 315.5h8.3M543.3 311.4v8.3M543.3 303.5h7.7M547.2 299.7v7.7M508.8 79.9h8.5M513.1 75.6v8.5M436.6 203h10.9M442.1 197.5v10.9M663.4 267.5h9M667.9 262.9v9M512.2 82.3h8.8M516.6 77.9v8.8M530 310.2h9.9M534.9 305.2v9.9M626.4 70.1h9.9M631.4 65.2v9.9M509.1 300.9h10M514.1 295.9v10M652.1 280.9h7.3M655.8 277.3v7.3M700.3 221h8.7M704.7 216.6v8.7M453.5 160.4h7.7M457.4 156.5v7.7M460.4 133.5h9.6M465.2 128.7v9.6M442.2 168.5h9.5M446.9 163.8v9.5M697.8 159.7h8.1M701.8 155.7v8.1M694.5 139.3h8.2M698.6 135.1v8.2M486.9 282.9h9.4M491.6 278.2v9.4M534.4 62.9h8.8M538.7 58.6v8.8M537 306.6h7.2M540.6 303.1v7.2M487.3 274.7h9.5M492.1 269.9v9.5M693.7 215.6h8.4M697.9 211.4v8.4M478 269.3h7.6M481.8 265.5v7.6M558 316h9.6M562.8 311.2v9.6M620.9 298.2h6.9M624.3 294.7v6.9M622.7 307.9h9.2M627.3 303.3v9.2M469.2 114.6h10M474.2 109.5v10M642.2 288.1h7.5M645.9 284.4v7.5M617.5 310.6h9.9M622.5 305.7v9.9M589.4 53.7h9.9M594.4 48.8v9.9M503.7 281.9h6.9M507.1 278.4v6.9M557.7 52.4h8.8M562.1 48v8.8M440.9 205.3h10.1M445.9 200.3v10.1M586.3 61.6h9.4M591 56.9v9.4M599.9 64.1h9.4M604.6 59.4v9.4M443.8 160.2h8.2M447.9 156.1v8.2M679 249.1h9.6M683.8 244.3v9.6M449.4 162h7.5M453.1 158.3v7.5M476.1 101.7h9.2M480.7 97.1v9.2M514.9 305.6h8.4M519.1 301.4v8.4M642.5 82.1h7.7M646.3 78.3v7.7M602.9 308.2h8.5M607.2 303.9v8.5M683.7 238h8.2M687.8 233.9v8.2M700.6 226.7h10.1M705.7 221.6v10.1M471.1 245.8h8.3M475.2 241.6v8.3M526.4 70.7h9.6M531.1 65.9v9.6M608.6 310.9h10.1M613.6 305.9v10.1M484.5 264.2h8M488.6 260.1v8M463.2 250.5h8M467.2 246.5v8M662.9 280.6h9.2M667.5 276v9.2M661.8 112.7h8.3M665.9 108.6v8.3M630.8 305.5h8.5M635.1 301.3v8.5M668.5 104.5h7.8M672.4 100.6v7.8M656.7 102.8h8.4M660.8 98.6v8.4M492.8 88.5h8.6M497.1 84.2v8.6M688.5 151.3h7.2M692.1 147.7v7.2M531.2 302.7h7.5M535 298.9v7.5M637 296.2h8.5M641.2 291.9v8.5M551 315.9h10M556 310.9v10M577.1 55.3h8.7M581.5 50.9v8.7M561.2 59.2h9.7M566.1 54.4v9.7M444.9 219.1h10.3M450.1 213.9v10.3M688.3 133.2h9.9M693.2 128.2v9.9M655.9 94.2h9M660.4 89.7v9M455.9 224.3h7.6M459.7 220.5v7.6M457.4 131.8h8.4M461.6 127.6v8.4M677.7 263h8.4M681.9 258.8v8.4M464.5 239.7h8M468.5 235.7v8M647.8 82.8h10.6M653.1 77.5v10.6M454.4 140.8h9.7M459.2 136v9.7M524.4 298.3h8M528.4 294.2v8M666.5 110.7h8.4M670.7 106.5v8.4M647.2 292.9h7.7M651.1 289v7.7M494.9 290.6h7.9M498.9 286.6v7.9M626.4 78.5h9.5M631.1 73.8v9.5M456.3 250.2h8M460.3 246.2v8M669.2 261.4h7.8M673.1 257.5v7.8M503 79.7h9.4M507.7 75v9.4M445.6 179.7h8.9M450 175.2v8.9M492.6 274.8h9.3M497.3 270.2v9.3M548.8 59.8h7.8M552.8 55.9v7.8M456.9 146h8.8M461.3 141.5v8.8M518.5 67.6h10.4M523.7 62.4v10.4M610 303h8.9M614.4 298.5v8.9M517.9 302.5h9.1M522.5 297.9v9.1M690.4 244.8h8.7M694.8 240.5v8.7M470.3 120.9h9.6M475.1 116.1v9.6M474.8 110.3h8M478.8 106.3v8M590.4 312h9.1M594.9 307.5v9.1M612.9 59.4h8.4M617.1 55.2v8.4M466 128.9h7.9M469.9 125v7.9M437.8 181.9h8.8M442.2 177.6v8.8M663.8 93.2h10.6M669.1 87.9v10.6M637.8 85h8.5M642 80.8v8.5M657.1 85.7h8.3M661.2 81.5v8.3M697.5 139.7h9.8M702.4 134.8v9.8M695.7 135.7h10.3M700.9 130.5v10.3M534.9 59.2h10.5M540.2 53.9v10.5M644.5 75.5h8.1M648.6 71.4v8.1M472.8 107.2h7.9M476.7 103.3v7.9M695.5 166.9h8.9M699.9 162.5v8.9M651.5 276.3h8M655.5 272.3v8M446.9 225.4h10.4M452.1 220.2v10.4M702.6 195.6h9.6M707.4 190.8v9.6M575.2 320h8.9M579.7 315.5v8.9M690.3 137.9h9.7M695.1 133v9.7M448 189.9h7.1M451.6 186.4v7.1M678.4 111.2h8.6M682.7 106.9v8.6M684.5 139.7h8.7M688.9 135.4v8.7M491 278.2h9M495.4 273.7v9M648.4 283.7h8.8M652.8 279.3v8.8M668.8 99.9h9.5M673.5 95.2v9.5M667.3 264.7h7.8M671.2 260.8v7.8M677.7 115.3h8.9M682.1 110.9v8.9M566.3 64.9h7.8M570.2 61v7.8M594.9 62.7h7.5M598.7 58.9v7.5M447 202.3h9.2M451.5 197.8v9.2M474.5 258.7h8.3M478.7 254.5v8.3M681.3 240.8h7.6M685.1 237.1v7.6M604.4 60.3h9.3M609.1 55.7v9.3M686.5 231.7h8.1M690.6 227.7v8.1M468.7 118.1h7.9M472.6 114.1v7.9M564.9 55.5h7.9M568.9 51.6v7.9M499.5 280.4h7.8M503.4 276.5v7.8M440.6 156.9h10.6M445.9 151.6v10.6M439.6 191h9.2M444.1 186.4v9.2M678.1 252.7h7.5M681.8 248.9v7.5M440.2 172.8h10.2M445.3 167.7v10.2M633.6 81.5h8M637.6 77.5v8M447.4 165.3h7.9M451.3 161.4v7.9M507.9 293.5h9.6M512.7 288.7v9.6M682.2 134.3h7.3M685.9 130.7v7.3M450 148.9h9.2M454.7 144.3v9.2M638.7 303.7h8.9M643.1 299.2v8.9M581.2 55.1h9.2M585.8 50.5v9.2M660.1 273.6h8M664.1 269.6v8M703.6 185.2h8.7M708 180.9v8.7M667.2 269.6h8M671.2 265.7v8M632.3 300.9h10.2M637.4 295.8v10.2M611.9 307h8.8M616.3 302.6v8.8M638.9 285h7.1M642.4 281.4v7.1M461.4 117.9h9.7M466.2 113.1v9.7M446.4 184.8h9.5M451.1 180v9.5M459.7 249.1h8.3M463.8 245v8.3M620.5 76.6h9.1M625 72.1v9.1M491.2 92.9h9.9M496.2 87.9v9.9M609.8 65.7h10M614.8 60.7v10M452.9 176.7h6.8M456.3 173.3v6.8M463.3 254h10.2M468.4 248.9v10.2M597.3 309h7.9M601.2 305.1v7.9M466 262.5h10.2M471.1 257.4v10.2M699.7 173.6h9.7M704.6 168.8v9.7M532.5 314h8.4M536.7 309.8v8.4M541.3 59.6h8.3M545.5 55.4v8.3M707.4 171.4h8.6M711.7 167.1v8.6M628.9 294.6h7.2M632.5 291v7.2M699.7 198.2h8.2M703.8 194.1v8.2M606 56.5h8.8M610.3 52.1v8.8M502 287h9.3M506.6 282.3v9.3M498.9 78.7h9.1M503.4 74.1v9.1M649 93.4h7.5M652.8 89.7v7.5" stroke="#00ff00" stroke-width="1.05" fill="none" stroke-opacity="0.88"/>
<path d="M583 70.1h7.2M586.7 66.5v7.2M471 131.4h8M475 127.4v8M664 253.3h6.5M667.2 250v6.5M689.6 186.8h5.9M692.5 183.8v5.9M561.4 67.1h7.8M565.3 63.2v7.8M688.1 167.2h6M691.1 164.2v6M682.4 153h5.5M685.1 150.2v5.5M586.8 67.2h7.7M590.6 63.4v7.7M666 122.5h6.9M669.4 119v6.9M546.6 299.7h6.5M549.9 296.5v6.5M455.5 190.1h6.6M458.8 186.8v6.6M695.3 174.6h8.2M699.4 170.5v8.2M660.6 262.5h8.4M664.7 258.3v8.4M463.9 207.1h5.8M466.8 204.2v5.8M647.7 273.8h6.6M651.1 270.5v6.6M613.2 298.5h7.2M616.8 294.9v7.2M463.3 162.5h5.5M466 159.8v5.5M652.6 103.1h6.7M656 99.8v6.7M528 291.4h5.3M530.6 288.8v5.3M643 95.2h8.1M647 91.2v8.1M506.9 102.2h4.7M509.3 99.9v4.7M458.1 158.9h6.5M461.4 155.7v6.5M560.7 299.2h5.3M563.4 296.6v5.3M496.2 102h7M499.7 98.5v7M464.5 226h6.7M467.9 222.6v6.7M460.5 148.1h8.6M464.8 143.8v8.6M541.5 81.3h4.6M543.7 79v4.6M491.4 110.6h6.4M494.6 107.3v6.4M466.5 155.3h5M469 152.9v5M501 98.2h7.6M504.8 94.3v7.6M507.8 89.9h8M511.8 85.9v8M500.1 274.7h6.2M503.2 271.6v6.2M607.9 296h5M610.4 293.5v5M466.4 146.4h6.1M469.5 143.3v6.1M523.3 86.5h6.5M526.5 83.2v6.5M625.5 291.3h7.9M629.4 287.4v7.9M535.4 300.9h6.7M538.8 297.5v6.7M675 134.2h6.7M678.4 130.9v6.7M647.8 99.6h7.4M651.5 95.9v7.4M465.2 229.9h7.1M468.8 226.4v7.1M640.1 97.6h5.7M643 94.7v5.7M658 111.2h7.5M661.8 107.4v7.5M673.3 239.5h5.5M676.1 236.7v5.5M568.7 306h6.4M571.9 302.8v6.4M615.2 294.2h6.3M618.3 291v6.3M462.7 200.2h5.4M465.3 197.5v5.4M553.4 299.2h6.2M556.5 296.1v6.2M462.3 221.9h6.7M465.6 218.5v6.7M691.5 183.3h6.3M694.6 180.1v6.3M630.4 84h8.3M634.6 79.8v8.3M688.1 202.9h6.2M691.2 199.8v6.2M694.7 185.8h7.1M698.3 182.2v7.1M475.8 247.9h7.5M479.6 244.1v7.5M458.4 212.6h6.5M461.6 209.3v6.5M533.2 78.3h7.7M537 74.5v7.7M466.8 235.9h7.6M470.5 232.1v7.6M451.4 186.6h8.3M455.6 182.5v8.3M684.8 227.6h7M688.3 224.1v7M456.5 172.4h7.2M460.1 168.8v7.2M662.3 117.8h7.4M666 114.1v7.4M502.1 271h6.1M505.2 268v6.1M522.5 81.4h7.9M526.4 77.4v7.9M593.4 302.5h5.8M596.3 299.7v5.8M665.5 114.8h9.1M670 110.2v9.1M520.7 293.9h8.8M525.1 289.5v8.8M609.3 74.2h6.7M612.6 70.9v6.7M465.5 133.2h8.7M469.9 128.9v8.7M685.1 214.9h6M688.1 211.9v6M507.1 93.8h7.9M511 89.9v7.9M465 138.2h8.1M469 134.2v8.1M487.8 266.4h8.6M492.1 262.1v8.6M683.8 143.2h6.8M687.2 139.8v6.8M597.4 72.4h7.4M601.1 68.7v7.4M684.3 147.8h6.9M687.8 144.4v6.9M624.3 85.5h5.4M626.9 82.9v5.4M637.3 89h8.8M641.7 84.6v8.8M455.5 197.1h6.8M458.9 193.7v6.8M475.5 124.4h7.4M479.2 120.7v7.4M563.2 306.7h7.1M566.7 303.1v7.1M548.7 72.6h7.1M552.2 69v7.1M479 257.4h7.2M482.7 253.8v7.2M450.7 199.7h8.3M454.8 195.5v8.3M645.7 92.1h7M649.2 88.6v7M557.8 70.3h7.1M561.4 66.8v7.1M461.1 153.4h6.9M464.6 149.9v6.9M606.2 302.8h7.4M610 299.1v7.4M476.8 251.8h7.2M480.4 248.2v7.2M635.1 287.4h7.1M638.6 283.8v7.1M546.6 305.7h8.6M550.9 301.4v8.6M544.1 75.4h5.7M546.9 72.5v5.7M600 299.7h5.6M602.8 296.9v5.6M590.8 73.3h6.4M594 70.1v6.4M603 74.6h7.5M606.7 70.8v7.5M690.7 193.8h5.9M693.7 190.9v5.9M502.8 277.5h7.3M506.5 273.8v7.3M457 203.4h6.4M460.2 200.2v6.4M693.7 199.4h8.8M698.1 195v8.8M642.6 276.7h5.9M645.5 273.8v5.9M679.2 231.6h5.6M681.9 228.8v5.6M678.4 135.8h7.4M682.1 132.1v7.4M680.5 221.2h5.5M683.3 218.4v5.5M456.3 178.7h7M459.8 175.2v7M682.6 232.7h8.4M686.8 228.5v8.4M678 239.6h6.6M681.3 236.3v6.6M486.6 114.2h6.1M489.7 111.2v6.1M517.8 287h6.2M520.9 283.9v6.2M537.6 296.7h6.7M540.9 293.4v6.7M460.7 195.6h5.1M463.2 193v5.1M692.9 170.9h8.1M696.9 166.9v8.1M459 206.6h7M462.5 203.1v7M581.8 74.4h5.6M584.6 71.6v5.6M670.9 245.5h6.9M674.4 242v6.9M625 286.8h4.8M627.4 284.4v4.8M483 258.9h6.9M486.4 255.5v6.9M527.9 80.6h7.2M531.5 77v7.2M449.4 181.6h7.6M453.2 177.9v7.6M684.1 163.8h5.2M686.7 161.2v5.2M646.3 105.6h4.7M648.6 103.3v4.7M637.4 281.1h5.6M640.2 278.3v5.6M661.7 258.3h7.2M665.3 254.7v7.2M590.1 299.1h5M592.6 296.7v5M615.7 78.1h6.8M619.2 74.7v6.8M593.2 308.2h8.3M597.3 304.1v8.3M496.7 268.8h6.2M499.8 265.6v6.2M692.4 167.2h7.2M696 163.6v7.2M482.4 118.8h7.1M486 115.2v7.1M686.8 177.3h6.2M689.9 174.1v6.2M551.7 303.4h6.3M554.8 300.3v6.3M685.3 222h6M688.3 219v6M460.1 186.7h5.2M462.6 184.1v5.2M511.1 285h6.3M514.3 281.8v6.3M532.6 294.2h5.8M535.5 291.3v5.8M621.9 293.2h5.9M624.8 290.2v5.9M528.9 296.7h6.9M532.3 293.3v6.9M630 290.6h6.9M633.4 287.2v6.9M578.1 68.6h6.7M581.5 65.2v6.7M491.6 269.9h8.4M495.8 265.7v8.4M577.3 306.2h7M580.9 302.7v7M687.8 156.9h6.9M691.2 153.5v6.9M587.7 303.8h7.2M591.4 300.2v7.2M511.5 93.7h6.9M515 90.2v6.9M680.8 145.9h5.5M683.5 143.2v5.5M678.5 141.5h6.3M681.7 138.4v6.3M680.3 227.9h6.3M683.4 224.7v6.3M538.2 77.4h6.6M541.5 74.2v6.6M518 84.3h8.2M522.1 80.2v8.2M624 80.9h7.9M627.9 76.9v7.9M518.8 88.6h6.5M522 85.3v6.5M476.4 133.7h5.5M479.1 131v5.5M505.8 97.5h6.3M508.9 94.4v6.3M683.3 159.7h5M685.8 157.2v5M489 118.7h4.9M491.5 116.3v4.9M630.3 286.2h6.6M633.6 282.9v6.6M689.6 207.5h6.3M692.8 204.3v6.3M487.7 257.4h5.4M490.4 254.7v5.4M565.3 71.1h6.2M568.4 68v6.2M468.8 241h7M472.2 237.6v7M515 86.6h6.5M518.2 83.3v6.5M690.6 217.9h6.9M694 214.5v6.9M506.1 284.3h8.2M510.1 280.2v8.2M493.7 106h7.7M497.5 102.1v7.7M456.5 154.4h8.9M460.9 149.9v8.9M670.5 122.1h8.7M674.9 117.8v8.7M490.4 262.2h6.3M493.5 259.1v6.3M651.1 272.3h8.5M655.3 268.1v8.5M457.4 166.2h6.5M460.7 163v6.5M553.5 71.9h7.1M557 68.3v7.1M689.3 212.5h8M693.3 208.5v8M454.3 208h8M458.3 204v8M687.7 161.3h7.2M691.3 157.6v7.2M555.7 306.9h7.5M559.5 303.2v7.5M570.2 71.5h5.7M573.1 68.6v5.7M636.6 95.2h5.3M639.2 92.6v5.3M667.6 251.8h7.1M671.1 248.3v7.1M693.5 204h6.7M696.9 200.6v6.7M454.1 182.4h8M458.1 178.4v8M573.7 75.1h5M576.2 72.6v5M574.3 309.9h8.5M578.6 305.7v8.5M690.5 199.2h6.5M693.7 196v6.5M469.7 141.3h6.1M472.7 138.3v6.1M594.3 68.6h7.1M597.8 65v7.1M509.1 280h7.2M512.7 276.4v7.2M620.6 80.3h6.3M623.8 77.2v6.3M461.1 215.6h6.2M464.2 212.5v6.2M680.7 236.8h6.9M684.2 233.4v6.9M688.4 171.6h5.6M691.2 168.8v5.6M634.3 87.8h6.5M637.6 84.6v6.5M470.5 135.2h6.3M473.7 132v6.3M516.1 282.9h5.5M518.8 280.1v5.5M582.6 305.1h7M586.1 301.6v7M675 242.9h6.2M678.1 239.8v6.2M654.4 265h5.4M657.1 262.3v5.4M659.6 266.4h9M664.1 261.9v9M479.1 127.5h5.7M481.9 124.6v5.7M669.9 128.7h6.9M673.3 125.3v6.9M494.3 265.7h5.7M497.2 262.9v5.7M490 104.5h7.3M493.7 100.9v7.3M657.9 106.7h7.9M661.8 102.8v7.9M650.2 269h5.3M652.9 266.3v5.3M690.8 158.7h8M694.8 154.7v8M653 107.2h6.1M656 104.1v6.1M690.7 175.8h7.3M694.3 172.2v7.3M543.1 296.5h5.6M545.8 293.7v5.6M472.7 238.5h6.3M475.8 235.4v6.3M506.6 273.3h5.5M509.3 270.5v5.5M681.5 138.8h7.1M685.1 135.2v7.1M529.2 75.3h8.4M533.4 71.1v8.4M522.4 289.6h6M525.4 286.6v6M655.7 271.3h6.9M659.2 267.9v6.9M484.8 254.8h5.2M487.4 252.2v5.2M692.9 189.6h7.7M696.8 185.8v7.7M492.4 116h5.8M495.3 113.1v5.8M486.7 109.2h8.3M490.9 105v8.3M580.3 301.5h5.2M582.8 298.9v5.2M463.2 142.9h7.1M466.7 139.3v7.1M667.4 118.8h6.7M670.7 115.4v6.7M672.4 126.3h8.1M676.4 122.3v8.1M464.7 217.4h6.3M467.9 214.3v6.3M570.4 67h7.2M574 63.4v7.2M461.7 157.7h6.8M465.1 154.3v6.8M644.2 100.3h6.7M647.6 97v6.7M479.4 115.7h8.3M483.6 111.6v8.3M573.5 304.5h5.8M576.4 301.6v5.8M458.1 219.3h7.9M462 215.3v7.9M640.3 92.3h8.2M644.4 88.2v8.2M474.7 128h6.5M478 124.8v6.5M479.8 123.1h6.1M482.9 120v6.1M627.8 86.9h6.3M631 83.8v6.3M609.7 78.8h6.2M612.8 75.7v6.2M674.2 130h7.9M678.1 126.1v7.9M659.6 115.6h6.2M662.7 112.5v6.2M692.9 195.6h8.4M697.2 191.4v8.4M460.3 169.7h5.4M463 167v5.4M648.5 103.6h7.2M652 100v7.2M471.8 234.5h5.1M474.3 231.9v5.1M677.5 235.3h5.4M680.2 232.6v5.4M691.2 163.6h6.9M694.7 160.1v6.9M512 89.6h7.7M515.9 85.8v7.7M617.1 82.6h5.2M619.6 80v5.2M688.5 221.2h7M692.1 217.7v7M604.9 71h8.3M609.1 66.8v8.3" stroke="#00ffb2" stroke-width="1.05" fill="none" stroke-opacity="0.88"/>
<path d="M619.9 86.5h4.8M622.3 84.1v4.8M598.3 289.3h3.9M600.2 287.4v3.9M584.2 82.6h4.1M586.3 80.5v4.1M590.2 286.9h1.5M591 286.1v1.5M480.2 245h5.6M483 242.2v5.6M471.7 171.4h3.1M473.3 169.8v3.1M663.3 242.6h3.4M665.1 240.8v3.4M550 288h3.1M551.6 286.5v3.1M497 117h4.9M499.4 114.6v4.9M677 220.2h4.6M679.2 217.9v4.6M645.6 269.5h5.4M648.3 266.8v5.4M557.8 83.7h4M559.8 81.7v4M677.6 211.5h3.4M679.3 209.8v3.4M669.8 230.8h3.9M671.7 228.8v3.9M529.9 93.9h4M531.9 91.8v4M466.8 203.4h4.4M469 201.2v4.4M664 136h3.5M665.8 134.2v3.5M637.2 110h2.4M638.4 108.8v2.4M648 265.6h4.6M650.3 263.3v4.6M678.7 200.5h3M680.2 199v3M482.3 151.6h2.5M483.6 150.4v2.5M686 196.5h5.6M688.9 193.7v5.6M514.8 278.4h5.5M517.5 275.6v5.5M486.3 142.3h2.7M487.6 141v2.7M675.9 171.7h2.1M676.9 170.6v2.1M666.2 147.3h1.7M667.1 146.4v1.7M607.4 85.7h4.8M609.8 83.3v4.8M673.5 137.9h4.6M675.8 135.6v4.6M658.2 248.7h3.6M660 246.9v3.6M517.4 102.2h4M519.4 100.2v4M502.1 103.9h5.9M505 101v5.9M656.2 258.5h5.7M659 255.6v5.7M601 91h2M602 90v2M577.4 79.8h4.7M579.7 77.5v4.7M508.6 111.6h3.9M510.5 109.6v3.9M547 292.2h3.9M549 290.2v3.9M659 133.7h1.9M659.9 132.7v1.9M503.1 116.3h3.6M504.9 114.5v3.6M672.7 235.2h5.7M675.5 232.3v5.7M605.8 79.8h5.4M608.4 77.1v5.4M492.7 254.6h4.8M495.1 252.2v4.8M638 275.2h4.5M640.3 272.9v4.5M672.3 150.7h3.3M673.9 149.1v3.3M462.9 192.3h5.1M465.5 189.8v5.1M469.6 209.6h4.5M471.9 207.3v4.5M512.9 99.8h4.3M515 97.7v4.3M576.4 294h3.4M578.1 292.3v3.4M469.1 219.5h5.3M471.8 216.9v5.3M474.9 221.1h3.6M476.7 219.3v3.6M568.3 78.1h4.7M570.6 75.7v4.7M483.2 126.3h5.4M485.9 123.6v5.4M682.7 174.8h4.3M684.8 172.7v4.3M648.2 115.3h3.9M650.1 113.4v3.9M525.1 279.2h4M527.1 277.2v4M474.5 203h2.8M475.9 201.7v2.8M505 264h4.5M507.3 261.8v4.5M685.8 181.6h5.3M688.4 178.9v5.3M502.4 258.2h3.2M504 256.6v3.2M649.9 121.6h3M651.4 120.1v3M483.7 234.7h3.9M485.6 232.8v3.9M595.4 76.8h4.8M597.8 74.4v4.8M626.8 90.7h5.8M629.7 87.8v5.8M472.7 147.2h4.7M475.1 144.8v4.7M642.8 108.1h4.1M644.8 106v4.1M656.7 129.2h2.5M658 127.9v2.5M560.5 292.8h4M562.5 290.8v4M555.1 293.3h3.8M557 291.4v3.8M607 285.8h3.1M608.6 284.3v3.1M683.4 186.6h4.1M685.5 184.5v4.1M465.7 212.6h5.5M468.5 209.8v5.5M498.6 108.9h6M501.6 105.9v6M654.6 111.3h6.2M657.7 108.2v6.2M535.2 87h5.3M537.8 84.4v5.3M520.1 279.7h4.6M522.4 277.4v4.6M639.1 266.6h3.5M640.9 264.9v3.5M651.1 252.3h2.2M652.2 251.2v2.2M615.3 91.9h3.4M617 90.1v3.4M463.7 177.9h4.9M466.1 175.5v4.9M642.2 102.7h4.4M644.4 100.5v4.4M681.6 192.7h3.7M683.5 190.9v3.7M540.3 282.5h2.7M541.7 281.2v2.7M665.5 236.8h3.8M667.4 234.9v3.8M545.2 86.7h4.2M547.3 84.6v4.2M554.9 79.5h4.3M557 77.4v4.3M677.7 155.6h4.8M680.1 153.2v4.8M486.7 137h3.1M488.3 135.4v3.1M467.3 186.1h4.7M469.6 183.8v4.7M588.6 291.8h3.2M590.2 290.2v3.2M535.8 291h5.1M538.4 288.4v5.1M655.3 122.7h4.3M657.4 120.6v4.3M668.2 133.1h4.5M670.4 130.9v4.5M473.3 230.8h4.7M475.7 228.4v4.7M581.5 292.7h3.4M583.2 291v3.4M559.9 79.2h5M562.4 76.7v5M684.9 209.7h6M687.9 206.7v6M542.2 92.1h2.8M543.6 90.8v2.8M488.5 239.6h3.7M490.3 237.8v3.7M468.2 191.8h3.7M470.1 189.9v3.7M594.8 88.7h1.9M595.8 87.8v1.9M496.4 259.8h4.2M498.5 257.7v4.2M474.6 162.9h3.4M476.3 161.2v3.4M603.6 292.1h3.8M605.5 290.2v3.8M673.5 143.9h5.1M676.1 141.3v5.1M628.4 282.8h5.2M631 280.2v5.2M619.8 93.7h3.9M621.7 91.7v3.9M482.5 133.6h4.5M484.7 131.4v4.5M516.7 271.1h4M518.7 269.1v4M470.2 178.4h3.6M472 176.6v3.6M515.2 107.3h3.5M516.9 105.6v3.5M474.8 141.9h4.6M477.1 139.6v4.6M488.1 249.3h4M490 247.3v4M633.3 100.3h4.1M635.4 98.2v4.1M475.8 241.3h6.2M478.9 238.2v6.2M661.2 125.3h4.9M663.7 122.9v4.9M652.4 260.4h4.4M654.6 258.2v4.4M678 206.8h3.8M679.9 204.9v3.8M575.7 299.9h5.2M578.3 297.3v5.2M622.6 281h3.5M624.3 279.2v3.5M645.3 258.7h2.4M646.5 257.5v2.4M573.1 82.4h3.7M574.9 80.6v3.7M678.2 161.6h4.5M680.5 159.3v4.5M612.1 286.3h4.5M614.4 284v4.5M566.9 82.8h3.4M568.6 81v3.4M676 227.9h5.3M678.7 225.2v5.3M676.6 149.8h5.3M679.2 147.2v5.3M491.1 127.2h4.4M493.3 125v4.4M493.7 243.7h2.5M494.9 242.5v2.5M678.9 181.9h2.8M680.3 180.5v2.8M464.3 170.5h5.3M467 167.8v5.3M608.6 290.3h3.9M610.6 288.4v3.9M517.9 265.7h1.9M518.8 264.8v1.9M602.9 85.4h3.5M604.7 83.7v3.5M500.3 250.3h1.8M501.2 249.4v1.8M630.8 276.9h4.9M633.2 274.5v4.9M530.1 283.6h4.4M532.3 281.5v4.4M682.5 199.5h4.3M684.6 197.3v4.3M655.7 115.8h5.7M658.5 113v5.7M525.1 93.1h4.5M527.3 90.9v4.5M509.9 275.8h5.9M512.9 272.9v5.9M520.5 274.6h4.1M522.5 272.6v4.1M534.1 286.1h4.7M536.5 283.8v4.7M475.4 208.7h3.2M477 207.1v3.2M517 94.1h5.7M519.8 91.3v5.7M550.2 81.8h4.9M552.7 79.3v4.9M476.3 226.7h4.4M478.5 224.5v4.4M667.1 247.5h4.9M669.5 245v4.9M470.3 196.9h4.1M472.3 194.9v4.1M507.6 268.8h3.8M509.5 266.9v3.8M612.4 83.9h5.2M615 81.3v5.2M480.1 144.1h3.5M481.8 142.4v3.5M582.9 297.1h5M585.4 294.6v5M522.6 284.7h5.8M525.5 281.9v5.8M529.3 87h5.4M532 84.3v5.4M491 132.6h3M492.5 131.1v3M597 296.3h5M599.5 293.7v5M628.9 96.5h4.6M631.2 94.1v4.6M617.8 281.6h3.4M619.5 279.9v3.4M660.6 254.6h4.4M662.8 252.4v4.4M494.7 248.3h3.5M496.5 246.5v3.5M495.8 122.8h3.8M497.7 120.9v3.8M655.8 252.7h3.6M657.6 250.9v3.6M567.6 296.9h4.2M569.6 294.8v4.2M675.2 216h3.7M677 214.2v3.7M479.8 218.3h2.4M481 217.1v2.4M499.2 264.7h5.5M502 261.9v5.5M674.5 166.7h1.9M675.4 165.8v1.9M641.9 113.1h3.2M643.5 111.5v3.2M667.9 141.7h4M669.9 139.7v4M666.1 129.1h5M668.6 126.6v5M650.9 110h4.7M653.2 107.7v4.7M686.1 190.3h4.3M688.3 188.2v4.3M574.6 289.5h2.2M575.7 288.4v2.2M624.1 99.7h3M625.6 98.2v3M594 81.7h3.6M595.8 79.9v3.6M473.1 214.5h3.8M475 212.5v3.8M469.5 160.8h4.4M471.7 158.6v4.4M618.9 275.7h1.9M619.8 274.8v1.9M619 288.1h5.8M621.9 285.2v5.8M589.5 78.2h4.7M591.8 75.8v4.7M479.4 237.7h4.3M481.6 235.5v4.3M512.6 263.2h2.2M513.7 262.1v2.2M680 167.6h3.9M681.9 165.6v3.9M470.3 226.9h6.1M473.3 223.8v6.1M660.2 120.5h4.5M662.4 118.3v4.5M676.9 176.3h2.5M678.2 175.1v2.5M643.9 263.8h3.8M645.8 261.9v3.8M485.4 228h1.7M486.2 227.1v1.7M590.3 85.7h2.9M591.7 84.2v2.9M561.2 74.8h6.3M564.3 71.7v6.3M478.9 231.2h4.4M481.1 229v4.4M583.5 286.9h1.6M584.3 286.1v1.6M631.9 94h5.6M634.7 91.2v5.6M471.8 154.1h4.9M474.3 151.7v4.9M523.3 103.4h2.2M524.4 102.3v2.2M471 166.6h4.4M473.2 164.4v4.4M473.7 188.7h2.5M475 187.5v2.5M677.3 194.6h1.9M678.3 193.6v1.9M462.2 174.1h5.5M464.9 171.3v5.5M636.9 105.3h3.8M638.8 103.4v3.8M634 272.7h4.1M636.1 270.7v4.1M463.5 183.5h4.9M466 181v4.9M541.7 288.7h4M543.7 286.8v4M483.5 251h5.2M486.1 248.4v5.2M662.7 248.6h5M665.2 246.1v5M476.6 138.2h5.2M479.2 135.6v5.2M672.8 222.9h3.7M674.7 221v3.7M487 244.8h3.8M488.8 242.9v3.8M507.4 107h4.8M509.8 104.6v4.8M592.6 293.7h4.5M594.8 291.4v4.5M669.3 240.1h4.8M671.6 237.7v4.8M683.4 203.9h5M685.9 201.4v5M680.5 216.2h5M683.1 213.7v5M599.9 81.1h5.2M602.5 78.5v5.2M674.2 157.8h3.2M675.8 156.2v3.2M558 89h1.8M558.9 88.1v1.8M682.5 179.4h3.8M684.5 177.5v3.8M661.7 130.3h3.7M663.6 128.4v3.7M523.3 98.7h3.5M525.1 96.9v3.5M469 149.9h4.9M471.5 147.5v4.9M503.9 111.5h4M505.9 109.6v4M488.1 123.4h4.9M490.6 120.9v4.9M495.4 112.7h5.7M498.2 109.9v5.7M535.3 93.8h3.3M536.9 92.2v3.3M462.2 166.5h6.2M465.3 163.4v6.2M657.7 243.8h2.8M659.1 242.4v2.8M682.9 169.9h5.3M685.6 167.2v5.3M466.9 174.5h4.8M469.3 172.1v4.8M478.3 154.9h3.3M480 153.2v3.3M566.3 301.8h5.3M568.9 299.1v5.3M532.7 82.8h5.9M535.6 79.8v5.9M512.6 268.4h4.1M514.7 266.4v4.1M606.2 91.7h2M607.2 90.7v2M476.1 234.4h4.4M478.3 232.2v4.4M555.6 285.6h1.7M556.5 284.8v1.7M595.5 285.5h1.5M596.2 284.7v1.5M642.2 272.1h5M644.6 269.6v5M626.6 278.4h3.8M628.5 276.5v3.8M486.3 130.6h4M488.3 128.6v4M646.7 110.8h3.9M648.7 108.8v3.9M530.3 278.5h3.6M532.1 276.7v3.6M633.6 282.5h5.3M636.2 279.8v5.3M602.5 284.5h1.7M603.3 283.7v1.7M563.2 86h2.8M564.6 84.6v2.8M481.5 138.9h4.6M483.9 136.6v4.6M483 240.7h5M485.4 238.2v5M497.9 254.8h4.1M499.9 252.7v4.1M622.6 90.3h4.9M625 87.9v4.9M477.5 149.5h3.6M479.3 147.7v3.6M465.7 196.6h4.2M467.8 194.5v4.2" stroke="#00ffff" stroke-width="1.05" fill="none" stroke-opacity="0.88"/>
<path d="M478.3 169.9h2M479.3 168.9v2M487.8 173.2h1.3M488.5 172.6v1.3M666.2 215.8h1.6M667 215v1.6M658.8 145.8h1.7M659.6 145v1.7M509 125.5h1.9M509.9 124.6v1.9M664.4 203.1h1.7M665.3 202.2v1.7M655.3 138.6h1.7M656.2 137.8v1.7M565.5 91.2h1.5M566.3 90.4v1.5M497.9 162.6h1.5M498.7 161.9v1.5M620.6 104.4h1.6M621.4 103.6v1.6M492.3 206.8h1.4M493 206.1v1.4M537.3 278.2h1.7M538.1 277.4v1.7M610 121.3h0.9M610.5 120.3v2M505.2 143.7h1.4M505.8 143.1v1.4M598.5 273.5h1.5M599.3 272.7v1.5M587.4 95.6h1.7M588.2 94.7v1.7M549.1 106.8h1.6M549.9 106v1.6M517.8 241.7h1.3M518.4 241.1v1.3M642.8 241h1.3M643.4 240.3v1.3M655.8 221.3h1.6M656.6 220.5v1.6M668.4 209.6h1.9M669.3 208.7v1.9M578.3 285.8h1.9M579.3 284.9v1.9M502.2 219.3h1.4M502.8 218.6v1.4M496.2 146.1h1.6M497 145.3v1.6M619.8 269.8h1.7M620.6 269v1.7M652.3 176.1h1M652.8 175.2v1.9M570 280.4h1.5M570.8 279.7v1.5M537.1 261.4h1.5M537.8 260.7v1.5M544.7 263.5h1.5M545.5 262.8v1.5M611.2 100.9h1.5M611.9 100.2v1.5M649.8 136.5h1.8M650.7 135.6v1.8M650.4 225.5h1.6M651.2 224.7v1.6M557.1 101.6h1.4M557.8 100.9v1.4M604.1 269.6h1.4M604.8 268.9v1.4M620 122.1h1.5M620.8 121.3v1.5M640.1 128.6h1.6M640.9 127.9v1.6M488.6 163.4h1.8M489.5 162.5v1.8M502.3 152h1.4M503 151.3v1.4M588 102.8h1.4M588.7 102.1v1.4M525.2 268.9h1.7M526 268v1.7M633.8 133.4h1.3M634.4 132.7v1.3M479.6 196h1.5M480.4 195.2v1.5M526.8 130h1.2M527.4 129.2v1.7M514.9 115.3h1.5M515.6 114.5v1.5M648.7 152.3h1.5M649.5 151.6v1.5M539.1 251.2h0.8M539.5 250.2v1.9M502 244.7h1.9M502.9 243.7v1.9M573.7 271.2h1.4M574.4 270.5v1.4M668.6 152.9h1.8M669.5 152v1.8M496.6 199.6h1.2M497.2 199v1.2M666.2 182h1.5M667 181.3v1.5M624.8 246.4h1.3M625.4 245.5v1.8M483.3 214h1.5M484.1 213.3v1.5M510.8 143.3h1.4M511.5 142.6v1.4M525.3 262h1.7M526.2 261.2v1.7M519.1 133.8h1.4M519.8 133.1v1.4M621 112.7h1.7M621.9 111.8v1.7M529.5 119.1h1.5M530.3 118.4v1.5M614 256.2h1.2M614.6 255.6v1.2M500.7 135.9h1.8M501.5 135v1.8M626.8 105h1.7M627.7 104.2v1.7M562.6 271.9h1.5M563.3 271.2v1.5M657.4 189.1h1.4M658.1 188.4v1.4M661.1 213.9h1.4M661.8 213.2v1.4M636.6 257.2h1.8M637.5 256.3v1.8M515.2 255.9h1.6M516 255.1v1.6M525.2 249.3h1.2M525.8 248.7v1.2M603.7 97.7h1.9M604.6 96.8v1.9M496.8 192.2h1.2M497.4 191.6v1.2M655 239.2h1.7M655.9 238.3v1.7M531.9 269.1h1.7M532.7 268.2v1.7M667.7 195.7h1.6M668.5 194.9v1.6M505.9 238.4h1.4M506.6 237.7v1.4M611.8 111.1h1.3M612.4 110.5v1.3M482.2 178.7h1.5M482.9 178v1.5M492.5 141.7h1.5M493.3 140.9v1.5M605.9 258.6h0.9M606.3 257.9v1.4M579.6 100.3h1.4M580.3 99.6v1.4M498.4 173.3h1.3M499.1 172.6v1.4M557.5 266.3h1.4M558.2 265.6v1.4M498.5 206.2h1.5M499.3 205.5v1.5M578.1 278.4h1.7M578.9 277.6v1.7M622.6 252h1.2M623.2 251.4v1.2M626.4 273h1.8M627.3 272.1v1.8M559.7 111.8h1.1M560.3 110.9v1.6M504.8 253.1h1.9M505.8 252.1v1.9M629 128.8h1.4M629.7 128.2v1.4M575.9 91.8h1.6M576.7 91v1.6M549.6 113.6h1.3M550.2 112.9v1.3M644 133.5h1.6M644.8 132.7v1.6M529.8 100h1.7M530.6 99.2v1.7M494.8 185h1.5M495.5 184.2v1.5M541.6 108.1h1.6M542.4 107.3v1.6M504.1 232h1.6M504.9 231.2v1.6M631.5 269.4h2.2M632.7 268.3v2.2M486.6 190.7h1.4M487.3 190v1.4M658.3 197.6h1.3M658.9 196.9v1.3M560 94.6h1.6M560.8 93.8v1.6M573.4 106.8h1.1M574 106.3v1.1M648.3 167h1M648.8 165.9v2.2M560.7 285.9h1.6M561.5 285.1v1.6M512.7 246.1h1.5M513.4 245.3v1.5M494.9 178.7h1.3M495.5 178.1v1.3M629.7 255.8h1.3M630.4 255.1v1.3M482.3 204.5h1.9M483.3 203.6v1.9M631.7 245.4h1.2M632.3 244.8v1.2M498.4 240.8h1.9M499.3 239.8v1.9M584.5 107.8h1.2M585.2 107.2v1.2M586.1 273.6h1.5M586.9 272.9v1.5M594 277h1.4M594.7 276.3v1.4M529.8 112.6h1.4M530.5 111.9v1.4M526.2 108.4h1.6M526.9 107.6v1.6M552.8 89h2.2M553.8 87.9v2.2M628.1 261.4h1.8M629 260.5v1.8M551.4 266.4h1.6M552.2 265.6v1.6M645.8 234h1.4M646.5 233.3v1.4M612.9 275h1.6M613.7 274.2v1.6M498 230.7h1.6M498.8 230v1.6M598.1 280.7h1.6M598.8 279.9v1.6M490.2 229.1h1.9M491.2 228.2v1.9M636.6 118.2h1.7M637.5 117.4v1.7M550 257.5h0.8M550.4 256.6v1.8M497.4 128.3h2.3M498.6 127.2v2.3M592 107.2h1.4M592.7 106.5v1.4M491.4 215h1.3M492.1 214.3v1.3M546.5 100.4h1.6M547.2 99.6v1.6M479.1 187.3h1.5M479.8 186.5v1.5M543 273.6h1.5M543.7 272.8v1.5M641.6 140.7h1.4M642.4 140v1.4M483 166.1h1.8M483.9 165.2v1.8M660.8 179.8h1.2M661.4 179.2v1.2M674.1 207.2h2M675.1 206.2v2M659.4 164.2h1.5M660.2 163.4v1.5M509.2 217.3h0.8M509.6 216.4v1.7M585.2 89h1.7M586 88.1v1.7M529.8 254.8h1.3M530.5 254.1v1.3M641.1 246.1h1.4M641.8 245.4v1.4M662.6 225.1h1.4M663.3 224.4v1.4M655.1 182.4h1.3M655.7 181.7v1.5M603.7 279.1h1.9M604.7 278.1v1.9M647.2 125.6h1.9M648.1 124.7v1.9M677.7 187.3h1.8M678.6 186.4v1.8M603.3 110.9h1.6M604 110.1v1.6M626.7 113.3h1.6M627.5 112.5v1.6M489.2 199.8h1.4M490 199.1v1.4M648.7 130.6h1.7M649.5 129.7v1.7M555.5 278.8h1.7M556.4 277.9v1.7M659.2 206.8h1.2M659.8 206.2v1.2M521.3 123h1.7M522.1 122.2v1.7M587.7 278.8h1.4M588.4 278v1.4M593.4 265.8h1.5M594.1 265.1v1.5M663 189.9h1.3M663.6 189.3v1.3M615.3 105.6h1.4M616 104.9v1.4M513.3 236h1.5M514.1 235.3v1.5M476.9 180.6h2M477.9 179.6v2M670.4 173.7h1.5M671.1 173v1.5M492.8 234.3h2M493.8 233.3v2M503.6 129.8h1.8M504.5 129v1.8M562.5 278.1h1.6M563.3 277.3v1.6M534.2 107.7h1.7M535.1 106.9v1.7M669.5 167.9h1.8M670.4 166.9v1.8M672.3 193.5h1.7M673.1 192.7v1.7M597.9 98.6h1.6M598.7 97.8v1.6M610.4 262h1.5M611.2 261.3v1.5M635.4 139.7h1.1M635.9 138.9v1.6M543.5 113.5h1.3M544.1 112.9v1.3M595 115.2h0.8M595.4 114.3v1.8M580.2 87.4h1.7M581 86.6v1.7M569.6 101.3h1.6M570.3 100.5v1.6M549.1 275.3h1.8M550 274.4v1.8M510 230.4h1.4M510.7 229.7v1.4M514.6 126.2h1.5M515.4 125.4v1.5M489.4 151.1h1.5M490.1 150.3v1.5M542.4 257.3h1.2M543 256.6v1.4M488.1 180.2h1.6M488.9 179.4v1.6M536.6 119.9h1.4M537.3 119.1v1.4M547.9 283.4h1.7M548.7 282.6v1.7M488 220.3h1.6M488.8 219.5v1.6M611.3 280.5h1.9M612.3 279.5v1.9M483.2 222.1h1.9M484.2 221.2v1.9M582.8 281.4h1.4M583.5 280.7v1.4M670.8 202.9h1.9M671.7 201.9v1.9M652.4 212.4h1.5M653.2 211.7v1.5M660.7 157.7h1.8M661.6 156.8v1.8M641.2 146.5h1.2M641.8 145.7v1.7M495.3 156.9h1.5M496.1 156.1v1.5M643.4 228.8h1.3M644.1 228.2v1.3M640.6 122.1h1.4M641.3 121.4v1.4M660.3 232.6h1.9M661.2 231.7v1.9M610.3 95.2h1.9M611.3 94.3v1.9M609.5 268.4h1.7M610.3 267.6v1.7M504.2 158.6h1.1M504.7 157.9v1.3M564 261.2h0.9M564.5 260.2v2M620.1 257.4h1.4M620.8 256.7v1.4M482.3 158.9h1.6M483.1 158v1.6M540.3 97.8h1.7M541.2 96.9v1.7M592.5 98.5h1.6M593.3 97.7v1.6M648.7 241h1.7M649.5 240.1v1.7M568.3 289.1h2.5M569.5 287.8v2.5M650.4 143.1h1.6M651.2 142.3v1.6M626.8 122h1.5M627.6 121.3v1.5M551.5 97.3h1.7M552.3 96.5v1.7M518 248.7h1.4M518.7 248v1.4M653.6 147.5h1.7M654.4 146.6v1.7M639.3 251.3h1.5M640 250.5v1.5M564.6 103.8h1.5M565.3 103v1.5M531.5 247.3h1M532 246.4v1.9M654.2 154h1.2M654.8 153.3v1.2M653.3 161.9h1.5M654.1 161.2v1.5M499.4 213.9h1.5M500.1 213.2v1.5M521.8 114.4h1.6M522.6 113.6v1.6M670.6 162.2h1.8M671.5 161.3v1.8M568.2 266.2h1.1M568.7 265.6v1.2M492.4 169.3h1.3M493 168.7v1.3M566.7 96.8h1.4M567.3 96.1v1.4M555.4 260.7h1.1M555.9 259.7v2M579.6 272.5h1.3M580.2 271.9v1.3M521.2 259h1.5M521.9 258.3v1.5M664 167.6h1.7M664.8 166.8v1.7M511.5 120.6h1.5M512.2 119.9v1.5M663.4 152.7h1.5M664.2 152v1.5M655.9 229.8h1.6M656.7 229v1.6M497.7 223.5h1.5M498.5 222.8v1.5M647.3 247h1.8M648.2 246.1v1.8M653.1 245.1h1.5M653.8 244.3v1.5M647.8 218.2h1.3M648.4 217.4v1.6M625.1 266.8h1.6M625.9 266v1.6M526.8 274h2.3M528 272.8v2.3M597.6 107.8h1.3M598.3 107.2v1.3M477.6 175.6h1.8M478.5 174.7v1.8M660.1 239.1h1.9M661 238.2v1.9M640.3 235.6h1.2M640.8 235.1v1.2M567.4 275.1h1.3M568 274.4v1.3M616.2 97.9h1.6M617 97.2v1.6M640.1 260.8h2M641.1 259.9v2M509.7 132.5h1.6M510.6 131.6v1.6M652.3 127.3h2M653.3 126.2v2M536.5 114.2h1.5M537.3 113.5v1.5M527.4 124.4h1.2M528 123.8v1.2M506.7 137h1.5M507.4 136.3v1.5M673.1 179.1h1.9M674 178.2v1.9M671.5 184.9h1.6M672.3 184.1v1.6M662.4 219.9h1.6M663.2 219.1v1.6M510.1 223.5h0.9M510.6 222.7v1.6M644.7 118.5h1.6M645.4 117.7v1.6M607.2 106.7h1.4M607.9 106v1.4M486.1 209.1h1.6M486.9 208.3v1.6M667.3 222h1.7M668.2 221.1v1.7M531.6 262.2h1.5M532.4 261.4v1.5M502.4 122h2.1M503.4 121v2.1M537.3 269.7h1.7M538.1 268.8v1.7M645.8 253.1h1.9M646.7 252.2v1.9M616.7 265.3h1.3M617.3 264.6v1.3M633.1 107.3h2.1M634.2 106.3v2.1M635.5 239.5h1.2M636.1 238.9v1.2M581.4 94.5h1.6M582.1 93.7v1.6M599.1 263.9h1.2M599.7 263.2v1.2M668.5 189.5h1.7M669.3 188.6v1.7M509.6 257.9h1.8M510.5 257v1.8M585 267.1h1.1M585.6 266.5v1.1M635.2 263.9h1.7M636 263.1v1.7M660.7 140.6h1.9M661.6 139.7v1.9M632.9 250.8h1.4M633.6 250.1v1.4M539.8 103.2h1.4M540.5 102.5v1.4M662.6 173.2h1.3M663.3 172.5v1.3M653.4 205.1h1.3M654 204.3v1.4M665.1 162.1h1.6M665.9 161.3v1.6M654.4 168.3h1.3M655 167.6v1.3M615.7 125.8h1M616.2 124.7v2.2M488 157.3h1.4M488.7 156.5v1.4M520.6 253.4h1.6M521.4 252.6v1.6M602.3 102.9h1.5M603 102.2v1.5M507.4 244.3h1.6M508.2 243.4v1.6M484.8 196.8h1.5M485.6 196v1.5M631.9 115.2h1.4M632.6 114.5v1.4M547.9 92.5h1.6M548.6 91.7v1.6M485.1 184.9h1.6M485.9 184.1v1.6M671.1 214.2h1.6M671.9 213.4v1.6M503.5 226h1.5M504.3 225.3v1.5M495.6 137.3h1.8M496.5 136.4v1.8M635.4 125.2h1.5M636.2 124.5v1.5M524.3 242.9h1.1M524.9 242.2v1.5M615.2 117.8h1.5M615.9 117.1v1.5M674.4 198.5h1.5M675.2 197.7v1.5M510.7 252.4h1.9M511.6 251.5v1.9M534.2 274h1.5M534.9 273.2v1.5M579 108.8h1.1M579.5 108.2v1.3M513.1 137.9h1.2M513.7 137.2v1.2M651.3 235.4h1.7M652.1 234.6v1.7M508.2 148.8h1.3M508.8 148.2v1.3M645.5 157h0.8M645.9 156.2v1.7M605.1 116.8h0.9M605.5 116v1.6M591.2 271.2h1.5M591.9 270.4v1.5M555.2 107.5h1.2M555.9 106.8v1.2M606.8 274.5h1.6M607.6 273.7v1.6M569.8 87.9h1.8M570.8 87v1.8M474.6 193.5h2.3M475.8 192.4v2.3M665.6 228.9h1.9M666.6 227.9v1.9M546.7 269.4h1.5M547.5 268.7v1.5M556.3 273h1.6M557.1 272.1v1.6M535.2 100.1h1.9M536.2 99.2v1.9M499.4 141.7h1.5M500.2 141v1.5M574.4 98.2h1.6M575.2 97.4v1.6M495.1 218.7h1.7M495.9 217.9v1.7M570.6 93.2h1.6M571.5 92.4v1.6M501.3 168.1h1.2M501.9 167.2v1.7M588.7 112.2h0.9M589.1 111.3v1.8M578 267.1h1.2M578.6 266.5v1.2M595.2 93.9h1.4M595.9 93.2v1.4M491.5 193.8h1.4M492.2 193v1.4M544.8 278.6h1.6M545.6 277.8v1.6M492.2 223.7h1.8M493.1 222.8v1.8M496.5 151.6h1.4M497.2 150.9v1.4M566.4 284.2h1.7M567.2 283.4v1.7M521 109.2h1.7M521.9 108.4v1.7M590.4 91.3h1.7M591.3 90.5v1.7" stroke="#00b2ff" stroke-width="1.1" fill="none" stroke-opacity=".75"/>
<path d="M605.9 163.3h0.9M606.3 162.2v2.1M643.4 162.5h0.8M643.8 161.6v1.9M580.6 261.9h1M581.1 260.7v2.3M626.8 225.9h0.9M627.3 224.9v2.1M599.5 238.5h0.9M600 237.5v2M568.4 256.7h0.9M568.9 255.7v2.1M605.5 170.8h0.8M605.9 169.9v1.9M522.9 146.1h1M523.4 145v2.2M636.3 159.7h0.8M636.7 158.8v1.8M511.6 158.8h0.9M512.1 157.8v2M523.5 206.4h0.8M523.9 205.5v1.7M596.4 200.8h0.9M596.8 199.7v2.1M567.4 171.5h0.9M567.8 170.4v2.2M640.1 181.2h0.8M640.5 180.3v1.9M636.7 199.9h1M637.1 198.8v2.2M519.4 139.7h0.9M519.8 138.8v1.7M526.3 151.8h0.8M526.7 150.8v1.9M569.6 204.6h0.8M570 203.6v2M597.7 169.1h0.8M598.1 168.2v1.8M543.6 244.5h0.8M544 243.6v1.7M605.7 132.5h0.8M606.1 131.6v1.8M553.4 129.3h0.8M553.8 128.4v1.8M614.7 198.1h0.8M615.1 197.2v1.8M532.8 235.5h0.8M533.2 234.6v1.8M518.1 164.4h1M518.6 163.3v2.2M615.7 164.5h1M616.2 163.4v2.3M604.6 192.1h0.9M605.1 191v2.1M516.1 225.8h0.9M516.6 224.8v2.1M580.4 115.1h0.9M580.8 114.1v2M598.6 210.4h0.9M599.1 209.2v2.2M530.3 214.1h0.9M530.7 213.1v2M583.7 199.2h0.9M584.2 198.1v2.2M512.6 197h0.8M513 196.1v1.8M619.8 226h1M620.3 224.9v2.2M608.5 156.5h0.8M608.9 155.6v1.8M572.1 140.1h0.8M572.5 139.2v1.9M590.5 215.5h0.8M590.9 214.5v1.8M537 128.7h0.8M537.5 127.8v1.9M507.4 189h1M507.9 187.8v2.2M521.4 182.5h0.9M521.8 181.4v2.1M575.5 190.1h0.9M576 189v2.3M517.2 213h0.9M517.7 211.9v2M599.5 248.2h0.9M600 247.2v2M563.4 233.1h1M563.9 232v2.2M605.6 143.7h0.9M606.1 142.7v2.1M573.5 262.7h0.9M573.9 261.7v2M614 132.1h0.9M614.4 131.1v2M557.3 254.7h1M557.8 253.6v2.2M623.9 192.6h1M624.4 191.5v2.3M584.6 170.2h0.9M585.1 169.1v2.2M545.5 164.3h0.9M545.9 163.3v2M633.4 167.8h1M633.9 166.7v2.2M531.9 148.7h0.9M532.4 147.6v2.1M618.6 144.6h0.8M619 143.7v1.9M589.7 134.3h0.9M590.2 133.3v2.1M627.2 214.5h0.9M627.7 213.4v2.2M543.1 138.1h0.9M543.6 137.1v2.2M616.7 178h0.8M617.2 177v2M571.3 220.7h0.8M571.7 219.7v1.9M592.8 248.4h0.8M593.2 247.5v1.8M619.9 154.5h1M620.4 153.4v2.3M651.2 198.8h1M651.7 197.7v2.2M506.7 172.6h1M507.2 171.5v2.2M557.5 197.1h0.9M558 196v2.2M509.1 167.1h1M509.6 166v2.1M622.4 162.5h0.8M622.8 161.6v1.8M540.8 151.2h0.9M541.2 150.1v2.2M575.4 154.1h0.7M575.8 153.2v1.7M578 179.4h0.9M578.5 178.3v2.3M582.4 185.5h0.7M582.8 184.6v1.8M566.7 244h1M567.1 242.9v2.2M504.5 181.2h1M505 180.1v2.1M568.3 228h0.9M568.7 227v2.1M577.3 249.4h1M577.7 248.3v2.2M551.9 228.2h0.8M552.3 227.3v1.9M541.9 170.5h0.7M542.3 169.6v1.8M526.1 236.5h0.9M526.6 235.4v2.1M605.4 250.1h1M605.9 248.9v2.2M562.4 163.6h0.7M562.8 162.8v1.7M576.2 127.9h0.8M576.6 127v1.8M631.8 175.6h1M632.3 174.5v2.3M550.5 147.2h0.9M550.9 146.2v2.2M581.9 139.7h1M582.4 138.5v2.2M604.1 126.2h0.8M604.5 125.3v1.7M547.7 191.7h0.8M548.1 190.7v2M585.3 206.2h0.8M585.7 205.3v1.9M616.8 231.9h0.8M617.2 231v1.8M580 217h0.8M580.4 216.1v1.9M549 212.6h0.9M549.4 211.6v2.2M612.6 240h1M613.1 238.8v2.3M628.7 235.1h0.8M629.1 234.2v1.8M638.9 207h0.9M639.4 205.9v2M547 234.7h1M547.5 233.6v2.3M522.3 222h1M522.8 220.8v2.3M529.3 165.6h1M529.8 164.4v2.2M630.5 220.4h0.9M630.9 219.4v2.1M514.2 204.6h0.9M514.6 203.6v2M627.2 146.8h1M627.7 145.6v2.2M553.7 245.6h0.8M554.1 244.7v1.9M577.4 171.6h0.9M577.9 170.5v2.2M522.7 195.5h0.8M523.1 194.6v1.8M525.6 173.2h0.9M526.1 172.2v2M562.3 220.3h0.9M562.8 219.2v2.2M583.4 161.1h0.8M583.8 160.1v2M614.6 208.3h0.8M615 207.4v1.8M507.2 209.6h1M507.7 208.5v2.2M588.5 262.5h0.8M588.9 261.6v1.8M596 253.7h0.9M596.4 252.7v1.9M600.7 177.5h0.8M601.1 176.6v1.8M566.5 131.5h0.9M567 130.4v2.1M597.4 221.8h1M597.9 220.6v2.3M570 161.3h0.7M570.4 160.4v1.7M591.4 192.5h0.7M591.8 191.6v1.7M532.5 227.5h0.8M532.9 226.6v1.8M514.3 150.9h0.8M514.7 150v1.8M561.1 182.7h0.9M561.5 181.6v2.2M536.7 197.1h0.7M537.1 196.2v1.7M599.8 119.3h0.9M600.2 118.3v2M618.8 239.4h0.8M619.2 238.5v1.9M569.2 179.4h0.9M569.6 178.3v2.2M589 228.5h0.9M589.4 227.5v2.1M557.1 213.4h0.8M557.5 212.5v1.8M527.8 136.4h1M528.3 135.3v2.2M564.8 142.7h0.9M565.3 141.6v2.2M551 119.9h0.8M551.3 119.1v1.7M636.4 187.1h0.9M636.8 186.1v2.1M549.2 205.2h0.8M549.6 204.3v1.8M514.8 174h0.8M515.2 173v1.9M549.8 250.5h0.9M550.3 249.5v2.1M585.2 241.3h0.9M585.7 240.3v2M621.1 138.1h0.9M621.6 137v2M647.3 206.4h1M647.8 205.3v2.2M595 232.3h0.9M595.4 231.4v2M550.6 175.4h0.8M551 174.5v1.9M591.2 172.7h0.9M591.7 171.6v2.2M589.5 180.5h0.8M589.9 179.5v1.9M612.5 190h1M613 188.9v2.3M649.3 184.3h1M649.8 183.2v2.2M541 181.6h0.9M541.4 180.6v2M634.2 228.8h1M634.7 227.7v2.3M545.1 226.9h0.9M545.5 225.9v2.1M527.9 190.4h1M528.4 189.3v2.3M589.9 152h0.8M590.3 151.1v1.9M592.6 127.5h1M593.1 126.4v2.2M555.9 151.7h1M556.4 150.6v2.3M569.3 194.6h0.9M569.8 193.5v2.3M538.7 190h1M539.2 188.9v2.3M633.5 194h1M634 192.9v2.2M607.8 183.1h0.9M608.2 182.1v2.2M575.9 240.4h0.8M576.4 239.5v1.9M588.7 117.9h1M589.2 116.8v2.2M568.5 153.3h0.7M568.9 152.5v1.7M592.3 142.5h0.9M592.8 141.5v2.1M565.3 117.4h0.9M565.7 116.4v2M555.1 188.1h0.8M555.5 187.1v2M578.9 224.7h1M579.4 223.5v2.3M548.7 154.5h0.8M549.1 153.5v1.9M620.6 203h0.9M621.1 202v2M553.3 238h0.8M553.7 237.1v1.9M598.9 162.2h0.7M599.3 161.4v1.8M626.6 181.6h0.8M627 180.7v1.8M603.6 216.7h0.9M604 215.6v2.2M504 194.4h0.9M504.4 193.4v2M530.5 142.3h0.9M530.9 141.2v2.1M627.2 207.2h0.8M627.6 206.2v1.9M641.5 220.8h0.9M641.9 219.8v2M578.8 209.2h0.9M579.3 208.2v2.1M603.9 228.2h1M604.4 227.1v2.2M530.2 178.9h0.9M530.7 177.9v2.1M560.5 125.1h1M561 123.9v2.3M608.1 234h0.9M608.5 233v2M632.1 150.8h1M632.6 149.7v2.2M632.7 210.9h0.9M633.1 209.9v2M539.6 238.2h0.8M540 237.3v1.7M545.1 127.4h0.9M545.6 126.4v2M576.3 121.3h0.8M576.7 120.4v1.9M604.8 203.4h0.9M605.2 202.4v2.1M513.4 186.1h0.8M513.8 185.2v1.8M537.2 212.8h0.9M537.6 211.8v2.1M588.7 255.6h0.8M589.1 254.6v1.8M622.4 128.9h0.9M622.9 128v1.9M538.4 145.1h0.9M538.9 144v2.1M571.8 116.7h1M572.3 115.5v2.2M650.7 190.4h0.8M651.1 189.5v1.9M580.7 147.2h0.9M581.1 146.2v2.1M525.7 229.4h0.9M526.2 228.3v2.1M598.8 186.4h0.9M599.2 185.3v2.2M555.6 165.6h0.9M556.1 164.5v2.1M560.1 132.3h0.7M560.5 131.4v1.7M612.6 219.8h0.9M613 218.8v2M544.1 218.6h0.8M544.5 217.6v1.9M529.1 202.6h0.9M529.6 201.6v2.2M598.6 145.9h1M599.1 144.7v2.3M645 192.7h0.8M645.4 191.8v1.8M541.3 203.9h0.7M541.7 203v1.7M602.5 151.8h0.9M602.9 150.8v2M521 233h0.8M521.4 232.1v1.9M639.3 152.8h1M639.8 151.7v2.2M629.9 199.3h0.8M630.3 198.4v1.8M518.6 190.6h0.9M519 189.5v2.1M569.6 249.5h0.8M570 248.6v1.9M558 206.2h0.9M558.4 205.1v2.1M576.5 199h0.9M576.9 197.8v2.3M532.1 158.9h1M532.6 157.8v2.3M533.8 134.4h0.9M534.3 133.4v2M599.2 133.4h1M599.7 132.3v2.2M523.4 215.5h1M523.9 214.4v2.2M561 239.4h0.8M561.4 238.5v1.9M611.6 139.7h0.8M612 138.8v1.7M613.2 149.6h0.9M613.6 148.5v2M586.4 126.1h0.8M586.8 125.2v1.9M643.7 212h0.9M644.2 211v2.1M579.1 256h0.9M579.6 255v2M639.4 170.4h0.8M639.8 169.5v1.8M533.7 172.9h0.8M534.1 172v1.8M630.3 162.2h0.9M630.8 161.1v2.2M529.9 241.3h1M530.4 240.3v2.2M614.2 246.2h0.8M614.6 245.3v1.9M557.7 141.3h0.8M558.1 140.3v1.9M606.7 242.3h0.9M607.1 241.3v2.1M563.3 250.2h1M563.7 249.1v2.2M619.6 217h1M620 215.9v2.2M627.8 136.2h1M628.3 135.1v2.2M558.3 173.3h0.9M558.7 172.3v2.1M550.9 136.3h0.9M551.3 135.2v2M591.6 160.3h0.8M592 159.4v1.8M594.8 259.5h1M595.3 258.4v2.2M553.9 219.7h1M554.3 218.5v2.2M507.1 199.8h0.9M507.5 198.8v2M536.1 166.4h0.9M536.6 165.3v2.1M522.6 159.7h0.9M523 158.7v2M538 221.9h1M538.4 220.8v2.2M610.7 227.8h0.8M611 226.9v1.8M642.9 199.5h1M643.4 198.4v2.2M567.2 212.2h0.8M567.6 211.2v2M582.4 233.9h0.8M582.8 233v1.8M529.2 220.4h0.8M529.6 219.5v1.9M592.6 238.9h0.9M593 237.8v2.2M628.5 188h1M629 186.8v2.3M571.8 235h0.8M572.2 234v1.9M539.2 230.7h0.8M539.6 229.7v1.9M585.8 249h0.8M586.2 248.1v1.9M558.9 227.1h1M559.4 226v2.2M644 176.1h0.8M644.4 175.2v1.8M622.8 171h0.7M623.1 170.1v1.7M563.8 190h0.7M564.1 189.1v1.8M501.5 187.3h0.8M501.9 186.4v1.8M558.9 117.6h0.9M559.3 116.6v2M546.8 198.7h0.8M547.1 197.8v1.8M619.1 185.5h0.9M619.6 184.5v2.2M585.7 221.2h0.8M586.1 220.2v2M570.6 124.9h0.8M571 124v1.8M581.3 132.2h0.8M581.7 131.2v1.8M627.9 155.9h1M628.3 154.8v2.2M583.2 120.5h0.9M583.6 119.6v1.9M566.4 111.1h0.9M566.9 110.4v1.5M592.4 207.1h0.9M592.9 206.1v2.1M539.6 160.4h0.8M540 159.4v1.9M516.4 219.8h1M516.9 218.6v2.3M636.5 215.7h0.9M637 214.6v2.1M520.1 152.7h0.9M520.6 151.7v2M542.4 121.5h1M542.9 120.4v2.2M548.5 184.1h0.9M549 183v2.2M510.2 178.5h1M510.7 177.3v2.3M562.4 149.3h0.9M562.9 148.2v2.2M613.2 172h0.9M613.6 171v2M625.3 240.5h0.9M625.8 239.5v2M576.7 163.4h0.8M577.1 162.4v2M537.2 244.3h0.8M537.5 243.5v1.7M561.9 156.5h0.9M562.4 155.4v2.2M563.7 200.7h0.8M564.1 199.7v2M571.8 147.2h0.9M572.3 146.1v2.2M608.2 211.4h1M608.7 210.3v2.2M622.9 231.4h1M623.4 230.3v2.2M621.1 209.9h0.8M621.5 209v1.7M643.5 186.5h0.9M644 185.4v2.1M554.1 158.6h0.8M554.6 157.7v2M593.9 121.2h0.9M594.3 120.2v2.1" stroke="#0000ff" stroke-width="1.25" fill="none" stroke-opacity=".85"/>
<path d="M727.6 186.7h9.5M727.8 185.1h8.8M729.5 182.9h8.3M729 181.6h8.5M726.8 181.3h8.7M728.7 179.1h9.6M727.6 177.8h8.9M727 175.7h8.9M726.7 174.6h10.1M727.7 172.4h8.4M726.3 172.1h8.1M727.2 170h10.5M726.7 168.4h9.7M725.7 167.5h9.9M727.9 164.4h10.7M725.8 163.4h7.3M727 161.9h9.7M725.1 161.3h7.8M725.2 159.1h9.9M724.1 158.3h9M726.6 156.4h9.1M723.9 155.1h8.2M726.1 153.1h9.6M723.2 152.1h9.4M723.8 150.9h8.7M723.1 149.6h8.3M722.4 147.4h8.6M724.5 146.2h7.9M723.8 144.6h7.3M722 142.4h8.6M720.8 142.3h7.2M720.7 139.8h8.9M720.7 139.3h7.3M719.5 136.7h9.8M721.6 135.4h10.1M718.7 134.2h8.5M720.6 132.7h7.9M719.2 131.4h7.9M717.4 129.6h8.6M717.6 128.2h10.8M718.2 127h7.4M717.2 125.2h7.9M714.6 124h10M714.2 122.2h10.2M714.4 120.5h8.7M715.1 119.3h9.3M712.2 118.9h9.6M713 116.6h7.9M711.1 114.6h10.8M712.3 114.5h7.3M711.8 112.5h8.8M711 111.4h9.3M707.7 109.6h9.9M708.3 109h7.9M708.7 107h7.8M707.7 105.1h7.8M705.1 105.8h9M704.1 103.8h8.4M704.4 102.2h10.2M703.3 99.7h10.3M702.6 99.1h10.6M701.5 97.8h9.2M699.9 97.6h9.8M699.6 96.2h8.3M698.6 93.7h8.9M697.1 94h10.3M702.5 87.4v8.5M696.6 89.9h10.1M695.7 88.9h8.2M693.5 87.4h10.6M693.5 85.8h10.7M692.4 84.7h10.3M691.9 84.3h8.2M689 83.4h9.9M690.5 81.8h8.6M691.4 77.6v7.7M691.7 75v10.6M689.7 75.3v9.1M689 73.3v10M688.3 71.5v10.3M688 69.5v10.2M687.7 68v10.5M685.6 68.2v8.6M683.1 69.7v7.9M679 71.7h8.7M682.1 64.7v9M679.8 64.7v10.1M680 62v9.7M678.5 63.9v7.6M677.3 61.9v7.9M676.7 60.3v9.9M670.8 63.9h9.7M672.7 59.4v7.8M671.5 57.4v10M666.5 61.3h8.6M665.3 60.7h9.5M668.5 55.1v10.7M667.5 53.8v8.9M667.1 52.3v10.2M664.3 52.5v8.2M664 50.4v10.7M662.2 50.8v7.8M660.1 51.8v8.3M659.2 49.1v8.9M658.4 46v10.5M656.2 49.2v8.3M655.2 48.2v8.5M654.7 46.1v9.2M651.9 46.3v8.4M651.3 44v10.6M649.2 45.2v8.5M648.1 44.6v9.1M646.2 43.4v8.2M646 40.7v8.8M644.3 40.9v9.7M643 40.7v9.2M641.7 39.6v9.8M639.6 40.3v9.6M639.3 38.2v10.7M637 38.5v9.5M636 37.3v8.2M633.5 37.3v9.4M632.7 39.8v7.4M631.6 35.2v9.5M629.5 36.5v9.3M628.2 36.6v8.5M626.9 33.3v9.7M625.7 34.1v8.9M624.1 33.7v8.9M621.9 34.5v7.5M620.6 33.6v8.7M619.6 33.1v7.3M618.2 32.5v7.4M616 32.5v9.7M614.1 33.9v7.6M613.2 29.4v10.2M611.8 32.6v8.6M610.2 30v9.3M608.7 30.6v9.3M607.3 31.6v7.2M605.5 29.2v10.3M604.9 30.6v7.6M602.9 29.7v8.1M601.8 29.6v8.9M600.1 27.3v9.8M598.2 31.7v7.3M597.2 31v7.3M595 28.8v7.8M593.3 28.7v7.9M591.8 26.1v10M591.4 26.1v9.7M589.5 28v9.7M587.2 27.3v9.2M586 27.7v8.5M584.3 27.3v8.1M583 27.9v8.9M581.2 27.6v9.9M580.8 25.7v10.8M579.1 25.6v9.9M576.5 27.2v8.2M575.8 28.5v8.1M573.8 27.9v7.4M573.2 27.9v7.9M570.9 27v9M569.1 28.9v8.4M567.3 26.5v10.4M566.9 28.1v9.9M564.7 29.5v7.3M563.4 29.3v8.9M562.1 28.8v9.4M561 28.8v8M558.2 27.9v9.1M558.1 29.5v9.1M555.7 30.1v8.9M554.5 28.2v9.6M552.3 29.9v8.3M551.5 29.8v9.1M549.4 29.8v7.7M548.4 30.2v10M547.2 32.1v8.3M544.3 30.8v7.5M544.2 30.6v9.3M542.1 30v8.9M540.6 29.5v10.8M539.3 31.2v10.5M536.9 31.8v9.8M536.6 33.5v8.8M534.4 31.3v10.2M533.9 33.2v10.2M532.7 35.8v7.5M530.5 35.6v8.3M528.8 35.5v7.9M527 35.8v7.8M526.3 34.7v9.6M524.6 34.2v10.1M522.8 37v7.3M522.7 39.1v7.7M519.1 36.6v8.8M518.6 37.7v9.3M516.7 38.6v10.2M516 39.2v9.7M515.1 39.5v10.3M512.9 39.4v8.3M511 38.9v10.6M510 41.5v9M508.7 42.2v7.2M507.6 43.3v8.3M505.8 42.5v8.9M504.3 43.7v8.6M503 43.7v10.2M501.5 44.2v9.3M501.1 48.4v7.8M498.3 46.2v10.3M497.7 50.1v7.6M497.6 50.3v7.7M494.4 50.2v8.3M493.5 49.2v10.4M492.3 53v7.3M491.3 51.3v8.7M489.7 54v8.6M487.9 53v8.9M487.2 54.4v8.4M485.9 55.9v8.4M483.6 55.8v9.6M483.8 58.2v8.4M478.9 63.1h7.3M476.4 64.1h9.3M476 64.2h7.8M478.4 59.8v9.3M477.4 61.7v9.3M475.3 61.7v9.3M474.8 63.4v10.7M472.5 63.6v10M472.9 65.9v8.2M471.3 66.7v10.1M464.2 72.4h9.9M467.5 67.6v10.4M469 71.7v7.4M467.6 71.7v7.4M463.7 77.9h7.6M465.1 75.3v7.3M463.6 74.1v9.5M463.3 75v9.7M455.9 81.1h9.7M456.6 83h7.9M455.7 82.9h7.8M455.6 86.1h7.3M457.3 81.4v10.4M455 82.2v8.7M449.4 87.2h10.2M453.1 84.3v9.2M454.4 87.7v7.9M450.9 86.2v9.9M452.8 88.3v9.5M446.7 93.4h8.2M450.7 92.2v7.6M445 97h9.9M442.5 97.2h9.6M444 100.2h8.5M443.1 100.9h9.1M439.9 101.2h9.7M439.7 103.7h10.3M437.3 104.2h9.6M437.7 105.1h10.4M437.5 108.1h9.7M436.2 107.9h10.5M437 110.2h9.4M436.8 111.4h7.3M433.8 112.5h10.2M432.8 113.6h9.7M436.2 115.8h7.5M433.5 117.8h8.1M431.8 119.2h10.1M430.2 119.7h9.8M429.8 120.2h9.6M429.8 122.2h10.2M429.2 124.1h7.8M427.6 125.4h10.2M428.3 126.7h9.5M426.5 127.2h10.3M425.6 128.6h9.5M425.2 130.1h9.7M428.1 132.3h7.8M427.8 134.6h7.3M425.9 135.7h8.7M424.1 137.2h8M422.3 138.2h10.6M422.8 140.1h10.5M423.6 141.6h9.1M422.4 143.4h9.1M425.4 144.4h7.3M422.1 146.1h8.6M422 146.8h10.1M422.4 149.3h9.3M423 151h8.5M419.8 151.9h9M421.4 153.3h9.2M419.2 154h9M421 156.1h7.5M419.5 157.2h8.2M418.1 158.4h10.4M418.3 160.9h9.8M418.4 161.5h8.9M418.9 163.9h9.4M417.1 165.8h9.1M418.7 167.1h10.1M420.4 169.3h8M417.3 169.6h9.4M417.9 172.3h10.3M417.8 173h10.1M418.1 174h8M418.8 176.1h7.6M419.1 178.4h8.1M419.8 178.6h7.7M417.9 180.2h7.3M418 182.9h8.3M416.3 183.6h10.1M417.5 184.7h9M418.3 186h7.8M415.8 187.6h10.6M416.5 189.9h9.2M417.5 190.8h9.8M416.9 193.4h10.2M417.3 194.3h10.2M418.4 195.4h9.1M417.4 196.7h8.8M419.7 198.1h7.8M418.6 200.5h8.7M417 201.5h10.8M416.6 203.5h9.6M419 205h8.2M420.6 206.9h8M419.4 208.2h8.3M419.4 209.4h9M419.1 211.4h8.4M419 212.1h7.6M420.6 213.8h8.5M421.2 215.2h8.1M420.1 217h8.2M419.8 219.1h9.4M421.6 220.6h7.6M420.4 221.4h7.5M420.9 223.7h9.1M421.9 223.8h9.3M422.6 226h8.2M421.2 227.9h10.5M423.9 229.4h8.2M424.2 230.4h8.3M420.4 232.5h10.4M421.2 233.4h10.6M425.8 235h7.5M421.9 237.6h9.7M423.5 237.9h8.2M427.1 239.6h7.5M427 240.1h7.7M425.1 242.8h9.3M425.2 244.1h10.3M426.7 245.2h8.6M428 246.2h9.2M430.4 247.6h7.4M429.9 249.5h7.6M428.5 251.2h10.7M428.6 252.7h8.2M431.9 253.9h7.3M432.6 255.1h8.2M432.8 257h8M430.3 259.9h9.8M430.6 260.1h10.4M432.7 261.3h10.1M435.1 262.5h9.3M436 263.4h8.1M435.3 264.7h8.9M435.3 268.2h9.2M436.2 268.4h10.4M435.9 270.6h10M439.9 270.4h8.7M439.1 272.3h7.7M440.8 273.7h9.7M441.6 274.7h7.9M439.2 276.9h10.4M441.2 277.8h9.1M442.7 278.5h9.7M443.2 280h9.9M449.2 278v9.2M449.5 277.7v9.9M447.1 284.2h9.6M448.4 285.4h8.5M452.1 282.1v9.8M449.1 288.5h9.4M450.4 288.2h10.5M455.6 284.6v10.4M453.7 290.7h8.2M459.4 288.2v7.3M455.1 293.5h9.8M456.6 294.3h9.3M456.4 295.8h9.5M462 292.5v8.4M459.7 298.8h8.1M461.4 298.5h8.4M460.9 300h10.2M462.1 300.8h10.8M468.8 297.8v8.5M469.5 297.7v9M470.3 300.9v9.3M470.7 301.8v9.7M473.9 302.1v7.3M474.1 303v9.3M476.9 303.7v8.1M477.1 304.8v9.6M477.2 305.9v10.2M475.5 310.9h9.2M479.5 308.2v8.2M481.3 308.6v10.2M481.9 310.2v8.4M483.8 311.1v8.4M485.2 312.9v7.7M487.3 313.1v7.4M487 312.6v10.6M488.7 315.3v7.3M490.7 314.9v10.1M490.4 316.4v10.7M493.7 317.5v7.5M494.3 316.8v10.4M495.1 319.6v7.5M496.8 317.9v10.1M499.2 319v10.4M500.1 319.4v8M501.2 321.6v7.6M502.7 321.1v9.9M503.9 323v9.8M504.6 324.4v9.3M506.3 325.1v8.6M508.6 324.4v7.7M509.5 324.9v7.9M510.4 326.6v10.4M511.8 325.9v10.6M514 325.7v7.9M514.7 327.1v10.3M517.6 327.6v9.2M518.3 327.3v8.9M519.8 327.8v8.1M521.1 329.1v7.9M522 330.8v8.9M524.4 330.9v8.4M525.2 330.5v8.5M527.8 330.6v10.7M528.8 333.6v9.4M529.9 333.8v8M531 332.6v7.7M532.7 332.3v8.3M534.8 332.2v7.7M536.2 334.9v10.1M537.8 335.5v8.7M538.2 335.7v9M541.4 333.8v7.5M542.4 335.1v9.3M543.3 334.4v9.5M545.1 335.7v8.3M545.5 337.3v9.3M547.9 334.8v9.6M549.5 336.5v8.4M550.9 335.3v9.2M551.8 337.8v7.8M553.9 337.2v9.6M556.1 336.9v8.7M557.5 338v10.7M558.7 337.9v9.1M560.6 338.9v9.6M561.9 338.9v9.4M562.6 337.4v9.5M564.6 337v10.6M567.1 336.9v9.6M567.3 339.2v7.8M569.9 337.4v9.5M571 338.8v9M572.8 339.7v8.7M574.2 337.3v8M575 337.5v8.4M576.3 338.2v9.2M578.7 338.2v9.3M580.1 339.5v7.6M581.9 337v7.9M583.5 337.9v9.1M584.2 339.8v9M586.5 338.6v8.6M587.5 339.5v10.6M589.8 337.9v7.9M590.6 336.6v8M591.7 338.1v8.6M594.5 338.6v8.8M594.9 338.9v7.5M596.3 336.4v7.7M598.5 337.2v7.8M600.8 337.1v9.4M602.2 336.4v9M602.5 335.6v10.4M604.5 337.5v7.5M606.2 336.1v7.8M607.1 336.5v8.2M609 335.5v9.3M610.1 337v7.6M612.4 334.8v9.9M613.6 334v8.2M614.8 334.1v9.3M616.7 334.8v8.8M618 332.9v7.6M620 332.6v8.7M621.3 333.1v9.4M622.9 334.2v7.3M623.2 331.8v8M625.3 332.6v9.7M627.1 331.7v8.7M627.6 330.1v7.6M630.6 331.3v10.5M631 329.5v9.6M633.1 330.2v9.3M634.8 328.5v8M635.7 327.5v9.6M637 328.1v9.4M639.7 327.7v9.6M640.4 326.7v8.5M641.5 327.5v8.2M643.5 325.8v9.5M643.5 324.2v7.6M646.3 325.8v9M647.5 325.2v8.8M648.1 323.5v7.4M650.3 322v8.7M652.6 323.1v7.7M651.7 320.4v8.8M654.8 321.6v8.6M656.4 319.4v10.7M657.2 318.5v8.5M658.6 318.7v8M659.6 316.9v10.5M660.7 315.7v7.5M661.9 317v7.5M664.6 315.5v8.7M664.9 312.9v9.7M666.5 314.2v9M667.8 311.6v9.4M665.5 315.9h7.7M670.2 310v7.8M671.2 309.9v9.6M672.3 307.9v8.7M675.6 308.4v10.8M676.2 308.4v8.7M677.5 307.3v9.5M678.7 304.5v10.7M680 303.5v10.5M680.3 302.2v10M681.6 302.4v8.9M682.2 300.1v8.7M683.5 298.8v10M683.7 298.7v8.8M681.1 303.2h9.5M686.8 298.3v7.7M689.3 295.7v10.2M688.3 293.8v8.4M690 292.9v8.7M691.4 294v7.3M691.7 291.2v7.9M693.2 289.1v9M694.5 289.4v8.8M690.8 292.2h7.5M693.1 291.9h8.7M698 286.8v7.4M699.6 284.6v10.8M700.4 284v9.4M696.7 287h9.8M696.5 284.8h8.9M698.1 283h8.3M704 277.8v10.2M704.8 278.1v7.5M699.9 280h8.8M705.6 275.1v8.1M702.7 277.2h9.6M703 276.3h7.5M703.5 274.5h10M704.3 273h9.2M704.7 272.3h8.8M708 271.8h7.9M707.6 269.3h10.3M708.1 267.4h9.4M709 267.3h8.9M709.8 266.4h10.4M710.1 264.4h10M711.4 263.1h10.3M711.3 261.3h8.3M713.9 260.1h8.4M713.6 259.1h8M713.6 257.2h8.6M714.1 255.4h9.8M714.1 254.6h10.4M716.1 252.5h8.3M717.6 252.2h9.7M718.4 250.3h8.5M717.5 248.4h10.5M717.1 246.9h7.2M719.6 246.4h10M719.9 244.4h9.7M718.7 241.7h7.4M720.8 241.1h8.3M721.1 240.2h8.2M720.9 238.3h9.2M721.2 236.3h10.3M723.1 235.1h8M723.4 233.8h7.7M721.6 232h8.5M723.6 230.4h8.5M723.6 230.4h10.7M724 228h10.2M723.3 226.4h8M725.4 225.8h9.3M725.1 223.2h7.5M725.9 222.3h8.6M725 220.8h8.8M726.6 219.7h9.3M724.9 217.2h8M725.1 215.8h8.3M726.7 214h10.2M726.8 213h9.1M726 210.4h8.4M728.1 210h8M726.6 207.9h8.7M726.6 206.7h7.6M728 205.6h9M726.3 203.2h7.7M728.2 202.6h8.1M727.8 200.7h10M727.2 198.5h10.5M727.6 197.9h9.9M728 196.5h9.4M727.1 194.4h7.4M728.2 193.4h8.6M727.6 191.9h8.6M728.1 189.8h10.5M729.5 188.8h9.1M734.1 187h8.5M733.4 185.3h7.8M733.9 183.5h7.6M734.3 181.8h7.5M733.7 179.3h7.6M733.7 179.1h6.9M733.6 176.1h8.1M733.6 175.4h8.4M733.1 172.6h7.7M730.7 171.1h9.4M732.1 170.5h7.9M731.1 168.6h9M734.1 167h6.6M733.9 165.7h6.7M732 162.6h7.1M730.3 162.6h9.4M731.1 159.3h8.9M730.3 158h9.1M731.6 156h7.1M731.1 155.5h7.9M732.4 153.1h7.5M730.9 151.6h7.8M730.2 149.4h8.1M729.7 148.3h8.4M729.1 146.5h7.5M727.4 145.4h9.1M729 142.6h8.1M728.6 141h7.4M726.6 140.2h9.6M727.8 139.1h8.6M727.4 137.1h7M728.1 135h6.8M726.8 132.9h6.8M724.3 133h9.2M725.5 131.1h7.9M725.8 128.5h7.5M725.7 127.4h7.1M723 125.2h8.6M721.8 124.9h9.2M722.4 121.8h7.1M721.1 120.5h8.9M718.9 119.9h9.2M717.8 118.2h9.5M720 116.6h6.8M720.7 114.7h7.3M719.2 111.9h7.6M718.3 110.8h6.5M716.7 110.7h7.5M717.1 107.8h6.9M715.3 106.6h7.5M714.5 106.5h7.2M713.8 105h7.6M711.4 102.4h8.4M711.4 101.6h7.3M711.5 98.8h7.8M710.2 97.8h7.3M709.7 96.1h6.6M709.6 95.6h6.6M708.1 92.9h7.6M707.3 91.8h8M708.8 87.3v8M702.6 90.9h9.6M703 88.9h8.1M704 85.8h7.4M701.4 86.2h9M699.9 84.1h7.9M703.1 77.6v9.2M702.8 78.6v7.1M697.1 80.1h7.6M696 79.5h9.4M695 78.1h8.3M694.8 76h6.9M693.8 74h7.1M692.8 72.5h6.7M695 68.9v7.7M691 70.2h6.9M691.6 65.9v7.9M686.9 68h7.8M689.9 62.4v7.8M688.9 62.4v8M682.8 64.4h8.2M685.9 59.1v9.2M684 59.6v6.9M683.1 58.7v8.5M675.9 61.8h9M679.7 55.9v8.5M679.3 55.4v6.5M678.5 54v6.8M675.1 53.5v8.7M674.7 51.3v8.3M673.9 51.5v7.5M672.1 50.6v8.4M670.2 49.8v7.1M668.7 48.5v8.1M666.8 48.1v6.9M666.5 45.9v9.4M665 46.5v7.5M663 44.5v8.8M661.4 43.6v8M661.3 42.7v8.2M658.5 43.2v9.3M656.6 40.8v9.5M655.7 40v8.2M653.8 40.5v8.6M652.3 39.6v6.5M651.1 37.8v6.5M649.4 38.9v6.9M648.5 36.1v7.4M646.1 37.3v7.6M645.5 37v7.2M642.5 36v9.5M641.2 34.5v9.4M640.3 34.6v7.3M639.2 32.7v8.2M637.7 32.1v9.5M635.9 32.9v7.2M634.9 31.2v8.6M632.8 30.4v7M631 29.7v7.7M629.7 31.4v7.1M627.6 30.9v6.5M626.1 29.6v8.5M624 27.5v9.1M623.1 29v9.3M621.1 28.4v9.6M618.7 27.9v6.7M617.8 27v8.9M615 27.8v9.2M614.3 27v9.2M613 25.8v6.9M610.4 25.9v8.7M609.8 26.5v9M608.7 24.8v7.8M605.9 24v8.1M604.9 24.3v9.4M603.8 23.4v7.8M602.1 24.2v7.6M599.9 24.6v8.3M597.2 24v7.3M596.5 24.8v8.7M594.2 24.3v8.3M593.5 24.6v8.6M591.9 22.7v7M590.4 22.3v9.3M588.6 22.9v9.2M587 22v9.5M585 23.6v8.7M583.1 21.7v6.8M581.2 22.1v6.9M579.1 22.1v6.5M577.6 23.5v9M576.9 23.7v8.1M575.4 23.2v7.2M572.4 22.7v7.4M571.3 23.2v9.2M570.1 21.9v7.8M568.7 23.3v6.9M565.5 23.5v6.9M565 23.6v7.2M562.5 23.8v8.8M560.9 23.1v9.4M559.1 23.2v9.2M557.6 24.4v7.9M555.5 23.7v9.2M555.3 22.9v9.6M552.9 24.3v7.4M551.7 23.2v7.1M550.2 25.3v9.3M547.1 24.1v9.2M546.1 26.5v6.6M544.9 25.6v7M543.3 24.8v7.5M541.2 27.4v9.2M539.3 27v6.4M537.9 27.1v6.9M536.3 26.8v8.4M534.6 28.8v8.6M532.5 28.3v7.3M531.6 27.4v7.5M528.9 27.8v6.8M528.6 30.4v7.9M527 29.7v8.8M525.8 30.8v7.9M523.6 30.9v6.8M522.5 32.1v7.8M520.6 31.2v7.4M517.6 31.9v6.9M517.9 33.5v9.3M515.6 33.1v8.1M513.4 34.6v7.7M511.7 33.6v8.8M510.4 34.4v7M509.1 36.6v9.3M507.6 36v8.6M506.6 37.1v9M504.8 36.8v9.1M503.2 39.6v8.1M502.8 39.6v9.4M499.1 39v8.1M499.1 41.1v8.2M496.2 40.7v8.7M495.1 41.3v8M493.7 44.3v6.9M491.6 42.9v9.5M491.4 44.7v7.9M488.1 45.2v6.8M486.9 47.3v6.5M487 48.4v9.2M485.6 48.2v8.4M483.5 49.1v9.1M477.7 54.1h9.3M480.8 50.7v7.5M479.2 51.9v7.4M477.3 51.9v8M476.5 53.6v8.3M475.5 54.5v7.9M472.3 55.8v7.4M472 56.8v7.4M471.6 57.7v9.4M470.2 59.9v8.1M469.5 60.9v7.2M467.8 62.3v8M465.5 62.1v8.3M465 63.5v8.4M463.7 65.3v7.1M458.6 69.1h6.7M457.3 70.3h7.5M458.4 68.7v7.1M454.4 73.8h8.5M452.9 75.4h7.7M451.6 75.6h8.8M450.9 77.1h7.1M453.8 73.7v8.1M453.5 76.3v7.5M452.2 77.1v9M450.6 79.8v6.8M444.6 84.1h8.9M444.6 84.8h7M444.2 87.2h8.7M446.8 83.8v7.9M441.5 89.2h9M441 91h9.6M440.7 92.9h6.4M441.7 89.1v7.2M437.6 95.7h9.5M437.6 95.9h6.6M436.7 99.1h6.4M435 99.3h6.9M435.5 100.5h6.5M434.3 103.3h9.3M431.9 104.3h7.6M431.8 105.2h8.4M430.5 107h8.3M431.2 109.4h6.7M428.8 109h7.8M427.7 111.3h8.2M427.4 112.6h8.1M427.1 114.6h7.3M425.6 116.2h8.3M426.5 119.1h8.7M424.4 119.7h9.4M424.8 121.3h8.7M423.1 122.9h9.5M423 123.6h7.6M422.2 125h9M421.8 127.9h7.8M422.7 128.6h8.3M420.4 130.4h9.2M421.5 132.4h9.4M419.3 133.4h8M419.2 136h8.5M419 137.5h7.9M417.7 139.3h8.9M417.5 139.3h7M417 142.5h9.1M418 144.2h6.7M416.3 145.9h9.4M417.4 147h8.8M416.6 147.8h8.2M416.7 150.1h9.3M414.6 151.7h8.4M415.9 154h7.2M416.1 154.5h9.1M414.6 156.2h7M415.6 159h6.5M414.8 160.2h7.8M414.7 161.6h8.4M414.4 163.8h8M413.6 164.1h7.2M414.7 166.3h7.1M413.4 168h6.9M412 169h7.1M414.1 171.4h8.2M412 173h8.9M413.8 175.8h6.5M412.7 177.2h8.6M412.6 177.9h7.1M412 180.4h7.2M411.4 181.5h7.9M411.5 182.6h7M412.8 184.8h8.9M411.3 186.7h8.5M412.6 188.2h7.2M411.5 190.8h9.1M411.4 191.3h9.5M411.8 192.7h9.1M412.6 195.8h8.4M411.7 197.1h9.1M412.4 197.6h7.7M412.3 199.3h8.9M413.3 202.2h7.6M412.1 203h9.4M412.5 204.9h8.1M412.1 206.1h9.1M413.3 208.9h6.8M413.4 209.6h9.5M413.1 212.3h8.1M414.9 214.1h6.8M413.9 214.7h8.6M414.4 217.6h7.1M415.2 218.7h7.1M416.1 219.2h7.4M415.9 222.1h9.1M415.4 224.1h8.7M416 225.6h8.7M416 226.7h9.3M417 227.6h8.7M417.2 230.4h6.5M416.9 231.6h6.6M416.6 232.6h9.5M418 235.3h8M419.1 236.4h7.2M418.3 238.6h8.9M420.2 239.4h9M419.2 241.3h8.4M421 242.9h8.9M420.2 244.9h9M420.9 247h9.6M421.7 247.9h8M423.2 248.9h6.8M422.6 250.8h6.8M424.2 252h7.5M424.2 253.9h9.2M425.7 256h7.6M424.5 257.1h8.9M427.1 258.7h6.4M427 260.3h8.6M427.9 261.7h8.3M428.9 262.9h9.1M428.2 265.3h7M429.2 266.9h9.5M430.7 268.7h8.4M431.3 269.9h7.8M432.5 270.3h7.9M432.8 272.5h9.6M433.3 274.3h7.3M434.1 275.5h8.4M435.7 276.9h8.9M437.1 278.9h7.9M437.2 279.5h7.9M438.6 281.2h8.2M443.7 278.7v7.9M439.6 284.3h9.4M442.1 285.5h7.4M442.2 286.4h7.1M443.4 287.8h7.3M448.5 286.3v7.2M449.3 286v8.2M447.1 292.4h7M447.6 295.1h6.5M452.7 291.5v8.7M449.2 295.7h8.5M454.1 294.4v8M455 295.5v7.6M457.3 296.1v9M456.9 298.8v6.5M454.5 303.4h9M457.2 303.9h6.9M456.7 305.7h9M463.1 303v7.3M460.3 307.5h8.3M460.7 309.2h7.1M465.3 308v6.6M467.7 307.6v8.3M468.9 308.4v8.3M467 313h8.2M467.7 315.2h7.1M473.3 311.6v6.9M474.5 312v8.7M472 317.3h9.5M477.1 314v7.5M478.1 315.2v8.4M475.9 321.2h8.1M481.4 317.2v8.4M483.5 318.4v8.8M484.9 317.6v8.7M485.5 320.9v7.1M485.8 323v6.6M488.8 322.6v8.4M491.5 321.8v8.6M491.4 323.3v9.2M493.7 324.6v7.8M495.1 325.2v7.1M496.1 326.6v8.3M497.3 327.4v8.2M500.4 326.2v9.3M500.6 328v7.8M503.1 327.5v8.5M503.3 330.1v8.6M505.9 328.9v8.2M508 331.7v6.7M507.9 332.7v6.9M509.9 332.6v8.3M512 332v8.8M514 332v9.5M514.1 335.4v7.5M517.1 333.5v8.4M517.6 336v6.8M520.3 335.2v9.3M522.3 336.6v8M523.5 336.1v7.5M523.9 339.1v6.7M526.7 338.1v6.8M528.5 337.3v8.1M530.5 338.6v7.4M531.4 339.7v7.3M533.5 338.6v8M535.2 340v6.8M537.3 339.5v7.6M538.4 342v7.2M540.4 340.7v7M541.2 340.4v8.1M542 342.7v7.4M544.3 341.7v7.6M545.6 341.9v7.5M547.7 341.6v7.8M549.4 342.2v7.8M550.8 340.5v8.9M553.4 343.3v7.5M555.1 343v7.2M556.2 343v7M557.4 342.4v7.8M559.5 341.3v9.4M560.5 344v8.2M562.9 343.1v7.4M565 343v9M566.4 343v9.5M568.7 345.4v7.9M569.9 341.6v9.5M572.1 345v7.9M573.1 344.9v7.7M574.4 344.2v7.6M575.4 343.7v9.1M577.9 344.1v8.8M579.6 345.2v6.6M581.9 343.7v8.7M582.7 344.4v7.2M583.9 346.1v6.7M586.8 344.9v7.4M588.1 344.8v7.2M590.2 344v8.6M591 342.6v8.5M593.5 344.2v8.4M594.2 342.6v8.8M596.3 343.7v7.2M597.9 343.3v6.7M599.7 342.9v7.9M601.6 342.7v8.3M603.5 341.5v8.3M604.5 341.9v8M606.8 342.9v7.6M608.5 342.8v7.4M609.2 342.2v7.9M610.5 341.4v7.4M612.6 340.4v9.3M615.7 342.4v6.5M616.9 340.3v6.9M618.2 338v8.7M620.3 339v9.3M621.2 338.3v8.8M623.1 338.6v9.3M624 336.1v9.5M626 337.4v8.5M627.3 336.5v8.9M629 337.2v8.8M630.9 337.2v7.4M632.8 335.2v8.2M633.9 336.6v7M635.7 333.8v9.1M637.5 334.1v7.2M639.1 333.5v8.2M640.6 333.8v7.1M641.6 333.4v7.3M643.8 332v8.1M645.5 329.9v8.9M646.6 331.6v8.9M648.9 331.4v7M650.3 330.2v6.6M652.1 331v7.2M652.2 327.5v8.3M654.7 327.2v7.3M655.9 326.6v7.6M656.7 324.6v8.7M659 325.5v6.9M660.8 324.3v7.2M662 322.1v8.8M664.4 322.8v7.2M664.8 321.3v8.8M661.6 324.3h9.2M668.2 319.4v7.5M669.1 320.5v7.1M670.8 317.2v8.7M673 318.5v6.5M674.2 317.1v7.3M671.9 319.5h8.5M676.9 314.3v8.7M677.2 313v8.6M680.1 314.4v7.5M680.4 311.5v7.9M682.8 310.6v7.9M684.7 310v7.1M685.3 308v9.5M687.1 307.7v8M683.4 310h7.9M689.5 305.6v7.1M690.1 304.9v6.6M691.8 302.1v9.2M687.3 305.4h9.3M694.2 301v6.9M696.4 299.5v8.3M698.2 299.2v6.7M696.8 295.8v8.4M698 295.3v8.6M700.2 295v7.9M696.5 296.1h8.8M702.9 290.8v9M703.5 291v8.5M704.3 288.4v8.3M703.7 286.3v9.3M706.2 285.8v8.9M703.6 288.2h8.3M709 283.3v8.5M704.5 284.6h8.9M709.9 279.7v9M707.4 284.2h8.1M706.8 281.6h9.5M713.1 276.1v8.9M709.9 278.5h7.1M711.7 277.5h7.7M712.7 276.4h7.7M711.4 274.9h9.5M712.2 272.2h8.2M713.8 271.1h8.6M715.3 269.5h6.6M716.5 267.7h8M717.6 266.9h7M715.4 264.3h9M719.1 263.8h7.9M718.8 261h7.4M719.4 260.5h6.8M717.9 258.7h9.1M718.9 256.9h8.6M720.5 255.9h8.6M721.6 254.2h7.9M722.7 252.7h7.9M722.6 251.7h8.8M724.3 249.7h8.1M722.5 247h8.8M723.3 245.6h8.7M725.3 245h6.6M726.4 243h8.4M725.3 241.8h9.3M727.9 239.6h7.4M728.3 238.5h7.7M728.3 237h7.6M728.5 234.3h7.7M729.4 234.3h7.6M729 231.7h6.7M728.9 229.5h8.3M729.6 227.7h7.2M728.9 227h9.4M729 225.1h8M729.7 223.4h8.4M729.7 220.9h8.3M731.1 220.4h9.3M730.3 218.5h8.2M732 217.3h8.3M731.9 215.2h7.9M729.5 213.4h9.5M731.3 212h9.1M733.7 210.3h6.5M734.5 208.1h7.3M731.8 207.3h8.6M733.3 205.7h6.9M733.1 202.9h7.2M731.3 201.1h8.8M734.2 199.9h8.3M734.6 199h7.6M735.3 196.2h7.5M733.2 195.5h7.6M734.5 193.7h7.6M732.8 191.4h9.2M731.2 189.8h9.4M732.9 188.8h9.4" stroke="#ffb200" stroke-width="1.0" fill="none"/>
<path d="M721.4 187.2h8.5M724 185.5h7M724.7 183.5h6.7M722.3 182.3h9.1M722.4 180.2h8.2M721.6 178.2h8.5M719.9 177.3h8.6M721.7 175.2h9M722.4 173.9h6.9M723.3 171.3h7.8M720.8 170.7h7.7M719 167.7h9.1M722.5 167.2h7.5M722.7 164.3h6.9M722.2 162.9h6.5M722 162h7.6M717.2 160.9h9.5M720.7 158.5h7.5M719.6 157.2h8.4M717.7 154.7h9.5M720.8 153.7h7.3M718.9 152.2h8.3M717.5 150.1h9.3M718.7 149.1h6.4M717.5 147.5h8.3M720 144.4h6.7M717.4 143.2h7.6M716.1 141.5h7.5M716 140.8h8.5M714.5 138.8h8M715.2 136.5h6.4M715 135.6h6.9M716.8 133.5h6.8M714.6 130.8h7.8M712.5 130.7h9.6M711.5 128.5h8.7M713.1 127.7h6.8M712.4 124.8h8.1M710.8 123.2h8.9M710 122.2h8.1M707.5 122.3h9.2M708.1 118.8h8.2M708.3 117.8h8M707.2 116.5h6.9M706.4 114.2h9M703.5 114h8.5M705.5 111.9h8.5M705.6 108.7h6.8M701.1 109.6h9.5M700.8 107.5h9.2M702.6 104.8h7.5M699.9 104.6h7.8M700.3 103.1h6.7M697.8 102.2h7.9M701.6 95.9v6.8M698 98.1h8.7M696.6 97.2h7.3M696.8 95.8h6.5M693.4 94.1h8.1M692 93.3h9.3M693.9 90.2h6.7M691.5 89h6.8M691.4 88.3h7.9M688.3 87h8M687 85.8h8.1M685.5 86h9.4M687.2 81.6h6.4M689.9 77.6v7.5M688.7 76.3v7.3M685.5 76.7v8.4M681.4 77.2h8.2M679.7 76.9h7.6M682.8 71.9v7.5M680 72.3v6.5M675.9 72.8h8.8M676.7 69.4v8.5M675.9 68.8v7.5M676.6 65.5v6.7M675.2 64.9v8.8M667.4 69.8h9.3M671.6 62.4v8.1M669.8 62.4v7M669.7 60.5v7.4M667.2 60.3v9.5M666.5 57.9v8.6M665.4 58.9v7.1M657.9 62.7h8.7M661.1 56.1v7.9M659.1 55v9.5M658.5 53.7v9.2M656.4 55.2v9.5M656 52.8v8.1M655.2 51.6v7.6M653 51.4v6.5M651.1 49.8v7.3M648.9 50.8v8.5M647.2 49.5v7.6M646.4 50.2v7.9M645 48.7v7.1M641.6 48.5v9.1M641.3 47.5v8.2M640.9 45.1v6.6M639.5 44.5v6.6M636.3 45.5v7.2M635.1 45.5v6.7M634 43.5v7.3M632.6 42.2v6.9M631.3 41.6v8.8M629.3 41.3v8.6M627.4 42.7v7.2M625.6 39.6v9.1M623.9 40.8v9.3M623.1 39.3v7.7M620 39.9v8.6M619.5 37.9v9M618.2 39.5v6.8M615.5 39.5v6.8M613.9 38.5v7.9M611.4 39.2v9.4M610.2 37.5v8.5M609.7 35.8v8.8M607.4 38.2v7.5M605.8 36.5v6.6M604.3 37v9.2M602.1 35.6v7.3M601.6 37.1v7.5M600 34.9v6.5M597 35.4v7.7M595.1 35.6v8.4M593.7 36.6v7.2M592 34.8v7.8M590.5 34.8v6.5M589.9 35.6v8.2M588.3 34.2v9.1M585.4 35.7v6.5M584.5 35.5v9.5M581.9 35.1v8.9M581.5 33.5v8.6M579.3 35.8v7.2M578.3 35v9.4M576 33.1v7.6M574.5 33.2v9.2M572.6 35.7v8.8M571.3 35.3v8.9M569 35.8v6.8M568.1 33.5v8.6M565.7 33.7v7.5M563.5 35v7.4M562.4 33.8v7.1M561.2 36.4v9M559.1 35.6v9M557.6 36.4v6.9M555 35.8v6.7M554 34.4v9M551.7 36.5v7.6M551.3 36.9v9M549.6 37.8v8.8M547.4 37.3v6.9M545.8 35.8v7.7M545 38v7.9M542.6 38v7.3M540.7 39.2v9M538.8 38.2v7.7M537.9 38.9v7.5M535.5 39.1v6.9M534.3 40.9v7.7M532.7 39.1v6.7M531.4 39.3v9.5M530.4 42v8.4M527 42.2v6.7M525.8 40.5v8.6M523.1 41.2v6.9M522.8 41.4v8.8M521.2 43v6.5M520 44.9v7.3M518.4 46.1v7.1M516.7 46.2v6.6M515 46.1v7.6M513.4 46.3v6.7M510.3 46.6v7M510.4 45.7v9.2M509 49.2v7.7M506.4 48.9v9.3M505.5 50.7v9.3M504.4 50v9.3M502.8 50.3v9.2M501.3 52.9v8.6M499.7 54.5v7.9M498.8 54.6v8.3M496.8 54.9v7.9M495 56.2v9.6M493.4 56.6v9.3M491.8 58.6v7.3M490.3 58.3v8.9M489.5 58.7v7.6M488.2 59.8v8.9M481.8 64.2h7.2M484 60.6v8.5M483.8 64.7v6.8M481.9 62.6v8.3M476.7 68h6.5M476 71.2h8.6M478.5 67.9v8.3M475.3 67.3v9M474.5 68.4v7.2M474 69.9v9.1M472.8 72.6v6.8M467.6 76.3h7.1M471.2 73.8v7.8M464.5 77.9h8.6M467.1 75.1v8.4M462.1 79.5h6.5M464.5 77.9v7M458.3 83.8h8.8M460.1 86.2h7.7M463.3 83.4v9.2M460.7 83.9v7.9M459.7 84.7v7.6M455.5 91.2h8.9M454.6 92.8h8.9M453 92.8h8.1M451.1 95.2h9.2M455.4 92.6v8.1M449.2 97.3h7.8M449.5 99.8h7.1M447.2 99.1h7.1M447.2 102.1h7.3M446.8 104.6h6.9M446.5 105.8h9.6M444.9 106.2h7.3M442 107.6h9.5M441.4 109.2h9.3M441.6 110.7h8.9M440.2 110.8h7M439.5 113.3h8.8M440.8 115.5h6.6M438.9 116.7h8.2M437.8 118.8h8M436.8 119.5h8.8M438.4 122.2h8.7M435.2 122.5h6.6M435 124.1h9.2M436.2 127h7.2M435.9 128h7.9M433.8 129h7.4M434.7 131.9h9.6M432.3 132.1h9M432 134.5h7.4M432.9 137h8.3M432.6 137.7h8.7M429.3 138.2h8.5M430.7 141.4h6.6M430.9 143.4h9.4M428.3 143.7h7.6M428.6 145.8h7M427.6 147.1h6.7M427.1 148.2h7.9M426.5 150.5h8.9M426.9 151.4h6.4M426.3 153.8h7.6M427.6 155.7h6.7M426.8 157.1h9.3M424.7 158.9h8.1M426.4 161.4h6.5M427.1 161.8h7.3M424 164.7h9.5M423.7 165.3h8.4M426.5 168.3h8.5M426.5 168.9h7.3M425.1 170.2h7.4M424.4 172.4h6.6M425.6 174.7h7.2M425.2 175.9h9.2M423.6 178.1h9.5M423.2 178.4h9.6M422.8 179.9h7.6M422.2 181.7h6.9M424 184.1h8.7M422.8 186.2h7.9M424.4 187h8.2M422.2 188.7h9.5M422.8 190.9h8.7M422.9 192.8h9.2M424.7 193.6h6.7M424.4 196.5h7.9M422.9 198.3h9.6M423.9 198.8h6.6M425.1 200.4h8M425.8 202.5h6.4M424.4 203.6h8.1M424.3 206.1h7.4M424.1 207.7h6.5M425.9 209.1h6.9M424.3 212.1h6.5M424.8 212.7h8.4M426.1 214.1h7.1M425 215.2h9.2M426.5 218.3h8.8M427.7 218.3h6.7M425.6 220.7h6.5M425.7 222.5h9M427 224.8h7.5M426.1 225.9h8.1M427.2 228.1h7.4M427.7 230.1h7M430.4 230.8h7.2M428.9 233.6h6.8M429.4 234.2h8.1M430.7 234.8h8.1M431.6 238h7.4M432 239h9.1M430.9 240.6h8.7M432.8 241.5h7.4M433.8 243.2h7.1M431.9 245.8h7.2M434.4 247h8.2M434.4 248.2h7.5M435.6 250h7.1M435 252.2h7.3M435.7 254.2h7.2M437.6 255.7h7.7M436.5 257.6h9.5M437.3 258.7h8.6M439 259.9h7.7M439.5 261.5h7.7M440.2 264.1h7.2M441.1 264.1h9.6M440.5 266.3h7.2M441.7 267.9h7.5M443.6 269.2h9.5M446.1 270.1h6.8M444.1 272.6h7.5M446.5 274.1h7.5M450.2 271v9.2M451.9 271.6v9.4M447.7 278.6h7.2M451.1 278.6h7.5M449.9 281.4h6.9M451.8 282.6h8.7M455.9 279v9M452.8 284.9h7.9M457.9 282.3v7.8M460.4 282.2v8.8M457.3 288.2h8.7M457.4 291h9.5M457.7 292.3h8.5M465.2 286.9v9.2M461.5 294.5h7.3M462.5 294.7h9.2M468.1 292.5v8.3M466.4 297.1h9.2M469.1 295.9v8M471 297.3v8.5M473.3 299.1v6.8M473 300.1v6.5M477 297.5v9.4M472.7 306.5h7.5M479.3 302.5v7.2M478.7 302.8v9.2M480.9 303.8v8.6M479.5 307.9h9.6M479.6 310h7.6M485.7 306.7v8M487.1 306.3v8.4M488.7 309.6v7.7M486.6 312.1h8.8M492.3 309.6v9.1M493.8 311.5v7.9M494.2 312.5v6.5M496 314v6.9M496.7 316v7.4M499.9 314.9v7.8M501 316.7v6.9M501.2 317.9v7.5M503.7 317.8v8.4M505.1 316.9v9.5M506.5 318.1v9.5M508 320v8.7M511.1 318.5v8.6M511.1 319.9v9.3M511.8 322.3v7.1M515 320.9v7.8M515 324.4v6.5M518.4 323.3v6.7M518.9 323.4v8.8M521.6 322.6v8.4M521.8 327.6v6.4M525.1 325.6v6.8M525.6 325.9v9.4M528 326.7v7M529.2 328.5v6.5M530.9 327.3v7.1M532.7 327.3v8.6M533.3 329.1v6.9M536.2 326.3v8.6M537.2 329.2v6.7M539.1 332.1v6.6M540.2 330.1v6.7M543 330.7v7.1M544.3 329.8v8.5M546.1 330.9v7.7M547.2 329.5v9.3M548.3 330.3v8.1M550.3 330.6v8.3M552.4 330.6v9.2M553.7 332v7.7M555.4 332.8v8M557.8 333.1v6.6M558.8 330.1v9.2M560.5 330.4v8.8M562.2 331.7v7.4M564.1 332.7v6.6M565.7 335.3v6.7M567.1 331.2v8M568.3 333.9v6.8M571.2 332.3v8.3M573 334.4v6.9M573.6 332v7.2M576.5 332.7v6.8M577.6 333.3v8.3M579.2 333.1v7.4M580.4 332.2v7.2M582.3 331.9v9.6M584.4 334.1v8M586.2 334.6v7.3M586.8 331.3v8.9M589 333.7v6.9M590.7 331.1v8.1M593 330.8v9.5M595 330.9v8.2M595.4 332.1v7.8M597.7 331.6v7.1M599.6 330.8v9.4M600.4 331.3v9.3M602 330.8v9.5M604.4 329.4v8.1M606 330.2v8.2M606.8 329.2v8.9M608.7 331v6.5M610.4 331.1v6.8M612.2 329.2v8.5M614.9 331.3v6.4M615.6 328.7v7.2M618.5 329.3v7.1M619.4 327.7v8.1M621.9 329.4v7.1M621.3 325.1v8.7M623.7 325.7v7.6M625.4 325.5v9.5M627.5 323.5v9.1M629.8 325.5v7.4M631.1 325v8.5M631.2 323.4v7.7M634.2 325v6.5M636 322.5v8.8M637.2 321v9.5M639.6 323.3v6.4M640.4 320.9v6.8M642.1 319.5v8.6M642.5 318.9v8.3M645 318.6v9.1M647.7 321.6v6.5M648.9 318.4v8.1M649.6 316.4v8.4M651.5 318.3v7.3M654 318.4v6.8M655.5 316.7v7.7M656.5 316.2v8M657.1 311.9v9.4M660 313.4v7.2M661.4 312.2v7.7M661.3 311.2v8.2M663.4 308.3v9.5M663.5 307v9.6M667.3 309.1v8.2M667.7 305.8v8.2M665.3 310h7M670.2 305.3v7.9M672.4 305.4v8.6M674.2 304.2v7.6M672.2 308h6.8M677.5 301.8v7.6M678.5 302.3v7.4M678.5 298.8v8.3M676.9 303.3h6.9M681.7 297.1v8.1M680.7 300.6h6.7M685.4 294.7v8.9M684.9 293.4v6.9M686.6 292.1v7.3M686.4 290.1v8.5M685.2 292.4h6.7M689.6 287.5v8.6M686.1 290.2h8.8M692.4 284.1v9.1M689.1 288.5h6.7M695 284.2v6.4M693.3 287h7.6M692.8 284h7.3M692.7 282.5h8.2M695.6 281.3h8.5M696.9 279.9h7M701.7 276.3v7.4M703.3 273.1v8.4M697 275.1h8.2M701.1 274.3h6.9M704.1 268.9v6.8M700.2 271.4h8.2M704.2 270.2h6.5M703.9 269.1h7M702.6 266.2h8M705.6 265.3h7.2M707 264.6h7.5M707.5 262.3h6.4M707.5 261h6.7M708.1 260.4h9M707.6 257.2h7.6M708.2 255.4h8.2M708.4 254.2h8.1M711 252.7h7M709.6 251.4h7.9M712.9 250.5h8.3M712.3 248.8h9.2M713 246.3h7.7M714.8 246.1h7M713.4 242h7.1M715.4 240.9h6.5M715.5 240.2h7.8M715.5 239.1h7.4M715.4 236.2h8.3M715 234.9h8.1M717.1 233.4h7.5M719 231.4h6.6M716.8 230.7h9.2M715.5 228.2h8.8M720.7 226.8h7M717.3 224.4h9.1M718.5 223h8M719.3 222.3h6.5M720.4 221h6.9M719.6 218.2h9.2M719.8 216.2h9.6M721.7 215.5h7.1M721.1 213.1h6.9M721.3 211.4h8.1M722.4 210.8h6.7M719.7 208h9.5M720.1 207h9.3M721.6 204.6h9.4M721.4 203h9.3M722.3 201.9h8.2M720 200.5h9.5M722.1 198.2h8.2M721 197h8.3M722.8 195.1h8.1M724.2 193.6h7.4M723.7 191h7.1M725.3 190.6h6.8M724.9 188.7h7.1" stroke="#ffff00" stroke-width="1.0" fill="none"/>
<path d="M740 186.1h9.5M741.3 184.7h7.8M741.1 183.9h9.2M739.6 182.7h10.7M741.2 180.9h8.7M739.3 178.4h9.6M740.4 178.2h8.6M740 176.8h8.2M741.1 174.3h8.9M739.9 172.6h10.5M739.1 171h8.9M738.4 169.9h7.3M738.1 168.6h9.2M737.2 166.6h10.3M740.1 165.1h7.6M737.1 164.6h8.9M737.9 163.1h7.8M739.7 161.2h10.5M738.2 159.9h7.8M737.5 157.9h9.2M735.8 156.9h10.3M735.7 155.7h10.6M735.9 152.6h10.2M738 152.2h8M736.2 150.1h9M734.7 148.7h9.4M733.9 148.7h7.3M734.6 146.3h7.5M733 144.1h8.5M734.5 143.7h7.4M734.5 141.2h7.7M733.2 139.8h9.2M731.3 138.3h8.5M731.6 137.1h10.1M733.7 134.8h9.9M730.2 134.6h9.1M729.7 133.2h7.9M731.9 130.5h9.5M730.8 129.7h8.3M728.6 129.5h8.1M730.6 125.6h9.8M728 124.7h9.9M728.7 123.7h7.7M726.9 123.8h8M726.9 121.7h10.5M726.3 120.1h7.8M726 118.8h7.3M726.5 117h9M726.2 115.4h9.8M723.1 113.5h10.7M722.9 111.9h10.7M723.7 111.3h9.4M721.3 111.5h7.3M721.5 109.2h8.9M721.3 106.7h7.8M721.4 105.3h10.2M720 104.3h9.6M718.5 103.8h7.5M717.8 102h8M716.5 100.3h9.8M714.4 99.4h10.3M714.6 99.2h7.8M715.4 96.3h9.6M715.1 94.7h7.4M712.2 93.7h9.6M712.5 92h10.4M710.7 92h8.2M716.1 84.2v10.8M709.9 88.6h8.8M709.7 86.4h8.1M706.9 85.8h10.1M705.3 85.2h10.8M706 83.3h10.4M704.9 83h8.9M704.7 82h8.3M702.8 79.3h9.1M705.5 73.8v10.6M699.3 78.3h9.6M703.1 73.5v8.1M699.5 76.5h7.9M702.5 70.1v7.8M701 68.5v8.8M694.7 73.9h7.8M696 70.5h8.1M697.5 66.2v9.9M692.2 70.4h8.6M695.3 64.3v7.2M690.6 65.9h9.8M694.6 61.3v8.8M692.7 59.6v9.4M691.8 58.7v10.3M686.5 62.6h9.2M688.2 58.4v8.9M688.3 56.4v8.5M687.9 52.5v10.3M687 52.9v10.3M685.9 51.5v10.6M683.4 52.8v9M678.7 54.8h7.8M676.9 53.3h9.5M680.2 49.5v8.4M679.4 46.1v10M677.1 46.1v10.3M671.8 51.4h8.8M674.4 46v9.5M672.4 44.3v10.7M671.5 44.9v9.3M671.7 40.7v10.6M669 44.5v8.1M669.1 39.6v9.6M668.1 38.6v10.2M665.2 38.8v10M664 39.6v7.4M663.7 36v10.5M661.8 37v9M659.9 37.9v8.5M659.2 34.6v10.8M656.8 35.7v8.6M657.5 34v9M655.2 34.3v8.8M652.6 35.4v7.5M651.5 32.9v9.8M650.7 31.9v8.8M649.7 31.8v9M648.8 29.1v9.7M646.8 31.1v8.2M645.4 30.3v7.3M644.4 29.5v8.2M641.3 30.2v7.5M640.6 27.8v10.2M640.8 25.6v9.2M637.4 28.4v7.7M636.2 28.9v7.2M635.2 24.6v8M633.8 27.6v8M632.7 21.6v10.5M630 26v7.9M630.5 23v8.3M627.5 25.2v8.5M627.6 20.1v10.1M625.4 22.3v8.6M623.3 22v7.4M621.3 22.4v8M620.8 22v9.9M619.2 20.4v8.5M616.7 22.3v7.4M616.1 19.7v10.6M614.5 18.6v9.3M612.2 21.8v8.2M612.4 18.4v9.8M609.6 17.5v9.9M609.1 20.6v7.6M607 20.9v7.8M605.9 19.4v9.1M604.3 18v8.9M603 16.7v10.4M601.4 19.5v8.7M599.7 17v7.9M597.2 18.2v8.5M596.4 19.2v7.5M594.9 16.8v7.8M592.9 14.1v9.8M591.5 17.1v10M589.7 15.9v9.5M588.9 17.4v7.4M587.2 16.7v9.2M585.1 16.4v8.7M584.3 15.2v8.5M582.7 17.4v7.5M581.9 12.7v10.6M579.2 14.1v9.6M578.3 14.4v9M577.1 16.6v8.6M575.8 15.2v9.9M574 16.5v8.4M571.3 13.9v9.3M570.5 14.6v10M569.4 13.6v10.8M567.4 13.7v10.3M565.4 16.4v8.7M564.1 16.8v8.7M563.1 16.5v9M561.2 14.7v10.6M559.3 15.2v10.1M558.6 18.4v8.3M557.5 15.6v10M555.5 18v9.7M554.1 16.1v10.1M552.8 18.4v8.8M551 17.6v9.7M549.7 18.8v9.4M547.6 18.8v9.6M546.9 20.5v8.2M545.2 17.6v10.5M543.5 18.3v9.9M541.6 18.7v9.6M540.8 18v9.2M538.8 20.4v7.8M537.9 20.8v9.6M536 18.2v10.3M534.6 22.9v8.3M533.1 19.5v10.3M530.4 19.8v10M530.4 23.8v8.6M527.2 20.2v10.3M527.7 24.8v7.7M525.7 21.5v10.5M524.2 23.6v8.9M523.2 24.2v9.7M520.9 23.3v8.6M520 23.6v10M517.1 24v9.2M516.7 25.3v8.6M514.6 27v8.6M514.1 26.9v9.4M514 30.7v7.3M511.3 28.1v10.6M510.1 30v7.6M508 29.7v7.6M506.4 30.4v8.2M505.6 29.9v8.1M503.8 32.1v8.5M503.4 31.6v10.5M500.9 33.6v8.4M500.3 33v9.4M497.7 34.3v8.9M497.2 35.7v8.9M495 34v10.5M495.3 37.9v7.2M494.5 38.1v8.7M492.7 39.3v8.9M490.9 38.4v9.4M488.8 39.4v10.5M487.2 38.1v9.4M486 40.1v10.5M484.7 41.2v8.1M482.9 41.8v8.7M482 42.3v9.3M480.2 43.2v9.3M480.9 46.5v8.8M479.5 46.9v9.2M476.2 44.4v10.4M475.3 46v9.6M475.1 48.4v9M474.5 49.8v9.6M474.2 52.2v7.7M470.6 52.1v8.3M470.3 52.8v9.2M470.9 55.6v7.4M468 55v8.2M467.8 56.3v9.5M462.1 60.9h8.4M460.3 62.3h8.2M462.9 57.1v8.9M456.3 62.7h9.6M457.8 65.9h9.4M459.6 61.8v8.9M459 61.7v10.5M453.2 68.9h9.4M455.4 63v10.7M451.2 70h9.1M454.6 68.4v7.9M450 74.2h8.9M452 68.5v10.7M453.4 72.7v7.3M450.7 71.3v8.9M449.8 73.5v9M443.2 77.9h9.5M447.6 75.6v7.8M446.3 76.6v9.3M438.1 81.3h10.7M438.4 83.2h10.8M445.1 82v7.5M438.2 85.6h7.7M439.3 87.5h7.9M437.1 88.6h8.4M435.2 89.4h10.5M439.2 87.6v7.2M434.5 92.1h9.8M434.1 93.1h7.5M437.8 91.1v7.8M431.9 95.9h8.6M429.9 96.9h10.3M429 99h9.7M430 100.4h7.3M429.2 101.3h8.1M427.6 102.7h9.9M427.5 104.7h8.2M426.6 106.3h9.1M425.5 105.9h8.1M421.6 107.3h10.3M422.3 109.3h9.1M420.7 110.6h10M422.3 112.8h9.2M421.1 112.8h9.6M421 115.2h10M421.1 116h7.6M420.5 117.3h7.6M418.4 118h9.3M418.4 119.8h8M420.7 121.9h7.2M415 122.1h10.8M416.9 124.5h10.5M418.1 126.1h7.6M414.8 128h9.4M413.2 128.9h9.7M414.5 130.4h9.1M414.7 131.8h9.6M414.5 133.4h8.8M410.6 133.9h10M411.4 136.1h9.9M412.5 137.3h10M412.1 140.1h9.3M411.6 141.5h9.7M409.6 141.8h9.8M410 144h8.7M409.1 144.9h9M411.1 146.8h8.9M409.3 148.2h7.8M408.8 148.9h8.3M408.8 152h10.3M408.7 152h10.1M408.6 154.7h10.5M407 156h8.8M410.1 157.2h7.4M410 159h7.8M406.9 160.2h9.9M406.5 162.1h8M408.4 163.2h7.9M406.3 165.1h9.8M407 166.3h9.4M403.2 167.9h10.7M408.1 169.2h8.3M405.1 170.8h8.7M405.2 172.9h9.3M407.8 174.4h7.7M407.7 175h7.8M406.9 177.1h7.6M406.5 178.7h9.5M405 180.2h10.6M404.4 181.5h9.9M406 182.9h7.7M404.8 184.6h8.5M404.7 186h8.4M403.9 187.8h10.5M406.8 189.7h7.6M403 190.9h10.1M402.5 191.6h10.8M404.2 193.3h9.7M407.4 195.5h8.8M405.7 196.8h10.6M404.5 198.2h10M403.8 199.4h10.7M404.7 201.5h10.6M403.4 203.6h10.2M406.4 203.9h9.4M406.3 206.2h10.4M405.9 207.9h8.8M403.9 209.4h10M409.3 210.7h7.4M405.1 211.6h10.4M407.8 213.9h8.9M406.7 214.6h10.6M407.6 217.1h9M410.2 217h7.9M407.4 218.9h7.9M407 221h10.8M409.2 222.5h10M410.1 223h8.1M407.6 226.2h9.5M407.7 227.4h10.5M411.4 228.6h9.1M407.2 230.7h10.3M409.2 232h10.2M407.8 233.9h10.7M413.8 234.2h8M409.2 235.9h9.8M411.4 237h9.3M414.8 237.8h8M413.4 240.1h8.5M416.8 241.6h7.3M414.5 243.5h9.9M414.4 244.7h8.1M415.5 246.7h8.9M413.6 248.2h9.4M418.2 248h7.4M416.6 250.3h7.5M415.7 252.3h10.8M416.4 254.1h10.3M419 255h8.3M420.4 255.6h7.6M416.9 257.8h10.2M419.8 258.6h9.5M419.2 261.5h9M423.4 261.3h8M422 263.6h8.6M422.5 264.7h9.4M422.6 266.4h7.6M424.9 266.7h7.7M424.2 269.3h9.7M422.2 270.7h10.1M422.8 272.2h10.8M426 272.2h9.9M427.1 274.9h9.6M426.2 276h9.3M427 278h10.4M429.1 277.8h9M429.2 280.5h8.9M431.4 279.9h8.9M432 282.7h8M432.8 283h10.6M432.8 285h10.1M434.6 285.9h8.9M435.7 287.8h9.2M434.4 288.8h10.3M438.6 289.5h9.7M438.1 290.6h9.1M439.4 292.7h8.2M443.2 288.8v10.2M444.7 290.8v8.6M445.9 290.8v9.4M448.6 291.3v8.2M449.1 293.3v10M448.9 296v9.9M446.1 299.9h9.4M453.1 297.2v7.7M453.2 298.1v9.1M453.5 299.2v9.7M454.3 299.8v10.2M455.4 301.5v9.2M457.7 301.6v7.9M457.6 303.7v9.9M454.9 308.3h10.4M455.8 309.6h9.8M457 310.8h9.4M462.8 308.2v10.5M458.6 313.5h8.9M464.8 309.9v8.2M461.3 315.1h9.9M468.3 311.2v8.1M469.7 312.3v7.5M470.5 313.2v10.5M472.1 314.1v7.6M472 315.5v8.7M472.9 318.2v9.4M474.1 317v10.5M474.8 319.2v9.1M477.1 320.1v7.4M478.6 319.7v7.9M479.3 321v10.7M481.4 321v10.5M481.8 323v10.3M478.1 329.4h8.5M484.5 324.4v9.8M485.8 325.9v7.9M488.7 325.4v8.9M488.2 328.2v10.4M489.9 328.2v8M491.4 330.9v7.5M492.6 329.2v7.9M494.5 330.4v7.9M494.3 332.3v9.6M496.5 330.8v10.5M497.5 332.7v9.7M500.8 332v8.8M500.5 334.9v8M502.1 334.9v9.1M504.6 334.6v8.4M506.2 334.4v8.8M506.6 335.6v10.7M507.7 337.1v8.4M509.5 338.5v9.5M511.8 336.7v9.4M512.5 339v7.8M513.8 337.5v8.5M514.7 340.2v10.1M516.2 340.7v10.1M518.3 339.7v9.5M519.5 341.8v10.2M522 341.4v8.2M523.3 342v8.3M523.4 343.2v7.7M525.5 341.8v8M528.1 342.1v8.7M528.2 342v9.8M530.2 344v10.8M530.8 346v10.7M533 345.3v10M533.6 345.8v7.9M535.9 345.7v8.8M536.5 347.2v8.7M537.8 347.6v9.9M540.1 345.7v8.4M541.4 348.3v9.7M543 345.3v8.9M545.2 347.3v8M547.3 347.3v7.5M547.2 348.5v9.6M550.2 347.3v8.9M551.3 349.2v9.3M551.9 348.1v10M553 350.5v7.2M554.8 348.1v8.2M557.4 348.1v7.3M558.9 350.8v10.5M560.9 348.2v7.6M561.7 349.2v7.3M562.7 350v9.7M563.8 349.5v9.6M565.4 348.8v8.3M567 349.3v10.4M569.6 348.9v10.3M571 349.5v10M571.5 349.5v9.7M573 349.3v8.5M575.8 350.7v10.5M576.6 350.6v8.4M578.7 349v8.8M580.2 350.1v7.2M581.7 351.8v7.5M582.8 350.1v8.6M583.7 350.2v8.5M585.8 350.3v9.5M588.1 351.3v7.9M588.6 348.4v10M590 348.9v7.4M592.3 349.2v7.7M594 349.5v9.2M595 350v9.7M595.8 347.6v7.8M598 349.6v9.4M599.8 349.8v10.2M601.8 347.9v10.3M602.6 347.9v9.2M603.2 346.8v7.5M605.2 349.8v7.5M607.3 347.2v8.7M609.1 348.4v9.6M610.9 346.9v10M612 348.1v10.7M613.4 348.5v10.3M614.3 347.5v9.8M617.1 347.6v9.4M617.4 344.3v8.2M619 345.9v7.5M621.1 344.2v9.3M622.7 346.5v9.3M624.2 343.3v10.7M624.9 343.7v8.8M627 343.9v7.6M627.4 341.9v7.9M629.9 344v8.9M630.4 343.3v7.6M631.2 341v7.5M633.1 341.2v8.8M635.3 340v9.1M636.5 339.6v8M639.1 341.6v8.5M640.7 340.3v8.7M640.7 339v7.5M642.1 339.2v7.5M644.1 338.8v10.1M644.8 336.9v8.5M647.7 336.6v10.7M648.3 335v9.8M648.7 335.6v7.7M651.8 335.5v8.4M652 332.8v10.7M653.5 333v7.4M655.1 332.8v9.7M656.9 332.5v9.9M659.3 332.3v10.7M658.9 330v10.2M660.1 329.6v9.5M662.1 329.7v9M664.1 329.8v9.4M665.7 328.2v8.8M665.9 325.8v9.5M667.4 326v10.7M668.1 324.8v7.3M669.3 323.4v9.8M671.9 325.3v9.1M672.8 322v8.4M674.4 321.2v10.7M674.2 320.8v8.8M677.9 320.5v10.1M672.8 323.3h10.5M679.3 319.7v8.8M680.7 318.7v9.9M681.8 317v10.3M682 314.4v10M682.9 313.6v9M680.7 318.3h7.8M681.9 317.6h10.2M686.4 312.1v7.8M688.3 309.2v10M689.9 310.9v7.4M691 309.2v7.6M693.4 308.6v8.8M690.2 311.1h8M690.6 309.5h8.3M689.1 308.5h10.6M696.8 304.5v7.6M695.6 301.6v8.2M698.9 301.5v7.2M700.4 299.9v8.5M701.6 299.9v8.1M703 298.9v8.5M698.8 301.2h9.6M701 300.3h8.2M705.9 294.3v8.8M702.8 298.8h10.7M703 297.8h9.7M704.5 295.2h8.3M708.2 287.8v9.1M709 286.7v9M706 291.1h7.9M706.2 290.2h8.8M714.1 285.6v10M714.3 282.7v10.8M715.4 281.9v8.8M710.6 284.2h7.3M712.1 283.4h9M713.1 283.2h9.4M716.5 276.5v9.8M715.2 280.8h7.9M715.4 278.6h9M717.1 279h9.8M717.4 277.9h10.2M717.5 275h8.3M717.2 272.5h7.4M718.8 271.7h8.9M719.2 269.8h7.3M721.4 270.7h9.3M720.3 267.8h8M723.5 267.1h9.2M723.2 264.9h8.4M722.6 264.6h10.3M725.3 262.8h7.9M725.9 261.5h7.6M725.5 259.6h8.1M725.5 257.8h8.6M727.4 257.7h10.5M727.9 256.8h10.1M728.8 254.5h7.5M727.8 252.3h9.5M726.7 251.5h10.6M728.8 250.7h10.6M730.5 248.2h8.1M730.7 247.1h9.4M729.3 245.7h9.4M732.3 244.5h8.6M731.6 243.2h9.6M733.5 241.4h7.8M732 239.3h10.3M732 238h8.6M733.6 236.8h9.6M732.4 235.2h8.6M734 233.2h10.7M733 231.6h9.5M735.9 231.4h7.5M735.6 228.4h7.5M737 228.7h10.7M734.6 225.1h8.6M736.9 224.4h9.3M737.3 224.2h10.2M735.8 221.7h10M736.6 219.7h9.6M738.8 218.7h7.3M736.3 216.3h9.4M737.3 216.2h8.6M738.7 214.8h7.9M739.2 212.8h9.3M737.7 210.3h9.4M737.9 210.2h9.9M739.2 208.8h10M738.6 206h9.7M739.3 205.4h8.1M739 203h8.2M737.7 202.3h8.2M739.9 199.9h8.1M740.9 198.6h8.7M740.6 196.8h8.8M738.2 195.7h10.6M738.4 194.8h9.3M738.8 192.5h9.9M738.6 191h9.1M739.3 190.1h9.6M739.2 188.2h10.1M755.9 186.8h7M757.9 185.7h5.3M756.8 184.4h7M756.6 183.9h7M757.4 182.5h6.4M757.9 181.1h5.1M757.4 180.4h5.9M756.9 179.6h7M756.9 178.6h6.2M755.4 177.4h7.1M758.1 176.3h5.4M758.4 175.4h5.2M756.7 173.6h5.8M757.3 172.5h5.2M757.2 172h5.3M757.7 170.6h5.4M756.2 169.2h5.5M755.4 169h6.5M756 167.5h6.3M756.6 166.6h6.1M756.3 164.9h5.8M755.4 164.6h6.2M756.4 163.1h5.2M755.3 162.5h6.2M756.1 161.3h5.7M754.9 159.9h6M755 158.3h6.2M755.1 158.1h6.4M754.9 157.2h5.9M755.3 155.6h4.8M756 154.9h5.2M753.1 153.2h6.8M754.5 152.1h5.5M754.1 151.3h6.2M753.7 150.7h5.5M752.1 149.7h6.9M753.3 147.8h5.2M752.8 146.8h5.5M753.4 145.8h5.9M752.8 144.7h5.2M752.6 144.2h6.1M751.8 143h5.6M752.8 141.7h5.4M749.5 140.6h7M750.9 139.2h6.6M751.1 139.1h5.2M751.4 137.7h5.5M749.6 136.5h6.8M749 135.5h6.5M749.8 134.1h5.1M749 133.3h6.6M749.5 132.5h6.3M748.1 131.7h7.1M747.2 131h6.9M749.4 128.7h4.8M747.3 128.4h6.1M747.5 127.1h6.5M746.9 126.4h5.8M745.5 125.7h7M746.6 124.4h6.4M746.5 122.6h6M744.9 122.1h6.2M746 120.8h5.6M746 120.2h5M744.6 118.4h5.6M744.3 117.9h6.1M743.4 116.7h6.2M743.2 115.6h5.6M742.4 115.5h6.5M741 114.6h7.1M740.6 113.2h6.9M741.5 112.4h6.1M741.2 110.5h5M740 109.8h7.1M739.7 108.8h6.7M740.3 107.6h5.7M738.7 106.6h6.6M739 106.2h6.3M738.4 105.3h6M738.9 103.4h5M737.2 103.1h5.3M735.9 101.6h7.1M734.8 101.3h6.6M734.8 100.1h6.2M736.4 98.5h4.9M735.1 97.9h5.4M733.2 98.2h6.9M733.6 96.7h6.9M732.6 95.2h6.6M733.8 94.3h5.1M732.2 93.2h6.3M732 92.5h5.5M730.7 91.2h6M729.8 90.8h6.9M728.7 90.1h6.8M729.6 89.2h5.3M728.6 87.3h6.1M728.1 86.9h5.7M726 86.6h6.7M725.4 85.3h6.9M727.2 83.3h5M723.9 83.7h6.9M725.4 82.3h5.3M723.6 81.9h7M724 80.4h5.9M724.2 79.2h5.1M723.8 78.8h5.3M724.6 76.1v5.1M721.1 76.5h6.2M719.4 76.8h6.6M719.4 75.5h6.6M717.6 74.7h7.2M717.8 73.9h6.8M718 72.2h5.7M716.6 72.7h7M716.6 71.4h5.7M718.3 66.6v7.2M715.7 68.6h5.1M715 68.4h5.5M716.4 64.9v6.2M716.4 64.4v5M715 63.6v6.3M710.3 65.4h6.9M711.9 64.3h5.3M713 59.9v6.6M712.9 59.3v5M708.6 61.9h7M711.3 57.9v5.9M710.6 56.9v5.3M709.8 56v5.9M705.3 58.7h5.5M707.9 54.2v6.6M707 53.8v7.2M703.2 56.7h6.8M705.7 51.8v6.4M704.3 52.5v6.4M701.9 53.6h5.5M700.6 54.1h5.6M700 52.4h6.1M698.9 51.9h6.5M700.8 47.7v6M697.4 50.9h5.4M699.2 47.4v5.2M697.7 46.6v6.1M697.5 45.1v6.1M696.9 44.6v5.8M695.3 44.5v6.1M695.6 43v5.7M693.8 42.9v5.5M693.2 42.2v6.5M692.4 40.6v5.9M692.2 40.2v6M691.2 39.6v4.9M690 39v6.1M689.2 38.3v6.3M687.5 38.2v5.3M687.3 37.9v5.4M686.5 36.7v7.1M684.9 36.2v5.7M684.3 35.6v6.2M683.1 35.2v5.2M682.1 34v6.3M681.7 33.5v5.9M681.3 33.6v5.1M680.1 31.7v6.3M679 31.9v5.5M677.9 31.8v5.3M677.1 30.9v7.1M676.6 29.2v7.1M675.2 30.1v6.5M674.6 28.4v5.8M673.6 28.5v4.8M672.5 27.2v5.3M671.9 27.3v5.3M670.8 27v6.4M670.1 26.1v5.1M669.3 25.1v6.1M668 25.2v5.8M667.6 23.9v5M666 24.2v5.3M665 23.3v6.9M663.2 23.1v6.9M663 22.7v6.3M662.4 22.1v5.1M661.3 21.7v6.2M660.5 20.4v6.6M659.7 20.2v7.2M658.6 20v6.5M657.2 19.8v5.1M655.8 19.4v6.3M654.8 18.6v5.7M654.3 17.7v6.5M653.3 17v5.5M652.4 17v5.6M651.8 16.5v6.5M650.3 16v6.1M650.1 15.5v5.4M648 15.7v6.4M647.2 15.3v6.7M647 14.2v5.7M645.7 15v5.4M643.7 14.5v6.6M643.8 13.2v5.3M643 12.5v4.9M641.4 13.3v5.2M640.8 11.7v6.9M639.3 12v6M638.9 11.1v5.6M637.8 11.6v4.9M635.8 11.4v6.6M634.7 11.1v7M634.8 9.9v5.3M633 9.8v7.1M632 9.7v6.8M630.8 9.8v7M630.2 8.5v4.9M628.4 9.3v5.3M627.9 9.2v6.8M626.6 7.7v5.9M625.9 8.3v6.9M625 7.7v5.4M623.3 6.8v5.6M622.7 7.7v6.2M621.2 7.1v5.5M620.1 6.2v6.6M619.3 5.5v5.8M618.6 5.6v5.4M617.1 5.1v5.4M616.1 6v5.8M615.3 5.5v5.8M614.1 5.5v6.1M613.5 4.8v5.7M612.3 4.3v6.1M610.9 4.9v4.9M609.3 4.2v6.5M608.3 4.6v6.7M607.6 4.3v7M606.7 3.8v6.2M605.3 3.6v6.9M604.6 3.4v4.8M603.5 3.6v5.6M602.3 2.3v5.2M601.2 2.5v5.1M600.3 3.4v7.2M598.7 2.7v6.1M597.6 1.9v4.8M597.3 2.5v6.9M596.1 1.7v5.4M594.5 1.3v4.8M593.2 1.8v5.4M593 2.7v5.1M591.9 1.9v6.2M590.3 1.1v6.2M589.4 1.7v5.7M588.5 1.2v5M587 2v6.6M585.9 1.6v6.6M584.5 1.6v5.5M583.8 1.7v5.6M582.7 1.5v5.7M581.2 1.2v6.2M580.5 1.4v5.1M580.1 1.6v5.3M578.5 1.5v6.9M577.7 1v6.5M575.8 1.8v5.1M574.9 0.9v6.2M574.5 1.6v5M572.7 1.8v6.2M571.5 1.6v5.6M571 1v6.3M569.5 0.7v4.9M568.6 2.2v6.8M567.4 1.9v5.7M566 1.5v5.8M565.6 2v5.1M564.3 1.3v6.1M563.5 2.6v5.5M562 2.2v5.2M561.4 1.5v5.4M560 1.3v5.1M558.7 2.6v5.3M557.8 2.4v5.3M557.2 2.6v4.8M555.5 2.9v6.8M554.9 2.6v6M553 2.9v5M552 2.8v7M551 2.9v7.2M549.9 3.8v6M549.4 3.9v5.2M548 3.4v5.8M547.3 3.4v5.2M545.9 3.4v5.6M545.4 3.7v6.2M543.9 4.1v5.3M542.9 4.2v6.7M541.5 4.7v5.5M540.6 4.3v7.1M539.7 5.6v6.3M538.4 5.1v5.3M537.7 6.3v7.1M537.1 6.4v6.9M535.9 5.9v7.2M534.1 6.1v5.3M533.2 6.8v5.9M532.4 6v5.6M530.9 6.7v5M529.8 8v6.1M528.5 7v5.5M527.6 7.7v5.5M527.1 8.3v5.5M525.3 7.9v4.9M524.9 8.5v6M524.1 9.6v4.9M523.3 10v5.1M521.4 9.9v5.3M520.2 10.8v5M520 10.4v5M518.2 10v6.9M517.8 11v5.7M516.7 10.8v5.6M515 11.2v7.1M514.9 11.4v7M513.9 13.2v6.8M512 13.7v5.2M511.5 12.6v6.8M511 13.8v7.2M509 13.4v5.3M508.6 15v5.4M507.3 15.7v5.5M506.3 16v5.3M505 16.3v5.3M503.9 15.9v5.3M503.1 16v6.4M502.3 17.8v6.5M501.1 18.2v5.8M501.1 18.3v6.6M498.6 17.8v6.2M498.3 18.1v6.8M497.2 19.6v6M496.4 19.7v6.7M494.7 20.3v5.2M493.8 20.1v5M492.9 21.6v5.1M492.7 21.6v5.8M491.8 22.4v5.1M490.4 21.9v7.1M490.1 23.5v6.9M489.1 23.9v6.4M487.7 24.7v5.2M486.5 24.6v7.1M485.3 25.2v6M484.5 25.5v5.2M483.2 26v5.9M482.5 26.7v6.8M482.1 28.1v5.6M480.8 27.7v6.2M479.7 29.2v5.3M479.8 29.1v7M478.1 29v5.9M477.8 30.3v5.8M477.3 30.7v7.1M475.8 31.1v5.9M474.7 32.2v7.1M474.1 32.7v6.2M469.6 36.1h5.1M471.8 33.6v5.9M471.4 35.1v7.2M470.3 35.2v6.5M466.1 38.6h4.9M468.1 36.4v6.2M467.5 37v7.1M465.7 37.6v5.5M465.6 38.9v5.2M464.8 39.1v5.2M464.1 38.9v7.1M462.6 40.3v5.2M459.5 44.5h5.9M461.1 41.1v5.1M457.3 45.9h7.2M456.3 46.1h6.6M459.9 43.8v7M457.6 43.7v6.8M457.4 44.2v6.9M454 48.7h5.9M454.8 46.7v5M455.2 46.8v6.9M453.7 47.5v6.1M450.4 51.8h6.2M449.4 52.5h6.6M450.6 50.4v5M447 54.5h7M449.7 51.6v6.6M449.2 53.1v5.5M447.9 52.6v5.7M444.3 57.5h6.2M444.1 57.2h5.6M446.1 54.7v7.2M445.4 56.3v4.9M444.1 56.3v6.2M443.8 58.1v6.1M443.1 59.1v6.5M442.6 59.9v6.1M437.4 63.2h7.1M437.7 64.1h6.5M439.4 62v5M435.9 65.7h6.6M436 66.5h6.6M438 65v5.6M437.6 65.6v6.2M432.9 68.5h6M432.2 69.4h6M432 70.9h7.1M434.2 67.9v7M430.4 72.5h6.4M429.6 74h7.1M429.9 74.2h5.4M429 75.4h6.2M430.4 73.1v5.6M430 73.9v5.1M429.1 74.7v5.9M425.8 79h7M425.4 80h6.5M424.2 79.8h6.4M424.4 80.7h5M423.3 82.7h7.2M423 83.4h6.5M423.2 83.9h6.2M422.7 84.8h5.3M421 85.8h5.3M420 86.5h6.8M423.6 85.2v6.7M418.8 88h5.1M419.6 89.1h4.9M418.1 90.3h6M417 91.2h6.7M417.1 92.7h6.1M417 93.7h6.8M415.7 93.8h5.8M415.6 95.6h7.2M415.5 96.3h5M414.2 96.5h7.1M413.9 98.1h7M413.9 98.8h6M413.3 99.7h6.4M412.3 101.3h6.5M411.8 101h5.3M411.8 102.9h5.5M410.6 103.5h6.1M410.4 104.2h6.1M410.3 105.9h5.1M409.4 106.8h6M408.4 107h7M408.8 108.1h5.5M407.2 109.5h6.4M407 110.4h6.2M407 111.7h7.1M407.1 113h6.4M406.9 113.9h5.2M406.1 115h6.5M405.2 115.5h6.7M405 116.5h6.7M404.5 116.9h5.5M405 118.3h5M403.9 120.2h7M403.5 120.5h7M402.9 121.4h5M403.1 122.8h5.2M401.6 123.3h6.3M402.2 124.8h4.9M400.9 125.6h5.1M401.6 127h6.9M400.8 127.1h5.8M399.9 128.7h7.1M400.4 129.6h6.5M399.3 130.7h6.4M399.2 132.2h5.8M398.5 132.4h6.3M398.3 134.4h7.2M398.6 135.4h6.8M398.7 136.6h6.1M397.4 137.3h5.4M397.5 137.8h6.9M396.6 139.1h5.6M397.1 140.4h5.6M397.5 141h6.1M396.1 142h5.4M395.7 143.1h6.6M395.3 144.2h6.7M395.1 145.5h6.3M395 146.5h6.2M395.1 148.1h6.1M395.2 149.2h6.5M394.7 149.7h5.6M394.5 150.7h5.4M393.6 152.1h6.1M394.4 152.6h5.2M394.2 154h6M394.1 155.6h6.5M393.1 155.7h6M392.8 156.9h5.8M393.3 158h5.9M392.7 159h5.1M393.2 160.9h5.2M393.1 161.3h5.5M392.4 162.5h6.9M393 163.9h5.7M391.6 164.8h6.8M392.1 165.6h5.4M392.2 167.2h5M391.3 167.5h5.2M391.5 169h5.5M391.4 169.9h5.3M392.1 171.1h6.8M390.8 172.2h6.3M390.8 173.6h6.4M391.5 174.7h5.8M391.7 175.3h7.2M390.6 176.1h6.5M391.4 177.5h4.9M391.6 179.3h5.7M390.9 180.1h6.6M391.3 180.6h5.5M391.4 181.9h5.2M391.4 182.9h6.7M391 183.8h6.7M390.5 185.1h5.3M391 186.3h5.8M391.3 187.1h6.2M390.6 188.8h5.1M391.6 189.8h6.4M390.5 191.3h6.5M390.6 192.4h6.5M391.6 193.3h6.3M391 193.7h5.5M390.6 194.9h4.9M390.6 196.3h5.7M390.6 197.6h5.3M390.7 198.3h6.9M391.4 199.9h5.3M391.6 200.3h5.1M391.3 201.5h6.2M391.4 203.1h5.7M391 203.9h6.4M391.1 205.3h6.3M391.4 205.9h5.4M392.2 206.4h6.8M392.7 207.6h5.1M392.2 209.4h6.4M391.5 210.5h6.7M392.7 211.8h6M392.3 212.3h6.6M392.1 213.4h6.9M392.6 215h6.1M392.4 215.6h5.4M393 216.4h5.9M393.5 217.2h6.6M392.9 218.7h5.6M393.4 219.6h6.1M393.3 221.5h5.7M393.9 221.7h4.9M394.2 222.6h7.1M393.8 224.2h7.1M395.6 225.5h5.1M394.4 225.9h6.6M394.7 227.3h5.4M395.2 229h5.7M396.5 229.8h6M396.6 230.3h6.3M396.6 231.8h5.9M396.4 233.3h4.9M396.4 234h6.2M397.7 235h7M397.1 235.9h5.5M398.1 237.4h5.2M398.5 238.3h5.6M398.7 239.3h5.4M397.8 240.6h5.5M399.1 241.3h7.2M399.8 241.7h5M398.9 242.8h7.2M400.4 244.2h6M400.8 245h5.1M400 246.3h6.8M400.8 247.8h6.2M401.1 248.4h5.7M402 249.7h4.8M401.3 250.8h6.7M401.8 251.4h5.5M402.4 252.4h6.4M402.4 253.2h5.9M403.7 254.6h5M403.4 255.6h5.6M404 256.5h5.5M403.8 257.2h6.3M405.2 258h5.5M405.7 260h5.8M406.3 260.9h5M406 261.6h5M406.4 262.9h6.1M406.9 263.7h5M407.2 264.3h6.6M407.6 266.3h5.3M408.8 265.6h6.9M408.8 267.5h6.7M408.9 268.4h5.3M409.6 269.9h5M410.4 270h5.3M411 271.9h6.1M411.6 272h4.8M412.2 273.1h5.6M412.8 273.9h7M412.2 275h6.1M413.1 276.1h6.2M414.1 276.6h5.4M414.9 278.1h5.3M415.3 278.4h6.6M415.6 279.6h5.2M416.1 281.2h5.8M416.2 281.4h6.7M416.5 282.6h6.1M417.1 283.4h7.1M418 284.7h7M419.8 285.9h5.2M422.1 284.4v5.6M420.1 287.9h6.1M421 288.7h5.4M423.7 287.4v5M424.5 288.3v5M422.6 291h6.2M423.6 291.9h6.2M423.1 293.4h6.2M424.7 293.1h6.2M424.9 294.6h4.9M428.6 292.7v6.2M429.3 292.5v6.5M426.7 297.4h6.1M430.5 294.3v6.6M428.4 299.1h5.3M428.5 299.8h6.4M429.4 300.8h5.6M429.9 301.9h5.6M430.2 302.8h5.5M431.2 302.9h6.7M434.6 300.9v6.3M432.5 305.5h7.1M437.4 302.4v7M437.9 303.1v6.3M437.5 304.2v7M438.6 306.2v5.6M436 309.8h5M440.8 306.9v6.4M437.8 310.5h7M438.3 311.3h5.9M438.7 312.6h5.2M443.5 310.6v5.4M443.5 312.2v5.7M441.3 315.9h5.4M445.6 312.3v5.9M442.5 317.3h5M447 314.9v4.9M444.5 318.3h6.3M448.8 315.4v6.7M449 316v6.4M449.9 317.6v6.8M450.2 318v5.9M448.4 321.5h6.3M452 320.1v5.2M452.2 320.7v5.8M454.1 320v6.6M455.4 321.1v6.5M455.7 321.4v6.8M455.9 323.6v5.8M457.8 323.3v7M455.1 328.2h6M459.7 325v6.2M456.9 329.5h6.1M460.7 326.8v6.4M459.2 330.1h5.7M462.9 327.3v6.4M463.4 328.4v5.6M463.4 329.7v5.5M465.6 329.4v6.7M465.4 331v5.6M465.9 331.3v6.2M467.6 331.8v6M468.7 331.6v6.9M469.7 333.6v5.8M470.7 333.5v6.7M471.2 334.6v6.7M472.1 335.6v6.2M473.5 335.2v6.2M473.9 336.5v5.3M474.4 336.4v6.1M472.3 339.3h6.9M476.3 338.8v5M476.5 339.3v5.8M478.4 340.3v5.2M478.8 339.8v6.3M480.5 340.4v5.7M480.5 341.5v5.7M482.1 342.3v5.9M482.8 342.9v5M484.5 341.5v7.1M485.7 342.1v7.1M485.8 344v6.1M487 345.1v5.4M487.3 344.9v6M489.4 344v7.1M489 345.4v7.1M490.3 346.4v5.8M490.8 347.5v5.3M491.8 348.3v5.3M493.3 347.1v7.1M494.9 348.4v5.4M496.4 347.4v7.2M496.4 350.8v4.9M497 349.5v6.3M498.8 350.9v5.2M499.1 350.2v5.8M500.6 351.3v5.4M500.5 352.8v5.2M502 351.8v6.4M503.5 353.2v5.2M504.1 352.6v5.4M505.5 353.3v6.9M506.2 353.5v5.7M507.8 354.2v5.7M508.3 355.6v5.1M509.3 355v5.4M510 355.4v6.2M511.1 356v5.5M512.6 356.8v6.2M513.3 355.9v6.2M514.3 356.6v6.8M515.2 357.5v6.3M517.2 355.8v7.1M517.3 358.7v5.3M518.3 358.9v5.2M519.5 359.8v4.9M520.4 359.8v5.5M521.5 359.7v5.7M522.8 359.5v5.8M523.8 359.5v5.9M524.6 360.1v6.5M526 360.6v5.6M526.5 360v6.8M528.5 361.1v6M529 362.2v5M529.9 362.3v6M531.6 362.4v5.4M531.5 363.2v5.1M532.7 363.2v5.8M534.5 362.3v6.4M535.2 361.7v7.2M535.7 364.1v5.2M537.3 362.8v6.9M538.6 363.2v6.4M539.4 363.3v6.2M541.1 364.5v6.5M542.1 365.6v4.9M543.4 363.4v6.7M543.6 365v4.9M544.9 365v6.1M546.2 365.6v4.9M547.3 365.1v6.5M547.7 365.3v5.6M549 364.7v6.1M549.8 366.5v5.4M551.4 367.2v5.5M552.2 366.4v6.3M553.5 365v7M554.2 365.7v5.9M556.1 366.9v5.7M556.9 366.6v5.4M558.3 366.6v6.6M558.6 367.3v4.9M560.3 366.1v6.3M560.6 366.7v5.5M562.4 368.5v5.4M563 367.9v4.9M564.2 367.3v5.8M565.3 366.4v7.1M567 366v6.8M568 366.9v5.9M568.7 367.5v5.4M569.7 366.2v6.8M570.9 366.3v6.7M571.8 365.8v7.1M573.3 366.8v6.9M574 367.8v5.2M575.6 367.5v6.8M576.1 368.6v5.5M576.9 366.2v7.2M578.2 366.4v6.8M579.9 367v6.7M580.8 369v5.5M581.4 367.4v6.9M582.4 366.9v7.1M583.5 368.9v5.4M585.5 368v5M586.2 366.6v7M586.7 367.7v6.4M588.6 368v5.4M588.9 367.6v6.4M590.3 368.6v5.4M591 365.9v6.5M592.3 365.9v7.1M594 366.2v6.9M594.9 368.2v5.1M595.6 365.6v6.8M597.2 366.6v5.3M597.9 366.5v5.8M599.4 367.5v5.1M600.1 368v5M600.9 364.7v7.1M602.8 366.2v5.5M603.7 364.3v6.9M604.9 364.3v7.2M605.4 365.1v5.9M606.2 366.4v5.3M608 365.2v5.5M609 363.5v6.8M609.8 365.1v5M610.4 364.9v5.1M612.3 363.4v7.2M612.5 363.8v6.9M613.9 364v6.5M615.4 362.5v7.1M616.2 364.5v5.6M617.7 363.7v5.6M618.6 364.1v5.4M619.3 363.1v5.5M620.2 363.1v5.1M620.9 360.8v7M623 361.8v6.2M623.3 362.4v5.7M624.9 363.1v5M626.1 361.7v5.3M627.4 361.2v6.1M627 359.6v6.5M629.5 361.9v4.9M630.1 359.9v6.6M630.5 358.7v6.9M632.1 359.8v5M633.6 360.4v4.9M633.9 358.6v6.9M635.3 358.3v5.3M636.2 357.8v6M637.3 358.4v5.6M638.1 357.5v6M638.7 355.7v6.7M639.9 355.7v6.3M640.8 355.7v6M641.8 356.5v4.8M643.5 354.1v7.1M644.5 355.1v5.2M645.3 355.8v5M646.8 354.2v6.5M647.8 355.7v4.9M648.2 352.3v6.9M649.3 352.9v5.8M650.1 353.1v6.3M651.4 353.2v5.3M652.7 351.5v6.8M653.8 352.1v5M654.6 349.9v6.7M654.9 349.4v7.2M656.7 349.8v5.9M656.8 348.6v6.7M658.3 350.4v5.3M660.3 349.9v4.9M660.6 349.1v5.3M661.6 347.7v5.4M662.1 346.3v7.1M663.6 347.8v5.1M664.3 347.6v5M665.7 345.6v6.6M666.1 345.8v5.4M667.2 344.2v6.3M667.7 344v6.5M669.3 344.3v4.8M669.7 343.2v5.7M670.4 342.6v5.8M672 341.3v6M673.1 341.1v6.6M673.3 341.4v4.9M674.1 338.7v6.9M676.1 340.1v5.9M676.1 338.9v5.9M677 338.1v5.7M678.1 338.4v6.3M678.9 335.7v7.1M679.9 337.1v6.6M680.5 335.7v7.2M682.1 335.9v6.3M682.9 334.4v6.5M683 334.5v5.4M684.4 334.3v5.8M685.6 332.5v6.9M686.4 333.4v5.1M685.3 335.1h4.9M688.3 330.6v6.2M685.6 333.6h6.6M690.2 330.5v5.1M691.2 330.2v5.1M687.8 330.3h6.9M691.9 326.9v7.1M692.9 326.5v6.9M694.7 326v6.8M694.9 325.5v5.1M695.6 324.8v5.8M696.6 323.9v6M697.2 322.3v6.7M694.7 325.8h6M696.4 324.9h6M699.6 320.4v6.9M700.6 319.7v6.9M699 323.5h5.7M699.2 321.8h5.8M703 318.2v5.5M703.7 317.7v6.3M702.1 319.5h5.5M705.5 316.5v6.1M706.1 315.9v5.2M707.2 315.5v6M707.9 313.8v5.5M705.1 315.8h6.5M706.2 314.9h6.6M707.4 314.8h5.3M706.9 313.3h6.9M709 313h5.8M712 308.2v6.7M711.1 311.7h5.5M710.7 310.7h6.6M711.9 309.5h6.1M715.6 307.2v5M712.2 307.9h7.1M716.2 304.8v4.9M714.7 305.9h5.6M715.4 305.9h6.3M719.2 302.2v5.2M715.8 303.6h6.8M716.1 302.3h6.7M717.9 302.1h5.9M719.3 301.1h5.3M720.7 301.1h4.9M721.2 299.8h5M721.5 299.5h4.8M720.9 297.8h5.8M723.8 293.3v6.6M725.3 292.8v6.9M724.1 296.1h5M722 293.7h7.2M727.1 289.2v6.9M723.4 292.3h7M724.9 291.7h7.1M726.8 291.6h5.6M726.4 289.4h6.5M729.9 285.1v7.2M728.1 288.5h5.9M727.7 287.1h6.6M728.4 285.5h6.3M729.6 285.4h5.3M728.8 284h7M732 284.2h4.9M731.7 282.3h5.9M731.3 281.5h6.2M733.6 280.8h5.3M732.6 279.4h6.8M733.1 278h6M734.7 277.7h5M733.8 276.2h6.2M734.1 275.2h6.4M736 274.8h6.2M735.1 273.7h6.8M735.6 272.4h6.7M737.2 272.2h6.1M736 270.8h6.7M737.7 269.9h5.9M737.9 268.6h6.2M738.6 268.1h6.5M738.5 266.6h6.5M738.7 265.7h7M738.9 265h6.9M741.1 264.2h6.5M741 263.2h7M742.9 262.2h5.2M742.3 261.3h6M743 259.7h5.2M743.5 258.7h5.3M745.2 258.2h4.9M742.4 256.2h7M745.2 255.9h5.9M744 254.6h6.9M745.5 253.8h5.1M745 253.3h7M746.3 252.4h5.1M746.4 251.2h5.3M746.8 250.2h5.9M747.4 248.5h5.6M746.4 247.8h6.8M748.3 246.8h5.5M749.5 246.1h5.1M747.5 245.1h6.9M748.3 243.1h5.9M748.2 243h6.3M750.5 241.9h4.9M749.5 240.4h6.3M749.9 239.3h5.4M750.2 238.8h5.5M750.5 236.9h6.3M750.4 236.5h6.3M750.7 234.8h6.4M752.4 234.5h4.9M751.6 233.3h5.4M751.6 231.7h6.9M751.7 231.5h6.7M753.5 230.1h5.1M752.4 228.6h6.3M753 227.5h5.9M754.4 227.6h5.1M753.2 225.5h5.8M753.6 224.5h6.2M754.7 223.9h4.8M754.5 222.4h6.1M754 221.6h6.2M754.5 220.3h5.8M753.8 219.1h6.8M753.9 218.2h6.1M755.9 217.3h5.7M755.2 216.5h5.7M754.1 214.7h6.8M756 214.3h5.3M755.5 212.5h6.5M756.2 211.4h5.7M754.9 210.3h7M756.6 209.9h5.8M754.3 209h7.1M756.1 208.1h6.3M757 206.6h5.4M756 205.3h7M756.4 204.2h6.2M755.8 203.6h7.2M757.2 202.2h6.1M758.3 200.9h5.1M755.4 199.4h7.2M756.2 199.1h7.1M757.8 198.3h5.7M755.6 196.6h7M755.7 196h6.8M755.5 194.2h6.9M756.7 193.8h6.1M757.8 192h5.6M756.5 190.9h6.3M758.6 189.7h4.8M758.7 189.5h5.1M759.1 188.5h4.9" stroke="#ff0000" stroke-width="1.0" fill="none"/>
<path d="M180.9 9.1A178.6 178.6 0 0 1 330.9 77.5" fill="none" stroke="#000" stroke-width="0.9" stroke-dasharray="1.8 1.4" opacity="0.8"/>
<path d="M330.9 77.5A178.6 178.6 0 0 1 327.0 302.3" fill="none" stroke="#000" stroke-width="0.9" stroke-dasharray="1 9 2 14 1 6" opacity="0.6"/>
<path d="M11.7 181.3A178.6 178.6 0 0 1 80.2 46.8" fill="none" stroke="#000" stroke-width="0.9" stroke-dasharray="1.2 3.5 1 6" opacity="0.65"/>
<path d="M205.9 366.4A179.6 179.6 0 0 1 52.6 302.9" fill="none" stroke="#000" stroke-width="0.9" stroke-dasharray="1.3 2.4 2 4" opacity="0.75"/>
<path d="M589.6 8.6A179.3 179.3 0 0 1 743.3 120.3" fill="none" stroke="#000" stroke-width="0.9" stroke-dasharray="2 1.2" opacity="0.8"/>
<path d="M743.3 120.3A179.3 179.3 0 0 1 724.0 290.3" fill="none" stroke="#000" stroke-width="0.9" stroke-dasharray="1 9 2 14 1 6" opacity="0.6"/>
<path d="M400.5 218.6A179.3 179.3 0 0 1 421.8 97.9" fill="none" stroke="#000" stroke-width="0.9" stroke-dasharray="1.2 3.5 1 6" opacity="0.65"/>
<path d="M570.8 366.7A179.3 179.3 0 0 1 443.9 307.5" fill="none" stroke="#000" stroke-width="0.9" stroke-dasharray="1.3 2.4 2 4" opacity="0.7"/>
<rect x="570.1" y="17.1" width="8.0" height="5.5" fill="#ffb200"/>
<path d="M570.1 18.7h4.0M570.1 20.7h3.2" stroke="#ff0000" stroke-width=".8" opacity=".8"/>
<rect x="570.1" y="352.6" width="8.0" height="6.0" fill="#ffb200"/>
<path d="M570.1 354.2h4.0M570.1 356.2h3.2" stroke="#ff0000" stroke-width=".8" opacity=".8"/>
<rect x="407.1" y="187.6" width="7.0" height="8.0" fill="#ffb200"/>
<path d="M407.1 189.2h3.5M407.1 191.2h2.8" stroke="#ff0000" stroke-width=".8" opacity=".8"/>
<rect x="741.6" y="179.6" width="6.5" height="8.5" fill="#ffb200"/>
<path d="M741.6 181.2h3.2M741.6 183.2h2.6" stroke="#ff0000" stroke-width=".8" opacity=".8"/>
<path d="M165.8 187.9L191.6 187.9L191.6 193.2Z" fill="#b2ff00"/>
<path d="M190.5 193.0v19" stroke="#4a4a4a" stroke-width="1"/>
<path d="M155.8 188.2l3.5 3.3l-3.5 3.3M159.2 191.5h3.8" stroke="#6b4a10" stroke-width="1.2" fill="none"/>
<path d="M155.8 188.2l3.5 3.3l-3.5 3.3" stroke="#9be000" stroke-width="0.8" fill="none" opacity=".6" transform="translate(-0.8,0)"/>
<path d="M180.1 189.5l1.5 4.5l2-3.5l2 3.5l1.5-5" stroke="#0a78ff" stroke-width="1.1" fill="none" opacity=".85"/>
<path d="M180.0 212.0l6.6 6.4M186.6 212.0l-6.6 6.4" stroke="#3a3020" stroke-width="1.2" fill="none"/>
<path d="M180.0 212.0l6.6 6.4M186.6 212.0l-6.6 6.4" stroke="#ff9a00" stroke-width="0.8" fill="none" opacity=".5" transform="translate(0,0.9)"/>
<path d="M552.0 188.1L577.8 188.1L577.8 193.4Z" fill="#b2ff00"/>
<path d="M577.5 193.2v19" stroke="#4a4a4a" stroke-width="1"/>
<path d="M542.0 188.4l3.5 3.3l-3.5 3.3M545.4 191.7h3.8" stroke="#6b4a10" stroke-width="1.2" fill="none"/>
<path d="M542.0 188.4l3.5 3.3l-3.5 3.3" stroke="#9be000" stroke-width="0.8" fill="none" opacity=".6" transform="translate(-0.8,0)"/>
<path d="M566.3 189.7l1.5 4.5l2-3.5l2 3.5l1.5-5" stroke="#0a78ff" stroke-width="1.1" fill="none" opacity=".85"/>
<path d="M566.2 212.2l6.6 6.4M572.8 212.2l-6.6 6.4" stroke="#3a3020" stroke-width="1.2" fill="none"/>
<path d="M566.2 212.2l6.6 6.4M572.8 212.2l-6.6 6.4" stroke="#ff9a00" stroke-width="0.8" fill="none" opacity=".5" transform="translate(0,0.9)"/>
<rect x="140.5" y="388.2" width="516.8" height="11.6" fill="#8a8a8a"/>
<rect x="142.70" y="389.6" width="55.20" height="8.0" fill="#0000ff"/>
<rect x="197.90" y="389.6" width="57.40" height="8.0" fill="#00b2ff"/>
<rect x="255.30" y="389.6" width="57.40" height="8.0" fill="#00ffff"/>
<rect x="312.70" y="389.6" width="57.40" height="8.0" fill="#00ffb2"/>
<rect x="370.10" y="389.6" width="57.40" height="8.0" fill="#00ff00"/>
<rect x="427.50" y="389.6" width="57.40" height="8.0" fill="#b2ff00"/>
<rect x="484.90" y="389.6" width="57.40" height="8.0" fill="#ffff00"/>
<rect x="542.30" y="389.6" width="57.40" height="8.0" fill="#ffb200"/>
<rect x="599.70" y="389.6" width="55.80" height="8.0" fill="#ff0000"/>
<text x="141.3" y="408.3" class="m">-.100E+07</text>
<path d="M197.9 399.8v1.6" stroke="#666" stroke-width="1"/>
<text x="198.7" y="417.5" class="m">0</text>
<path d="M255.3 399.8v1.6" stroke="#666" stroke-width="1"/>
<text x="256.1" y="408.3" class="m">.100E+07</text>
<path d="M312.7 399.8v1.6" stroke="#666" stroke-width="1"/>
<text x="313.5" y="417.5" class="m">.200E+07</text>
<path d="M370.1 399.8v1.6" stroke="#666" stroke-width="1"/>
<text x="370.9" y="408.3" class="m">.300E+07</text>
<path d="M427.5 399.8v1.6" stroke="#666" stroke-width="1"/>
<text x="428.3" y="417.5" class="m">.400E+07</text>
<path d="M484.9 399.8v1.6" stroke="#666" stroke-width="1"/>
<text x="485.7" y="408.3" class="m">.500E+07</text>
<path d="M542.3 399.8v1.6" stroke="#666" stroke-width="1"/>
<text x="543.1" y="417.5" class="m">.600E+07</text>
<path d="M599.7 399.8v1.6" stroke="#666" stroke-width="1"/>
<text x="600.5" y="408.3" class="m">.700E+07</text>
<text transform="translate(14.2 387.8) scale(1.047 1)" class="t">20 kHz</text>
<text transform="translate(663.8 387.8) scale(1.047 1)" class="t">81 kHz</text>
</svg>
</body></html>
